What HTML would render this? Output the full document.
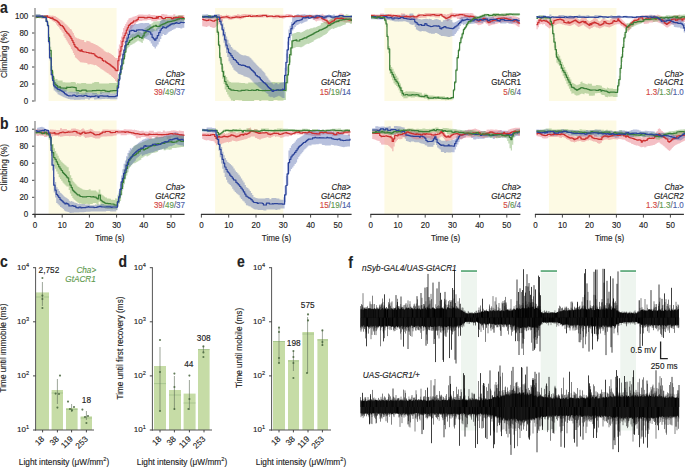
<!DOCTYPE html>
<html><head><meta charset="utf-8"><style>html,body{margin:0;padding:0;background:#fff;}svg{display:block;}text{font-family:"Liberation Sans",sans-serif;stroke-width:0.13px;}</style></head>
<body><svg width="685" height="467" viewBox="0 0 685 467">
<rect width="685" height="467" fill="#fff"/>
<rect x="48.6" y="8" width="68" height="93" fill="#fdfae4"/>
<rect x="48.6" y="120.5" width="68" height="94" fill="#fdfae4"/>
<rect x="215.1" y="8" width="68.2" height="93" fill="#fdfae4"/>
<rect x="215.1" y="120.5" width="68.2" height="94" fill="#fdfae4"/>
<rect x="384.4" y="8" width="68" height="93" fill="#fdfae4"/>
<rect x="384.4" y="120.5" width="68" height="94" fill="#fdfae4"/>
<rect x="548.9" y="8" width="67.5" height="93" fill="#fdfae4"/>
<rect x="548.9" y="120.5" width="67.5" height="94" fill="#fdfae4"/>
<path d="M35 15.9 L36 15.8 L37.1 15.8 L38.2 15.8 L39.2 15.8 L40.3 15.8 L41.3 15.8 L41.3 15.5 L42.4 15.5 L43.4 15.4 L44.5 15.4 L45.6 15.4 L46.6 15.4 L47.7 15.4 L48.7 15.3 L49.8 15.3 L49.8 15.6 L50.8 15.6 L50.8 15.8 L51.8 15.8 L51.8 15.5 L52.9 15.5 L52.9 15.8 L53.9 15.8 L53.9 16 L55 16 L55 16.3 L56 16.3 L56 17 L57.1 17 L57.1 17.7 L58.2 17.7 L58.2 18.5 L59.2 18.5 L59.2 19.2 L60.3 19.2 L60.3 19.9 L61.4 19.9 L61.4 20.6 L62.5 20.6 L62.5 21.6 L63.5 21.6 L63.5 22.6 L64.6 22.6 L64.6 23.7 L65.7 23.7 L65.7 24.6 L66.7 24.6 L66.7 25.6 L67.8 25.6 L67.8 26.7 L68.9 26.7 L68.9 27.8 L69.9 27.8 L69.9 29 L70.9 29 L70.9 29.6 L71.9 29.6 L71.9 31.4 L72.9 31.4 L72.9 33.1 L73.9 33.1 L73.9 35.6 L74.9 35.6 L74.9 37.3 L75.9 37.3 L75.9 37.8 L76.9 37.8 L76.9 38.3 L77.9 38.5 L78.9 38.5 L78.9 39 L79.9 39 L79.9 39.4 L81 39.4 L81 39.7 L82.1 39.7 L82.1 39.9 L83.1 39.9 L83.1 40.1 L84.2 40.1 L84.2 42 L85.3 42 L85.3 42.2 L86.3 42.2 L86.3 40.7 L87.4 40.7 L87.4 41 L88.5 41 L88.5 41.3 L89.6 41.3 L89.6 41.7 L90.6 41.7 L90.6 42.7 L91.7 42.7 L91.7 43.1 L92.8 43.1 L92.8 43.6 L93.8 43.6 L93.8 44 L94.9 44 L94.9 44.4 L96 44.4 L96 45.1 L97 45.1 L97 45.5 L98.1 45.5 L98.1 46.3 L99.2 46.3 L99.2 47 L100.3 47 L100.3 47.7 L101.3 47.7 L101.3 48.5 L102.4 48.5 L102.4 49.2 L103.5 49.2 L103.5 50.5 L104.5 50.5 L104.5 51.2 L105.6 51.2 L105.6 51.9 L106.7 51.9 L106.7 52.5 L107.7 52.5 L107.7 52.2 L108.8 52.2 L108.8 52.9 L109.9 52.9 L109.9 53.5 L110.9 53.5 L110.9 54.3 L112 54.3 L112 55 L113 55 L113 55.8 L114 55.8 L114 57.1 L115.1 57.1 L115.1 57.9 L116.1 57.9 L116.1 58.1 L117.9 58.1 L117.9 48.7 L118.9 48.7 L118.9 44.4 L120 44.4 L120 40.1 L121 40.1 L121 36.5 L122.1 36.5 L122.1 32.2 L123.1 32.2 L123.1 27.9 L124.2 27.9 L124.2 25.9 L125.2 25.9 L125.2 23.9 L126.3 23.9 L126.3 22.3 L127.3 22.3 L127.3 20.3 L128.4 20.3 L128.4 18.5 L129.4 18.5 L129.4 18.1 L130.4 18.1 L130.4 17.8 L131.5 17.8 L131.5 17.5 L132.5 17.5 L132.5 16.7 L133.6 16.7 L133.6 16.4 L134.8 16.4 L134.8 16.1 L136 16.1 L136 15.8 L137.2 15.8 L137.2 15.1 L138.3 15.1 L138.3 14.4 L139.3 14.4 L140.3 14.4 L141.3 14.4 L142.3 14.5 L143.3 14.5 L143.3 14.7 L144.3 14.7 L145.3 14.7 L146.3 14.8 L147.3 14.8 L148.3 14.8 L148.3 14.2 L149.3 14.2 L150.3 14.2 L150.3 15.1 L151.3 15.1 L152.3 15.1 L153.3 15.1 L154.3 15.1 L155.3 15.1 L155.3 15.4 L156.3 15.4 L157.3 15.4 L158.3 15.4 L159.3 15.4 L160.3 15.4 L161.3 15.4 L161.3 14 L162.3 14 L163.3 14 L164.3 14 L164.3 14.6 L165.3 14.6 L166.3 14.6 L167.3 14.6 L167.3 15.5 L168.3 15.5 L169.3 15.5 L170.3 15.5 L171.3 15.5 L172.3 15.5 L173.3 15.5 L173.3 14.3 L174.3 14.3 L175.3 14.3 L175.3 15.8 L176.3 15.8 L177.3 15.8 L178.3 15.8 L178.3 15.1 L179.3 15.1 L180.3 15.2 L181.3 15 L182.3 15.1 L183.3 15.1 L184.3 15.1 L184.3 20.1 L183.3 20.1 L182.3 20.1 L181.3 20.1 L180.3 20.1 L179.3 20.1 L179.3 20.6 L178.3 20.6 L177.3 20.6 L176.3 20.6 L175.3 20.7 L174.3 20.7 L173.3 20.7 L173.3 20.1 L172.3 20.1 L171.3 20.1 L170.3 20.1 L169.3 20.1 L168.3 20.1 L167.3 20.2 L167.3 20.4 L166.3 20.4 L165.3 20.4 L164.3 20.4 L163.3 20.4 L162.3 20.4 L162.3 20.2 L161.3 20.2 L160.3 20.2 L159.3 20.2 L158.3 20.2 L157.3 20.2 L157.3 21.2 L156.3 21.2 L155.3 21.3 L154.3 21.3 L153.3 21.3 L152.3 21.3 L151.3 21.3 L151.3 20 L150.3 20 L149.3 20 L148.3 20 L147.3 20 L147.3 20.5 L146.3 20.5 L145.3 20.6 L144.3 20.6 L143.3 20.6 L142.3 20.6 L142.3 20.9 L141.3 20.9 L140.3 20.9 L139.3 20.9 L138.3 21 L138.3 21.9 L137.2 21.9 L137.2 22.5 L136 22.5 L136 23.9 L134.8 23.9 L134.8 25.2 L133.6 25.2 L133.6 26.5 L132.5 26.5 L132.5 28.2 L131.5 28.2 L131.5 29.4 L130.4 29.4 L130.4 30.7 L129.4 30.7 L129.4 32 L128.4 32 L128.4 34.8 L127.3 34.8 L127.3 37.5 L126.3 37.5 L126.3 40.6 L125.2 40.6 L125.2 43.3 L124.2 43.3 L124.2 45.3 L123.1 45.3 L123.1 50.2 L122.1 50.2 L122.1 55.2 L121 55.2 L121 60.2 L120 60.2 L120 65.5 L118.9 65.5 L118.9 70.4 L117.9 70.4 L117.9 81.9 L116.1 81.9 L116.1 81 L115.1 81 L115.1 78.9 L114 78.9 L114 78 L113 78 L113 77.1 L112 77.1 L112 76.2 L110.9 76.2 L110.9 75.1 L109.9 75.1 L109.9 74.4 L108.8 74.4 L108.8 73.6 L107.7 73.6 L107.7 73 L106.7 73 L106.7 72.2 L105.6 72.2 L105.6 71.5 L104.5 71.5 L104.5 70.8 L103.5 70.8 L103.5 70 L102.4 70 L102.4 69.3 L101.3 69.3 L101.3 68.7 L100.3 68.7 L100.3 67.7 L99.2 67.7 L99.2 67 L98.1 67 L98.1 66.3 L97 66.3 L97 65.6 L96 65.6 L96 64.9 L94.9 64.9 L94.9 65.2 L93.8 65.2 L93.8 64.8 L92.8 64.8 L92.8 64.5 L91.7 64.5 L91.7 64.2 L90.6 64.2 L90.6 63.9 L89.6 63.9 L89.6 64.6 L88.5 64.6 L88.5 64.2 L87.4 64.2 L87.4 63 L86.3 63 L85.3 62.8 L84.2 62.7 L83.1 62.5 L82.1 62.4 L81 62.2 L79.9 62.2 L79.9 61.2 L78.9 61.2 L78.9 60.2 L77.9 60.2 L77.9 59.2 L76.9 59.2 L76.9 58.2 L75.9 58.2 L75.9 57.4 L74.9 57.4 L74.9 55.1 L73.9 55.1 L73.9 52.9 L72.9 52.9 L72.9 50.6 L71.9 50.6 L71.9 48.9 L70.9 48.9 L70.9 46.6 L69.9 46.6 L69.9 45.1 L68.9 45.1 L68.9 43.4 L67.8 43.4 L67.8 41.6 L66.7 41.6 L66.7 39.8 L65.7 39.8 L65.7 38 L64.6 38 L64.6 36.2 L63.5 36.2 L63.5 32.9 L62.5 32.9 L62.5 31.5 L61.4 31.5 L61.4 30 L60.3 30 L60.3 28.6 L59.2 28.6 L59.2 27.1 L58.2 27.1 L58.2 25.9 L57.1 25.9 L57.1 24.5 L56 24.5 L56 23 L55 23 L55 22.1 L53.9 22.1 L53.9 21.6 L52.9 21.6 L52.9 20.7 L51.8 20.7 L51.8 19.8 L50.8 19.8 L50.8 18.9 L49.8 18.9 L49.8 17.9 L48.7 17.9 L47.7 18 L47.7 18.6 L46.6 18.6 L45.6 18.6 L44.5 18.7 L43.4 18.7 L42.4 18.7 L41.3 18.7 L41.3 17.6 L40.3 17.6 L39.2 17.6 L38.2 17.6 L37.1 17.6 L36 17.7 L35 17.7Z" fill="rgba(228,95,110,0.4)"/>
<path d="M35 14.5 L36 14.5 L37 14.5 L38 14.5 L39 14.5 L40 14.5 L41 14.5 L41 16.2 L42 16.2 L43 16.2 L44 16.2 L44 15 L45 15 L46.2 15 L46.2 18.5 L47.5 18.5 L47.5 22 L48.5 22 L48.5 34.1 L49.5 34.1 L49.5 46.8 L51.2 46.8 L51.2 65.9 L52.5 65.9 L52.5 71.6 L53.7 71.6 L53.7 77.7 L55 77.7 L55 79.2 L56.2 79.2 L56.2 78.9 L57.5 78.9 L57.5 80.4 L58.5 80.5 L59.5 80.5 L60.5 80.6 L61.6 80.6 L62.6 80.6 L62.6 82.2 L63.6 82.3 L64.7 82.3 L65.7 82.4 L66.7 82.4 L67.7 82.4 L68.8 82.4 L69.8 82.5 L70.8 82.5 L70.8 81.9 L71.8 81.9 L72.9 81.9 L73.9 82 L74.9 82 L74.9 82.5 L76.2 82.5 L76.2 84.2 L77.2 84.2 L77.2 83.1 L78.2 83.1 L78.2 83.5 L79.2 83.5 L80.2 83.5 L81.2 83.5 L81.2 82.9 L82.2 82.9 L83.2 82.9 L84.2 82.9 L85.2 82.9 L86.2 82.9 L86.2 83.7 L87.2 83.7 L88.2 83.7 L89.2 83.7 L90.2 83.7 L91.2 83.7 L92.2 83.7 L92.2 82.7 L93.2 82.7 L94.2 82.7 L94.2 81.9 L95.2 81.9 L96.2 81.9 L97.1 81.9 L98.1 81.9 L99.1 81.9 L99.1 83.4 L100.1 83.4 L101.1 83.4 L102.1 83.4 L103.1 83.4 L104.1 83.4 L105.1 83.4 L106.1 83.4 L107.1 83.4 L108.1 83.4 L109.1 83.4 L109.1 82.9 L110.1 82.9 L111.1 83 L112.1 83 L113.1 83 L114.1 83 L115.1 83 L116.1 83 L116.1 82.8 L117.2 82.8 L117.2 78.3 L118.3 78.3 L118.3 74 L119.4 74 L119.4 69.5 L120.6 69.5 L120.6 65 L121.9 65 L121.9 59.7 L123.1 59.7 L123.1 54.5 L124.5 54.5 L124.5 46.9 L125.9 46.9 L125.9 39.7 L127.1 39.7 L127.1 38.3 L128.4 38.3 L128.4 37 L129.6 37 L129.6 35.7 L130.6 35.7 L130.6 34.7 L131.6 34.7 L131.6 34.1 L132.6 34.1 L132.6 33.5 L133.6 33.5 L133.6 34.2 L134.6 34.2 L134.6 33.5 L135.6 33.5 L135.6 32.8 L136.6 32.8 L136.6 32.2 L137.6 32.2 L137.6 30.6 L138.6 30.6 L138.6 31.4 L139.6 31.4 L139.6 32.1 L140.6 32.1 L140.6 32.8 L141.6 32.8 L141.6 33.2 L142.8 33.2 L142.8 30.9 L144.1 30.9 L144.1 28.6 L145.1 28.6 L145.1 27.7 L146.2 27.7 L146.2 26.9 L147.2 26.9 L147.2 26.1 L148.3 26.1 L148.3 25.7 L149.3 25.7 L149.3 24.8 L150.3 24.8 L150.3 24.2 L151.3 24.2 L151.3 23.5 L152.3 23.5 L152.3 22.8 L153.3 22.8 L153.3 21.6 L154.4 21.5 L155.4 21.4 L156.5 21.4 L157.5 21.3 L158.6 21.3 L159.6 21.3 L159.6 21 L160.6 21 L160.6 20.6 L161.6 20.6 L161.6 20.3 L162.6 20.3 L162.6 19.2 L163.9 19.2 L163.9 18.7 L165.3 18.9 L166.5 18.9 L166.5 18.3 L167.8 18.3 L167.8 17.8 L168.8 17.6 L169.8 17.5 L170.8 17.5 L170.8 18 L171.8 17.8 L172.8 17.8 L172.8 17.6 L173.8 17.6 L173.8 16.4 L174.8 16.4 L174.8 16.1 L175.8 16.1 L175.8 15.9 L177 15.7 L178.3 15.5 L179.5 15.5 L179.5 15 L180.7 15.2 L181.9 15.4 L183.1 15.4 L183.1 17.1 L184.3 17.3 L184.3 22.4 L184.3 21.7 L183.1 21.7 L181.9 21.7 L180.7 21.8 L179.5 21.8 L179.5 22.1 L178.3 22.1 L178.3 22.4 L177 22.4 L177 22.7 L175.8 22.7 L175.8 23.1 L174.8 23.1 L174.8 25.1 L173.8 25.1 L173.8 25.5 L172.8 25.5 L172.8 24.9 L171.8 24.9 L171.8 25.2 L170.8 25.2 L170.8 25.4 L169.8 25.4 L169.8 25.7 L168.8 25.7 L168.8 25.9 L167.8 25.9 L166.5 26 L166.5 26.7 L165.3 26.7 L165.3 27.4 L163.9 27.4 L163.9 28.1 L162.6 28.1 L162.6 27.8 L161.6 27.8 L161.6 28.2 L160.6 28.2 L160.6 28.6 L159.6 28.6 L159.6 29.1 L158.6 29.1 L157.5 29.2 L157.5 30.7 L156.5 30.7 L155.4 30.9 L154.4 31 L154.4 31.2 L153.3 31.2 L153.3 31.9 L152.3 31.9 L152.3 32.6 L151.3 32.6 L151.3 31.8 L150.3 31.8 L150.3 32.5 L149.3 32.5 L149.3 34.7 L148.3 34.7 L148.3 35.6 L147.2 35.6 L147.2 36.5 L146.2 36.5 L146.2 37.3 L145.1 37.3 L145.1 38.2 L144.1 38.2 L144.1 40.6 L142.8 40.6 L142.8 43 L141.6 43 L141.6 42.3 L140.6 42.3 L140.6 41.6 L139.6 41.6 L139.6 41.3 L138.6 41.3 L138.6 40.6 L137.6 40.6 L137.6 41.3 L136.6 41.3 L136.6 42 L135.6 42 L135.6 42.7 L134.6 42.7 L134.6 43.4 L133.6 43.4 L133.6 43.7 L132.6 43.7 L132.6 44.4 L131.6 44.4 L131.6 45 L130.6 45 L130.6 45.6 L129.6 45.6 L129.6 47 L128.4 47 L128.4 48.3 L127.1 48.3 L127.1 49.7 L125.9 49.7 L125.9 56.8 L124.5 56.8 L124.5 64 L123.1 64 L123.1 69.2 L121.9 69.2 L121.9 74.5 L120.6 74.5 L120.6 79.4 L119.4 79.4 L119.4 84.4 L118.3 84.4 L118.3 89 L117.2 89 L117.2 93.7 L116.1 93.7 L115.1 93.7 L114.1 93.7 L114.1 93.5 L113.1 93.5 L112.1 93.5 L111.1 93.3 L110.1 93.3 L109.1 93.3 L108.1 93.3 L107.1 93.3 L106.1 93.3 L105.1 93.1 L104.1 93.1 L103.1 93.1 L102.1 93.1 L102.1 94.1 L101.1 94.1 L100.1 94.1 L99.1 94.1 L98.1 94.1 L98.1 94.4 L97.1 94.4 L96.2 94.4 L95.2 94.4 L94.2 94.4 L93.2 94.4 L92.2 94.4 L92.2 92.9 L91.2 92.9 L90.2 92.9 L89.2 92.9 L89.2 93.3 L88.2 93.3 L87.2 93.3 L87.2 94.7 L86.2 94.7 L85.2 94.7 L84.2 94.7 L83.2 94.7 L82.2 94.7 L81.2 94.7 L81.2 93.9 L80.2 93.9 L79.2 93.9 L78.2 93.9 L78.2 94.6 L77.2 94.6 L77.2 95.1 L76.2 95.1 L76.2 92.7 L74.9 92.7 L73.9 92.7 L73.9 92.5 L72.9 92.5 L71.8 92.5 L70.8 92.5 L69.8 92.6 L68.8 92.6 L67.7 92.6 L67.7 91.3 L66.7 91.3 L65.7 91.3 L65.7 92 L64.7 92 L63.6 92 L63.6 91.3 L62.6 91.3 L61.6 91.3 L61.6 91.7 L60.5 91.7 L59.5 91.7 L58.5 91.7 L57.5 91.7 L57.5 90.2 L56.2 90.2 L56.2 88.6 L55 88.6 L55 88.4 L53.7 88.4 L53.7 82.2 L52.5 82.2 L52.5 75.4 L51.2 75.4 L51.2 54.6 L49.5 54.6 L49.5 40 L48.5 40 L48.5 27.1 L47.5 27.1 L47.5 22.4 L46.2 22.4 L46.2 17.7 L45 17.7 L45 18.2 L44 18.2 L43 18.2 L42 18.2 L41 18.2 L40 18.2 L39 18.2 L39 17.9 L38 17.9 L37 17.9 L37 18.6 L36 18.6 L35 18.6Z" fill="rgba(115,170,90,0.45)"/>
<path d="M35 14.2 L36 14.2 L37 14.2 L38 14.2 L39 14.2 L40 14.2 L40 15.3 L41 15.3 L42 15.3 L43 15.3 L44 15.3 L45 15.3 L46.2 15.3 L46.2 19.4 L47.5 19.4 L47.5 22.9 L48.5 22.9 L48.5 37.5 L49.5 37.5 L49.5 53.2 L51.2 53.2 L51.2 69.9 L52.5 69.9 L52.5 75.1 L53.7 75.1 L53.7 80.8 L55 80.8 L55 82 L56.2 82 L56.2 83.2 L57.5 83.2 L57.5 85 L58.5 85 L58.5 85.7 L59.5 85.7 L59.5 86.4 L60.5 86.4 L60.5 87 L61.5 87 L61.5 87.7 L62.5 87.8 L63.4 87.8 L63.4 88.5 L64.4 88.5 L64.4 89.2 L65.4 89.2 L65.4 90 L66.4 90 L66.4 90.7 L67.4 90.7 L67.4 92.2 L68.5 92.3 L69.6 92.3 L69.6 91.6 L70.7 91.7 L71.7 91.7 L72.8 91.8 L73.9 91.9 L74.9 91.8 L75.9 91.8 L76.9 91.8 L77.9 91.9 L79 91.9 L79 93.6 L80 93.6 L81 93.6 L82 93.6 L83 93.6 L84 93.6 L85 93.6 L85 92.5 L86 92.5 L87 92.5 L88 92.7 L89 92.7 L90 92.7 L91 92.8 L92 92.8 L93 92.8 L94 92.9 L95 92.9 L96 92.9 L97 92.9 L97 93.9 L98 93.9 L99 93.9 L100 93.9 L100 92.3 L101.1 92.3 L102.1 92.3 L103.1 92.3 L104.1 92.4 L105.1 92.4 L106.1 92.4 L107.1 92.4 L108.1 92.3 L109.1 92.3 L110.1 92.3 L110.1 93.5 L111.1 93.5 L112.1 93.5 L113.1 93.5 L114.1 93.5 L115.1 93.5 L116.1 93.5 L116.1 92.6 L117.4 92.6 L117.4 83.4 L118.6 83.4 L118.6 74.2 L119.7 74.2 L119.7 66.3 L120.8 66.3 L120.8 59.6 L121.9 59.6 L121.9 52.7 L122.9 52.7 L122.9 49.4 L123.9 49.4 L123.9 45.1 L124.9 45.1 L124.9 40.8 L125.9 40.8 L125.9 36.5 L127.1 36.5 L127.1 32.5 L128.4 32.5 L128.4 29 L129.6 29 L129.6 25.5 L131.1 25.5 L131.1 25 L132.1 25 L133.2 25 L134.2 25 L134.2 24.1 L135.3 24.1 L136.3 24.1 L137.4 24 L138.4 24 L138.4 23.6 L139.5 23.6 L139.5 23.2 L140.5 23.2 L140.5 22.9 L141.6 23 L142.6 23.1 L143.6 23.2 L144.6 23.2 L144.6 22.9 L145.6 23 L146.8 23 L148.1 23 L149.3 23 L149.3 24.3 L150.7 24.3 L150.7 26.5 L152.1 26.5 L152.1 27.7 L153.3 27.7 L153.3 29.1 L154.6 29.1 L154.6 30.5 L155.9 30.5 L155.9 28.5 L157.3 28.5 L157.3 26.2 L158.7 26.2 L158.7 23.6 L160.1 23.6 L160.1 21.1 L161.3 21.1 L161.3 19.9 L162.6 19.9 L162.6 18.9 L163.9 18.9 L163.9 19.7 L165.3 19.7 L165.3 20.5 L166.5 20.5 L166.5 20.2 L167.8 20.1 L168.8 19.9 L169.9 19.7 L170.9 19.7 L170.9 19.3 L172 19.3 L172 18.8 L173 18.8 L173 18.4 L174.4 18.4 L174.4 17.2 L175.8 17.2 L175.8 16.5 L177 16.5 L177 17 L178.3 17 L178.3 17.5 L179.3 17.6 L180.3 17.6 L180.3 18.4 L181.3 18.5 L182.3 18.5 L182.3 19.4 L183.3 19.5 L184.3 19.7 L184.3 28.2 L184.3 27.8 L183.3 27.8 L182.3 27.8 L182.3 28.4 L181.3 28.4 L180.3 28.4 L180.3 28 L179.3 28 L178.3 28 L178.3 27.7 L177 27.7 L175.8 27.8 L175.8 28.7 L174.4 28.7 L174.4 29.5 L173 29.5 L173 30.1 L172 30.1 L172 30.7 L170.9 30.7 L170.9 31.3 L169.9 31.3 L169.9 31.8 L168.8 31.8 L168.8 32.6 L167.8 32.6 L167.8 33.8 L166.5 33.8 L166.5 35 L165.3 35 L163.9 35 L163.9 34 L162.6 34 L162.6 36 L161.3 36 L161.3 39.1 L160.1 39.1 L160.1 41.8 L158.7 41.8 L158.7 44.4 L157.3 44.4 L157.3 46.4 L155.9 46.4 L155.9 48.4 L154.6 48.4 L154.6 47 L153.3 47 L153.3 45.8 L152.1 45.8 L152.1 43.5 L150.7 43.5 L150.7 41.2 L149.3 41.2 L149.3 40 L148.1 40 L148.1 39.5 L146.8 39.5 L146.8 39 L145.6 39 L145.6 38.5 L144.6 38.5 L144.6 38 L143.6 38 L143.6 37.4 L142.6 37.4 L141.6 37.5 L140.5 37.4 L139.5 37.4 L138.4 37.3 L137.4 37.2 L136.3 37.3 L135.3 37.3 L134.2 37.3 L133.2 37.3 L132.1 37.4 L131.1 37.4 L131.1 37.9 L129.6 37.9 L129.6 41.4 L128.4 41.4 L128.4 45 L127.1 45 L127.1 48.5 L125.9 48.5 L125.9 52.8 L124.9 52.8 L124.9 56.5 L123.9 56.5 L123.9 60.9 L122.9 60.9 L122.9 65.5 L121.9 65.5 L121.9 72.4 L120.8 72.4 L120.8 79.1 L119.7 79.1 L119.7 85.1 L118.6 85.1 L118.6 92.2 L117.4 92.2 L117.4 99.2 L116.1 99.2 L115.1 99.2 L114.1 99.3 L113.1 99.3 L112.1 99.3 L111.1 99.2 L110.1 99.2 L110.1 98.9 L109.1 98.9 L108.1 98.9 L107.1 98.9 L107.1 98.7 L106.1 98.7 L105.1 98.7 L105.1 99.1 L104.1 99.1 L103.1 99.1 L102.1 99.1 L101.1 99.2 L100 99.3 L99 99.3 L98 99.3 L97 99.3 L96 99.5 L95 99.5 L94 99.5 L94 98.3 L93 98.3 L92 98.3 L91 98.3 L90 98.4 L90 99.4 L89 99.4 L88 99.4 L88 98.8 L87 98.8 L86 98.8 L85 98.8 L85 99.6 L84 99.6 L83 99.6 L82 99.6 L81 99.6 L80 99.7 L79 99.7 L77.9 99.7 L76.9 99.8 L75.9 99.8 L74.9 99.9 L73.9 99.8 L73.9 99.5 L72.8 99.5 L71.7 99.4 L70.7 99.4 L69.6 99.3 L69.6 98.9 L68.5 98.9 L67.4 98.8 L67.4 98.3 L66.4 98.3 L65.4 98.1 L65.4 97.6 L64.4 97.6 L64.4 97.2 L63.4 97.2 L63.4 96.7 L62.5 96.7 L62.5 96.3 L61.5 96.3 L61.5 95.8 L60.5 95.8 L60.5 95.3 L59.5 95.3 L59.5 94.8 L58.5 94.8 L58.5 94.3 L57.5 94.3 L57.5 92.4 L56.2 92.4 L56.2 91.4 L55 91.4 L55 90.4 L53.7 90.4 L53.7 84.9 L52.5 84.9 L52.5 78.7 L51.2 78.7 L51.2 60.4 L49.5 60.4 L49.5 43.9 L48.5 43.9 L48.5 27.2 L47.5 27.2 L47.5 22.5 L46.2 22.5 L46.2 17.9 L45 17.9 L44 17.9 L43 17.9 L42 17.8 L41 17.8 L40 17.8 L39 17.8 L38 17.8 L37 17.8 L37 18.1 L36 18.1 L35 18.1Z" fill="rgba(65,90,165,0.38)"/>
<path d="M202.2 16.1 L203.5 16.1 L203.5 16.6 L204.7 16.6 L204.7 17.1 L206 17.1 L206 17.6 L207.2 17.6 L207.2 17.1 L208.5 17.1 L208.5 16.6 L209.7 16.5 L211 16.5 L211 17.1 L212.2 17.1 L212.2 17.6 L213.5 17.6 L213.5 18.2 L214.7 18.2 L214.7 16.4 L216 16.4 L216 15.8 L217.2 15.8 L217.2 15.3 L218.5 15.2 L219.7 15.1 L221 15 L222 15 L222 15.8 L223 15.7 L224 15.7 L225 15.6 L226 15.6 L226 14.6 L227 14.6 L227 14.9 L228 14.9 L228 15.1 L229 15.1 L229 15.4 L229.9 15.4 L229.9 15.7 L230.9 15.7 L230.9 16 L231.9 16 L231.9 15.7 L232.9 15.7 L232.9 15.5 L233.9 15.5 L233.9 15.2 L234.9 15.1 L235.9 15.1 L235.9 14.9 L237.2 14.9 L237.2 14.1 L238.4 14.1 L238.4 14.5 L239.7 14.5 L239.7 14.9 L240.9 14.9 L240.9 14.5 L242.2 14.5 L242.2 14.3 L243.4 14.3 L243.4 13.9 L244.4 13.9 L245.4 13.9 L246.4 13.9 L246.4 14.3 L247.5 14.3 L248.5 14.3 L249.5 14.3 L250.5 14.3 L251.5 14.3 L252.5 14.3 L252.5 14.7 L253.5 14.7 L254.5 14.7 L255.5 14.7 L255.5 15.1 L256.5 15.1 L257.5 15.1 L257.5 14.6 L258.5 14.6 L259.5 14.6 L259.5 14.3 L260.5 14.3 L261.5 14.3 L262.5 14.3 L262.5 14.6 L263.5 14.6 L264.6 14.6 L265.6 14.6 L266.6 14.6 L267.6 14.6 L268.6 14.6 L268.6 15.4 L269.6 15.4 L270.6 15.5 L271.6 15.5 L272.6 15.5 L273.6 15.5 L273.6 14.8 L274.6 14.8 L275.6 14.8 L276.6 14.7 L277.6 14.7 L278.6 14.7 L279.6 14.7 L280.6 14.7 L281.7 14.7 L282.7 14.8 L283.7 14.8 L284.7 14.8 L285.7 14.8 L285.7 14 L286.7 14 L287.7 14 L288.7 14 L289.7 14 L289.7 14.3 L290.7 14.3 L291.7 14.3 L291.7 16.3 L292.7 16.3 L293.7 16.3 L293.7 15.4 L294.7 15.4 L295.7 15.3 L296.7 15.3 L297.8 15.3 L298.8 15.3 L299.8 15.3 L299.8 16.1 L300.8 16.1 L301.8 16.1 L301.8 14.7 L302.8 14.7 L303.8 14.8 L304.8 14.8 L304.8 15.6 L305.8 15.6 L306.8 15.6 L307.8 15.6 L308.8 15.6 L308.8 15.3 L309.8 15.3 L310.8 15.3 L311.8 15.3 L312.8 15.3 L313.8 15.3 L313.8 14.7 L314.8 14.7 L315.8 14.7 L316.8 14.6 L317.8 14.6 L317.8 15.7 L318.8 15.6 L319.8 15.6 L319.8 14.8 L320.8 14.7 L321.8 14.7 L321.8 13.8 L322.8 13.8 L322.8 14.4 L323.8 14.4 L323.8 15 L324.8 15 L324.8 15.6 L325.8 15.6 L325.8 16.2 L327.1 16.2 L327.1 19.2 L328.3 19.2 L328.3 20.8 L329.5 20.8 L329.5 19.8 L330.8 19.8 L330.8 19 L332 19 L332 18.3 L333.3 18.3 L333.3 17.4 L334.5 17.4 L334.5 16.5 L335.8 16.5 L335.8 15.7 L336.8 15.5 L337.8 15.3 L338.8 15.3 L338.8 13.9 L339.8 13.7 L340.8 13.5 L341.8 13.5 L341.8 13.8 L342.8 13.8 L342.8 14.1 L343.8 14.1 L343.8 15.5 L344.8 15.5 L344.8 15.8 L345.8 15.7 L346.8 15.7 L347.9 15.8 L348.9 15.9 L349.9 15.9 L351 16 L352 15.9 L352 22.6 L351 22.5 L349.9 22.4 L348.9 22.3 L347.9 22.2 L346.8 22.1 L346.8 22.8 L345.8 22.8 L345.8 22.5 L344.8 22.5 L344.8 22.2 L343.8 22.2 L343.8 21.8 L342.8 21.8 L342.8 21.5 L341.8 21.5 L340.8 21.5 L339.8 21.7 L339.8 22.6 L338.8 22.6 L337.8 22.7 L336.8 22.9 L335.8 23 L334.5 23 L334.5 23.8 L333.3 23.8 L333.3 24.6 L332 24.6 L332 25.4 L330.8 25.4 L330.8 26.2 L329.5 26.2 L329.5 27 L328.3 27 L328.3 25.8 L327.1 25.8 L327.1 24.2 L325.8 24.2 L325.8 23.6 L324.8 23.6 L324.8 22.9 L323.8 22.9 L323.8 22.3 L322.8 22.3 L322.8 21.7 L321.8 21.7 L321.8 20.5 L320.8 20.5 L319.8 20.5 L318.8 20.6 L317.8 20.7 L316.8 20.8 L316.8 21.4 L315.8 21.4 L315.8 20.7 L314.8 20.7 L314.8 19.9 L313.8 19.9 L313.8 19.2 L312.8 19.2 L312.8 18.5 L311.8 18.5 L311.8 17.8 L310.8 17.8 L310.8 17.4 L309.8 17.4 L308.8 17.4 L307.8 17.4 L307.8 18.7 L306.8 18.7 L305.8 18.7 L304.8 18.7 L304.8 16.9 L303.8 16.9 L302.8 16.9 L301.8 16.9 L300.8 16.9 L300.8 17.5 L299.8 17.5 L298.8 17.5 L297.8 17.5 L296.7 17.5 L295.7 17.5 L294.7 17.5 L293.7 17.6 L292.7 17.6 L291.7 17.6 L291.7 17.4 L290.7 17.4 L289.7 17.4 L288.7 17.4 L287.7 17.4 L286.7 17.4 L285.7 17.5 L284.7 17.5 L284.7 18.4 L283.7 18.4 L282.7 18.4 L281.7 18.4 L281.7 18 L280.6 18 L279.6 18 L278.6 18 L278.6 18.3 L277.6 18.3 L276.6 18.3 L275.6 18.3 L275.6 18.6 L274.6 18.6 L273.6 18.6 L272.6 18.6 L272.6 17.6 L271.6 17.6 L270.6 17.6 L269.6 17.6 L268.6 17.6 L267.6 17.6 L266.6 17.6 L266.6 17.3 L265.6 17.3 L264.6 17.3 L263.5 17.4 L262.5 17.4 L261.5 17.4 L260.5 17.4 L259.5 17.5 L258.5 17.5 L257.5 17.5 L256.5 17.5 L255.5 17.5 L254.5 17.6 L253.5 17.6 L252.5 17.6 L251.5 17.6 L250.5 17.6 L250.5 16.9 L249.5 16.9 L248.5 16.9 L247.5 16.9 L246.4 16.9 L245.4 16.9 L244.4 16.9 L244.4 17.9 L243.4 17.9 L243.4 18.4 L242.2 18.4 L242.2 18.9 L240.9 18.9 L240.9 19.4 L239.7 19.4 L239.7 19 L238.4 19 L238.4 18.8 L237.2 18.8 L237.2 18.5 L235.9 18.5 L234.9 18.6 L234.9 18.9 L233.9 18.9 L233.9 19.3 L232.9 19.3 L231.9 19.4 L231.9 19.8 L230.9 19.8 L229.9 19.7 L229 19.5 L228 19.4 L228 18.8 L227 18.8 L226 18.6 L225 18.8 L224 19 L223 19.1 L223 21.4 L222 21.4 L221 21.6 L221 22.3 L219.7 22.3 L219.7 23.5 L218.5 23.5 L218.5 24.8 L217.2 24.8 L217.2 26.3 L216 26.3 L216 27.2 L214.7 27.2 L214.7 28.1 L213.5 28.1 L213.5 27.7 L212.2 27.7 L212.2 27.3 L211 27.3 L211 26.9 L209.7 26.9 L209.7 25.7 L208.5 25.7 L208.5 26.4 L207.2 26.4 L207.2 27.1 L206 27.1 L206 26.8 L204.7 26.8 L204.7 26.5 L203.5 26.5 L203.5 26.2 L202.2 26.2Z" fill="rgba(228,95,110,0.4)"/>
<path d="M202.2 15.6 L203.3 15.6 L204.3 15.6 L204.3 15.2 L205.3 15.2 L206.3 15.2 L207.3 15.2 L208.3 15.2 L209.4 15.2 L209.4 15.4 L210.4 15.4 L211.4 15.4 L212.4 15.4 L213.4 15.4 L214.5 15.4 L215.5 15.4 L215.5 15 L217.2 15 L217.2 29.4 L218.5 29.4 L218.5 41 L219.7 41 L219.7 52.6 L221 52.6 L221 59.1 L222.2 59.1 L222.2 66.4 L223.5 66.4 L223.5 70.4 L224.7 70.4 L224.7 75.2 L226 75.2 L226 77 L227.2 77 L227.2 79.8 L228.5 79.8 L228.5 81.6 L229.7 81.6 L229.7 82 L230.9 82 L230.9 82.4 L232 82.4 L233 82.4 L234 82.4 L235 82.4 L236 82.6 L237 82.6 L238 82.6 L239 82.6 L239 82.8 L240.1 82.8 L241.1 82.9 L242.1 82.9 L243.1 82.9 L244.1 82.9 L245.1 82.9 L245.1 83.5 L246.1 83.5 L247.1 83.5 L248.2 83.5 L248.2 82.5 L249.2 82.5 L250.2 82.5 L251.2 82.5 L252.2 82.5 L253.2 82.5 L254.2 82.5 L255.3 82.5 L256.3 82.5 L257.3 82.5 L258.3 82.5 L258.3 81.9 L259.3 81.9 L260.3 81.9 L261.3 81.9 L262.3 81.9 L263.4 81.9 L263.4 82.3 L264.4 82.3 L265.4 82.3 L266.4 82.3 L267.4 82.3 L268.4 82.3 L268.4 82.8 L269.4 82.8 L270.4 82.8 L271.5 82.8 L271.5 82.1 L272.5 82.1 L273.5 82.1 L274.5 82.1 L275.5 82.2 L276.5 82.2 L277.5 82.2 L278.5 82.2 L279.6 82.2 L280.6 82.2 L281.6 82.2 L281.6 82.4 L282.6 82.4 L283.6 82.4 L284.6 82.4 L285.9 82.4 L285.9 74.9 L287.1 74.9 L287.1 66.6 L288.4 66.6 L288.4 56.8 L289.6 56.8 L289.6 47.4 L290.9 47.4 L290.9 40.6 L292.1 40.6 L292.1 33.7 L293.4 33.7 L293.4 33.3 L294.6 33.3 L294.6 32.9 L295.9 32.9 L295.9 32.4 L296.8 32.4 L296.8 32 L297.8 32 L298.8 32 L299.8 32 L299.8 32.5 L300.8 32.5 L301.8 32.5 L301.8 32.1 L302.8 32.1 L302.8 31.6 L303.8 31.6 L303.8 31.1 L304.8 31.1 L304.8 30.2 L305.8 30.2 L305.8 29.8 L306.8 29.8 L306.8 29.3 L307.8 29.3 L307.8 29.5 L308.8 29.5 L308.8 29.1 L309.8 29.1 L309.8 28.6 L310.8 28.6 L310.8 28.2 L311.8 28.2 L312.8 28.2 L312.8 27.8 L313.8 27.8 L313.8 27.3 L314.8 27.5 L315.8 27.5 L315.8 27 L316.8 27 L316.8 26.6 L317.8 26.6 L317.8 26.1 L318.8 26.1 L318.8 25.7 L319.8 25.7 L319.8 25.2 L320.8 25.2 L320.8 23.3 L321.8 23.3 L321.8 22.9 L322.8 22.9 L322.8 22.5 L323.8 22.5 L323.8 22.1 L324.8 22.1 L324.8 21.7 L325.8 21.7 L325.8 21.2 L326.8 21.1 L327.8 21.1 L327.8 20.4 L328.8 20.4 L328.8 19.8 L329.8 19.8 L329.8 19.1 L330.8 19.1 L330.8 18.4 L331.8 18.4 L331.8 18.2 L332.8 18.2 L332.8 17.5 L333.8 17.5 L333.8 17.3 L334.8 17.3 L334.8 17 L335.8 17 L335.8 17.5 L336.8 17.5 L336.8 17.2 L337.8 17.2 L337.8 16.9 L338.8 16.9 L338.8 16.6 L339.8 16.6 L339.8 16 L340.8 16 L340.8 15.7 L341.8 15.5 L342.8 15.3 L343.8 15.1 L344.8 15 L345.8 15 L345.8 14.2 L346.8 14.2 L346.8 14.4 L347.9 14.4 L347.9 14.7 L348.9 14.7 L348.9 15 L349.9 15 L349.9 15.2 L351 15.2 L351 15.4 L352 15.4 L352 15.6 L352 23.8 L351 23.8 L349.9 23.7 L349.9 22.8 L348.9 22.8 L347.9 22.8 L346.8 22.7 L345.8 22.7 L345.8 24.5 L344.8 24.5 L344.8 24.8 L343.8 24.8 L343.8 25.1 L342.8 25.1 L342.8 25.6 L341.8 25.6 L341.8 25.9 L340.8 25.9 L340.8 26.4 L339.8 26.4 L339.8 26.8 L338.8 26.8 L337.8 26.7 L337.8 27.2 L336.8 27.2 L336.8 27.7 L335.8 27.7 L335.8 28.1 L334.8 28.1 L334.8 28.6 L333.8 28.6 L333.8 29 L332.8 29 L332.8 28.5 L331.8 28.5 L331.8 29 L330.8 29 L330.8 29.8 L329.8 29.8 L329.8 30.6 L328.8 30.6 L328.8 31.4 L327.8 31.4 L327.8 33 L326.8 33 L326.8 33.9 L325.8 33.9 L325.8 34.5 L324.8 34.5 L324.8 35 L323.8 35 L323.8 35.6 L322.8 35.6 L322.8 36.2 L321.8 36.2 L321.8 37.1 L320.8 37.1 L320.8 37.6 L319.8 37.6 L319.8 38.2 L318.8 38.2 L317.8 38.2 L317.8 38.7 L316.8 38.7 L316.8 39.3 L315.8 39.3 L315.8 39.8 L314.8 39.8 L314.8 40.3 L313.8 40.3 L313.8 41.4 L312.8 41.4 L312.8 41.9 L311.8 41.9 L311.8 42.4 L310.8 42.4 L310.8 43 L309.8 43 L309.8 43.5 L308.8 43.5 L308.8 44.1 L307.8 44.1 L307.8 43.7 L306.8 43.7 L306.8 44.2 L305.8 44.2 L305.8 44.8 L304.8 44.8 L304.8 45.6 L303.8 45.6 L303.8 46.2 L302.8 46.2 L302.8 46.7 L301.8 46.7 L301.8 47.2 L300.8 47.2 L299.8 47.3 L299.8 47 L298.8 47 L297.8 47.1 L296.8 47.1 L295.9 47.1 L295.9 47.6 L294.6 47.6 L294.6 48 L293.4 48 L293.4 48.4 L292.1 48.4 L292.1 55.7 L290.9 55.7 L290.9 62.6 L289.6 62.6 L289.6 72.6 L288.4 72.6 L288.4 83.4 L287.1 83.4 L287.1 91.4 L285.9 91.4 L285.9 100 L284.6 100 L283.6 100 L283.6 100.6 L282.6 100.6 L281.6 100.6 L280.6 100.6 L279.6 100.6 L278.5 100.6 L277.5 100.6 L277.5 100.1 L276.5 100.1 L275.5 100.1 L274.5 100.1 L273.5 100.1 L273.5 100.9 L272.5 100.9 L271.5 100.9 L270.4 100.9 L269.4 100.9 L268.4 100.9 L268.4 100.2 L267.4 100.2 L266.4 100.2 L265.4 100.2 L264.4 100.2 L263.4 100.3 L262.3 100.3 L261.3 100.3 L261.3 101 L260.3 101 L259.3 101 L259.3 100 L258.3 100 L257.3 100 L256.3 100 L255.3 100 L254.2 100 L254.2 101 L253.2 101 L252.2 101 L251.2 101 L250.2 101 L249.2 101 L248.2 101 L247.1 101 L246.1 101 L245.1 101 L244.1 101 L243.1 101 L242.1 101 L242.1 100.2 L241.1 100.2 L240.1 100.2 L239 100.2 L238 100.1 L237 100.1 L236 100.1 L235 100.1 L235 100.9 L234 100.9 L233 100.9 L233 100.4 L232 100.4 L230.9 100.4 L230.9 98.6 L229.7 98.6 L229.7 96.7 L228.5 96.7 L228.5 94.5 L227.2 94.5 L227.2 92 L226 92 L226 89.5 L224.7 89.5 L224.7 84.1 L223.5 84.1 L223.5 78.7 L222.2 78.7 L222.2 69.2 L221 69.2 L221 60.8 L219.7 60.8 L219.7 48.3 L218.5 48.3 L218.5 34.9 L217.2 34.9 L217.2 18.2 L215.5 18.2 L214.5 18.2 L213.4 18.2 L213.4 18.6 L212.4 18.6 L211.4 18.6 L210.4 18.6 L209.4 18.6 L208.3 18.6 L208.3 17.9 L207.3 17.9 L206.3 17.9 L205.3 17.9 L204.3 17.9 L203.3 17.9 L202.2 17.9Z" fill="rgba(115,170,90,0.45)"/>
<path d="M202.2 14.5 L203.3 14.4 L204.3 14.4 L205.3 14.4 L206.3 14.3 L207.3 14.3 L208.3 14.3 L208.3 15.1 L209.3 15.1 L210.4 15 L211.4 15 L212.4 15 L213.4 15 L213.4 15.5 L214.4 15.5 L215.4 15.5 L216.4 15.5 L216.4 14.2 L217.5 14.2 L218.5 14.1 L219.7 14.1 L219.7 16.9 L221 16.9 L221 19.6 L222.2 19.6 L222.2 23.2 L223.5 23.2 L223.5 27.2 L224.7 27.2 L224.7 31.9 L226 31.9 L226 36.5 L227.2 36.5 L227.2 39.8 L228.5 39.8 L228.5 43.2 L229.7 43.2 L229.7 44.7 L230.9 44.7 L230.9 47 L232.2 47 L232.2 48.5 L233.4 48.5 L233.4 50 L234.4 49.8 L235.4 49.8 L235.4 50.6 L236.4 50.6 L236.4 51.4 L237.4 51.4 L237.4 52.1 L238.4 52.1 L238.4 52.9 L239.4 52.9 L239.4 54.1 L240.4 54.1 L240.4 54.5 L241.4 54.5 L241.4 54.9 L242.4 54.9 L242.4 55.2 L243.4 55.2 L243.4 55.6 L244.4 55.6 L244.4 55.2 L245.4 55.2 L245.4 55.6 L246.4 55.6 L246.4 55.9 L247.4 55.9 L247.4 56.2 L248.4 56.2 L248.4 56.5 L249.4 56.5 L249.4 57.6 L250.4 57.6 L250.4 58.3 L251.4 58.3 L251.4 59.5 L252.4 59.5 L252.4 60.6 L253.4 60.6 L253.4 61.7 L254.4 61.7 L254.4 62.7 L255.4 62.7 L255.4 63.7 L256.4 63.7 L256.4 65 L257.4 65 L257.4 66 L258.4 66 L258.4 67 L259.4 67 L259.4 68.2 L260.4 68.2 L260.4 68.5 L261.4 68.5 L261.4 69.7 L262.4 69.7 L262.4 70.9 L263.4 70.9 L263.4 72.1 L264.4 72.1 L264.4 73.3 L265.4 73.3 L265.4 75.4 L266.4 75.4 L266.4 76.5 L267.4 76.5 L267.4 77.7 L268.4 77.7 L268.4 79.5 L269.4 79.5 L269.4 80.5 L270.4 80.5 L270.4 81.8 L271.4 81.8 L271.4 82.7 L272.4 82.7 L272.4 83.6 L273.4 83.6 L273.4 84.6 L274.4 84.6 L274.4 83.2 L275.4 83.2 L276.4 83.1 L277.4 83.1 L277.4 84.3 L278.4 84.3 L279.4 84.3 L279.4 83 L280.4 83 L280.4 82.7 L281.4 82.7 L281.4 82.5 L282.4 82.5 L282.4 82.3 L283.4 82.3 L283.4 82 L284.6 82 L284.6 67.7 L285.9 67.7 L285.9 53.6 L287.1 53.6 L287.1 41.5 L288.4 41.5 L288.4 29.5 L289.6 29.5 L289.6 25.7 L290.9 25.7 L290.9 21.9 L292.1 21.9 L292.1 17.4 L293.4 17.4 L293.4 16.5 L294.6 16.5 L294.6 15.7 L295.9 15.7 L295.9 14.8 L296.9 14.8 L296.9 14.3 L298 14.2 L299.1 14.2 L299.1 14.8 L300.1 14.7 L301.2 14.6 L302.3 14.5 L303.3 14.4 L304.4 14.3 L305.5 14.3 L305.5 14.8 L306.5 14.7 L307.6 14.7 L308.7 14.7 L309.8 14.6 L310.8 14.8 L311.8 14.8 L312.8 14.8 L313.8 14.9 L314.8 14.9 L315.9 14.7 L316.9 14.7 L317.9 14.7 L318.9 14.7 L319.9 14.7 L320.9 14.7 L321.9 14.7 L321.9 15.5 L322.9 15.5 L323.9 15.5 L324.9 15.5 L324.9 14.9 L325.9 14.9 L326.9 14.9 L327.9 14.9 L327.9 14.5 L328.9 14.6 L329.9 14.6 L329.9 15.1 L330.9 15.1 L331.9 15.1 L332.9 15.1 L332.9 14.5 L333.9 14.5 L334.9 14.5 L334.9 15.5 L335.9 15.5 L336.9 15.5 L338 15.5 L339 15.5 L340 15.5 L340 15.3 L341 15.3 L342 15.3 L343 15.3 L344 15.3 L344 16.3 L345 16.3 L346 16.3 L347 16.3 L348 16.4 L349 16.5 L350 16.5 L350 15.4 L351 15.4 L352 15.4 L352 16.6 L352 19.5 L352 18.3 L351 18.3 L350 18.3 L350 17.7 L349 17.7 L348 17.8 L347 17.8 L346 17.8 L345 17.8 L344 17.8 L344 18.4 L343 18.4 L342 18.4 L341 18.4 L340 18.4 L340 18 L339 18 L338 18.1 L338 18.7 L336.9 18.7 L335.9 18.8 L334.9 18.8 L333.9 18.8 L332.9 18.8 L331.9 18.8 L331.9 18.6 L330.9 18.6 L329.9 18.6 L328.9 18.6 L327.9 18.6 L326.9 18.6 L325.9 18.6 L325.9 19.3 L324.9 19.3 L323.9 19.3 L322.9 19.3 L321.9 19.2 L320.9 19.2 L320.9 18.3 L319.9 18.3 L318.9 18.3 L318.9 18.8 L317.9 18.8 L316.9 18.8 L315.9 18.8 L314.8 18.8 L314.8 19.7 L313.8 19.7 L312.8 19.7 L312.8 18 L311.8 18 L310.8 18 L310.8 18.5 L309.8 18.5 L309.8 19.1 L308.7 19.1 L308.7 19.6 L307.6 19.6 L307.6 21.2 L306.5 21.2 L306.5 21.8 L305.5 21.8 L304.4 21.9 L304.4 22.4 L303.3 22.4 L303.3 23.1 L302.3 23.1 L302.3 23.7 L301.2 23.7 L301.2 23.2 L300.1 23.2 L300.1 23.8 L299.1 23.8 L299.1 24.4 L298 24.4 L298 25 L296.9 25 L296.9 25.5 L295.9 25.5 L295.9 27.1 L294.6 27.1 L294.6 28.8 L293.4 28.8 L293.4 30.4 L292.1 30.4 L292.1 35.8 L290.9 35.8 L290.9 40.4 L289.6 40.4 L289.6 44.9 L288.4 44.9 L288.4 57.9 L287.1 57.9 L287.1 70.7 L285.9 70.7 L285.9 84.3 L284.6 84.3 L284.6 97.9 L283.4 97.9 L282.4 97.9 L282.4 97.5 L281.4 97.5 L281.4 96.7 L280.4 96.7 L280.4 96.3 L279.4 96.3 L279.4 95.8 L278.4 95.8 L278.4 96.3 L277.4 96.3 L277.4 96.7 L276.4 96.7 L276.4 97.1 L275.4 97.1 L275.4 97.4 L274.4 97.4 L274.4 97.9 L273.4 97.9 L273.4 97.3 L272.4 97.3 L272.4 96.8 L271.4 96.8 L271.4 97.3 L270.4 97.3 L270.4 96.8 L269.4 96.8 L269.4 96.2 L268.4 96.2 L268.4 94.1 L267.4 94.1 L267.4 93.3 L266.4 93.3 L266.4 92.5 L265.4 92.5 L265.4 91.6 L264.4 91.6 L264.4 90.8 L263.4 90.8 L263.4 90.4 L262.4 90.4 L262.4 89.6 L261.4 89.6 L261.4 88.8 L260.4 88.8 L260.4 88 L259.4 88 L259.4 87.3 L258.4 87.3 L258.4 86.3 L257.4 86.3 L257.4 85.3 L256.4 85.3 L256.4 84.6 L255.4 84.6 L255.4 83.7 L254.4 83.7 L254.4 82.7 L253.4 82.7 L253.4 81.7 L252.4 81.7 L252.4 80.6 L251.4 80.6 L251.4 79.5 L250.4 79.5 L250.4 78.4 L249.4 78.4 L249.4 77.7 L248.4 77.7 L248.4 77.4 L247.4 77.4 L247.4 77.1 L246.4 77.1 L246.4 76.8 L245.4 76.8 L245.4 76.5 L244.4 76.5 L244.4 76.3 L243.4 76.3 L243.4 75.3 L242.4 75.3 L242.4 74.9 L241.4 74.9 L241.4 74.6 L240.4 74.6 L240.4 74.3 L239.4 74.3 L239.4 74 L238.4 74 L238.4 73.3 L237.4 73.3 L237.4 71.9 L236.4 71.9 L236.4 71.2 L235.4 71.2 L235.4 70.5 L234.4 70.5 L234.4 69.7 L233.4 69.7 L233.4 67.5 L232.2 67.5 L232.2 65.2 L230.9 65.2 L230.9 63.4 L229.7 63.4 L229.7 61.2 L228.5 61.2 L228.5 57.1 L227.2 57.1 L227.2 53 L226 53 L226 47.6 L224.7 47.6 L224.7 42.8 L223.5 42.8 L223.5 36.5 L222.2 36.5 L222.2 29.6 L221 29.6 L221 24.1 L219.7 24.1 L219.7 18.6 L218.5 18.6 L217.5 18.6 L216.4 18.5 L216.4 18.3 L215.4 18.3 L214.4 18.3 L213.4 18.3 L212.4 18.2 L211.4 18.2 L211.4 18.6 L210.4 18.6 L209.3 18.6 L208.3 18.5 L207.3 18.5 L206.3 18.5 L205.3 18.4 L205.3 17.6 L204.3 17.6 L203.3 17.6 L202.2 17.6Z" fill="rgba(65,90,165,0.38)"/>
<path d="M371 14 L372 14 L373 14 L374 13.9 L375 13.9 L375 14.6 L376 14.6 L377 14.6 L378 14.6 L379 14.5 L380 14.5 L380 13.5 L381 13.5 L382 13.4 L383 13.4 L384 13.4 L384 14.7 L385 14.7 L386 14.6 L387 14.6 L388 14.6 L388 13.9 L389 13.9 L390 13.9 L391 13.8 L392 13.8 L392 14.3 L393 14.4 L394 14.5 L395 14.6 L396 14.7 L397 14.7 L397 14.4 L398 14.5 L399 14.6 L399.9 14.7 L400.9 14.7 L400.9 13.3 L401.9 13.3 L402.9 13.4 L403.9 13.5 L404.9 13.5 L404.9 14.7 L405.9 14.8 L406.9 14.8 L406.9 14.6 L407.9 14.7 L408.9 14.8 L409.9 14.8 L410.9 14.8 L410.9 16.1 L411.9 16 L412.9 15.9 L413.9 15.8 L414.9 15.7 L415.9 15.6 L417.2 15.6 L417.2 14 L418.4 14 L418.4 13.2 L419.4 13.2 L419.4 14.6 L420.5 14.5 L421.5 14.5 L422.5 14.5 L423.5 14.5 L424.5 14.5 L424.5 13.1 L425.6 13.1 L426.6 13.1 L427.6 13 L428.6 13 L429.7 13 L430.7 13 L430.7 13.3 L431.7 13.3 L432.7 13.3 L433.7 13.3 L434.8 13.2 L435.8 13.2 L436.8 13.3 L437.8 13.3 L438.8 13.3 L439.9 13.2 L440.9 13.2 L441.9 13.2 L441.9 13.8 L442.9 13.8 L442.9 14.2 L443.9 14.2 L443.9 13.9 L444.9 13.9 L444.9 14.3 L445.9 14.3 L445.9 14.7 L446.9 14.7 L446.9 14.2 L447.9 14.1 L448.9 14.1 L448.9 13.7 L449.9 13.7 L449.9 13.2 L450.9 13.2 L450.9 12.7 L451.9 12.7 L452.9 12.7 L452.9 13.1 L453.9 13.1 L454.9 13.1 L455.9 13.2 L456.9 13.2 L457.9 13.2 L458.9 13.2 L458.9 13 L459.9 13 L460.9 13 L461.9 13.1 L462.9 13.1 L463.9 13.1 L464.9 13.1 L464.9 12.9 L465.9 12.9 L466.9 13 L468 13.1 L469.1 13.3 L470.1 13.3 L470.1 13 L471.2 13.1 L472.3 13.2 L473.3 13.2 L473.3 14.5 L474.3 14.5 L474.3 15.2 L475.3 15.2 L475.3 16 L476.3 16 L476.3 16.7 L477.3 16.7 L477.3 17.5 L478.3 17.5 L478.3 18.2 L479.3 18.2 L479.3 16.9 L480.3 16.9 L480.3 16.4 L481.3 16.4 L481.3 15.9 L482.3 15.8 L483.3 15.8 L483.3 15.3 L484.3 15.3 L484.3 15.9 L485.3 15.9 L485.3 16.8 L486.3 16.8 L486.3 17.5 L487.3 17.5 L487.3 18.1 L488.3 18.1 L488.3 18.7 L489.3 18.7 L489.3 17.8 L490.3 17.8 L490.3 17.4 L491.3 17.4 L491.3 17 L492.3 17 L492.3 16.1 L493.3 16.1 L493.3 15.7 L494.3 15.7 L494.3 16 L495.3 16 L495.3 15.7 L496.3 15.7 L496.3 15.4 L497.3 15.4 L497.3 15.2 L498.3 15.2 L498.3 14.9 L499.4 14.8 L500.4 14.8 L500.4 15.1 L501.5 15 L502.6 15 L502.6 14.3 L503.7 14.2 L504.7 14.1 L505.8 14 L506.8 14 L506.8 14.2 L507.8 14.2 L507.8 15.1 L508.8 15.1 L508.8 15.4 L509.8 15.4 L509.8 15.7 L510.8 15.7 L510.8 16 L511.8 16 L511.8 16.3 L512.8 16.3 L512.8 15.9 L513.8 15.9 L513.8 16.2 L514.8 16.2 L514.8 16.6 L515.8 16.6 L515.8 16.9 L517 17 L518.3 17 L518.3 17.8 L519.5 17.8 L519.5 18.6 L519.5 27.9 L519.5 27.1 L518.3 27.1 L518.3 26.2 L517 26.2 L517 25.4 L515.8 25.4 L515.8 24.6 L514.8 24.6 L514.8 24.2 L513.8 24.2 L512.8 24.2 L512.8 23.8 L511.8 23.8 L511.8 23.4 L510.8 23.4 L510.8 23.1 L509.8 23.1 L509.8 22.8 L508.8 22.8 L507.8 22.9 L507.8 22.6 L506.8 22.6 L506.8 22.3 L505.8 22.3 L505.8 21.9 L504.7 21.9 L503.7 22 L502.6 22.1 L501.5 22.1 L501.5 22.9 L500.4 22.9 L499.4 23 L498.3 23 L498.3 23.5 L497.3 23.5 L497.3 23.8 L496.3 23.8 L496.3 24 L495.3 24 L495.3 24.2 L494.3 24.2 L494.3 24.5 L493.3 24.5 L492.3 24.5 L492.3 24.9 L491.3 24.9 L491.3 25.3 L490.3 25.3 L490.3 25.7 L489.3 25.7 L489.3 26 L488.3 26 L488.3 24.5 L487.3 24.5 L487.3 23.9 L486.3 23.9 L486.3 23.2 L485.3 23.2 L485.3 22.5 L484.3 22.5 L484.3 21.9 L483.3 21.9 L483.3 23.8 L482.3 23.8 L482.3 24.3 L481.3 24.3 L481.3 24.7 L480.3 24.7 L479.3 24.8 L479.3 25.3 L478.3 25.3 L478.3 24.7 L477.3 24.7 L477.3 23.8 L476.3 23.8 L475.3 23.6 L475.3 22.7 L474.3 22.7 L474.3 20.7 L473.3 20.7 L473.3 20.4 L472.3 20.4 L472.3 20.1 L471.2 20.1 L471.2 19.1 L470.1 19.1 L470.1 18.8 L469.1 18.8 L469.1 18.5 L468 18.5 L468 18.2 L466.9 18.2 L466.9 17.9 L465.9 17.9 L464.9 18 L463.9 18 L462.9 18.1 L462.9 18.9 L461.9 18.9 L460.9 18.9 L459.9 18.9 L458.9 18.9 L457.9 19 L456.9 19 L456.9 17.4 L455.9 17.4 L454.9 17.5 L453.9 17.5 L452.9 17.5 L451.9 17.5 L451.9 18.5 L450.9 18.5 L450.9 19 L449.9 19 L449.9 19.6 L448.9 19.6 L448.9 20.8 L447.9 20.8 L447.9 21.3 L446.9 21.3 L446.9 20.6 L445.9 20.6 L445.9 19.8 L444.9 19.8 L444.9 18 L443.9 18 L443.9 17.2 L442.9 17.2 L442.9 16.4 L441.9 16.4 L441.9 15.6 L440.9 15.6 L439.9 15.6 L439.9 17.4 L438.8 17.4 L437.8 17.4 L436.8 17.4 L435.8 17.4 L434.8 17.5 L434.8 16.8 L433.7 16.8 L432.7 16.8 L431.7 16.8 L430.7 16.9 L429.7 16.9 L429.7 16.4 L428.6 16.4 L427.6 16.4 L426.6 16.4 L426.6 17.7 L425.6 17.7 L424.5 17.8 L423.5 17.8 L422.5 17.8 L421.5 17.8 L420.5 17.9 L419.4 17.9 L418.4 17.9 L418.4 18.7 L417.2 18.7 L417.2 19.4 L415.9 19.4 L414.9 19.5 L414.9 19.3 L413.9 19.3 L412.9 19.4 L411.9 19.5 L410.9 19.6 L409.9 19.5 L408.9 19.4 L407.9 19.4 L406.9 19.3 L406.9 18.1 L405.9 18.1 L404.9 18 L403.9 17.9 L403.9 18.8 L402.9 18.8 L401.9 18.7 L400.9 18.6 L400.9 18.2 L399.9 18.2 L399 18.1 L398 18 L398 18.3 L397 18.3 L396 18.2 L395 18.1 L394 18 L393 17.9 L392 17.9 L392 17.6 L391 17.6 L390 17.6 L389 17.7 L388 17.7 L387 17.7 L387 18.4 L386 18.4 L385 18.4 L384 18.4 L383 18.5 L383 18.9 L382 18.9 L381 18.9 L381 18.7 L380 18.7 L379 18.7 L378 18.7 L377 18.7 L376 18.8 L376 17.7 L375 17.7 L374 17.7 L374 17.4 L373 17.4 L372 17.4 L371 17.4Z" fill="rgba(228,95,110,0.4)"/>
<path d="M371 15 L372 14.9 L373 14.9 L374 14.9 L375 14.9 L375 15.7 L376 15.6 L377 15.6 L378 15.6 L379 15.6 L380 15.6 L380 14.6 L381 14.5 L382 14.4 L383 14.6 L384 14.5 L385 14.3 L386 14.2 L387 14.4 L388 14.5 L389 14.5 L389 15.6 L390 15.8 L391 16 L392 16.1 L393 16.1 L393 16.3 L394 16.5 L395 16.5 L395 16 L396 16.1 L397 16 L398.1 15.9 L399.2 15.8 L400.2 15.7 L401.3 15.7 L401.3 14.9 L402.4 14.8 L403.4 14.6 L404.4 14.6 L405.4 14.6 L405.4 16.2 L406.4 16.2 L407.4 16.1 L408.4 16.1 L409.4 16.1 L409.4 13.7 L410.4 13.6 L411.4 13.6 L412.4 13.5 L413.4 13.5 L413.4 16.4 L414.7 16.4 L414.7 18.3 L415.9 18.2 L417.2 18.2 L417.2 18.7 L418.4 18.7 L418.4 19.2 L419.5 19.1 L420.6 19.1 L420.6 19.6 L421.6 19.4 L422.7 19.3 L423.8 19.1 L424.8 18.9 L425.9 18.8 L426.9 18.8 L426.9 19 L427.9 19 L427.9 19.3 L428.9 19.3 L428.9 18.7 L429.9 18.7 L429.9 19 L430.9 19 L430.9 19.3 L431.9 19.3 L431.9 20.1 L432.9 20.1 L432.9 19.9 L433.9 19.9 L433.9 19.5 L434.9 19.5 L434.9 19.3 L435.9 19.3 L435.9 19.1 L436.9 19.1 L436.9 19.3 L437.9 19.3 L437.9 19.6 L438.9 19.6 L438.9 19.9 L439.9 19.9 L439.9 20.3 L440.9 20.3 L440.9 21.8 L441.9 21.7 L442.9 21.7 L442.9 20.3 L443.9 20.2 L444.9 20 L445.9 19.8 L447 19.8 L447 18.7 L448 18.7 L449.1 18.7 L449.1 19.1 L450.2 19.1 L450.2 19.5 L451.2 19.5 L451.2 20 L452.3 20 L452.3 22.2 L453.4 22.2 L453.4 22.7 L454.6 22.7 L454.6 22.1 L455.9 22.1 L455.9 21.4 L457.1 21.4 L457.1 20.8 L458.4 20.8 L458.4 20 L459.6 20 L459.6 17.8 L460.9 17.8 L460.9 17 L461.9 17.1 L462.9 17.1 L462.9 16.8 L463.9 16.8 L463.9 16.5 L464.9 16.5 L464.9 16.1 L465.9 16.1 L465.9 15.8 L466.8 15.8 L466.8 15.4 L467.8 15.5 L468.8 15.6 L469.8 15.6 L469.8 16 L470.8 16.2 L471.9 16.1 L473 16.1 L474.1 16 L475.1 16 L476.2 15.9 L477.3 15.9 L477.3 16.5 L478.3 16.5 L479.4 16.5 L480.4 16.5 L480.4 15.9 L481.5 16 L482.5 16 L483.5 16.1 L484.6 16.2 L485.6 16.2 L486.7 16.2 L486.7 16.8 L487.7 16.8 L488.7 16.9 L489.8 17 L490.8 16.8 L491.9 16.8 L492.9 16.9 L493.9 16.9 L493.9 18.4 L495 18.4 L496 18.4 L497.1 18.4 L497.1 17.5 L498.1 17.5 L499.1 17.5 L500.2 17.5 L501.2 17.5 L502.3 17.6 L503.3 17.6 L503.3 17 L504.3 17.1 L505.4 17.2 L506.4 17.2 L507.5 17.3 L508.5 17.4 L509.5 17.4 L509.5 17 L510.6 17.1 L511.6 17.1 L511.6 18.5 L512.7 18.5 L513.7 18.6 L514.7 18.7 L515.8 18.7 L517 18.7 L517 19 L518.3 19 L518.3 17.9 L519.5 17.9 L519.5 18.2 L519.5 24.5 L519.5 24.3 L518.3 24.3 L518.3 24.1 L517 24.1 L517 23.1 L515.8 23.1 L514.7 23.1 L513.7 23.1 L512.7 23.1 L512.7 23.7 L511.6 23.7 L510.6 23.7 L509.5 23.7 L508.5 23.7 L508.5 22.8 L507.5 22.8 L506.4 22.8 L506.4 23.4 L505.4 23.4 L504.3 23.4 L503.3 23.4 L502.3 23.4 L501.2 23.4 L500.2 23.4 L500.2 21.9 L499.1 21.9 L498.1 21.9 L497.1 21.9 L496 21.9 L495 21.9 L495 23.4 L493.9 23.4 L492.9 23.4 L491.9 23.5 L490.8 23.5 L489.8 23.5 L489.8 22.1 L488.7 22.1 L487.7 22.1 L486.7 22.1 L485.6 22 L484.6 22 L483.5 22 L483.5 23.2 L482.5 23.2 L481.5 23.2 L481.5 22.8 L480.4 22.8 L479.4 22.8 L478.3 22.8 L477.3 22.9 L476.2 23 L475.1 23.1 L475.1 23.6 L474.1 23.6 L473 23.7 L471.9 23.8 L470.8 23.9 L469.8 23.8 L468.8 23.8 L467.8 23.9 L466.8 23.8 L465.9 23.8 L465.9 24.1 L464.9 24.1 L464.9 24.5 L463.9 24.5 L463.9 24.9 L462.9 24.9 L462.9 23.8 L461.9 23.8 L461.9 24.2 L460.9 24.2 L460.9 26 L459.6 26 L459.6 29 L458.4 29 L458.4 30.8 L457.1 30.8 L457.1 32.5 L455.9 32.5 L455.9 34.1 L454.6 34.1 L454.6 35.7 L453.4 35.7 L453.4 36.1 L452.3 36.1 L451.2 36.2 L451.2 36.5 L450.2 36.5 L450.2 36.9 L449.1 36.9 L448 37.1 L448 36.8 L447 36.8 L447 36.5 L445.9 36.5 L445.9 36.2 L444.9 36.2 L443.9 36.1 L442.9 36.1 L441.9 36 L440.9 35.9 L440.9 35.3 L439.9 35.3 L439.9 34.7 L438.9 34.7 L438.9 34.1 L437.9 34.1 L437.9 33.6 L436.9 33.6 L436.9 33 L435.9 33 L434.9 33 L434.9 33.7 L433.9 33.7 L432.9 33.7 L431.9 33.7 L430.9 33.7 L430.9 33.2 L429.9 33.2 L428.9 33.2 L428.9 32.7 L427.9 32.7 L427.9 32.2 L426.9 32.2 L426.9 31.7 L425.9 31.7 L425.9 31.3 L424.8 31.3 L423.8 31.2 L422.7 31.1 L421.6 31 L421.6 31.5 L420.6 31.5 L419.5 31.4 L419.5 31 L418.4 31 L418.4 30.2 L417.2 30.2 L417.2 29.4 L415.9 29.4 L415.9 27 L414.7 27 L414.7 24.6 L413.4 24.6 L413.4 25.1 L412.4 25.1 L412.4 24.8 L411.4 24.8 L411.4 24.4 L410.4 24.4 L410.4 24.1 L409.4 24.1 L409.4 22.6 L408.4 22.6 L408.4 22.3 L407.4 22.3 L407.4 21.9 L406.4 21.9 L406.4 21.6 L405.4 21.6 L405.4 21.2 L404.4 21.2 L403.4 21.3 L402.4 21.4 L401.3 21.5 L400.2 21.6 L399.2 21.6 L398.1 21.7 L398.1 21.5 L397 21.5 L396 21.5 L395 21.4 L394 21.2 L393 21 L392 20.8 L392 20.4 L391 20.4 L390 20.2 L389 20.1 L388 19.9 L387 19.7 L387 20.1 L386 20.1 L385 20.2 L384 20.3 L384 19.3 L383 19.3 L382 19.4 L381 19.4 L380 19.4 L379 19.4 L378 19.4 L377 19.3 L376 19.3 L375 19.3 L374 19.3 L373 19.3 L372 19.3 L371 19.3Z" fill="rgba(65,90,165,0.38)"/>
<path d="M371 15.1 L372 15.1 L373.1 15.1 L374.1 15.1 L374.1 15.7 L375.2 15.7 L376.2 15.8 L377.2 15.8 L378.3 15.9 L379.3 16 L380.4 16 L381.4 16.1 L382.4 16.1 L382.4 15.6 L383.5 15.6 L384.7 15.6 L384.7 18.8 L386 18.8 L386 21.8 L387 21.8 L387 33.9 L388 33.9 L388 45.9 L389.7 45.9 L389.7 65 L391 65 L391 66.9 L392.2 66.9 L392.2 68.8 L393.5 68.8 L393.5 71.6 L394.7 71.6 L394.7 73.7 L396 73.7 L396 75.8 L397.2 75.8 L397.2 77.8 L398.5 77.8 L398.5 81.2 L399.7 81.2 L399.7 83.5 L400.9 83.5 L400.9 86.8 L402.2 86.8 L402.2 90 L403.4 90 L403.4 92 L404.5 92.1 L405.5 92.1 L405.5 91.3 L406.6 91.3 L407.6 91.4 L408.6 91.5 L409.7 91.5 L409.7 91.3 L410.7 91.4 L411.8 91.5 L412.8 91.5 L413.8 91.6 L414.9 91.7 L415.9 91.9 L416.9 92.1 L417.9 92.2 L418.9 92.4 L419.9 92.6 L420.9 92.7 L421.9 92.7 L421.9 94.5 L422.9 94.7 L423.9 94.7 L423.9 93.5 L424.9 93.6 L425.9 93.8 L427.2 93.8 L427.2 94.7 L428.4 94.7 L428.4 95.5 L429.4 95.6 L430.5 95.6 L431.5 95.6 L432.5 95.6 L433.6 95.7 L434.6 95.7 L434.6 95.9 L435.6 95.9 L436.7 95.9 L437.7 96 L438.7 96 L439.7 96 L439.7 96.2 L440.8 96.2 L441.8 96.2 L442.8 96.3 L443.9 96.3 L444.9 96.3 L444.9 97.3 L445.9 97.4 L447 97.4 L448 97.4 L449 97.4 L450.1 97.4 L450.1 97.1 L451.1 97.1 L452.1 97.1 L452.1 96.5 L453.4 96.5 L453.4 88.8 L454.6 88.8 L454.6 81 L455.9 81 L455.9 68.6 L457.1 68.6 L457.1 55.1 L458.4 55.1 L458.4 47.7 L459.6 47.7 L459.6 40.2 L460.9 40.2 L460.9 36 L462.1 36 L462.1 31.9 L463.4 31.9 L463.4 28.4 L464.4 28.4 L464.4 26.9 L465.4 26.9 L465.4 25.4 L466.3 25.4 L466.3 23.9 L467.3 23.9 L467.3 22.4 L468.3 22.4 L468.3 20.9 L469.3 20.9 L469.3 20.2 L470.3 20.2 L470.3 19.4 L471.3 19.4 L471.3 18.7 L472.3 18.7 L472.3 17.9 L473.3 17.9 L473.3 16.1 L474.3 16.1 L474.3 15.9 L475.3 15.9 L475.3 15.6 L476.3 15.6 L476.3 16.4 L477.3 16.4 L477.3 16.1 L478.3 16.1 L478.3 15.9 L479.3 15.9 L479.3 15.5 L480.3 15.5 L480.3 15.1 L481.3 15.1 L481.3 14.7 L482.3 14.7 L482.3 14.2 L483.3 14.2 L483.3 13.9 L484.4 13.8 L485.5 13.8 L486.5 13.8 L487.6 13.8 L487.6 14 L488.7 14 L489.7 13.9 L490.8 13.8 L491.8 13.8 L492.9 13.8 L492.9 13.1 L493.9 13.1 L494.9 13.1 L495.9 13 L497 13 L498 13 L499 13 L499 13.7 L500 13.7 L501.1 13.7 L501.1 13.3 L502.1 13.3 L503.1 13.2 L504.1 13.2 L505.2 13.1 L506.2 13.1 L507.2 13.1 L508.2 13.1 L509.3 13.1 L510.3 13 L511.3 13 L511.3 13.3 L512.3 13.3 L513.4 13.3 L513.4 14 L514.4 13.9 L515.4 13.9 L516.4 13.9 L517.5 13.9 L518.5 13.9 L519.5 14.1 L519.5 16.1 L518.5 16.1 L517.5 16.1 L516.4 16.2 L515.4 16.2 L515.4 15.9 L514.4 15.9 L513.4 15.9 L512.3 15.9 L512.3 15.5 L511.3 15.5 L510.3 15.5 L509.3 15.5 L509.3 15.9 L508.2 15.9 L507.2 15.9 L507.2 14.8 L506.2 14.8 L505.2 14.8 L504.1 14.8 L504.1 16.3 L503.1 16.3 L502.1 16.3 L501.1 16.3 L500 16.5 L499 16.5 L498 16.5 L497 16.6 L495.9 16.6 L494.9 16.6 L493.9 16.7 L492.9 16.7 L491.8 16.7 L490.8 16.8 L489.7 16.8 L488.7 16.9 L488.7 16.4 L487.6 16.4 L486.5 16.5 L485.5 16.5 L484.4 16.6 L484.4 16.9 L483.3 16.9 L483.3 17.3 L482.3 17.3 L482.3 17.8 L481.3 17.8 L481.3 18.2 L480.3 18.2 L480.3 18.6 L479.3 18.6 L479.3 19 L478.3 19 L478.3 19.2 L477.3 19.2 L476.3 19.3 L476.3 19.6 L475.3 19.6 L475.3 19.8 L474.3 19.8 L474.3 20.1 L473.3 20.1 L473.3 21.6 L472.3 21.6 L472.3 22.3 L471.3 22.3 L471.3 23.1 L470.3 23.1 L470.3 23.8 L469.3 23.8 L469.3 24.6 L468.3 24.6 L468.3 26.1 L467.3 26.1 L467.3 27 L466.3 27 L466.3 28.5 L465.4 28.5 L465.4 30 L464.4 30 L464.4 32 L463.4 32 L463.4 36.2 L462.1 36.2 L462.1 40.3 L460.9 40.3 L460.9 44.5 L459.6 44.5 L459.6 52 L458.4 52 L458.4 59.1 L457.1 59.1 L457.1 71.6 L455.9 71.6 L455.9 84.1 L454.6 84.1 L454.6 91.8 L453.4 91.8 L453.4 99.5 L452.1 99.5 L452.1 99.1 L451.1 99.1 L450.1 99.1 L449 99.1 L449 100.1 L448 100.1 L447 100.1 L445.9 100.2 L444.9 100.2 L444.9 99.8 L443.9 99.8 L442.8 99.8 L441.8 99.8 L440.8 99.8 L440.8 99.1 L439.7 99.1 L438.7 99.1 L437.7 99.1 L436.7 99.2 L435.6 99.2 L434.6 99.2 L433.6 99.2 L432.5 99.2 L431.5 99.2 L430.5 99.3 L429.4 99.3 L429.4 100.2 L428.4 100.2 L428.4 99.4 L427.2 99.4 L427.2 98.6 L425.9 98.6 L424.9 98.5 L423.9 98.5 L423.9 98.1 L422.9 98.1 L421.9 98.1 L420.9 98 L420.9 97.4 L419.9 97.4 L418.9 97.3 L417.9 97.3 L416.9 97.1 L415.9 97.1 L414.9 97.1 L414.9 97.6 L413.8 97.6 L412.8 97.6 L411.8 97.6 L410.7 97.7 L410.7 97.1 L409.7 97.1 L408.6 97.2 L407.6 97.2 L407.6 98.3 L406.6 98.3 L405.5 98.3 L404.5 98.3 L403.4 98.4 L403.4 97.1 L402.2 97.1 L402.2 95.8 L400.9 95.8 L400.9 92.9 L399.7 92.9 L399.7 90.3 L398.5 90.3 L398.5 87.4 L397.2 87.4 L397.2 86 L396 86 L396 84.7 L394.7 84.7 L394.7 83.3 L393.5 83.3 L393.5 80.2 L392.2 80.2 L392.2 77.2 L391 77.2 L391 74 L389.7 74 L389.7 53.2 L388 53.2 L388 40.3 L387 40.3 L387 26.9 L386 26.9 L386 22.6 L384.7 22.6 L384.7 18.3 L383.5 18.3 L382.4 18.1 L381.4 18.1 L380.4 18 L379.3 18 L378.3 18 L378.3 19.2 L377.2 19.2 L376.2 19.1 L375.2 19.1 L374.1 19.1 L373.1 19 L372 19 L371 18.9Z" fill="rgba(115,170,90,0.45)"/>
<path d="M536.5 20.6 L537.7 20.6 L537.7 18.7 L539 18.7 L539 16.8 L540 16.8 L540 16.6 L541 16.6 L541 16.3 L542 16.3 L542 17.4 L543 17.4 L543 17.1 L544 17.1 L544 16.9 L545 16.9 L545 17.6 L546 17.6 L546 17.4 L547 17.4 L547 18.2 L547.9 18.2 L547.9 18.9 L548.9 18.9 L548.9 19.7 L549.9 19.7 L549.9 19.2 L550.9 19.2 L550.9 18.7 L551.9 18.6 L552.9 18.6 L552.9 18.1 L553.9 18.1 L553.9 17.6 L554.9 17.6 L554.9 17.1 L555.9 17.1 L555.9 16.8 L556.9 16.8 L556.9 16.4 L557.9 16.4 L557.9 16.1 L558.9 16.1 L558.9 15.7 L559.9 15.7 L559.9 16.1 L560.9 16.1 L560.9 16.7 L561.9 16.7 L561.9 17.1 L562.9 17.1 L562.9 17.4 L563.9 17.4 L563.9 17.8 L564.9 17.8 L564.9 18 L565.9 18 L565.9 18.3 L566.9 18.3 L566.9 17.1 L567.9 17.1 L567.9 17.4 L568.9 17.4 L568.9 17.6 L569.9 17.6 L569.9 17.1 L570.9 17.1 L570.9 16.6 L571.9 16.6 L571.9 16.1 L572.9 16.1 L572.9 16.5 L573.9 16.5 L573.9 16 L574.9 16 L574.9 16.8 L575.9 16.8 L575.9 17.6 L576.9 17.6 L576.9 18.3 L577.9 18.3 L577.9 19.1 L578.9 19.1 L578.9 19.8 L579.9 19.8 L579.9 19.3 L580.9 19.3 L580.9 18.3 L581.9 18.3 L581.9 17.8 L582.9 17.8 L582.9 17.3 L583.9 17.3 L583.9 16.8 L584.9 16.8 L584.9 17.5 L585.9 17.5 L585.9 18.3 L586.9 18.3 L586.9 20 L587.9 20 L587.9 20.8 L588.9 20.8 L588.9 21.5 L589.9 21.5 L589.9 20.9 L590.9 20.9 L590.9 20.3 L591.9 20.3 L591.9 19.7 L592.9 19.7 L592.9 18.5 L593.9 18.5 L593.9 17.9 L594.9 17.9 L594.9 18.1 L595.9 18.1 L595.9 18.7 L596.9 18.7 L596.9 19.3 L597.9 19.3 L597.9 20.8 L598.9 20.8 L598.9 21.4 L599.9 21.4 L599.9 20.9 L600.9 20.9 L600.9 19.7 L601.9 19.7 L601.9 19.2 L602.9 19.2 L602.9 18.7 L603.9 18.7 L603.9 19.3 L604.9 19.3 L604.9 19.6 L605.9 19.6 L605.9 19.8 L606.9 19.8 L606.9 20.1 L607.9 20.1 L607.9 20.3 L608.9 20.3 L608.9 20.5 L609.9 20.5 L609.9 19.3 L610.9 19.3 L610.9 18.8 L611.9 18.8 L611.9 18.3 L612.9 18.3 L612.9 17.4 L613.9 17.4 L613.9 16.9 L614.8 16.9 L614.8 17.4 L615.8 17.4 L615.8 17.1 L616.8 17.1 L616.8 16.9 L617.8 16.9 L617.8 16.6 L618.8 16.6 L618.8 16.4 L619.8 16.4 L619.8 17.4 L620.8 17.4 L620.8 18.8 L621.8 18.8 L621.8 19.8 L622.8 19.8 L622.8 20.8 L623.8 20.8 L623.8 21.8 L625.1 21.8 L625.1 22.9 L626.3 22.9 L626.3 23.9 L627.6 23.9 L627.6 24.7 L628.8 24.7 L628.8 23.2 L630.1 23.2 L630.1 21.7 L631.3 21.7 L631.3 20.4 L632.6 20.4 L632.6 19.2 L633.8 19.2 L633.8 17.8 L634.8 17.8 L634.8 17.4 L635.8 17.4 L635.8 17.1 L636.8 17.1 L636.8 16.7 L637.8 16.7 L637.8 16.4 L638.8 16.4 L638.8 15.9 L639.8 15.9 L640.8 15.8 L641.8 15.7 L642.8 15.6 L643.8 15.5 L644.8 15.4 L645.8 15.3 L646.8 15.3 L647.8 15.2 L648.8 15.2 L648.8 15.5 L649.9 15.4 L650.9 15.3 L652 15.3 L652 15.6 L653.1 15.5 L654.1 15.4 L655.2 15.3 L656.3 15.2 L657.3 15.2 L657.3 14.6 L658.3 14.6 L658.3 15 L659.3 15 L659.3 15.4 L660.3 15.4 L660.3 15.8 L661.3 15.8 L661.3 16.2 L662.3 16.2 L662.3 16.9 L663.3 16.9 L663.3 17.6 L664.3 17.6 L664.3 18.3 L665.3 18.3 L665.3 19.1 L666.3 19.1 L666.3 19.8 L667.3 19.8 L667.3 19.1 L668.3 19.1 L668.3 18.3 L669.3 18.3 L669.3 17.6 L670.3 17.6 L670.3 16.8 L671.3 16.8 L671.3 16.1 L672.3 15.9 L673.4 15.9 L673.4 15.2 L674.5 15 L675.5 15 L675.5 15.3 L676.6 15.2 L677.7 15 L678.8 14.8 L679.8 14.8 L679.8 16.2 L680.8 16.2 L681.9 16.2 L682.9 16.2 L684 16.2 L685 16.2 L685 21.9 L684 21.9 L682.9 21.9 L681.9 22 L680.8 22 L679.8 22 L678.8 22 L678.8 23.8 L677.7 23.8 L676.6 24 L675.5 24.2 L674.5 24.3 L673.4 24.5 L673.4 24.3 L672.3 24.3 L671.3 24.5 L671.3 25.2 L670.3 25.2 L670.3 26 L669.3 26 L669.3 26.7 L668.3 26.7 L668.3 27.5 L667.3 27.5 L666.3 27.6 L666.3 26.9 L665.3 26.9 L665.3 25.9 L664.3 25.9 L664.3 25.2 L663.3 25.2 L663.3 24.4 L662.3 24.4 L662.3 23.7 L661.3 23.7 L661.3 23.3 L660.3 23.3 L659.3 23.1 L659.3 22.7 L658.3 22.7 L658.3 22.3 L657.3 22.3 L657.3 21.7 L656.3 21.7 L655.2 21.8 L654.1 21.9 L653.1 22 L653.1 22.4 L652 22.4 L650.9 22.5 L649.9 22.6 L648.8 22.7 L648.8 23.6 L647.8 23.6 L646.8 23.7 L645.8 23.8 L644.8 23.9 L643.8 23.9 L643.8 22.6 L642.8 22.6 L641.8 22.7 L640.8 22.7 L639.8 22.8 L638.8 22.9 L638.8 23.2 L637.8 23.2 L637.8 23.6 L636.8 23.6 L636.8 24 L635.8 24 L635.8 24.3 L634.8 24.3 L634.8 24.7 L633.8 24.7 L633.8 25.9 L632.6 25.9 L632.6 27.1 L631.3 27.1 L631.3 28.7 L630.1 28.7 L630.1 30.2 L628.8 30.2 L628.8 31.7 L627.6 31.7 L627.6 30.2 L626.3 30.2 L626.3 29.2 L625.1 29.2 L625.1 28.2 L623.8 28.2 L623.8 27.2 L622.8 27.2 L622.8 26.2 L621.8 26.2 L621.8 25.9 L620.8 25.9 L620.8 24.9 L619.8 24.9 L619.8 23.9 L618.8 23.9 L618.8 24.2 L617.8 24.2 L616.8 24.1 L616.8 24.4 L615.8 24.4 L615.8 24.6 L614.8 24.6 L614.8 24.9 L613.9 24.9 L613.9 25.4 L612.9 25.4 L612.9 26 L611.9 26 L611.9 26.5 L610.9 26.5 L610.9 27 L609.9 27 L609.9 27.5 L608.9 27.5 L608.9 27.2 L607.9 27.2 L607.9 27 L606.9 27 L606.9 26.7 L605.9 26.7 L605.9 26.5 L604.9 26.5 L604.9 26.2 L603.9 26.2 L603.9 26.7 L602.9 26.7 L602.9 27.2 L601.9 27.2 L601.9 27.7 L600.9 27.7 L600.9 28.2 L599.9 28.2 L599.9 28.6 L598.9 28.6 L598.9 28 L597.9 28 L597.9 27.4 L596.9 27.4 L595.9 27.4 L595.9 26.8 L594.9 26.8 L594.9 26.5 L593.9 26.5 L593.9 27.1 L592.9 27.1 L592.9 27.7 L591.9 27.7 L591.9 28.1 L590.9 28.1 L590.9 28.7 L589.9 28.7 L589.9 29.3 L588.9 29.3 L588.9 28.5 L587.9 28.5 L587.9 27.8 L586.9 27.8 L586.9 27.3 L585.9 27.3 L585.9 26.5 L584.9 26.5 L584.9 25.8 L583.9 25.8 L583.9 24.7 L582.9 24.7 L582.9 25.2 L581.9 25.2 L581.9 25.7 L580.9 25.7 L580.9 26.2 L579.9 26.2 L579.9 26.7 L578.9 26.7 L578.9 27 L577.9 27 L577.9 26.3 L576.9 26.3 L576.9 25.5 L575.9 25.5 L575.9 24.8 L574.9 24.8 L574.9 24 L573.9 24 L573.9 24.5 L572.9 24.5 L572.9 25 L571.9 25 L571.9 25.5 L570.9 25.5 L570.9 26 L569.9 26 L568.9 26.1 L568.9 25.8 L567.9 25.8 L567.9 25.6 L566.9 25.6 L566.9 25.3 L565.9 25.3 L564.9 25.2 L564.9 25 L563.9 25 L563.9 24.6 L562.9 24.6 L561.9 24.4 L561.9 24.1 L560.9 24.1 L560.9 23.7 L559.9 23.7 L559.9 23.4 L558.9 23.4 L558.9 23.7 L557.9 23.7 L557.9 24.1 L556.9 24.1 L556.9 24.6 L555.9 24.6 L555.9 24.9 L554.9 24.9 L554.9 25.3 L553.9 25.3 L553.9 25.8 L552.9 25.8 L552.9 26.3 L551.9 26.3 L551.9 26.8 L550.9 26.8 L550.9 27.9 L549.9 27.9 L549.9 28.4 L548.9 28.4 L548.9 27.7 L547.9 27.7 L547.9 27 L547 27 L547 26.2 L546 26.2 L546 25.5 L545 25.5 L545 24.1 L544 24.1 L544 24.3 L543 24.3 L543 24.6 L542 24.6 L542 23.9 L541 23.9 L541 24.2 L540 24.2 L540 24.4 L539 24.4 L539 27.3 L537.7 27.3 L537.7 29.2 L536.5 29.2Z" fill="rgba(228,95,110,0.4)"/>
<path d="M536.5 16.1 L537.5 16.1 L538.5 16.1 L538.5 15.1 L539.6 15.1 L540.6 15.2 L541.7 15.2 L542.7 15.3 L543.7 15.3 L543.7 16.8 L544.8 16.8 L545.8 16.9 L546.9 16.9 L546.9 17.3 L547.9 17.4 L548.9 17.4 L550.2 17.4 L550.2 19.8 L551.4 19.8 L551.4 22.4 L552.7 22.4 L552.7 30.3 L553.9 30.3 L553.9 38.1 L555.2 38.1 L555.2 45.6 L556.4 45.6 L556.4 52 L557.7 52 L557.7 53.9 L558.9 53.9 L558.9 55.7 L560.2 55.7 L560.2 58.8 L561.4 58.8 L561.4 61.9 L562.7 61.9 L562.7 64.7 L563.9 64.7 L563.9 67.1 L565.2 67.1 L565.2 69.8 L566.4 69.8 L566.4 72.3 L567.7 72.3 L567.7 74.7 L568.9 74.7 L568.9 77.2 L570.2 77.2 L570.2 79.6 L571.4 79.6 L571.4 82.4 L572.4 82.4 L572.4 82.9 L573.4 82.9 L573.4 83.5 L574.4 83.5 L574.4 84 L575.4 84 L575.4 84.8 L576.4 84.8 L576.4 85.3 L577.4 85.3 L577.4 84.8 L578.4 84.8 L578.4 84.4 L579.4 84.4 L579.4 83.9 L580.4 83.9 L580.4 82 L581.4 82 L581.4 81.5 L582.5 81.5 L582.5 82.9 L583.5 82.9 L583.5 83.3 L584.6 83.3 L584.6 83.7 L585.7 83.7 L585.7 84.1 L586.7 84.1 L586.7 84.4 L587.8 84.4 L587.8 83.4 L588.9 83.4 L588.9 83.8 L589.9 83.8 L590.9 83.8 L591.9 83.8 L591.9 85.6 L592.9 85.7 L593.9 85.7 L594.9 85.7 L595.9 85.7 L595.9 85.1 L596.9 85.1 L597.9 85.1 L598.9 85.2 L599.9 85.2 L599.9 85.5 L600.9 85.5 L600.9 85.8 L601.9 85.8 L601.9 87.5 L602.9 87.5 L602.9 87.8 L603.9 87.8 L603.9 88 L604.9 88 L604.9 88.4 L605.9 88.4 L605.9 88.8 L606.9 88.8 L606.9 87.6 L607.9 87.6 L607.9 88 L608.9 88 L608.9 88.4 L609.9 88.5 L611 88.5 L612.1 88.5 L613.1 88.5 L613.1 89 L614.2 89.1 L615.3 89.1 L616.3 89.1 L616.3 88.7 L617.6 88.7 L617.6 82.2 L618.8 82.2 L618.8 75.7 L620.1 75.7 L620.1 65.1 L621.3 65.1 L621.3 53.9 L622.6 53.9 L622.6 43.9 L623.8 43.9 L623.8 33.9 L625.1 33.9 L625.1 28.5 L626.3 28.5 L626.3 23.6 L627.3 23.6 L627.3 22.9 L628.3 22.9 L628.3 23.4 L629.3 23.4 L629.3 22.7 L630.3 22.7 L630.3 22 L631.3 22 L631.3 21.4 L632.3 21.4 L632.3 21.1 L633.3 21.1 L633.3 20.8 L634.3 20.8 L634.3 20 L635.3 20 L635.3 19.7 L636.3 19.7 L636.3 19.3 L637.4 19.3 L637.4 19.1 L638.5 19.1 L638.5 18.9 L639.5 18.9 L639.5 18.6 L640.6 18.6 L640.6 18.4 L641.7 18.4 L641.7 18.7 L642.7 18.7 L642.7 18.5 L643.8 18.5 L643.8 18.3 L644.8 18.2 L645.8 18.2 L645.8 17.2 L646.8 17.1 L647.8 17 L648.8 17 L648.8 16.4 L649.8 16.3 L650.8 16.2 L651.8 16 L652.8 15.9 L653.8 15.8 L654.8 15.8 L654.8 16.1 L655.8 16.1 L656.8 16 L657.8 15.9 L658.8 15.8 L659.8 15.8 L659.8 16.3 L660.8 16.2 L661.8 16.1 L662.8 16.1 L663.8 16 L664.8 16 L665.8 16 L665.8 15.3 L666.8 15.2 L667.8 15.2 L668.8 15.2 L669.8 15.2 L669.8 15.5 L670.8 15.5 L671.8 15.4 L672.8 15.4 L673.8 15.3 L674.8 15.3 L674.8 14.9 L675.8 15 L676.8 15 L677.8 15 L678.9 15 L678.9 14.7 L679.9 14.8 L680.9 14.8 L681.9 14.8 L683 14.8 L683 14.5 L684 14.5 L685 14.5 L685 15.5 L685 19.2 L684 19.2 L683 19.2 L683 20.1 L681.9 20.1 L680.9 20.1 L679.9 20.1 L678.9 20.1 L677.8 20.1 L676.8 20 L675.8 20 L674.8 20 L673.8 20 L672.8 20.1 L671.8 20.1 L670.8 20.1 L669.8 20.1 L668.8 20.2 L667.8 20.2 L666.8 20.3 L665.8 20.4 L665.8 19.7 L664.8 19.7 L663.8 19.8 L662.8 19.9 L661.8 20 L660.8 20.1 L659.8 20.2 L659.8 20.6 L658.8 20.6 L657.8 20.7 L657.8 21.5 L656.8 21.5 L655.8 21.6 L654.8 21.7 L653.8 21.7 L652.8 21.9 L652.8 20.6 L651.8 20.6 L650.8 20.7 L649.8 20.9 L649.8 21.3 L648.8 21.3 L647.8 21.4 L646.8 21.6 L645.8 21.6 L644.8 21.8 L643.8 21.9 L643.8 22.2 L642.7 22.2 L642.7 22.6 L641.7 22.6 L641.7 23.5 L640.6 23.5 L640.6 23.9 L639.5 23.9 L639.5 24.2 L638.5 24.2 L638.5 24.6 L637.4 24.6 L637.4 25 L636.3 25 L636.3 25.4 L635.3 25.4 L635.3 25.8 L634.3 25.8 L634.3 26.5 L633.3 26.5 L633.3 26.9 L632.3 26.9 L632.3 27.3 L631.3 27.3 L631.3 28.4 L630.3 28.4 L630.3 29.2 L629.3 29.2 L629.3 30 L628.3 30 L628.3 30.8 L627.3 30.8 L627.3 31.6 L626.3 31.6 L626.3 36.7 L625.1 36.7 L625.1 42.1 L623.8 42.1 L623.8 52 L622.6 52 L622.6 62 L621.3 62 L621.3 73.3 L620.1 73.3 L620.1 84.5 L618.8 84.5 L618.8 90.4 L617.6 90.4 L617.6 96.9 L616.3 96.9 L615.3 97 L614.2 97 L613.1 97.1 L613.1 96.6 L612.1 96.6 L611 96.6 L609.9 96.7 L608.9 96.7 L608.9 96.4 L607.9 96.4 L607.9 97.3 L606.9 97.3 L606.9 97 L605.9 97 L605.9 96.7 L604.9 96.7 L604.9 95.3 L603.9 95.3 L603.9 95.1 L602.9 95.1 L602.9 94.9 L601.9 94.9 L601.9 94.6 L600.9 94.6 L600.9 93.3 L599.9 93.3 L599.9 93.1 L598.9 93.1 L597.9 93.1 L596.9 93.2 L595.9 93.2 L594.9 93.2 L594.9 95.6 L593.9 95.6 L592.9 95.7 L591.9 95.7 L590.9 95.8 L589.9 95.8 L588.9 95.8 L588.9 93.7 L587.8 93.7 L587.8 93.4 L586.7 93.4 L585.7 93.4 L585.7 93.1 L584.6 93.1 L584.6 94.2 L583.5 94.2 L583.5 93.9 L582.5 93.9 L582.5 93.6 L581.4 93.6 L581.4 94.1 L580.4 94.1 L580.4 94.6 L579.4 94.6 L579.4 95.2 L578.4 95.2 L577.4 95.2 L577.4 95.7 L576.4 95.7 L576.4 95.3 L575.4 95.3 L575.4 94.8 L574.4 94.8 L574.4 93.6 L573.4 93.6 L573.4 93.2 L572.4 93.2 L572.4 93.8 L571.4 93.8 L571.4 91.3 L570.2 91.3 L570.2 88.7 L568.9 88.7 L568.9 86.2 L567.7 86.2 L567.7 83.7 L566.4 83.7 L566.4 80.8 L565.2 80.8 L565.2 78.2 L563.9 78.2 L563.9 75.7 L562.7 75.7 L562.7 72.4 L561.4 72.4 L561.4 69.2 L560.2 69.2 L560.2 66.1 L558.9 66.1 L558.9 64.2 L557.7 64.2 L557.7 62.8 L556.4 62.8 L556.4 55.3 L555.2 55.3 L555.2 47.8 L553.9 47.8 L553.9 37.1 L552.7 37.1 L552.7 27.5 L551.4 27.5 L551.4 23.1 L550.2 23.1 L550.2 18.7 L548.9 18.7 L547.9 18.7 L546.9 18.7 L546.9 20.4 L545.8 20.4 L544.8 20.3 L543.7 20.3 L542.7 20.2 L542.7 18.6 L541.7 18.6 L540.6 18.6 L539.6 18.5 L538.5 18.5 L537.5 18.7 L536.5 18.6Z" fill="rgba(115,170,90,0.45)"/>
<path d="M536.5 16.2 L537.5 16.2 L538.5 16.2 L539.5 16.2 L539.5 15.8 L540.5 15.8 L541.5 15.8 L542.5 15.8 L543.5 15.8 L544.5 15.8 L544.5 16.1 L545.5 16.1 L546.5 16.1 L547.4 16.1 L548.4 16.1 L549.4 16.1 L549.4 14.6 L550.4 14.6 L551.4 14.6 L551.4 17 L552.4 17 L553.4 17 L554.4 17 L555.4 17 L555.4 16.3 L556.4 16.3 L557.4 16.3 L558.4 16.3 L558.4 15 L559.4 15 L560.4 15 L561.4 15 L562.4 15 L563.4 15 L564.4 15 L564.4 15.7 L565.4 15.7 L566.4 15.7 L567.4 15.7 L568.4 15.7 L569.4 15.7 L569.4 15.4 L570.4 15.4 L571.4 15.4 L571.4 16.3 L572.4 16.3 L573.4 16.3 L574.4 16.3 L575.4 16.3 L576.4 16.3 L576.4 15.7 L577.4 15.7 L578.4 15.7 L578.4 14.7 L579.4 14.7 L580.4 14.7 L580.4 15.8 L581.4 15.8 L582.4 15.8 L583.4 15.8 L584.4 15.8 L585.4 15.8 L586.4 15.8 L586.4 15.3 L587.4 15.3 L588.4 15.3 L589.4 15.3 L589.4 16.8 L590.4 16.8 L591.4 16.8 L592.4 16.8 L593.4 16.8 L594.4 16.8 L594.4 15.1 L595.4 15.1 L596.4 15.1 L596.4 15.3 L597.4 15.3 L598.4 15.3 L599.4 15.3 L600.4 15.3 L601.4 15.3 L601.4 16.4 L602.4 16.4 L603.4 16.4 L604.4 16.4 L605.4 16.4 L606.4 16.4 L607.4 16.4 L607.4 15.9 L608.4 15.9 L609.4 15.9 L610.4 15.9 L610.4 15.3 L611.4 15.3 L612.4 15.3 L612.4 16.3 L613.4 16.3 L614.3 16.3 L615.3 16.3 L616.3 16.3 L617.3 16.3 L617.3 15.2 L618.3 15.2 L619.3 15.2 L620.3 15.2 L620.3 16.5 L621.3 16.5 L622.3 16.5 L623.3 16.5 L624.3 16.5 L624.3 15.8 L625.3 15.8 L626.3 15.8 L627.3 15.8 L627.3 16.1 L628.3 16.1 L629.3 16.1 L630.3 16.1 L631.3 16.1 L632.3 16.1 L633.3 16.1 L633.3 16.6 L634.3 16.6 L635.3 16.6 L636.3 16.6 L637.3 16.6 L638.3 16.6 L639.3 16.6 L639.3 16.4 L640.3 16.4 L641.3 16.4 L641.3 15.5 L642.3 15.5 L643.3 15.5 L643.3 15.8 L644.3 15.8 L645.3 15.6 L646.3 15.6 L647.3 15.6 L648.3 15.6 L649.3 15.6 L649.3 14.8 L650.3 14.8 L651.3 14.8 L652.3 14.8 L652.3 15.2 L653.3 15.2 L654.3 15.1 L655.3 15.1 L655.3 16.5 L656.3 16.4 L657.3 16.4 L657.3 17 L658.3 17 L658.3 17.7 L659.3 17.7 L660.3 17.7 L660.3 18.3 L661.3 18.3 L661.3 19 L662.3 19 L662.3 18 L663.4 18 L663.4 17.6 L664.5 17.6 L664.5 17.4 L665.6 17.4 L665.6 17.1 L666.6 17.1 L666.6 16.8 L667.7 16.8 L668.8 16.8 L668.8 16.6 L669.8 16.6 L669.8 17 L670.8 16.9 L671.8 16.9 L671.8 17.3 L672.8 17.3 L672.8 17.7 L673.8 17.7 L673.8 18.2 L674.8 18.3 L675.8 18.3 L676.8 18.3 L677.8 18.3 L678.8 18.4 L680 18.4 L680 19.3 L681.2 19.3 L681.2 19.9 L682.5 20.1 L683.7 20.1 L683.7 23.1 L685 23.1 L685 26.1 L685 35.6 L685 32.4 L683.7 32.4 L683.7 29.1 L682.5 29.1 L682.5 28.4 L681.2 28.4 L680 28.3 L680 27.5 L678.8 27.5 L677.8 27.5 L676.8 27.3 L675.8 27.2 L674.8 27 L673.8 26.8 L673.8 25.1 L672.8 25.1 L672.8 24.5 L671.8 24.5 L671.8 24 L670.8 24 L670.8 23.4 L669.8 23.4 L669.8 23 L668.8 23 L667.7 23.1 L667.7 23.5 L666.6 23.5 L665.6 23.6 L664.5 23.7 L663.4 23.7 L662.3 23.6 L661.3 23.6 L661.3 22.5 L660.3 22.5 L660.3 21.5 L659.3 21.5 L659.3 20.5 L658.3 20.5 L658.3 19.5 L657.3 19.5 L657.3 18.8 L656.3 18.8 L655.3 18.6 L654.3 18.5 L653.3 18.4 L652.3 18.4 L651.3 18.4 L650.3 18.4 L649.3 18.4 L648.3 18.4 L647.3 18.4 L647.3 17.2 L646.3 17.2 L645.3 17.2 L644.3 17.2 L643.3 17.2 L642.3 17.2 L641.3 17.2 L641.3 16.2 L640.3 16.2 L639.3 16.2 L638.3 16.2 L638.3 17.9 L637.3 17.9 L636.3 17.9 L635.3 17.9 L634.3 17.9 L633.3 17.9 L633.3 18.3 L632.3 18.3 L631.3 18.3 L630.3 18.3 L629.3 18.3 L628.3 18.3 L627.3 18.3 L627.3 18 L626.3 18 L625.3 18 L624.3 18 L623.3 18 L622.3 18 L622.3 17.8 L621.3 17.8 L620.3 17.8 L619.3 17.8 L618.3 17.8 L617.3 17.8 L617.3 18.8 L616.3 18.8 L615.3 18.8 L614.3 18.8 L613.4 18.8 L612.4 18.8 L611.4 18.8 L611.4 17.8 L610.4 17.8 L609.4 17.8 L608.4 17.8 L607.4 17.9 L606.4 17.9 L605.4 17.9 L605.4 18.8 L604.4 18.8 L603.4 18.8 L602.4 18.8 L602.4 17.6 L601.4 17.6 L600.4 17.6 L600.4 18.3 L599.4 18.3 L598.4 18.3 L597.4 18.3 L596.4 18.3 L595.4 18.3 L595.4 17.9 L594.4 17.9 L593.4 17.9 L592.4 17.9 L591.4 17.9 L590.4 17.9 L589.4 18 L588.4 18 L587.4 18 L586.4 18 L585.4 18 L584.4 18 L583.4 18 L582.4 18 L581.4 18 L580.4 18 L579.4 18 L578.4 18 L577.4 18 L576.4 18 L575.4 18 L574.4 18 L574.4 18.9 L573.4 18.9 L572.4 18.9 L571.4 18.9 L570.4 18.9 L569.4 18.9 L568.4 18.9 L568.4 18.6 L567.4 18.6 L566.4 18.6 L565.4 18.6 L564.4 18.6 L564.4 18 L563.4 18 L562.4 18 L561.4 18 L560.4 18 L559.4 18 L558.4 17.9 L557.4 17.9 L556.4 17.9 L555.4 17.9 L554.4 17.9 L554.4 18.3 L553.4 18.3 L552.4 18.3 L551.4 18.3 L550.4 18.3 L549.4 18.3 L549.4 18.1 L548.4 18.1 L547.4 18.1 L546.5 18.1 L545.5 18.1 L544.5 18.1 L543.5 18.1 L543.5 18.8 L542.5 18.8 L541.5 18.8 L541.5 18.1 L540.5 18.1 L539.5 18.1 L538.5 18.1 L537.5 18.1 L536.5 18.1Z" fill="rgba(65,90,165,0.38)"/>
<path d="M35 128.8 L36 129 L37 129.2 L38 129.2 L38 129.4 L39 129.3 L40 129.5 L41 129.5 L42 129.5 L43 129.5 L44 129.5 L45 129.5 L45 131.3 L46 131.2 L47 131.1 L48 131 L49 130.9 L50 130.9 L50 129.3 L51 129.4 L52 129.5 L53 129.6 L54 129.7 L55 129.8 L56 129.8 L56 130.1 L57 130.1 L58 130 L59 130 L60 130 L60 128.3 L61 128.3 L62 128.3 L62 129.2 L63 129.2 L63.9 129.1 L64.9 129.1 L65.9 129 L66.9 129 L66.9 130.1 L67.9 130.1 L68.9 130 L69.9 130 L70.9 130 L70.9 128.7 L71.9 128.7 L72.9 128.6 L73.9 128.6 L74.9 128.5 L75.9 128.5 L75.9 129.1 L76.9 129.3 L77.9 129.3 L77.9 129.5 L78.9 129.5 L78.9 129.8 L79.9 130 L81.2 130 L81.2 129.1 L82.4 129.1 L82.4 128.2 L83.7 128.2 L83.7 129.5 L84.9 129.5 L84.9 130.4 L85.9 130.4 L85.9 130.2 L86.9 130.2 L86.9 129.9 L87.9 129.9 L87.9 129.7 L88.9 129.7 L88.9 129.4 L89.9 129.4 L89.9 128.7 L90.9 128.7 L90.9 129.1 L91.9 129.1 L91.9 129.5 L92.9 129.5 L92.9 130.5 L93.9 130.5 L93.9 130.9 L94.9 130.9 L94.9 131.3 L96.2 131.3 L97.4 131.3 L98.6 131.3 L99.9 131.3 L99.9 131.7 L101.1 131.7 L101.1 130.9 L102.4 130.9 L102.4 129.4 L103.4 129.4 L104.4 129.4 L105.4 129.4 L106.5 129.4 L107.5 129.4 L108.5 129.4 L108.5 129.7 L109.5 129.7 L110.5 129.7 L111.5 129.8 L112.6 129.8 L113.6 129.8 L114.6 129.7 L115.6 129.7 L116.6 129.8 L117.6 129.8 L118.7 129.8 L119.7 129.9 L120.7 129.9 L121.7 129.9 L122.7 129.9 L123.7 129.9 L123.7 129.3 L124.8 129.3 L125.8 129.3 L126.8 129.5 L127.8 129.5 L128.8 129.6 L129.9 129.6 L130.8 129.6 L130.8 129.4 L131.8 129.4 L131.8 129.7 L132.8 129.7 L132.8 130 L133.8 130 L133.8 129.6 L134.8 129.6 L134.8 129.9 L135.8 129.9 L135.8 130.1 L136.8 130.1 L136.8 130.4 L137.8 130.4 L137.8 130.6 L138.8 130.6 L138.8 130.9 L139.8 130.9 L139.8 131.1 L140.8 131 L141.8 130.8 L142.8 130.7 L143.8 130.7 L143.8 131.7 L144.8 131.6 L145.8 131.6 L146.8 131.6 L147.8 131.7 L148.8 131.7 L148.8 130.7 L149.8 130.7 L150.8 130.8 L151.8 130.8 L152.8 130.8 L153.8 130.8 L153.8 132.1 L154.8 132.2 L155.8 132.1 L156.8 132.1 L156.8 131.7 L157.8 131.6 L158.8 131.5 L159.8 131.4 L160.8 131.4 L160.8 132.2 L161.8 132.1 L162.8 132.1 L162.8 130.5 L163.8 130.4 L164.8 130.4 L164.8 131.6 L165.8 131.5 L166.8 131.4 L167.8 131.3 L168.8 131.2 L169.8 131.1 L170.8 131.1 L170.8 130.6 L171.8 130.5 L172.8 130.4 L173.8 130.3 L174.8 130.5 L175.8 130.5 L175.8 130.7 L176.8 130.7 L176.8 130.9 L177.8 130.9 L177.8 131.2 L178.8 131.2 L178.8 130.5 L179.8 130.5 L179.8 130.8 L180.8 130.8 L181.9 130.9 L183 131.1 L184 131.3 L184 139.6 L184 139.4 L183 139.4 L183 140.6 L181.9 140.6 L181.9 140.4 L180.8 140.4 L180.8 140.2 L179.8 140.2 L179.8 139.9 L178.8 139.9 L178.8 138 L177.8 138 L177.8 137.8 L176.8 137.8 L176.8 137.5 L175.8 137.5 L175.8 136.5 L174.8 136.5 L173.8 136.5 L172.8 136.6 L171.8 136.7 L170.8 136.7 L170.8 138.7 L169.8 138.7 L168.8 138.8 L167.8 138.9 L166.8 138.9 L166.8 136.9 L165.8 136.9 L164.8 136.9 L163.8 137 L163.8 137.9 L162.8 137.9 L161.8 138 L160.8 138 L160.8 138.3 L159.8 138.3 L158.8 138.3 L157.8 138.4 L156.8 138.4 L155.8 138.4 L154.8 138.5 L154.8 137.1 L153.8 137.1 L152.8 137 L151.8 137 L151.8 139.2 L150.8 139.2 L149.8 139.1 L148.8 139.1 L148.8 137.7 L147.8 137.7 L146.8 137.7 L145.8 137.6 L145.8 136.9 L144.8 136.9 L143.8 137 L142.8 137 L141.8 137.1 L140.8 137.2 L140.8 138.2 L139.8 138.2 L139.8 138 L138.8 138 L138.8 137.7 L137.8 137.7 L137.8 138.5 L136.8 138.5 L136.8 138.2 L135.8 138.2 L135.8 136.3 L134.8 136.3 L134.8 135.9 L133.8 135.9 L133.8 135.6 L132.8 135.6 L132.8 135.1 L131.8 135.1 L131.8 134.7 L130.8 134.7 L130.8 134.3 L129.9 134.3 L128.8 134.4 L127.8 134.4 L126.8 134.4 L126.8 135.2 L125.8 135.2 L124.8 135.2 L123.7 135.3 L122.7 135.3 L121.7 135.3 L120.7 135.4 L120.7 134.2 L119.7 134.2 L118.7 134.3 L117.6 134.3 L116.6 134.4 L116.6 135.5 L115.6 135.5 L114.6 135.6 L113.6 135.7 L112.6 135.7 L112.6 136.2 L111.5 136.2 L110.5 136.2 L109.5 136.3 L108.5 136.3 L107.5 136.3 L106.5 136.4 L105.4 136.5 L104.4 136.5 L103.4 136.5 L102.4 136.5 L102.4 136.8 L101.1 136.8 L101.1 137.6 L99.9 137.6 L99.9 138.5 L98.6 138.5 L97.4 138.5 L96.2 138.5 L94.9 138.5 L94.9 138.1 L93.9 138.1 L93.9 137.7 L92.9 137.7 L92.9 137.3 L91.9 137.3 L91.9 136.9 L90.9 136.9 L89.9 137.1 L89.9 137.3 L88.9 137.3 L88.9 137.6 L87.9 137.6 L86.9 137.5 L86.9 137.7 L85.9 137.7 L85.9 138 L84.9 138 L84.9 136.7 L83.7 136.7 L83.7 135.5 L82.4 135.5 L82.4 135.8 L81.2 135.8 L81.2 136.7 L79.9 136.7 L78.9 136.5 L77.9 136.3 L77.9 136.1 L76.9 136.1 L76.9 136.5 L75.9 136.5 L74.9 136.3 L74.9 136 L73.9 136 L72.9 136.1 L71.9 136.1 L70.9 136.1 L69.9 136.2 L68.9 136.2 L68.9 136 L67.9 136 L66.9 136 L65.9 136.1 L64.9 136.1 L63.9 136.2 L63 136.2 L63 136.6 L62 136.6 L61 136.7 L60 136.7 L60 136.3 L59 136.3 L58 136.4 L58 135.8 L57 135.8 L56 135.9 L55 135.9 L54 135.8 L53 135.7 L53 136.5 L52 136.5 L51 136.4 L50 136.3 L49 136.4 L48 136.4 L47 136.5 L47 137 L46 137 L45 137 L44 137 L44 135.9 L43 135.9 L42 135.8 L41 135.8 L40 135.8 L40 135.6 L39 135.6 L39 136.1 L38 136.1 L38 135.9 L37 135.9 L37 135.6 L36 135.6 L36 135.4 L35 135.4Z" fill="rgba(228,95,110,0.4)"/>
<path d="M35 130.9 L36.1 131.1 L37.1 131.1 L37.1 130.1 L38.2 130.3 L39.3 130.4 L40.3 130.5 L41.4 130.7 L42.5 130.8 L43.5 130.8 L43.5 132 L44.5 132 L45.5 132 L45.5 131.7 L46.5 131.7 L47.5 131.7 L48.7 131.7 L48.7 132.1 L50 132 L51 132 L51 138 L52 138 L52 144.1 L53.7 144.1 L53.7 148.3 L55 148.3 L55 151 L56.2 151 L56.2 153.4 L57.5 153.4 L57.5 155.8 L58.7 155.8 L58.7 158.6 L60 158.6 L60 160.2 L61.2 160.2 L61.2 161.7 L62.5 161.7 L62.5 162.9 L63.4 162.9 L63.4 163.8 L64.4 163.8 L64.4 164.7 L65.4 164.7 L65.4 165.6 L66.4 165.6 L66.4 166.4 L67.4 166.4 L67.4 167.3 L68.7 167.3 L68.7 171.3 L69.9 171.3 L69.9 175.2 L71.2 175.2 L71.2 178.1 L72.4 178.1 L72.4 180.8 L73.4 180.8 L73.4 182 L74.4 182 L74.4 183.2 L75.4 183.2 L75.4 184.3 L76.4 184.3 L76.4 185.5 L77.4 185.5 L77.4 186.6 L78.4 186.6 L78.4 187.1 L79.4 187.1 L79.4 187.7 L80.4 187.7 L80.4 188.3 L81.4 188.3 L81.4 188.8 L82.4 188.8 L82.4 189.4 L83.5 189.4 L83.5 189.7 L84.5 189.8 L85.5 189.9 L86.6 190 L87.6 190.1 L88.7 190.1 L88.7 189.2 L89.7 189.2 L90.7 189.2 L90.7 190.4 L91.8 190.4 L92.8 190.5 L93.9 190.6 L94.9 190.6 L96.2 190.6 L96.2 191.6 L97.4 191.6 L97.4 192.6 L98.6 192.6 L98.6 189.5 L100.4 189.5 L100.4 193.8 L101.5 193.8 L101.5 194.7 L102.6 194.7 L102.6 195.6 L103.8 195.6 L103.8 196.4 L104.9 196.4 L104.9 197.3 L105.9 197.4 L106.9 197.4 L106.9 198.5 L108 198.6 L109 198.6 L110 198.7 L111 198.7 L111 199.7 L112 199.8 L113.1 199.8 L114.1 199.9 L115.1 199.9 L115.1 198.3 L116.1 198.4 L117.4 198.4 L117.4 194.8 L118.6 194.8 L118.6 191.3 L119.9 191.3 L119.9 187.7 L121.1 187.7 L121.1 182 L122.4 182 L122.4 175.3 L123.6 175.3 L123.6 169 L124.9 169 L124.9 163.9 L126.1 163.9 L126.1 159.6 L127.4 159.6 L127.4 157.5 L128.6 157.5 L128.6 153.2 L129.9 153.2 L129.9 151.5 L131.1 151.5 L131.1 149.7 L132.3 149.7 L132.3 147.9 L133.3 147.9 L133.3 146.2 L134.3 146.2 L134.3 145.6 L135.3 145.6 L135.3 145.1 L136.3 145.1 L136.3 144.7 L137.3 144.7 L137.3 144.3 L138.3 144.3 L138.3 143.8 L139.3 143.8 L139.3 143.3 L140.3 143.3 L140.3 142.9 L141.3 142.9 L141.3 142.5 L142.3 142.5 L142.3 142 L143.4 142 L143.4 141.6 L144.5 141.6 L144.5 141 L145.5 141 L145.5 140.5 L146.6 140.5 L146.6 140 L147.7 140 L147.7 139.6 L148.8 139.6 L148.8 139.1 L149.8 139.1 L149.8 138.7 L150.8 138.7 L150.8 139 L151.8 138.8 L152.8 138.6 L153.8 138.5 L154.8 138.3 L155.8 138.3 L155.8 136.7 L156.8 136.5 L157.8 136.5 L157.8 137.9 L158.8 137.7 L159.8 137.5 L160.8 137.4 L161.8 137.3 L162.8 137.3 L162.8 136.7 L163.8 136.6 L164.8 136.5 L165.8 136.4 L166.8 136.3 L167.8 136.3 L167.8 136.1 L168.8 136 L169.8 135.9 L170.8 135.8 L171.8 135.7 L172.8 135.7 L172.8 135.1 L173.8 135 L174.8 134.9 L175.8 134.8 L176.8 134.7 L177.8 134.7 L177.8 135.9 L178.8 135.8 L179.8 135.7 L180.8 135.7 L180.8 135.1 L181.9 135.2 L183 135.2 L184 135.2 L184 147 L183 147 L181.9 147 L180.8 147.1 L180.8 147.3 L179.8 147.3 L178.8 147.5 L177.8 147.6 L176.8 147.8 L175.8 147.9 L174.8 148.1 L173.8 147.9 L172.8 148.1 L171.8 148.3 L171.8 149.5 L170.8 149.5 L169.8 149.7 L168.8 149.8 L168.8 149.5 L167.8 149.5 L166.8 149.6 L165.8 149.8 L165.8 150.3 L164.8 150.3 L163.8 150.5 L163.8 149.2 L162.8 149.2 L161.8 149.4 L160.8 149.5 L159.8 149.7 L159.8 150 L158.8 150 L158.8 150.3 L157.8 150.3 L157.8 151.9 L156.8 151.9 L156.8 152.2 L155.8 152.2 L155.8 152.5 L154.8 152.5 L154.8 152.8 L153.8 152.8 L152.8 152.8 L152.8 153.1 L151.8 153.1 L151.8 153.4 L150.8 153.4 L150.8 154.5 L149.8 154.5 L149.8 155.2 L148.8 155.2 L148.8 155.8 L147.7 155.8 L147.7 156.4 L146.6 156.4 L146.6 155.5 L145.5 155.5 L145.5 156.1 L144.5 156.1 L144.5 156.8 L143.4 156.8 L143.4 157.4 L142.3 157.4 L142.3 157.9 L141.3 157.9 L141.3 159.7 L140.3 159.7 L140.3 160.2 L139.3 160.2 L139.3 160.8 L138.3 160.8 L138.3 161.6 L137.3 161.6 L137.3 162.1 L136.3 162.1 L136.3 162.7 L135.3 162.7 L135.3 163.2 L134.3 163.2 L133.3 163.3 L133.3 163.7 L132.3 163.7 L132.3 165.2 L131.1 165.2 L131.1 166.7 L129.9 166.7 L129.9 168.3 L128.6 168.3 L128.6 172.3 L127.4 172.3 L127.4 175.4 L126.1 175.4 L126.1 179.4 L124.9 179.4 L124.9 184.3 L123.6 184.3 L123.6 189.3 L122.4 189.3 L122.4 195.2 L121.1 195.2 L121.1 201 L119.9 201 L119.9 203.8 L118.6 203.8 L118.6 207 L117.4 207 L117.4 209.7 L116.1 209.7 L116.1 209.2 L115.1 209.2 L114.1 209.1 L113.1 209 L113.1 209.3 L112 209.3 L111 209.2 L110 209.1 L109 209 L108 209 L106.9 208.9 L106.9 208.7 L105.9 208.7 L104.9 208.6 L104.9 207.9 L103.8 207.9 L103.8 207.2 L102.6 207.2 L102.6 206.5 L101.5 206.5 L101.5 206.7 L100.4 206.7 L100.4 201.8 L98.6 201.8 L98.6 205.2 L97.4 205.2 L97.4 203.7 L96.2 203.7 L96.2 202.9 L94.9 202.9 L93.9 203 L92.8 203.1 L92.8 204 L91.8 204 L90.7 204.1 L89.7 204.2 L88.7 204.2 L87.6 204.3 L87.6 203.8 L86.6 203.8 L85.5 203.9 L84.5 204 L83.5 204.1 L82.4 204.2 L82.4 203.7 L81.4 203.7 L81.4 203.4 L80.4 203.4 L80.4 203.2 L79.4 203.2 L79.4 203 L78.4 203 L78.4 202.5 L77.4 202.5 L77.4 201.7 L76.4 201.7 L76.4 200.9 L75.4 200.9 L75.4 200 L74.4 200 L74.4 199.2 L73.4 199.2 L73.4 198.1 L72.4 198.1 L72.4 195.9 L71.2 195.9 L71.2 193.6 L69.9 193.6 L69.9 190 L68.7 190 L68.7 186.5 L67.4 186.5 L66.4 186.6 L66.4 185.6 L65.4 185.6 L65.4 184.5 L64.4 184.5 L64.4 183.5 L63.4 183.5 L63.4 182.5 L62.5 182.5 L62.5 180.7 L61.2 180.7 L61.2 178.9 L60 178.9 L60 177.2 L58.7 177.2 L58.7 174 L57.5 174 L57.5 171.4 L56.2 171.4 L56.2 168.8 L55 168.8 L55 166.2 L53.7 166.2 L53.7 160.4 L52 160.4 L52 152.7 L51 152.7 L51 143.8 L50 143.8 L50 139.7 L48.7 139.7 L48.7 135.7 L47.5 135.7 L46.5 135.7 L45.5 135.7 L45.5 134.7 L44.5 134.7 L43.5 134.7 L42.5 134.9 L41.4 134.7 L40.3 134.6 L39.3 134.4 L38.2 134.3 L37.1 134.2 L37.1 133.9 L36.1 133.9 L35 133.7Z" fill="rgba(115,170,90,0.45)"/>
<path d="M35 130.6 L36.1 130.6 L36.1 130.3 L37.1 130.3 L37.1 127.8 L38.2 127.8 L38.2 127.5 L39.3 127.5 L39.3 127.3 L40.3 127.3 L40.3 127 L41.4 127 L41.4 126.8 L42.5 126.8 L42.5 127.2 L43.5 127.2 L43.5 127.5 L44.5 127.5 L44.5 128.6 L45.5 128.6 L45.5 128.9 L46.5 128.9 L46.5 129.3 L47.5 129.3 L47.5 129.6 L48.7 129.6 L48.7 132 L50 132 L50 133.9 L51 133.9 L51 146.7 L52 146.7 L52 159.4 L53.7 159.4 L53.7 177 L55 177 L55 182.1 L56.2 182.1 L56.2 187.3 L57.5 187.3 L57.5 188.9 L58.7 188.9 L58.7 191 L60 191 L60 192.7 L61 192.7 L61 193.6 L62 193.6 L62 194.6 L63 194.6 L63 195.5 L63.9 195.5 L63.9 196.4 L64.9 196.4 L64.9 197.3 L65.9 197.3 L65.9 197.8 L66.9 197.8 L66.9 198.5 L67.9 198.5 L67.9 199.3 L68.9 199.3 L68.9 200.8 L69.9 200.8 L69.9 201.6 L70.9 201.6 L70.9 201 L71.9 201 L71.9 201.4 L72.9 201.4 L72.9 201.8 L73.9 201.8 L73.9 202.4 L74.9 202.4 L74.9 202.7 L75.9 202.7 L75.9 203.1 L76.9 203.1 L76.9 203.5 L77.9 203.5 L77.9 203.9 L78.9 203.9 L78.9 203.6 L79.9 203.6 L79.9 204 L80.9 204 L81.9 204 L82.9 204 L83.9 204 L85 204 L85 204.5 L86 204.5 L87 204.5 L88 204.5 L89 204.5 L90 204.5 L90 205.3 L91 205.3 L92 205.3 L93 205.3 L94 205.3 L95 205.3 L95 204.4 L96 204.4 L97 204.4 L98 204.4 L99 204.4 L100 204.4 L101 204.4 L101 204.1 L102 204.1 L103.1 204.1 L104.1 204.1 L104.1 204.8 L105.1 204.8 L106.1 204.8 L107.1 204.8 L108.1 204.7 L109.1 204.7 L110.1 204.7 L111.1 204.7 L112.1 204.7 L112.1 204.5 L113.1 204.5 L114.1 204.5 L115.1 204.5 L116.1 204.5 L116.1 205.4 L117.4 205.4 L117.4 199.2 L118.6 199.2 L118.6 193 L119.9 193 L119.9 184.2 L121.1 184.2 L121.1 175.5 L122.4 175.5 L122.4 169.2 L123.6 169.2 L123.6 163.8 L124.9 163.8 L124.9 160.5 L126.1 160.5 L126.1 156.2 L127.4 156.2 L127.4 152.9 L128.6 152.9 L128.6 150.5 L129.9 150.5 L129.9 148.1 L130.8 148.1 L130.8 148.7 L131.8 148.7 L131.8 147.8 L132.8 147.8 L132.8 147.2 L133.8 147.2 L133.8 146.3 L134.8 146.3 L134.8 145.4 L135.8 145.4 L135.8 144.7 L136.8 144.7 L136.8 144 L137.8 144 L137.8 143 L138.8 143 L138.8 142.3 L139.8 142.3 L139.8 141.6 L140.8 141.6 L140.8 141.2 L141.8 141.2 L141.8 140.1 L142.8 140.1 L142.8 139.6 L143.8 139.6 L143.8 139.2 L144.8 139.2 L144.8 138.7 L145.9 138.6 L147 138.6 L147 138.3 L148 138.2 L149.1 138.2 L149.1 138.9 L150.2 138.8 L151.2 138.7 L152.3 138.6 L153.4 138.4 L154.5 138.4 L154.5 137.6 L155.5 137.5 L156.6 137.4 L157.7 137.2 L158.7 137.1 L159.8 136.9 L160.8 136.9 L160.8 136.6 L161.8 136.7 L162.8 136.7 L162.8 136.4 L163.8 136.4 L163.8 136.1 L164.8 136.1 L164.8 135.8 L165.8 135.8 L165.8 134.8 L166.8 134.8 L166.8 134.4 L167.8 134.4 L167.8 134.7 L168.8 134.7 L168.8 134.3 L169.8 134.3 L169.8 134 L170.8 134 L170.8 133.6 L171.8 133.6 L171.8 133.3 L172.8 133.3 L172.8 132.8 L173.8 132.8 L173.8 132.4 L174.8 132.4 L174.8 132.1 L175.8 132.1 L175.8 132.4 L176.8 132.4 L176.8 132.7 L177.8 132.7 L177.8 133.1 L178.8 133.1 L178.8 134 L179.8 134 L179.8 134.3 L180.8 134.3 L180.8 133.9 L181.9 134.1 L183 134.2 L184 134.4 L184 146.1 L183 146 L183 145.4 L181.9 145.4 L180.8 145.3 L179.8 145.2 L179.8 145 L178.8 145 L178.8 144.7 L177.8 144.7 L177.8 144.5 L176.8 144.5 L176.8 143.9 L175.8 143.9 L175.8 143.7 L174.8 143.7 L174.8 144.9 L173.8 144.9 L173.8 145.3 L172.8 145.3 L172.8 145.7 L171.8 145.7 L171.8 146.2 L170.8 146.2 L170.8 145.9 L169.8 145.9 L169.8 146.4 L168.8 146.4 L168.8 146.8 L167.8 146.8 L167.8 147.9 L166.8 147.9 L166.8 148.3 L165.8 148.3 L165.8 148.8 L164.8 148.8 L164.8 149.2 L163.8 149.2 L163.8 148.6 L162.8 148.6 L162.8 149 L161.8 149 L161.8 149.4 L160.8 149.4 L160.8 149.8 L159.8 149.8 L159.8 150 L158.7 150 L158.7 150.6 L157.7 150.6 L157.7 150.8 L156.6 150.8 L156.6 151.1 L155.5 151.1 L155.5 151.3 L154.5 151.3 L154.5 152.1 L153.4 152.1 L153.4 152.4 L152.3 152.4 L152.3 152.6 L151.2 152.6 L151.2 152.8 L150.2 152.8 L150.2 153.1 L149.1 153.1 L149.1 153.3 L148 153.3 L148 153.8 L147 153.8 L147 154 L145.9 154 L145.9 154.2 L144.8 154.2 L144.8 154.8 L143.8 154.8 L143.8 155.3 L142.8 155.3 L142.8 155.9 L141.8 155.9 L141.8 154.2 L140.8 154.2 L140.8 154.8 L139.8 154.8 L139.8 156.1 L138.8 156.1 L138.8 156.9 L137.8 156.9 L137.8 157.7 L136.8 157.7 L136.8 158.6 L135.8 158.6 L135.8 160.7 L134.8 160.7 L134.8 161.7 L133.8 161.7 L133.8 162.8 L132.8 162.8 L132.8 163.9 L131.8 163.9 L131.8 164.9 L130.8 164.9 L130.8 166 L129.9 166 L129.9 166.7 L128.6 166.7 L128.6 169.3 L127.4 169.3 L127.4 172.7 L126.1 172.7 L126.1 176.1 L124.9 176.1 L124.9 179.6 L123.6 179.6 L123.6 187 L122.4 187 L122.4 191 L121.1 191 L121.1 195.7 L119.9 195.7 L119.9 202.2 L118.6 202.2 L118.6 206.2 L117.4 206.2 L117.4 210.2 L116.1 210.2 L116.1 211.5 L115.1 211.5 L114.1 211.6 L113.1 211.6 L112.1 211.6 L111.1 211.6 L110.1 211.6 L110.1 211 L109.1 211 L108.1 211 L107.1 211 L106.1 211 L106.1 211.5 L105.1 211.5 L104.1 211.6 L103.1 211.6 L102 211.6 L102 211.4 L101 211.4 L100 211.4 L99 211.4 L98 211.4 L97 211.5 L96 211.5 L95 211.5 L94 211.5 L93 211.5 L92 211.5 L91 211.6 L90 211.7 L89 211.7 L88 211.8 L87 211.8 L86 211.8 L86 212.1 L85 212.1 L83.9 212.2 L82.9 212.2 L81.9 212.2 L80.9 212.3 L79.9 212.3 L78.9 212.4 L77.9 212.5 L76.9 212.6 L75.9 212.6 L75.9 212.4 L74.9 212.4 L73.9 212.5 L73.9 212.7 L72.9 212.7 L71.9 212.8 L70.9 212.9 L69.9 212.9 L69.9 212.6 L68.9 212.6 L68.9 212.1 L67.9 212.1 L67.9 211.8 L66.9 211.8 L66.9 211.5 L65.9 211.5 L65.9 211.2 L64.9 211.2 L64.9 210.5 L63.9 210.5 L63.9 209.1 L63 209.1 L63 208.3 L62 208.3 L62 207.6 L61 207.6 L61 207 L60 207 L60 205.6 L58.7 205.6 L58.7 204.2 L57.5 204.2 L57.5 202.9 L56.2 202.9 L56.2 197.4 L55 197.4 L55 192.6 L53.7 192.6 L53.7 170.6 L52 170.6 L52 155.7 L51 155.7 L51 140.8 L50 140.8 L50 138 L48.7 138 L48.7 133.4 L47.5 133.4 L47.5 133 L46.5 133 L46.5 131.7 L45.5 131.7 L45.5 131.3 L44.5 131.3 L44.5 131 L43.5 131 L43.5 130.6 L42.5 130.6 L42.5 130.9 L41.4 130.9 L40.3 130.9 L40.3 131.1 L39.3 131.1 L39.3 131.4 L38.2 131.4 L38.2 131.6 L37.1 131.6 L37.1 131.9 L36.1 131.9 L36.1 132.1 L35 132.1Z" fill="rgba(65,90,165,0.38)"/>
<path d="M202.2 132.4 L203.3 132.4 L204.3 132.5 L205.4 132.6 L206.4 132.7 L207.4 132.8 L208.5 132.8 L208.5 132.5 L209.5 132.4 L210.5 132.4 L210.5 132.8 L211.5 132.7 L212.5 132.6 L213.5 132.5 L214.7 132.5 L214.7 134.4 L216 134.4 L216 136.2 L217.2 136.2 L217.2 135 L218.5 135 L218.5 133.7 L219.7 133.7 L219.7 133.1 L221 133.1 L221 133.7 L222 133.7 L222 133.4 L223 133.4 L223 133.2 L224 133.2 L224 132.9 L225 132.9 L225 133.9 L226 133.9 L226 133.6 L227 133.6 L227 133.4 L228 133.4 L228 133.1 L229 133.1 L229 132.9 L229.9 132.9 L229.9 131.5 L230.9 131.5 L230.9 131.2 L231.9 131.2 L231.9 131.5 L232.9 131.5 L232.9 131.7 L233.9 131.7 L233.9 132 L234.9 132 L234.9 132.2 L235.9 132.2 L235.9 133.2 L236.9 133.2 L236.9 132.9 L237.9 132.9 L237.9 132.4 L238.9 132.4 L238.9 132.2 L239.9 132.2 L239.9 131.9 L240.9 131.9 L240.9 131.7 L241.9 131.7 L241.9 132.5 L242.9 132.5 L242.9 132.2 L243.9 132.2 L243.9 132 L244.9 132 L244.9 131.7 L245.9 131.7 L245.9 131.5 L246.9 131.5 L246.9 128.9 L247.9 128.9 L247.9 128.4 L248.9 128.4 L248.9 127.9 L249.9 127.9 L249.9 127.4 L250.9 127.4 L250.9 129.6 L251.9 129.8 L252.9 129.9 L253.9 129.9 L253.9 128.8 L254.9 129 L255.9 129.2 L256.9 129.2 L256.9 129.6 L257.9 129.6 L257.9 129.9 L258.9 129.9 L258.9 130.7 L259.9 130.7 L259.9 131 L260.9 131 L260.9 131.4 L261.9 131.3 L262.9 131.3 L262.9 131.8 L263.9 131.6 L264.9 131.5 L265.9 131.4 L266.9 131.4 L266.9 131.8 L267.9 131.8 L267.9 131.3 L268.9 131.3 L268.9 131.7 L269.9 131.7 L269.9 132.1 L270.9 132.1 L270.9 132.5 L271.9 132.5 L271.9 132.1 L272.9 132.1 L272.9 131.6 L273.9 131.6 L273.9 131.2 L274.9 131.2 L274.9 130.8 L275.9 130.7 L276.9 130.8 L277.9 131 L278.9 131.2 L279.9 131.3 L280.9 131.3 L280.9 131.8 L281.9 131.8 L281.9 131.6 L282.9 131.6 L282.9 131.3 L283.9 131.3 L283.9 130.8 L284.9 130.8 L284.9 130.5 L285.9 130.5 L285.9 130.3 L286.9 130.3 L286.9 130.6 L287.9 130.6 L287.9 130.8 L288.9 130.8 L288.9 131.1 L289.9 131 L290.9 131 L290.9 131.2 L291.9 131.2 L291.9 130.9 L292.9 130.9 L292.9 130.6 L293.9 130.6 L293.9 130.3 L294.9 130.3 L294.9 129.9 L295.9 129.9 L296.8 129.9 L297.8 130 L298.8 130 L299.8 130.1 L300.8 130.1 L301.8 130.2 L302.8 130.2 L302.8 131.2 L303.8 131.2 L304.8 131.2 L304.8 130.3 L305.8 130.4 L306.8 130.5 L307.8 130.6 L308.8 130.8 L309.8 130.8 L309.8 131.6 L310.8 131.7 L311.8 131.7 L311.8 130.8 L312.8 130.9 L313.8 131.1 L314.8 131.2 L315.8 131.3 L316.8 131.3 L316.8 131.6 L317.8 131.6 L318.8 131.5 L319.8 131.4 L320.8 131.3 L321.8 131.3 L322.8 131.3 L323.8 131.3 L324.8 131.2 L325.8 131.2 L325.8 130.7 L326.8 130.7 L327.8 130.8 L328.8 130.9 L329.8 131 L330.8 131 L331.8 131 L331.8 131.4 L332.8 131.5 L333.8 131.6 L334.8 131.6 L334.8 130.4 L335.8 130.5 L336.8 130.4 L337.8 130.2 L338.8 130.1 L339.8 130 L340.8 130 L340.8 131.1 L341.8 131 L342.8 130.9 L343.8 130.9 L343.8 130.1 L344.8 130 L345.8 130 L345.8 129.7 L346.8 129.7 L347.9 129.7 L349 129.7 L350 129.7 L350 130.3 L350 134.1 L350 135.7 L349 135.7 L347.9 135.7 L347.9 134.1 L346.8 134.1 L345.8 134.1 L345.8 134.6 L344.8 134.6 L343.8 134.7 L342.8 134.9 L341.8 135 L340.8 135.1 L339.8 135.2 L338.8 135.4 L337.8 135.5 L336.8 135.6 L335.8 135.8 L335.8 136 L334.8 136 L333.8 136 L332.8 135.9 L331.8 135.8 L331.8 134.6 L330.8 134.6 L329.8 134.5 L328.8 134.4 L327.8 134.4 L326.8 134.3 L325.8 134.2 L324.8 134.3 L323.8 134.4 L322.8 134.4 L321.8 134.5 L320.8 134.6 L320.8 136 L319.8 136 L318.8 136.1 L317.8 136.2 L316.8 136.2 L315.8 136.3 L314.8 136.2 L313.8 136 L312.8 135.9 L311.8 135.8 L310.8 135.6 L310.8 135.3 L309.8 135.3 L308.8 135.2 L307.8 135.1 L306.8 135.1 L305.8 135 L305.8 134.5 L304.8 134.5 L303.8 134.4 L302.8 134.4 L302.8 134.6 L301.8 134.6 L300.8 134.6 L299.8 134.5 L298.8 134.5 L297.8 134.4 L296.8 134.4 L296.8 134 L295.9 134 L295.9 134.5 L294.9 134.5 L294.9 134.9 L293.9 134.9 L293.9 133.8 L292.9 133.8 L292.9 134.2 L291.9 134.2 L291.9 135.9 L290.9 135.9 L289.9 135.7 L288.9 135.6 L288.9 136.6 L287.9 136.6 L286.9 136.4 L285.9 136.2 L285.9 136.5 L284.9 136.5 L284.9 136.8 L283.9 136.8 L283.9 137.2 L282.9 137.2 L282.9 137.5 L281.9 137.5 L281.9 137.8 L280.9 137.8 L279.9 137.7 L279.9 136.7 L278.9 136.7 L277.9 136.6 L276.9 136.5 L275.9 136.5 L275.9 136.9 L274.9 136.9 L274.9 135.7 L273.9 135.7 L273.9 136.2 L272.9 136.2 L272.9 136.7 L271.9 136.7 L271.9 137.2 L270.9 137.2 L270.9 138.1 L269.9 138.1 L269.9 137.8 L268.9 137.8 L268.9 137.4 L267.9 137.4 L267.9 137.1 L266.9 137.1 L266.9 137.6 L265.9 137.6 L265.9 137.8 L264.9 137.8 L264.9 138 L263.9 138 L263.9 138.3 L262.9 138.3 L262.9 138.5 L261.9 138.5 L261.9 138.7 L260.9 138.7 L260.9 139.6 L259.9 139.6 L259.9 139.4 L258.9 139.4 L258.9 139.1 L257.9 139.1 L257.9 138.8 L256.9 138.8 L256.9 137.9 L255.9 137.9 L254.9 137.8 L254.9 136.6 L253.9 136.6 L252.9 136.5 L251.9 136.4 L250.9 136.4 L250.9 137.2 L249.9 137.2 L249.9 137.7 L248.9 137.7 L247.9 137.9 L247.9 138.5 L246.9 138.5 L246.9 139 L245.9 139 L245.9 139.3 L244.9 139.3 L243.9 139.4 L243.9 139.7 L242.9 139.7 L242.9 140 L241.9 140 L241.9 140.2 L240.9 140.2 L240.9 140.5 L239.9 140.5 L239.9 140.8 L238.9 140.8 L238.9 141 L237.9 141 L237.9 141.3 L236.9 141.3 L236.9 141.6 L235.9 141.6 L235.9 141.2 L234.9 141.2 L234.9 140.9 L233.9 140.9 L233.9 140.7 L232.9 140.7 L232.9 140.5 L231.9 140.5 L231.9 141.5 L230.9 141.5 L230.9 141.8 L229.9 141.8 L229.9 142.1 L229 142.1 L229 142.4 L228 142.4 L228 142 L227 142 L227 142.3 L226 142.3 L226 142.5 L225 142.5 L225 142.8 L224 142.8 L224 143.2 L223 143.2 L223 143.5 L222 143.5 L222 144.2 L221 144.2 L221 143.6 L219.7 143.6 L219.7 142.6 L218.5 142.6 L218.5 143.9 L217.2 143.9 L217.2 145.2 L216 145.2 L216 143.3 L214.7 143.3 L214.7 141.5 L213.5 141.5 L213.5 141.1 L212.5 141.1 L211.5 140.9 L210.5 140.7 L209.5 140.5 L208.5 140.3 L208.5 139.9 L207.4 139.9 L207.4 140.6 L206.4 140.6 L206.4 140.3 L205.4 140.3 L205.4 139.9 L204.3 139.9 L204.3 139.5 L203.3 139.5 L203.3 139.1 L202.2 139.1Z" fill="rgba(228,95,110,0.4)"/>
<path d="M202.2 129.4 L203.3 129.4 L204.4 129.4 L205.4 129.4 L206.5 129.4 L207.5 129.4 L208.6 129.4 L208.6 129.2 L209.6 129.2 L210.7 129.2 L211.7 129.2 L212.8 129.2 L212.8 130.1 L213.9 130.1 L214.9 130.1 L214.9 129.4 L216 129.4 L217.2 129.4 L217.2 131.7 L218.5 131.7 L218.5 134.4 L219.7 134.4 L219.7 133.2 L221 133.2 L221 131.9 L222.2 131.9 L222.2 130.5 L223.5 130.5 L223.5 129.5 L224.5 129.5 L225.5 129.4 L226.5 129.4 L227.6 129.4 L228.6 129.4 L229.6 129.5 L230.7 129.5 L231.7 129.5 L232.7 129.5 L232.7 129.2 L233.7 129.2 L234.8 129.2 L235.8 129 L236.8 129 L237.8 129 L238.9 129 L238.9 128.6 L239.9 128.6 L240.9 128.6 L240.9 129.4 L242.2 129.4 L242.2 130.9 L243.4 130.9 L243.4 129.4 L244.4 129.4 L245.4 129.5 L246.4 129.5 L246.4 128.2 L247.4 128.3 L248.4 128.3 L248.4 128.6 L249.4 128.7 L250.4 128.7 L251.4 128.7 L251.4 130 L252.4 130 L253.4 130.1 L254.4 130.1 L254.4 129.2 L255.4 129.3 L256.4 129.3 L257.4 129.3 L257.4 130.6 L258.4 130.7 L259.7 130.7 L259.7 130.3 L260.9 130.3 L260.9 128.5 L261.9 128.5 L262.9 128.5 L263.9 128.5 L264.9 128.5 L265.9 128.6 L266.9 128.6 L267.9 128.6 L268.9 128.6 L268.9 129.4 L269.9 129.4 L270.9 129.4 L271.9 129.4 L271.9 129.8 L272.9 129.8 L273.9 129.8 L273.9 129.3 L274.9 129.3 L275.9 129.3 L276.9 129.3 L276.9 128.6 L277.9 128.6 L278.9 128.6 L279.9 128.6 L280.9 128.6 L281.9 128.6 L282.9 128.7 L283.9 128.7 L284.9 128.7 L285.9 128.7 L286.9 128.7 L287.9 128.7 L287.9 129.1 L288.9 129.1 L289.9 129.1 L290.9 129.1 L291.9 129.1 L292.9 129.1 L293.9 129.3 L294.9 129.3 L295.9 129.3 L296.9 129.3 L296.9 129.6 L298 129.6 L299 129.5 L300 129.5 L301 129.5 L302 129.5 L302 128.7 L303 128.7 L304 128.7 L305 128.7 L306 128.7 L307 128.7 L308 128.9 L309 128.9 L310 128.9 L310 129.9 L311 129.9 L312 129.9 L312 129 L313 129 L314 129 L315 129 L316 129 L317 129 L318 129 L318 129.9 L319 129.9 L320 129.9 L321 129.9 L322 130.1 L323 130.1 L324 130.1 L325 130.1 L325 129.5 L326 129.5 L327 129.7 L328 129.7 L329 129.7 L330 129.7 L331 129.7 L332 129.7 L332 128.8 L333 128.8 L334 128.8 L335 128.8 L336 128.8 L337 128.8 L338 128.8 L338 128.4 L339 128.4 L340 128.4 L341 128.4 L341 129.4 L342 129.4 L343 129.4 L344 129.2 L345 129.2 L346 129.2 L347 129 L348 129 L349 129 L350 129 L350 131.6 L350 132.3 L349 132.3 L348 132.3 L348 131.5 L347 131.5 L346 131.5 L345 131.5 L344 131.5 L343 131.5 L342 131.5 L341 131.7 L340 131.7 L339 131.7 L338 131.7 L337 131.7 L336 131.7 L335 131.7 L334 131.7 L333 131.7 L333 130.7 L332 130.7 L331 130.7 L330 130.7 L329 130.7 L328 130.7 L327 130.7 L327 132.7 L326 132.7 L325 132.7 L325 131.5 L324 131.5 L323 131.5 L322 131.5 L321 131.5 L320 131.5 L319 131.5 L318 131.3 L317 131.3 L316 131.3 L315 131.3 L314 131.2 L313 131.2 L312 131.2 L311 131.2 L310 131.2 L309 131.2 L308 131.2 L307 131.2 L306 131.2 L306 131.5 L305 131.5 L304 131.5 L303 131.5 L302 131.5 L301 131.5 L301 131.3 L300 131.3 L299 131.3 L298 131.3 L298 131.9 L296.9 131.9 L295.9 131.9 L294.9 131.9 L293.9 131.9 L292.9 131.9 L291.9 131.9 L291.9 131.1 L290.9 131.1 L289.9 131.1 L288.9 131.1 L288.9 130.6 L287.9 130.6 L286.9 130.6 L286.9 131.5 L285.9 131.5 L284.9 131.5 L283.9 131.5 L282.9 131.5 L281.9 131.5 L280.9 131.5 L280.9 131.9 L279.9 131.9 L278.9 131.9 L277.9 131.9 L276.9 131.9 L275.9 131.9 L274.9 131.9 L274.9 132.5 L273.9 132.5 L272.9 132.5 L272.9 131.7 L271.9 131.7 L270.9 131.7 L269.9 131.7 L268.9 131.7 L267.9 131.7 L267.9 131.1 L266.9 131.1 L265.9 131.1 L264.9 131.1 L263.9 131.1 L262.9 131.1 L262.9 132.5 L261.9 132.5 L260.9 132.5 L260.9 132.8 L259.7 132.8 L259.7 133.1 L258.4 133.1 L257.4 133.1 L256.4 133 L255.4 133 L254.4 132.9 L253.4 132.9 L253.4 131.8 L252.4 131.8 L251.4 131.8 L250.4 131.7 L249.4 131.7 L249.4 131.4 L248.4 131.4 L247.4 131.3 L246.4 131.3 L245.4 131.2 L245.4 131.4 L244.4 131.4 L243.4 131.4 L243.4 132.9 L242.2 132.9 L242.2 131.4 L240.9 131.4 L239.9 131.4 L239.9 132.3 L238.9 132.3 L237.8 132.3 L236.8 132.3 L235.8 132.3 L234.8 132.3 L233.7 132.3 L232.7 132.4 L231.7 132.4 L230.7 132.4 L229.6 132.4 L228.6 132.4 L228.6 131.4 L227.6 131.4 L226.5 131.4 L225.5 131.4 L225.5 131 L224.5 131 L223.5 131 L223.5 132 L222.2 132 L222.2 133 L221 133 L221 134.2 L219.7 134.2 L219.7 137.1 L218.5 137.1 L218.5 134.8 L217.2 134.8 L217.2 132.1 L216 132.1 L214.9 132.1 L213.9 132.1 L213.9 131.4 L212.8 131.4 L211.7 131.4 L210.7 131.4 L210.7 131.9 L209.6 131.9 L208.6 131.9 L208.6 132.5 L207.5 132.5 L206.5 132.5 L206.5 131.3 L205.4 131.3 L204.4 131.3 L203.3 131.3 L202.2 131.3Z" fill="rgba(115,170,90,0.45)"/>
<path d="M202.2 128.6 L203.3 128.7 L204.4 128.7 L204.4 129.2 L205.5 129.2 L206.6 129.2 L206.6 127.5 L207.7 127.5 L208.8 127.5 L209.9 127.5 L211 127.5 L212.2 127.5 L212.2 127.9 L213.5 128.1 L214.7 128.3 L216 128.3 L216 131.3 L217.2 131.3 L217.2 134.3 L218.5 134.3 L218.5 138 L219.7 138 L219.7 143.5 L221 143.5 L221 147.1 L222.2 147.1 L222.2 151.8 L223.5 151.8 L223.5 155.3 L224.7 155.3 L224.7 158 L226 158 L226 160.2 L227.2 160.2 L227.2 162.1 L228.5 162.1 L228.5 163.1 L229.7 163.1 L229.7 164.1 L230.9 164.1 L230.9 165.2 L232.2 165.2 L232.2 166.6 L233.4 166.6 L233.4 168.6 L234.7 168.6 L234.7 170.4 L235.9 170.4 L235.9 171.9 L237.2 171.9 L237.2 173.3 L238.4 173.3 L238.4 174.7 L239.7 174.7 L239.7 176.6 L240.9 176.6 L240.9 178.5 L242.2 178.5 L242.2 180.4 L243.4 180.4 L243.4 182.6 L244.7 182.6 L244.7 184.9 L245.9 184.9 L245.9 187.2 L247.2 187.2 L247.2 187.9 L248.4 187.9 L248.4 189.4 L249.7 189.4 L249.7 190.9 L250.9 190.9 L250.9 193 L252.2 193 L252.2 195.1 L253.4 195.1 L253.4 197.2 L254.4 197.3 L255.4 197.3 L255.4 197.9 L256.4 198.1 L257.4 198.2 L258.4 198.4 L259.4 198.4 L260.4 198.4 L261.4 198.4 L262.4 198.5 L263.4 198.4 L264.4 198.4 L265.4 198.4 L265.4 197.9 L266.4 197.9 L267.4 197.9 L268.4 198 L269.4 198 L269.4 199.2 L270.4 199.2 L271.4 199.2 L271.4 197.9 L272.4 197.9 L273.4 197.9 L274.4 198 L275.4 198 L276.4 198 L276.4 198.4 L277.4 198.5 L278.4 198.5 L279.4 198.5 L279.4 199.6 L280.4 199.6 L281.4 199.7 L282.4 199.7 L283.4 199.7 L283.4 197.3 L284.6 197.3 L284.6 185.9 L285.9 185.9 L285.9 176.1 L287.1 176.1 L287.1 162.8 L288.4 162.8 L288.4 150.6 L289.6 150.6 L289.6 148.1 L290.9 148.1 L290.9 145.6 L292.1 145.6 L292.1 143.9 L293.4 143.9 L293.4 143.1 L294.6 143.1 L294.6 141.4 L295.9 141.4 L295.9 139.8 L297.1 139.8 L297.1 138.6 L298.3 138.6 L298.3 138 L299.3 138 L299.3 137.4 L300.3 137.4 L300.3 136.8 L301.3 136.8 L301.3 136.2 L302.3 136.2 L302.3 135.5 L303.3 135.5 L303.3 134.9 L304.3 134.9 L304.3 132.6 L305.3 132.6 L305.3 132.1 L306.3 132.1 L306.3 132.8 L307.3 132.8 L307.3 131.9 L308.3 131.9 L308.3 131.1 L309.4 131 L310.5 131 L311.5 131 L312.6 131 L312.6 130.2 L313.7 130.2 L314.8 130.1 L315.8 130.1 L316.8 130.1 L317.8 130.1 L317.8 129.2 L318.8 129.3 L319.8 129.3 L319.8 130.5 L320.8 130.5 L321.8 130.6 L322.8 130.7 L323.8 130.7 L323.8 131.5 L324.8 131.6 L325.8 131.7 L326.8 131.7 L326.8 130.9 L327.8 131 L328.8 131.1 L329.8 131.2 L330.8 131.3 L331.8 131.4 L332.8 131.5 L333.8 131.5 L333.8 132.6 L334.8 132.7 L335.8 132.9 L336.9 132.9 L336.9 133.1 L337.9 133.1 L337.9 133.4 L339 133.4 L339 133.7 L340.1 133.7 L340.1 132 L341.1 132 L341.1 132.3 L342.2 132.3 L342.2 132.6 L343.3 132.6 L343.3 135 L344.4 134.9 L345.5 134.9 L346.6 134.8 L347.8 134.8 L348.9 134.7 L350 134.7 L350 133.5 L350 146.4 L348.9 146.5 L347.8 146.6 L346.6 146.7 L345.5 146.8 L344.4 146.9 L344.4 147.2 L343.3 147.2 L343.3 147 L342.2 147 L342.2 146.8 L341.1 146.8 L341.1 146.6 L340.1 146.6 L340.1 146.3 L339 146.3 L339 146.1 L337.9 146.1 L337.9 145.8 L336.9 145.8 L336.9 145.5 L335.8 145.5 L334.8 145.5 L333.8 145.4 L333.8 144.9 L332.8 144.9 L331.8 144.8 L330.8 144.8 L330.8 145.6 L329.8 145.6 L328.8 145.5 L327.8 145.5 L326.8 145.4 L325.8 145.4 L324.8 145.4 L324.8 144.9 L323.8 144.9 L322.8 144.9 L321.8 144.8 L321.8 143.8 L320.8 143.8 L319.8 143.8 L318.8 143.7 L318.8 144.2 L317.8 144.2 L316.8 144.2 L315.8 144.2 L315.8 144.4 L314.8 144.4 L313.7 144.5 L312.6 144.5 L311.5 144.6 L311.5 145.4 L310.5 145.4 L309.4 145.5 L308.3 145.6 L308.3 146.5 L307.3 146.5 L307.3 147.4 L306.3 147.4 L306.3 148.5 L305.3 148.5 L305.3 149.3 L304.3 149.3 L304.3 150.6 L303.3 150.6 L303.3 152 L302.3 152 L302.3 153.3 L301.3 153.3 L301.3 154.3 L300.3 154.3 L300.3 155.7 L299.3 155.7 L299.3 157 L298.3 157 L298.3 159.2 L297.1 159.2 L297.1 162.4 L295.9 162.4 L295.9 164.1 L294.6 164.1 L294.6 165.8 L293.4 165.8 L293.4 167.4 L292.1 167.4 L292.1 168.9 L290.9 168.9 L290.9 171.3 L289.6 171.3 L289.6 173.8 L288.4 173.8 L288.4 185.1 L287.1 185.1 L287.1 194.6 L285.9 194.6 L285.9 202.2 L284.6 202.2 L284.6 208.6 L283.4 208.6 L282.4 208.6 L281.4 208.6 L280.4 208.6 L280.4 209.5 L279.4 209.5 L278.4 209.5 L277.4 209.5 L277.4 209.9 L276.4 209.9 L275.4 209.9 L275.4 209.4 L274.4 209.4 L273.4 209.4 L272.4 209.4 L271.4 209.4 L271.4 209.6 L270.4 209.6 L269.4 209.6 L268.4 209.6 L267.4 209.6 L266.4 209.6 L266.4 210.6 L265.4 210.6 L264.4 210.6 L263.4 210.6 L263.4 209.9 L262.4 209.9 L261.4 209.9 L260.4 209.9 L259.4 209.9 L258.4 209.9 L257.4 209.7 L257.4 209.5 L256.4 209.5 L255.4 209.4 L254.4 209.2 L253.4 209.1 L253.4 208.3 L252.2 208.3 L252.2 207.5 L250.9 207.5 L250.9 206.6 L249.7 206.6 L249.7 206.3 L248.4 206.3 L248.4 205.4 L247.2 205.4 L247.2 205.2 L245.9 205.2 L245.9 203.3 L244.7 203.3 L244.7 201.4 L243.4 201.4 L243.4 200.6 L242.2 200.6 L242.2 199.1 L240.9 199.1 L240.9 197.6 L239.7 197.6 L239.7 195.3 L238.4 195.3 L238.4 194.3 L237.2 194.3 L237.2 193.2 L235.9 193.2 L235.9 192.1 L234.7 192.1 L234.7 190.6 L233.4 190.6 L233.4 188.7 L232.2 188.7 L232.2 186.4 L230.9 186.4 L230.9 184.9 L229.7 184.9 L229.7 184.1 L228.5 184.1 L228.5 182.6 L227.2 182.6 L227.2 179.8 L226 179.8 L226 177.1 L224.7 177.1 L224.7 172.7 L223.5 172.7 L223.5 168.7 L222.2 168.7 L222.2 163.5 L221 163.5 L221 157.2 L219.7 157.2 L219.7 150.7 L218.5 150.7 L218.5 144.4 L217.2 144.4 L217.2 138.7 L216 138.7 L216 133 L214.7 133 L214.7 132.7 L213.5 132.7 L213.5 132.4 L212.2 132.4 L211 132.3 L209.9 132.2 L208.8 132 L207.7 131.9 L206.6 131.8 L205.5 131.7 L204.4 131.7 L203.3 131.6 L202.2 131.5Z" fill="rgba(65,90,165,0.38)"/>
<path d="M372.2 128.3 L373.3 128.3 L374.3 128.2 L375.3 128.2 L375.3 126.2 L376.4 126.2 L377.4 126.2 L378.4 126.2 L378.4 126.8 L379.5 126.7 L380.5 126.7 L381.5 126.6 L382.6 126.5 L383.6 126.5 L384.6 126.5 L384.6 126.9 L385.6 126.9 L386.7 126.8 L387.7 126.8 L388.7 126.8 L388.7 126.2 L389.8 126.2 L390.8 126.2 L390.8 128.1 L391.8 128 L392.9 128 L393.9 128 L393.9 125.9 L394.9 125.9 L396 125.9 L397 126 L398.1 126.2 L399.2 126.3 L400.2 126.5 L401.3 126.5 L401.3 127.1 L402.4 127.2 L403.4 127.2 L403.4 127.6 L404.7 127.6 L404.7 129.4 L405.9 129.4 L405.9 131.2 L406.9 131.2 L406.9 131.5 L407.9 131.5 L407.9 131.7 L408.9 131.7 L408.9 131.9 L409.9 131.9 L409.9 130.9 L410.9 130.9 L410.9 131.1 L412 131.1 L413.1 131 L414.1 131 L415.2 131 L415.2 132 L416.3 132 L417.4 132 L418.4 132 L419.4 132 L419.4 132.2 L420.4 132.2 L420.4 132.4 L421.4 132.4 L421.4 132.2 L422.4 132.2 L422.4 132.5 L423.4 132.5 L423.4 132.7 L424.7 132.7 L424.7 133.9 L425.9 133.9 L425.9 135.2 L427.2 135.2 L427.2 135.7 L428.2 135.7 L429.2 135.7 L430.2 135.7 L431.2 135.7 L431.2 136.1 L432.2 136.1 L433.4 136.1 L433.4 134.6 L434.6 134.6 L434.6 132.7 L435.9 132.7 L435.9 135.2 L437.1 135.2 L437.1 137.7 L438.4 137.7 L438.4 138.6 L439.6 138.6 L439.6 139.7 L440.9 139.7 L440.9 140.6 L441.9 140.7 L443 140.8 L444 140.8 L445 140.8 L445 140.5 L446.1 140.5 L447.1 140.6 L448.2 140.6 L449.2 140.5 L450.2 140.6 L451.3 140.6 L451.3 139.7 L452.3 139.8 L453.4 139.8 L454.6 139.8 L454.6 138.7 L455.9 138.7 L455.9 136.3 L457.1 136.3 L457.1 134.4 L458.4 134.4 L458.4 132.4 L459.6 132.4 L459.6 130.5 L460.6 130.4 L461.7 130.4 L461.7 131 L462.7 130.9 L463.8 130.9 L464.8 130.9 L464.8 130.4 L465.9 130.3 L466.9 130.3 L466.9 129.9 L467.9 130 L469 130.1 L470 130.2 L471.1 130.3 L472.1 130.4 L473.1 130.4 L473.1 131.4 L474.2 131.6 L475.2 131.7 L476.3 131.8 L477.3 131.9 L478.3 131.9 L478.3 132.1 L479.4 132.1 L480.4 132.1 L480.4 130.9 L481.5 130.9 L482.5 130.9 L483.5 130.9 L484.6 130.9 L485.6 130.9 L485.6 132.1 L486.7 132.1 L487.7 132.1 L488.7 132.1 L488.7 131.3 L489.8 131.3 L490.8 131.3 L490.8 131.7 L491.8 131.6 L492.8 131.5 L493.8 131.4 L494.8 131.3 L495.8 131.5 L496.8 131.4 L497.8 131.4 L497.8 130.9 L498.8 130.8 L499.8 130.8 L499.8 130.4 L500.8 130.3 L501.8 130.3 L501.8 130.8 L502.8 130.8 L503.8 130.7 L504.8 130.8 L505.8 130.7 L506.8 130.7 L506.8 131 L507.8 131 L507.8 131.2 L508.8 131.2 L508.8 131.5 L509.8 131.5 L509.8 131.8 L510.8 131.8 L510.8 132.1 L511.8 132.1 L511.8 131.6 L512.8 131.6 L512.8 131.1 L513.8 131.1 L513.8 130.3 L514.8 130.3 L514.8 129.8 L515.8 129.8 L515.8 129.3 L516.8 129.1 L517.9 129.1 L519 128.9 L520 128.8 L520 135 L520 135.6 L519 135.6 L517.9 135.8 L516.8 135.9 L515.8 136 L515.8 136.5 L514.8 136.5 L514.8 137 L513.8 137 L512.8 137.1 L512.8 137.6 L511.8 137.6 L511.8 138.1 L510.8 138.1 L510.8 138.4 L509.8 138.4 L509.8 138.2 L508.8 138.2 L508.8 137.9 L507.8 137.9 L507.8 137.7 L506.8 137.7 L506.8 137.4 L505.8 137.4 L504.8 137.6 L503.8 137.6 L502.8 137.7 L501.8 137.8 L501.8 137.6 L500.8 137.6 L499.8 137.7 L498.8 137.8 L497.8 137.8 L497.8 137.3 L496.8 137.3 L495.8 137.4 L494.8 137.5 L494.8 139 L493.8 139 L492.8 139.1 L492.8 137.3 L491.8 137.3 L490.8 137.4 L489.8 137.4 L488.7 137.4 L488.7 137.8 L487.7 137.8 L486.7 137.8 L485.6 137.8 L484.6 137.8 L484.6 138.8 L483.5 138.8 L482.5 138.8 L481.5 138.8 L480.4 138.8 L479.4 138.8 L478.3 138.9 L477.3 138.8 L476.3 138.7 L476.3 139.6 L475.2 139.6 L474.2 139.5 L473.1 139.3 L473.1 137.9 L472.1 137.9 L471.1 137.8 L471.1 136.2 L470 136.2 L469 136.1 L467.9 136 L466.9 135.9 L465.9 135.8 L465.9 137.2 L464.8 137.2 L464.8 137.6 L463.8 137.6 L463.8 138.1 L462.7 138.1 L462.7 138.5 L461.7 138.5 L461.7 138.9 L460.6 138.9 L460.6 139.4 L459.6 139.4 L459.6 142 L458.4 142 L458.4 144.4 L457.1 144.4 L457.1 146.7 L455.9 146.7 L455.9 149.5 L454.6 149.5 L454.6 152.3 L453.4 152.3 L452.3 152.2 L451.3 152.1 L451.3 152.6 L450.2 152.6 L449.2 152.5 L448.2 152.4 L447.1 152.3 L446.1 152.2 L446.1 152.9 L445 152.9 L444 152.8 L444 152.1 L443 152.1 L441.9 152 L440.9 151.9 L440.9 149.5 L439.6 149.5 L439.6 148.5 L438.4 148.5 L438.4 147.5 L437.1 147.5 L437.1 145 L435.9 145 L435.9 142.5 L434.6 142.5 L434.6 145 L433.4 145 L433.4 146.8 L432.2 146.8 L431.2 146.8 L430.2 146.8 L429.2 146.8 L428.2 146.8 L427.2 146.8 L427.2 145.5 L425.9 145.5 L425.9 145.2 L424.7 145.2 L424.7 144 L423.4 144 L423.4 143.7 L422.4 143.7 L422.4 143.4 L421.4 143.4 L420.4 143.2 L420.4 143 L419.4 143 L419.4 142.3 L418.4 142.3 L417.4 142.3 L416.3 142.3 L415.2 142.2 L414.1 142.1 L414.1 141.6 L413.1 141.6 L412 141.5 L410.9 141.4 L410.9 142.2 L409.9 142.2 L409.9 141.9 L408.9 141.9 L408.9 141.6 L407.9 141.6 L407.9 141.3 L406.9 141.3 L406.9 141 L405.9 141 L405.9 138.7 L404.7 138.7 L404.7 136.8 L403.4 136.8 L403.4 136.6 L402.4 136.6 L402.4 136.3 L401.3 136.3 L401.3 136.1 L400.2 136.1 L400.2 134.5 L399.2 134.5 L399.2 134.3 L398.1 134.3 L398.1 134.1 L397 134.1 L397 133.8 L396 133.8 L396 135 L394.9 135 L393.9 135 L392.9 134.9 L391.8 134.9 L390.8 134.8 L389.8 134.7 L389.8 134.3 L388.7 134.3 L387.7 134.2 L387.7 133 L386.7 133 L385.6 133 L385.6 133.5 L384.6 133.5 L383.6 133.5 L382.6 133.4 L381.5 133.3 L380.5 133.3 L379.5 133.2 L378.4 133.2 L377.4 133.1 L376.4 133.1 L376.4 133.6 L375.3 133.6 L374.3 133.5 L373.3 133.5 L372.2 133.4Z" fill="rgba(65,90,165,0.38)"/>
<path d="M372.2 130.6 L373.3 130.5 L374.3 130.5 L375.4 130.5 L375.4 129.7 L376.4 129.6 L377.4 129.6 L378.5 129.5 L379.7 129.5 L379.7 130.7 L381 130.7 L381 131.9 L382 131.9 L382 132.2 L383 132.2 L383 131.8 L384 131.8 L384 131.5 L385 131.5 L385 131.2 L386 131.2 L386 130.9 L387 130.9 L387 131.4 L388 131.4 L388 132.3 L389 132.3 L389 132.7 L390 132.7 L390 133.2 L391 133.2 L391 133.6 L392.2 133.6 L392.2 136.6 L393.5 136.6 L393.5 133.6 L394.7 133.6 L394.7 130.7 L395.8 130.6 L396.9 130.6 L398 130.6 L398 130.8 L399.1 130.8 L400.2 130.8 L400.2 131.6 L401.3 131.5 L402.4 131.3 L403.4 131.1 L404.4 131.1 L404.4 130.8 L405.4 130.8 L405.4 129.8 L406.4 129.8 L406.4 129.4 L407.4 129.4 L407.4 129.1 L408.4 129.1 L408.4 128.7 L409.4 128.7 L409.4 129.1 L410.4 129.1 L410.4 129.4 L411.4 129.3 L412.4 129.3 L412.4 129.7 L413.4 129.7 L413.4 130 L414.4 130 L414.4 130.3 L415.4 130.3 L415.4 129.6 L416.4 129.6 L416.4 129.8 L417.4 129.8 L417.4 130.1 L418.4 130.1 L418.4 130.3 L419.5 130.2 L420.6 130.2 L420.6 131.2 L421.6 131 L422.7 130.8 L423.8 130.6 L424.8 130.4 L425.9 130.3 L427 130.3 L427 130.5 L428 130.6 L429.1 130.8 L430.2 130.8 L430.2 131.3 L431.3 131.5 L432.3 131.6 L433.4 131.8 L434.4 131.8 L434.4 131.6 L435.4 131.6 L435.4 131.3 L436.4 131.3 L436.4 131 L437.4 131 L437.4 130.8 L438.4 130.8 L439.6 130.8 L439.6 129.9 L440.9 129.9 L440.9 129.1 L441.9 129.1 L441.9 130.2 L442.9 130.2 L442.9 130.4 L443.9 130.4 L443.9 131.5 L444.9 131.5 L444.9 133.8 L445.9 133.8 L445.9 134.9 L446.9 134.9 L446.9 134.7 L447.9 134.7 L447.9 134.4 L448.9 134.4 L448.9 134.2 L449.9 134.2 L449.9 133.5 L450.9 133.5 L450.9 133.2 L451.9 133.2 L451.9 132.7 L452.9 132.7 L452.9 132.2 L453.9 132.2 L453.9 130.2 L454.9 130.2 L454.9 129.7 L455.9 129.7 L455.9 130.3 L456.9 130.3 L456.9 130.6 L457.9 130.6 L457.9 130.8 L458.9 130.8 L458.9 131.1 L459.9 131.1 L459.9 131.3 L460.9 131.3 L460.9 131.6 L461.9 131.6 L461.9 131.2 L462.9 131.2 L462.9 130.9 L463.9 130.9 L463.9 130.7 L464.9 130.7 L464.9 130.4 L465.9 130.4 L465.9 130.2 L466.8 130.2 L467.8 130.2 L467.8 129.5 L468.8 129.5 L469.8 129.5 L470.8 129.5 L471.8 129.5 L471.8 129.3 L472.8 129.3 L472.8 129 L473.8 129 L473.8 128.8 L474.8 128.8 L474.8 128.5 L475.8 128.5 L475.8 129.1 L476.9 129.1 L476.9 129.4 L478 129.4 L478 129.7 L479 129.7 L479 129.9 L480.1 129.9 L480.1 130.7 L481.2 130.7 L481.2 131 L482.3 131 L482.3 131.2 L483.3 131.2 L483.3 131.5 L484.4 131.5 L484.4 131.2 L485.5 131.2 L485.5 131 L486.5 131 L486.5 129.7 L487.6 129.7 L487.6 129.4 L488.7 129.4 L488.7 129.8 L489.7 129.8 L489.7 129.6 L490.8 129.6 L490.8 129.3 L491.9 129.5 L493 129.6 L494 129.8 L495.1 129.8 L495.1 129.4 L496.2 129.6 L497.2 129.8 L498.3 129.9 L499.4 129.9 L500.4 129.9 L501.5 129.9 L501.5 131.4 L502.6 131.4 L503.7 131.4 L504.7 131.4 L505.8 131.4 L506.8 131.4 L506.8 131.1 L507.8 131.1 L507.8 129.8 L508.8 129.8 L508.8 129.6 L509.8 129.6 L509.8 129 L510.8 129 L510.8 128.7 L511.8 128.7 L511.8 128.5 L512.8 128.5 L512.8 128.2 L513.8 128.2 L513.8 128 L514.8 128 L514.8 127.7 L515.8 127.7 L516.8 127.7 L517.9 127.7 L519 127.7 L520 127.7 L520 135.7 L519 135.7 L517.9 135.7 L517.9 134.7 L516.8 134.7 L515.8 134.7 L515.8 134.9 L514.8 134.9 L514.8 135.2 L513.8 135.2 L513.8 135.4 L512.8 135.4 L512.8 135.7 L511.8 135.7 L510.8 135.8 L510.8 136 L509.8 136 L509.8 136.3 L508.8 136.3 L508.8 136.5 L507.8 136.5 L507.8 136.8 L506.8 136.8 L506.8 137.1 L505.8 137.1 L504.7 137.1 L503.7 137.1 L502.6 137.1 L501.5 137.1 L500.4 137.1 L500.4 137.4 L499.4 137.4 L498.3 137.4 L497.2 137.3 L497.2 138.1 L496.2 138.1 L495.1 137.9 L494 137.7 L493 137.5 L493 135.8 L491.9 135.8 L490.8 135.7 L490.8 136 L489.7 136 L489.7 136.3 L488.7 136.3 L488.7 136.6 L487.6 136.6 L487.6 137.3 L486.5 137.3 L486.5 137.6 L485.5 137.6 L484.4 137.7 L484.4 138 L483.3 138 L483.3 137.7 L482.3 137.7 L482.3 137.4 L481.2 137.4 L481.2 137.2 L480.1 137.2 L480.1 136.9 L479 136.9 L478 136.7 L478 136.4 L476.9 136.4 L476.9 136.2 L475.8 136.2 L475.8 136.4 L474.8 136.4 L474.8 136.7 L473.8 136.7 L473.8 136.9 L472.8 136.9 L472.8 137.2 L471.8 137.2 L471.8 137.4 L470.8 137.4 L469.8 137.5 L468.8 137.5 L467.8 137.4 L466.8 137.4 L465.9 137.4 L465.9 137.7 L464.9 137.7 L464.9 137.9 L463.9 137.9 L463.9 138.2 L462.9 138.2 L462.9 139.1 L461.9 139.1 L461.9 139.4 L460.9 139.4 L460.9 139.1 L459.9 139.1 L458.9 139.2 L458.9 139 L457.9 139 L457.9 137.9 L456.9 137.9 L456.9 137.7 L455.9 137.7 L455.9 138.2 L454.9 138.2 L454.9 138.7 L453.9 138.7 L453.9 139.2 L452.9 139.2 L452.9 139.7 L451.9 139.7 L451.9 140.1 L450.9 140.1 L450.9 140.3 L449.9 140.3 L449.9 140.6 L448.9 140.6 L448.9 140.8 L447.9 140.8 L447.9 141.1 L446.9 141.1 L446.9 141.5 L445.9 141.5 L445.9 140.4 L444.9 140.4 L444.9 139.3 L443.9 139.3 L443.9 137.9 L442.9 137.9 L442.9 136.8 L441.9 136.8 L441.9 136.4 L440.9 136.4 L440.9 137.2 L439.6 137.2 L439.6 138.1 L438.4 138.1 L438.4 138.4 L437.4 138.4 L437.4 138.6 L436.4 138.6 L436.4 138.9 L435.4 138.9 L434.4 138.9 L434.4 139.2 L433.4 139.2 L432.3 139 L432.3 139.6 L431.3 139.6 L430.2 139.4 L430.2 138.2 L429.1 138.2 L428 138 L427 137.9 L425.9 137.7 L424.8 137.9 L423.8 138.1 L423.8 139.2 L422.7 139.2 L421.6 139.4 L421.6 139 L420.6 139 L419.5 139.2 L418.4 139.4 L418.4 139.2 L417.4 139.2 L417.4 139.4 L416.4 139.4 L416.4 139.2 L415.4 139.2 L415.4 138.9 L414.4 138.9 L414.4 138.7 L413.4 138.7 L413.4 138.4 L412.4 138.4 L412.4 138 L411.4 138 L411.4 136.3 L410.4 136.3 L410.4 136 L409.4 136 L408.4 135.8 L408.4 136.2 L407.4 136.2 L407.4 136.5 L406.4 136.5 L406.4 136.9 L405.4 136.9 L405.4 137.3 L404.4 137.3 L403.4 137.2 L402.4 137.4 L402.4 139 L401.3 139 L400.2 139.2 L399.1 139.3 L399.1 139 L398 139 L398 140.1 L396.9 140.1 L396.9 141.3 L395.8 141.3 L395.8 142.4 L394.7 142.4 L394.7 146.6 L393.5 146.6 L393.5 151.2 L392.2 151.2 L392.2 148.6 L391 148.6 L391 147.5 L390 147.5 L390 146.6 L389 146.6 L389 145.8 L388 145.8 L388 144.9 L387 144.9 L386 144.8 L385 144.7 L384 144.6 L383 144.7 L382 144.6 L381 144.5 L381 142.8 L379.7 142.8 L379.7 141.1 L378.5 141.1 L378.5 140.7 L377.4 140.7 L377.4 140.4 L376.4 140.4 L376.4 140 L375.4 140 L375.4 139.6 L374.3 139.6 L374.3 139.2 L373.3 139.2 L373.3 138.9 L372.2 138.9Z" fill="rgba(228,95,110,0.4)"/>
<path d="M372.2 129.5 L373.3 129.5 L374.4 129.5 L374.4 129.8 L375.4 129.8 L376.5 129.8 L377.5 129.8 L378.6 129.8 L379.6 129.8 L380.7 129.8 L380.7 129.3 L381.7 129.3 L382.8 129.3 L383.9 129.3 L384.9 129.3 L386 129.3 L387 129.3 L387 130 L388 130 L388 130.3 L389 130.3 L389 130.7 L390 130.7 L390 131 L391 131 L391 131.4 L392.2 131.4 L392.2 130.5 L393.5 130.5 L393.5 129.8 L394.5 129.6 L395.5 129.5 L396.5 129.5 L396.5 129 L397.5 128.8 L398.5 128.7 L399.4 128.5 L400.4 128.5 L400.4 129.1 L401.4 129 L402.4 128.8 L403.4 128.9 L404.4 128.9 L405.4 129 L406.4 129 L407.4 129 L407.4 128.5 L408.4 128.5 L409.4 128.5 L410.4 128.6 L411.4 128.6 L412.4 128.6 L413.4 128.6 L413.4 129.2 L414.4 129.2 L415.4 129.2 L416.4 129.2 L416.4 128.8 L417.4 128.8 L418.4 128.8 L419.4 128.9 L420.4 128.9 L421.4 128.9 L422.4 128.9 L422.4 128.5 L423.4 128.5 L424.4 128.5 L425.4 128.5 L425.4 128.9 L426.4 128.9 L427.4 128.9 L428.4 128.9 L429.4 128.9 L429.4 128.7 L430.4 128.7 L430.4 128.9 L431.4 128.9 L431.4 128.7 L432.4 128.7 L432.4 128.4 L433.4 128.4 L433.4 128.2 L434.4 128.2 L435.5 128.2 L435.5 127.3 L436.5 127.4 L437.5 127.5 L438.5 127.5 L438.5 128.8 L439.6 128.9 L440.6 128.9 L441.6 129 L442.6 129 L442.6 127.8 L443.7 127.9 L444.7 127.9 L445.7 128 L446.8 128.1 L447.8 128.2 L448.8 128.2 L448.8 128.7 L449.8 128.8 L450.9 128.8 L451.9 128.9 L452.9 128.8 L453.9 128.9 L454.9 129.1 L455.9 129.2 L456.9 129.2 L456.9 129.6 L457.9 129.7 L458.9 129.8 L459.9 129.8 L460.9 129.9 L461.9 130.1 L462.9 130.2 L463.9 130.3 L464.9 130.4 L465.9 130.4 L465.9 130.9 L466.9 131 L467.9 131 L467.9 130.7 L469 130.8 L470 130.8 L470 130.1 L471.1 130.1 L472.1 130.2 L473.1 130.2 L474.2 130.2 L474.2 130.6 L475.2 130.7 L476.3 130.7 L476.3 131 L477.3 131 L478.3 131.1 L479.4 131.1 L479.4 131.5 L480.4 131.6 L481.5 131.7 L482.5 131.8 L483.5 131.8 L483.5 130.9 L484.6 131 L485.6 131 L485.6 131.9 L486.7 132 L487.7 132.1 L488.7 132.2 L489.8 132.3 L490.8 132.4 L491.8 132.4 L491.8 132.7 L492.8 132.7 L493.8 132.6 L494.8 132.6 L495.8 132.7 L496.8 132.7 L497.8 132.6 L498.8 132.8 L499.8 132.8 L500.8 132.8 L500.8 132 L501.9 132 L501.9 132.2 L502.9 132.2 L502.9 132.5 L504 132.5 L504 132.7 L505.1 132.7 L505.1 133 L506.1 133 L506.1 133.2 L507.2 133.2 L507.2 132.9 L508.3 132.9 L508.3 133.1 L509.5 133.1 L509.5 135 L510.8 135 L510.8 137.2 L512 137.2 L512 133.5 L513.3 133.5 L513.3 129.7 L514.4 129.9 L515.5 129.8 L516.6 129.7 L517.8 129.6 L518.9 129.5 L520 129.4 L520 133.6 L520 133.9 L518.9 133.9 L518.9 134.2 L517.8 134.2 L517.8 134.5 L516.6 134.5 L516.6 134.9 L515.5 134.9 L515.5 135.3 L514.4 135.3 L514.4 138.1 L513.3 138.1 L513.3 144.8 L512 144.8 L512 150.6 L510.8 150.6 L510.8 148.3 L509.5 148.3 L509.5 143.6 L508.3 143.6 L508.3 141 L507.2 141 L507.2 138.4 L506.1 138.4 L506.1 137.9 L505.1 137.9 L505.1 137.7 L504 137.7 L504 137.4 L502.9 137.4 L501.9 137.5 L501.9 137.3 L500.8 137.3 L500.8 138.1 L499.8 138.1 L498.8 138.1 L497.8 138.2 L496.8 138.2 L495.8 138.3 L495.8 136.4 L494.8 136.4 L493.8 136.4 L492.8 136.5 L492.8 137.9 L491.8 137.9 L490.8 138 L489.8 137.9 L489.8 136.8 L488.7 136.8 L487.7 136.7 L486.7 136.6 L485.6 136.5 L484.6 136.4 L483.5 136.3 L483.5 135.8 L482.5 135.8 L481.5 135.7 L480.4 135.5 L479.4 135.4 L479.4 136.3 L478.3 136.3 L477.3 136.2 L476.3 136.1 L475.2 136.1 L474.2 136 L474.2 134.7 L473.1 134.7 L472.1 134.6 L472.1 136.2 L471.1 136.2 L470 136.1 L469 136 L467.9 136 L467.9 135.1 L466.9 135.1 L465.9 135 L464.9 134.9 L464.9 134.5 L463.9 134.5 L462.9 134.4 L461.9 134.3 L460.9 134.2 L460.9 134.7 L459.9 134.7 L458.9 134.6 L457.9 134.5 L456.9 134.4 L456.9 133.9 L455.9 133.9 L454.9 133.8 L453.9 133.7 L453.9 134.5 L452.9 134.5 L451.9 134.4 L450.9 134.2 L449.8 134.2 L448.8 134.1 L447.8 133.9 L446.8 133.9 L446.8 132 L445.7 132 L444.7 131.9 L443.7 131.9 L442.6 131.8 L442.6 133 L441.6 133 L440.6 132.9 L440.6 133.2 L439.6 133.2 L438.5 133.1 L437.5 133 L436.5 132.9 L436.5 132.1 L435.5 132.1 L434.4 132 L433.4 132 L433.4 132.2 L432.4 132.2 L432.4 132.6 L431.4 132.6 L431.4 132.8 L430.4 132.8 L430.4 133.1 L429.4 133.1 L429.4 133.5 L428.4 133.5 L427.4 133.5 L426.4 133.4 L425.4 133.4 L424.4 133.4 L424.4 133.6 L423.4 133.6 L422.4 133.5 L421.4 133.5 L420.4 133.7 L419.4 133.6 L418.4 133.6 L418.4 134 L417.4 134 L416.4 134 L415.4 134 L415.4 132.3 L414.4 132.3 L413.4 132.3 L412.4 132.3 L412.4 133 L411.4 133 L410.4 133 L409.4 132.9 L408.4 132.9 L407.4 132.9 L407.4 132.3 L406.4 132.3 L405.4 132.2 L404.4 132.2 L403.4 132.2 L402.4 132.3 L402.4 134.1 L401.4 134.1 L400.4 134.3 L399.4 134.4 L399.4 133.2 L398.5 133.2 L397.5 133.3 L396.5 133.5 L395.5 133.6 L395.5 134.1 L394.5 134.1 L393.5 134.3 L393.5 135.1 L392.2 135.1 L391 135.2 L391 134.9 L390 134.9 L389 134.8 L389 134.4 L388 134.4 L388 134.1 L387 134.1 L387 133.7 L386 133.7 L384.9 133.7 L384.9 134.2 L383.9 134.2 L382.8 134.2 L381.7 134.1 L380.7 134.1 L379.6 134.1 L378.6 134.1 L378.6 133.9 L377.5 133.9 L376.5 133.9 L375.4 133.9 L374.4 133.9 L373.3 134 L372.2 134Z" fill="rgba(115,170,90,0.45)"/>
<path d="M536.5 130.2 L537.5 130.4 L538.6 130.6 L539.7 130.7 L540.7 130.9 L541.8 131.1 L542.9 130.9 L544 131.1 L545 131 L546.1 130.9 L547.2 130.9 L547.2 132 L548.2 131.9 L549.3 131.8 L550.4 131.8 L551.4 131.7 L552.5 131.6 L553.6 131.5 L554.7 131.4 L555.7 131.4 L555.7 130.5 L556.8 130.3 L557.9 130.2 L558.9 130.1 L559.9 130.1 L559.9 131.5 L560.9 131.5 L560.9 131.8 L561.9 131.8 L561.9 131.4 L562.9 131.4 L562.9 131.6 L563.9 131.6 L563.9 131.9 L564.9 131.9 L564.9 132.4 L565.9 132.4 L565.9 133.3 L566.9 133.3 L566.9 133.8 L567.9 133.8 L567.9 134.3 L568.9 134.3 L568.9 134.8 L569.9 134.8 L569.9 135.2 L570.9 135.1 L571.9 135.1 L571.9 135.5 L572.9 135.5 L572.9 135.9 L573.9 135.9 L573.9 136.3 L574.9 136.3 L574.9 136.6 L575.9 136.6 L575.9 136.2 L576.9 136.2 L576.9 135.8 L577.9 135.8 L577.9 135.4 L578.9 135.4 L578.9 134.6 L579.9 134.6 L579.9 134.8 L580.9 134.8 L580.9 135.1 L581.9 135.1 L581.9 135.3 L582.9 135.3 L582.9 134.4 L583.9 134.4 L583.9 134.6 L584.9 134.6 L584.9 134.1 L585.9 134.1 L585.9 133.8 L586.9 133.8 L586.9 133.3 L587.9 133.3 L587.9 132.8 L588.9 132.8 L588.9 132.3 L589.9 132.3 L589.9 132.7 L590.9 132.7 L590.9 133 L591.9 133 L591.9 133.8 L592.9 133.8 L592.9 134.1 L593.9 134.1 L593.9 134.5 L594.9 134.5 L594.9 134.8 L595.9 134.8 L595.9 135.1 L596.9 135.1 L596.9 136.4 L597.9 136.4 L597.9 136.7 L598.9 136.7 L598.9 137 L599.9 137 L599.9 136.5 L600.9 136.5 L600.9 135.4 L601.9 135.4 L601.9 134.9 L602.9 134.9 L602.9 134.4 L603.9 134.4 L603.9 133.9 L604.9 133.8 L605.9 133.6 L606.9 133.6 L607.9 133.4 L608.9 133.3 L609.9 133.3 L609.9 133 L610.9 133 L610.9 132.8 L611.9 132.8 L611.9 132.3 L612.9 132.3 L612.9 132.1 L613.9 132.1 L613.9 131.8 L614.9 131.8 L616 131.7 L617.1 131.7 L618.1 131.7 L618.1 132.1 L619.2 132 L620.3 132 L621.3 132 L622.4 132 L622.4 132.3 L623.5 132.3 L623.5 132.6 L624.5 132.6 L624.5 131.5 L625.6 131.5 L625.6 131.8 L626.7 131.8 L626.7 132.2 L627.8 132.2 L627.8 132.5 L628.8 132.5 L628.8 133.8 L629.9 133.8 L629.9 134.1 L631 134.1 L631 134.3 L632 134.3 L632 134.6 L633.1 134.6 L633.1 134.8 L634.2 134.8 L634.2 135.1 L635.2 135.1 L635.2 135.3 L636.3 135.3 L636.3 135.6 L637.3 135.6 L637.3 135.9 L638.3 135.9 L638.3 136.2 L639.3 136.2 L639.3 136.5 L640.3 136.5 L640.3 136.9 L641.3 136.9 L641.3 137.4 L642.3 137.4 L642.3 137 L643.3 137 L643.3 136.7 L644.3 136.7 L644.3 136.1 L645.3 136.1 L645.3 135.8 L646.3 135.8 L646.3 135.4 L647.4 135.4 L647.4 135.2 L648.4 135.2 L648.4 134.9 L649.5 134.9 L649.5 134.6 L650.6 134.6 L650.6 135.2 L651.7 135.2 L651.7 134.9 L652.7 134.9 L652.7 134.6 L653.8 134.6 L653.8 134.3 L654.8 134.3 L654.8 133.6 L655.8 133.6 L655.8 131.7 L656.8 131.7 L656.8 130.9 L657.8 130.9 L657.8 129 L658.8 129 L658.8 128.3 L659.8 128.3 L659.8 129 L660.8 129 L660.8 130.4 L661.8 130.4 L661.8 131.1 L662.8 131.1 L662.8 131.9 L663.8 131.9 L663.8 132.7 L664.8 132.7 L664.8 133.5 L665.8 133.5 L665.8 134.2 L666.8 134.2 L666.8 136.4 L667.8 136.4 L667.8 137.1 L668.8 137.1 L668.8 137.8 L669.8 137.8 L669.8 137.1 L670.8 137.1 L670.8 134.9 L671.8 134.9 L671.8 134.2 L672.8 134.2 L672.8 133.4 L673.8 133.4 L673.8 132.7 L674.8 132.7 L674.8 133.7 L675.8 133.7 L675.8 133.5 L676.8 133.5 L676.8 133.2 L677.8 133.2 L677.8 133 L678.8 133 L678.8 132 L679.8 132 L679.8 131.8 L680.8 131.8 L680.8 131.6 L681.9 131.6 L681.9 131.4 L682.9 131.4 L682.9 131.2 L684 131.2 L684 130.5 L685 130.5 L685 130.3 L685 139.9 L685 140.8 L684 140.8 L684 141.3 L682.9 141.3 L682.9 141.8 L681.9 141.8 L681.9 142.3 L680.8 142.3 L680.8 142.9 L679.8 142.9 L679.8 143.4 L678.8 143.4 L678.8 143.8 L677.8 143.8 L677.8 144.3 L676.8 144.3 L676.8 144.7 L675.8 144.7 L675.8 145.2 L674.8 145.2 L674.8 146 L673.8 146 L673.8 147 L672.8 147 L672.8 148.1 L671.8 148.1 L671.8 149.2 L670.8 149.2 L670.8 150.2 L669.8 150.2 L669.8 150.9 L668.8 150.9 L668.8 150 L667.8 150 L667.8 149.2 L666.8 149.2 L666.8 148.3 L665.8 148.3 L665.8 147.4 L664.8 147.4 L664.8 146.5 L663.8 146.5 L663.8 145.7 L662.8 145.7 L662.8 144.8 L661.8 144.8 L661.8 144.2 L660.8 144.2 L660.8 143.4 L659.8 143.4 L659.8 142.5 L658.8 142.5 L657.8 142.4 L657.8 143.1 L656.8 143.1 L656.8 143.7 L655.8 143.7 L655.8 144.3 L654.8 144.3 L654.8 144.9 L653.8 144.9 L652.7 145.1 L652.7 145.6 L651.7 145.6 L650.6 145.8 L649.5 145.9 L648.4 146.1 L647.4 146.2 L646.3 146.4 L646.3 147.2 L645.3 147.2 L645.3 147.4 L644.3 147.4 L644.3 146.8 L643.3 146.8 L643.3 147 L642.3 147 L642.3 147.2 L641.3 147.2 L640.3 147 L640.3 146.6 L639.3 146.6 L639.3 146.1 L638.3 146.1 L638.3 145.6 L637.3 145.6 L636.3 145.7 L636.3 145.3 L635.2 145.3 L635.2 144.9 L634.2 144.9 L634.2 144.5 L633.1 144.5 L633.1 144.1 L632 144.1 L632 143.7 L631 143.7 L631 142.8 L629.9 142.8 L629.9 142.4 L628.8 142.4 L628.8 141.9 L627.8 141.9 L627.8 141.4 L626.7 141.4 L626.7 141 L625.6 141 L625.6 139.9 L624.5 139.9 L624.5 139.4 L623.5 139.4 L623.5 139.7 L622.4 139.7 L622.4 139.2 L621.3 139.2 L620.3 139.1 L619.2 139.1 L618.1 139 L618.1 139.4 L617.1 139.4 L616 139.3 L614.9 139.2 L613.9 139.1 L612.9 138.9 L612.9 139.2 L611.9 139.2 L611.9 139.4 L610.9 139.4 L610.9 139.7 L609.9 139.7 L609.9 139.9 L608.9 139.9 L607.9 140 L607.9 139.4 L606.9 139.4 L605.9 139.5 L604.9 139.7 L603.9 139.8 L603.9 140.3 L602.9 140.3 L602.9 140.8 L601.9 140.8 L601.9 142.8 L600.9 142.8 L600.9 143.3 L599.9 143.3 L599.9 143.7 L598.9 143.7 L598.9 143.4 L597.9 143.4 L597.9 143.1 L596.9 143.1 L596.9 142.1 L595.9 142.1 L595.9 141.8 L594.9 141.8 L594.9 141.5 L593.9 141.5 L592.9 141.4 L592.9 141.1 L591.9 141.1 L591.9 140.6 L590.9 140.6 L590.9 140.3 L589.9 140.3 L589.9 139.9 L588.9 139.9 L588.9 140.4 L587.9 140.4 L586.9 140.2 L586.9 140.7 L585.9 140.7 L585.9 141.3 L584.9 141.3 L584.9 141.8 L583.9 141.8 L582.9 141.9 L582.9 141.7 L581.9 141.7 L581.9 141.4 L580.9 141.4 L580.9 141.1 L579.9 141.1 L579.9 140.9 L578.9 140.9 L578.9 141.3 L577.9 141.3 L576.9 141.3 L576.9 141.7 L575.9 141.7 L575.9 142.1 L574.9 142.1 L574.9 142.5 L573.9 142.5 L573.9 142.1 L572.9 142.1 L572.9 141.7 L571.9 141.7 L570.9 141.7 L570.9 141.3 L569.9 141.3 L569.9 140.3 L568.9 140.3 L568.9 139.7 L567.9 139.7 L567.9 139.5 L566.9 139.5 L566.9 139 L565.9 139 L565.9 138 L564.9 138 L564.9 137.5 L563.9 137.5 L563.9 137.3 L562.9 137.3 L562.9 137 L561.9 137 L561.9 137.9 L560.9 137.9 L560.9 137.7 L559.9 137.7 L559.9 137.4 L558.9 137.4 L558.9 136.8 L557.9 136.8 L556.8 136.9 L555.7 137 L554.7 137.1 L554.7 136.9 L553.6 136.9 L552.5 137 L551.4 137 L550.4 137 L549.3 137.1 L548.2 137.2 L548.2 138.3 L547.2 138.3 L546.1 138.4 L545 138.5 L544 138.5 L542.9 138.3 L541.8 138.1 L541.8 136.9 L540.7 136.9 L539.7 136.7 L539.7 136.4 L538.6 136.4 L537.5 136.2 L536.5 136Z" fill="rgba(228,95,110,0.4)"/>
<path d="M536.5 129.9 L537.5 129.9 L538.5 129.9 L539.5 129.9 L540.5 129.9 L541.6 129.9 L541.6 129.5 L542.6 129.5 L543.6 129.5 L543.6 129.2 L544.6 129.2 L545.6 129.2 L545.6 128.5 L546.6 128.5 L547.7 128.5 L548.7 128.5 L549.7 128.5 L550.7 128.5 L551.7 128.5 L551.7 129.4 L552.7 129.4 L553.8 129.4 L554.8 129.4 L555.8 129.4 L556.8 129.4 L557.8 129.3 L558.8 129.3 L559.9 129.3 L560.9 129.3 L561.9 129.2 L562.9 129.2 L562.9 128.9 L563.9 128.9 L565 129 L566 129 L567 129.1 L568.1 129.1 L568.1 129.6 L569.1 129.7 L570.2 129.7 L571.2 129.8 L572.2 129.8 L573.3 129.8 L573.3 130.3 L574.3 130.3 L575.4 130.4 L576.4 130.4 L577.4 130.5 L578.5 130.5 L579.5 130.5 L579.5 129.2 L580.6 129.3 L581.6 129.3 L581.6 129.6 L582.6 129.7 L583.7 129.7 L584.7 129.8 L585.8 129.8 L585.8 130.3 L586.8 130.3 L587.8 130.3 L587.8 130.6 L588.9 130.6 L589.9 130.6 L589.9 130 L590.9 130 L591.9 130 L592.9 130 L593.9 130 L593.9 129.7 L594.9 129.7 L595.9 129.7 L596.9 129.8 L597.9 129.8 L598.9 129.7 L599.9 129.7 L600.9 129.7 L601.9 129.7 L602.9 129.7 L603.9 129.7 L603.9 130.5 L604.9 130.5 L605.9 130.5 L605.9 129.7 L606.9 129.7 L607.9 129.7 L607.9 130.6 L608.9 130.6 L609.9 130.6 L610.9 130.6 L611.9 130.6 L611.9 131.5 L612.9 131.5 L613.9 131.5 L614.9 131.5 L614.9 131.2 L615.9 131.2 L617 131.3 L618 131.4 L619.1 131.4 L619.1 130 L620.1 130.1 L621.1 130.1 L622.2 130.1 L622.2 131.4 L623.2 131.5 L624.3 131.5 L625.3 131.5 L626.3 131.6 L627.4 131.7 L628.4 131.8 L629.5 131.9 L630.5 131.9 L630.5 131.7 L631.5 131.8 L632.6 131.9 L633.6 131.9 L633.6 133.1 L634.7 133.2 L635.7 133.3 L636.7 133.4 L637.8 133.4 L637.8 132.4 L638.8 132.5 L639.8 132.5 L639.8 132 L640.8 132 L641.8 132 L642.8 132 L643.8 132 L644.8 132 L645.8 132 L645.8 132.3 L646.8 132.3 L647.8 132.3 L647.8 133.2 L648.8 133.2 L649.8 133.3 L650.8 133.3 L650.8 132.3 L651.8 132.4 L652.8 132.5 L653.8 132.6 L654.8 132.8 L655.8 132.9 L656.8 132.9 L656.8 133.7 L657.8 133.8 L658.8 133.9 L659.8 133.9 L659.8 133.7 L660.8 133.7 L660.8 133.4 L661.8 133.3 L662.8 133.3 L662.8 133 L663.8 133 L663.8 132.8 L664.8 132.8 L664.8 132.4 L665.8 132.4 L665.8 132.2 L666.8 132.2 L666.8 131.9 L667.8 131.9 L667.8 131.7 L668.8 131.7 L668.8 131.4 L669.8 131.3 L670.8 131.3 L671.8 131.2 L672.8 131.1 L673.8 130.9 L674.8 130.8 L675.8 130.8 L675.8 130.3 L676.8 130.2 L677.8 130.2 L677.8 129.9 L678.8 129.8 L679.8 129.7 L680.8 129.6 L681.9 129.5 L682.9 129.5 L684 129.3 L685 129.2 L685 134.3 L684 134.4 L684 135.1 L682.9 135.1 L681.9 135.2 L680.8 135.3 L679.8 135.4 L678.8 135.4 L677.8 135.4 L676.8 135.5 L675.8 135.7 L674.8 135.8 L673.8 135.9 L672.8 136 L672.8 135 L671.8 135 L670.8 135.1 L669.8 135.2 L668.8 135.3 L668.8 135.6 L667.8 135.6 L667.8 135.8 L666.8 135.8 L666.8 136.9 L665.8 136.9 L665.8 137.2 L664.8 137.2 L664.8 137.4 L663.8 137.4 L663.8 138.1 L662.8 138.1 L662.8 138.3 L661.8 138.3 L661.8 138.6 L660.8 138.6 L660.8 138.8 L659.8 138.8 L659.8 139.7 L658.8 139.7 L657.8 139.5 L656.8 139.4 L655.8 139.3 L655.8 136.8 L654.8 136.8 L653.8 136.7 L652.8 136.5 L651.8 136.4 L650.8 136.3 L649.8 136.2 L649.8 137.9 L648.8 137.9 L647.8 137.9 L647.8 137.1 L646.8 137.1 L645.8 137.1 L644.8 137.1 L644.8 137.3 L643.8 137.3 L642.8 137.3 L642.8 136.8 L641.8 136.8 L640.8 136.8 L639.8 136.8 L638.8 136.8 L637.8 136.7 L636.7 136.5 L636.7 137.2 L635.7 137.2 L634.7 137 L633.6 137.2 L632.6 137.1 L632.6 136.5 L631.5 136.5 L630.5 136.4 L629.5 136.3 L628.4 136.2 L627.4 136.1 L626.3 136.1 L625.3 136.1 L624.3 136 L623.2 135.9 L622.2 135.9 L622.2 136.2 L621.1 136.2 L620.1 136.1 L619.1 136.1 L619.1 135.1 L618 135.1 L617 135 L615.9 134.9 L614.9 134.9 L613.9 134.8 L612.9 134.8 L612.9 135 L611.9 135 L610.9 135 L609.9 134.9 L608.9 134.9 L608.9 134.3 L607.9 134.3 L606.9 134.3 L605.9 134.2 L604.9 134.2 L603.9 134.2 L603.9 135.3 L602.9 135.3 L601.9 135.2 L601.9 134.6 L600.9 134.6 L599.9 134.5 L598.9 134.5 L598.9 134.8 L597.9 134.8 L596.9 134.7 L595.9 134.7 L594.9 134.6 L593.9 134.6 L592.9 134.6 L591.9 134.6 L591.9 135.1 L590.9 135.1 L589.9 135.1 L589.9 134.6 L588.9 134.6 L587.8 134.5 L586.8 134.5 L585.8 134.5 L585.8 133.6 L584.7 133.6 L583.7 133.6 L582.6 133.5 L582.6 134.7 L581.6 134.7 L580.6 134.7 L579.5 134.6 L578.5 134.6 L577.4 134.5 L577.4 135.4 L576.4 135.4 L575.4 135.3 L574.3 135.3 L573.3 135.2 L572.2 135.1 L571.2 135.1 L571.2 133.1 L570.2 133.1 L569.1 133 L568.1 132.9 L567 132.9 L566 132.8 L565 132.8 L563.9 132.7 L562.9 132.7 L561.9 132.7 L560.9 132.7 L559.9 132.7 L558.8 132.7 L558.8 133 L557.8 133 L556.8 133 L555.8 133 L554.8 132.9 L553.8 132.9 L552.7 132.9 L551.7 132.8 L550.7 132.8 L550.7 132.1 L549.7 132.1 L548.7 132.1 L547.7 132.1 L547.7 132.6 L546.6 132.6 L545.6 132.6 L545.6 132.9 L544.6 132.9 L543.6 132.9 L542.6 132.9 L541.6 132.7 L540.5 132.7 L539.5 132.7 L538.5 132.7 L537.5 132.7 L536.5 132.7Z" fill="rgba(115,170,90,0.45)"/>
<path d="M536.5 129.2 L537.5 129.4 L538.5 129.6 L539.5 129.7 L540.5 129.6 L541.5 129.8 L542.5 130 L543.5 130 L543.5 129.8 L544.5 129.8 L544.5 129.6 L545.5 129.6 L545.5 129.4 L546.5 129.4 L546.5 129.2 L547.4 129.3 L548.4 129.3 L548.4 129.7 L549.4 129.8 L550.4 129.8 L550.4 130.4 L551.4 130.5 L552.5 130.5 L552.5 130.1 L553.5 130 L554.6 130 L555.6 129.9 L556.6 129.9 L557.7 129.9 L557.7 130.3 L558.7 130.3 L559.8 130.2 L560.8 130.2 L560.8 129.4 L561.8 129.3 L562.9 129.3 L563.9 129.3 L563.9 129.7 L564.9 129.8 L565.9 129.8 L566.9 129.9 L567.9 130 L568.9 130.1 L569.9 130.2 L570.9 130.1 L571.9 130.1 L572.9 130.2 L573.9 130.3 L574.9 130.3 L574.9 130.1 L575.9 130.2 L576.9 130.3 L577.9 130.3 L578.9 130.3 L578.9 131.2 L579.9 131.3 L580.9 131.3 L581.9 131.4 L582.9 131.5 L583.9 131.5 L583.9 131 L584.9 131 L585.9 131 L585.9 130 L586.9 130 L587.9 130 L587.9 130.6 L588.9 130.5 L589.9 130.4 L590.9 130.3 L591.9 130.2 L592.9 130.1 L593.9 130 L594.9 130 L594.9 129.4 L595.9 129.5 L596.9 129.6 L597.9 129.7 L598.9 129.7 L599.9 129.8 L600.9 129.8 L600.9 131.1 L601.9 131.1 L602.9 131.2 L603.9 131.3 L604.9 131.3 L604.9 130.4 L605.9 130.5 L606.9 130.5 L607.9 130.7 L608.9 130.8 L609.9 130.8 L610.9 130.7 L611.9 130.8 L612.9 130.8 L612.9 131.3 L613.9 131.4 L614.8 131.3 L615.8 131.3 L616.8 131.2 L617.8 131.2 L617.8 130.8 L618.8 130.7 L619.8 130.7 L620.8 130.6 L621.8 130.5 L622.8 130.4 L623.8 130.3 L624.8 130.3 L624.8 130.9 L625.8 130.8 L626.8 130.8 L626.8 131.1 L627.8 131 L628.8 130.9 L629.8 130.8 L630.8 130.8 L630.8 130.1 L631.8 130 L632.8 130 L632.8 129.5 L633.8 129.4 L634.8 129.5 L635.8 129.5 L636.8 129.6 L637.8 129.7 L638.8 129.7 L638.8 130.3 L639.8 130.4 L640.8 130.4 L640.8 131.1 L641.8 131.2 L642.8 131.2 L643.8 131.3 L644.8 131.3 L644.8 130.6 L645.8 130.7 L646.8 130.8 L647.8 131 L648.8 131.1 L649.8 131.2 L650.8 131 L651.8 131.2 L652.8 131.3 L653.8 131.4 L654.8 131.4 L654.8 132.7 L655.8 132.7 L656.8 132.7 L657.8 132.7 L658.8 132.7 L659.8 132.7 L660.8 132.8 L661.8 132.8 L662.8 132.8 L663.8 132.9 L664.8 133.1 L665.8 133.2 L666.8 133.4 L667.8 133.5 L668.8 133.7 L669.8 133.9 L670.8 133.9 L670.8 133.3 L671.8 133.5 L672.8 133.5 L672.8 134.9 L673.8 135.1 L674.8 135.2 L675.8 135.3 L676.8 135.3 L676.8 137 L677.8 137.1 L678.8 137.2 L679.8 137.2 L679.8 136.5 L680.8 136.5 L680.8 135.8 L681.9 135.8 L681.9 132.9 L682.9 132.9 L682.9 132.2 L684 132.2 L684 131.5 L685 131.5 L685 130.7 L685 137.1 L685 137.8 L684 137.8 L684 138.5 L682.9 138.5 L682.9 139.2 L681.9 139.2 L681.9 139.9 L680.8 139.9 L680.8 140.6 L679.8 140.6 L679.8 140.3 L678.8 140.3 L677.8 140.2 L676.8 140.1 L675.8 140 L674.8 139.9 L673.8 139.8 L673.8 140.6 L672.8 140.6 L672.8 140.4 L671.8 140.4 L671.8 140.2 L670.8 140.2 L670.8 139.9 L669.8 139.9 L669.8 139.7 L668.8 139.7 L668.8 139.5 L667.8 139.5 L667.8 139.3 L666.8 139.3 L666.8 139.1 L665.8 139.1 L665.8 138.9 L664.8 138.9 L664.8 138 L663.8 138 L662.8 137.9 L661.8 137.9 L660.8 137.8 L660.8 137.4 L659.8 137.4 L658.8 137.4 L657.8 137.3 L656.8 137.3 L656.8 137.5 L655.8 137.5 L654.8 137.5 L653.8 137.4 L652.8 137.3 L651.8 137.2 L651.8 136.7 L650.8 136.7 L649.8 136.6 L648.8 136.4 L647.8 136.5 L646.8 136.3 L645.8 136.2 L645.8 137 L644.8 137 L643.8 136.9 L642.8 136.8 L641.8 136.8 L641.8 136.1 L640.8 136.1 L639.8 136 L638.8 136.1 L637.8 136 L636.8 135.9 L635.8 135.8 L634.8 135.8 L633.8 135.7 L633.8 137.1 L632.8 137.1 L631.8 137.2 L630.8 137.3 L629.8 137.4 L629.8 136 L628.8 136 L627.8 136 L626.8 136.1 L625.8 136.2 L624.8 136.2 L623.8 136.3 L623.8 136.1 L622.8 136.1 L621.8 136.2 L620.8 136.2 L619.8 136.3 L618.8 136.4 L618.8 137.6 L617.8 137.6 L616.8 137.7 L615.8 137.7 L614.8 137.8 L614.8 137 L613.9 137 L612.9 136.9 L611.9 136.8 L610.9 136.7 L609.9 136.6 L609.9 136 L608.9 136 L607.9 135.9 L607.9 137.4 L606.9 137.4 L605.9 137.3 L604.9 137.2 L603.9 137.2 L603.9 136.1 L602.9 136.1 L601.9 136.1 L601.9 136.9 L600.9 136.9 L599.9 136.8 L598.9 136.7 L597.9 136.8 L596.9 136.7 L595.9 136.6 L594.9 136.5 L593.9 136.4 L593.9 134.9 L592.9 134.9 L591.9 135 L590.9 135 L589.9 135.1 L588.9 135.2 L587.9 135.2 L587.9 136.3 L586.9 136.3 L585.9 136.4 L584.9 136.5 L583.9 136.5 L582.9 136.5 L581.9 136.4 L580.9 136.3 L579.9 136.2 L578.9 136.1 L577.9 136 L576.9 135.9 L575.9 135.9 L574.9 135.8 L573.9 135.8 L572.9 135.7 L571.9 135.5 L570.9 135.4 L569.9 135.4 L568.9 135.3 L567.9 135.2 L567.9 134.1 L566.9 134.1 L565.9 134 L564.9 133.9 L563.9 133.8 L563.9 134.3 L562.9 134.3 L561.8 134.3 L560.8 134.3 L559.8 134.4 L558.7 134.4 L557.7 134.4 L556.6 134.5 L556.6 135.7 L555.6 135.7 L554.6 135.7 L553.5 135.8 L552.5 135.8 L551.4 135.8 L550.4 135.7 L550.4 134.1 L549.4 134.1 L548.4 134 L547.4 133.9 L546.5 133.8 L546.5 134.2 L545.5 134.2 L544.5 134.4 L543.5 134.6 L542.5 134.8 L541.5 135 L541.5 134.8 L540.5 134.8 L540.5 134.1 L539.5 134.1 L539.5 133.9 L538.5 133.9 L537.5 134.1 L537.5 133.9 L536.5 133.9Z" fill="rgba(65,90,165,0.38)"/>
<path d="M35 16.9 L36 16.9 L37.1 16.9 L38.2 16.8 L39.2 16.8 L39.2 16.5 L40.3 16.5 L41.3 16.4 L42.4 16.3 L43.4 16.3 L44.5 16.3 L45.6 16.3 L46.6 16.3 L46.6 15.9 L47.7 15.9 L47.7 17.3 L48.7 17.3 L49.8 17.3 L49.8 17.9 L50.8 17.9 L50.8 18.4 L51.8 18.4 L51.8 17.9 L52.9 17.9 L52.9 19.1 L53.9 19.1 L53.9 19.6 L55 19.6 L55 20.2 L56 20.2 L56 20.5 L57.1 20.5 L57.1 21.6 L58.2 21.6 L58.2 22.6 L59.2 22.6 L59.2 24.2 L60.3 24.2 L60.3 25.3 L61.4 25.3 L61.4 25.6 L62.5 25.6 L62.5 26.7 L63.5 26.7 L63.5 28.1 L64.6 28.1 L64.6 30 L65.7 30 L65.7 31.5 L66.7 31.5 L66.7 32.9 L67.8 32.9 L67.8 33.8 L68.9 33.8 L68.9 35.2 L69.9 35.2 L69.9 36.7 L70.9 36.7 L70.9 38.3 L71.9 38.3 L71.9 40.3 L72.9 40.3 L72.9 42.3 L73.9 42.3 L73.9 44.7 L74.9 44.7 L74.9 46.7 L75.9 46.7 L75.9 47.4 L76.9 47.4 L76.9 48.2 L77.9 48.2 L77.9 49.8 L78.9 49.8 L78.9 50.3 L79.9 50.3 L79.9 51.1 L81 51.1 L81 49.8 L82.1 49.8 L82.1 51.5 L83.1 51.7 L84.2 51.9 L85.3 52 L86.3 52 L86.3 52.3 L87.4 52.5 L88.5 52.5 L88.5 52.8 L89.6 52.8 L89.6 53.2 L90.6 53.2 L91.7 53.2 L91.7 53.6 L92.8 53.6 L93.8 53.6 L93.8 54 L94.9 54 L94.9 55.6 L96 55.6 L96 56.3 L97 56.3 L97 57 L98.1 57 L98.1 57.7 L99.2 57.7 L99.2 57.3 L100.3 57.3 L100.3 58 L101.3 58 L101.3 58.7 L102.4 58.7 L102.4 60.4 L103.5 60.4 L103.5 61.2 L104.5 61 L105.6 61 L105.6 62.1 L106.7 62.1 L106.7 62.8 L107.7 62.8 L107.7 63.5 L108.8 63.5 L108.8 64.2 L109.9 64.2 L109.9 64.9 L110.9 64.9 L110.9 65.8 L112 65.8 L112 66.6 L113 66.6 L113 67.4 L114 67.4 L114 68.3 L115.1 68.3 L115.1 69.9 L116.1 69.9 L116.1 70.7 L117.9 70.7 L117.9 60.7 L118.9 60.7 L118.9 56.1 L120 56.1 L120 51.1 L121 51.1 L121 46.5 L122.1 46.5 L122.1 41.4 L123.1 41.4 L123.1 37.9 L124.2 37.9 L124.2 35.5 L125.2 35.5 L125.2 33.2 L126.3 33.2 L126.3 30.1 L127.3 30.1 L127.3 27.8 L128.4 27.8 L128.4 25.4 L129.4 25.4 L129.4 24.6 L130.4 24.6 L130.4 23.4 L131.5 23.4 L131.5 22.9 L132.5 22.9 L132.5 22.2 L133.6 22.2 L133.6 20.9 L134.8 21 L136 21 L136 20.2 L137.2 20.2 L137.2 19.4 L138.3 19.4 L138.3 17.3 L139.3 17.3 L140.3 17.3 L141.3 17.3 L142.3 17.4 L143.3 17.4 L144.3 17.4 L144.3 17.8 L145.3 17.8 L146.3 17.8 L147.3 17.8 L147.3 17.4 L148.3 17.4 L149.3 17.4 L150.3 17.4 L150.3 17.6 L151.3 17.6 L152.3 17.6 L152.3 18.4 L153.3 18.4 L154.3 18.4 L155.3 18.4 L156.3 18.4 L156.3 16.9 L157.3 16.9 L157.3 18.1 L158.3 18.1 L158.3 16.5 L159.3 16.5 L160.3 16.5 L161.3 16.5 L161.3 17.7 L162.3 17.7 L162.3 18.5 L163.3 18.5 L164.3 18.5 L165.3 18.5 L165.3 17.5 L166.3 17.5 L167.3 17.5 L168.3 17.5 L169.3 17.5 L170.3 17.5 L171.3 17.5 L171.3 18.6 L172.3 18.6 L173.3 18.6 L173.3 17.5 L174.3 17.5 L174.3 17.9 L175.3 17.9 L175.3 17.7 L176.3 17.7 L177.3 17.7 L178.3 17.7 L178.3 17.1 L179.3 17.1 L180.3 17.1 L181.3 17.1 L182.3 17.1 L182.3 17.7 L183.3 17.7 L184.3 17.7" fill="none" stroke="#cc2f2f" stroke-width="1.2" stroke-linejoin="round"/>
<path d="M35 16.7 L36 16.7 L37 16.7 L37 17.3 L38 17.3 L38 16.9 L39 16.9 L40 16.9 L41 16.9 L42 16.9 L42 16.5 L43 16.5 L43 17.2 L44 17.2 L45 17.2 L46.2 17.2 L46.2 21.3 L47.5 21.3 L47.5 25.4 L48.5 25.4 L48.5 37.7 L49.5 37.7 L49.5 50.3 L51.2 50.3 L51.2 70.3 L52.5 70.3 L52.5 76.6 L53.7 76.6 L53.7 82.8 L55 82.8 L55 84.5 L56.2 84.5 L56.2 85.5 L57.5 85.5 L57.5 87.2 L58.5 87.2 L59.5 87.2 L59.5 86.9 L60.5 86.9 L60.5 87.9 L61.6 88 L62.6 88 L63.6 88.1 L64.7 88.1 L65.7 88.1 L65.7 88.6 L66.7 88.6 L66.7 87.2 L67.7 87.3 L68.8 87.3 L69.8 87.3 L70.8 87.3 L70.8 87.1 L71.8 87.2 L72.9 87.2 L73.9 87.3 L74.9 87.3 L74.9 87.6 L76.2 87.6 L76.2 90.6 L77.2 90.6 L78.2 90.6 L79.2 90.6 L79.2 91.1 L80.2 91.1 L81.2 91.1 L81.2 90.3 L82.2 90.3 L82.2 90.1 L83.2 90.1 L84.2 90.1 L85.2 90.1 L86.2 90.1 L86.2 91.1 L87.2 91.1 L88.2 91 L89.2 91 L90.2 91 L91.2 91 L92.2 91 L92.2 90.7 L93.2 90.7 L94.2 90.7 L95.2 90.7 L96.2 90.7 L96.2 90.4 L97.1 90.4 L98.1 90.4 L99.1 90.4 L100.1 90.4 L100.1 90.6 L101.1 90.6 L102.1 90.6 L102.1 90.3 L103.1 90.3 L104.1 90.3 L105.1 90.3 L105.1 91.1 L106.1 91.1 L107.1 91.1 L107.1 91.3 L108.1 91.3 L109.1 91.3 L110.1 91.3 L110.1 90.8 L111.1 90.8 L112.1 90.8 L113.1 90.6 L114.1 90.6 L115.1 90.6 L116.1 90.6 L117.2 90.6 L117.2 85.8 L118.3 85.8 L118.3 80.4 L119.4 80.4 L119.4 74.5 L120.6 74.5 L120.6 69.3 L121.9 69.3 L121.9 64 L123.1 64 L123.1 58.8 L124.5 58.8 L124.5 52.1 L125.9 52.1 L125.9 44.8 L127.1 44.8 L127.1 44.3 L128.4 44.3 L128.4 42.4 L129.6 42.4 L129.6 40.6 L130.6 40.6 L130.6 40 L131.6 40 L131.6 39.4 L132.6 39.4 L132.6 38.1 L133.6 38 L134.6 38 L134.6 37.3 L135.6 37.3 L135.6 36.8 L136.6 36.8 L136.6 36.1 L137.6 36.1 L137.6 35.4 L138.6 35.4 L138.6 36.2 L139.6 36.2 L139.6 37.4 L140.6 37.5 L141.6 37.5 L141.6 38.2 L142.8 38.2 L142.8 35.8 L144.1 35.8 L144.1 33.1 L145.1 33.1 L145.1 32.2 L146.2 32.2 L146.2 30.7 L147.2 30.7 L147.2 29.8 L148.3 29.8 L148.3 29.5 L149.3 29.5 L149.3 28.6 L150.3 28.6 L150.3 27.9 L151.3 27.9 L151.3 27.3 L152.3 27.3 L152.3 26.9 L153.3 26.9 L153.3 26.2 L154.4 26.1 L155.4 26.1 L155.4 25.4 L156.5 25.4 L156.5 26.5 L157.5 26.4 L158.6 26.3 L159.6 26.3 L159.6 25.9 L160.6 25.9 L160.6 25 L161.6 25 L161.6 24.7 L162.6 24.7 L162.6 24.2 L163.9 24.2 L163.9 23.6 L165.3 23.6 L165.3 22.9 L166.5 22.9 L166.5 22.3 L167.8 22.3 L167.8 21.7 L168.8 21.8 L169.8 21.6 L170.8 21.4 L171.8 21.4 L171.8 21.1 L172.8 20.9 L173.8 20.9 L173.8 20.6 L174.8 20.6 L174.8 20.3 L175.8 20.3 L175.8 20 L177 20 L177 19.1 L178.3 19.1 L178.3 18.9 L179.5 18.9 L179.5 18.4 L180.7 18.5 L181.9 18.6 L183.1 18.7 L184.3 18.7 L184.3 19.4" fill="none" stroke="#3b7f38" stroke-width="1.2" stroke-linejoin="round"/>
<path d="M35 16.2 L36 16.2 L37 16.2 L38 16.2 L39 16.2 L40 16.2 L41 16.2 L42 16.2 L43 16.2 L43 17.3 L44 17.3 L45 17.3 L46.2 17.3 L46.2 21.4 L47.5 21.4 L47.5 25.5 L48.5 25.5 L48.5 41.7 L49.5 41.7 L49.5 57.9 L51.2 57.9 L51.2 74.7 L52.5 74.7 L52.5 80.3 L53.7 80.3 L53.7 85.9 L55 85.9 L55 87.1 L56.2 87.1 L56.2 88.2 L57.5 88.2 L57.5 89.2 L58.5 89.3 L59.5 89.3 L59.5 89.9 L60.5 89.9 L60.5 90.5 L61.5 90.5 L61.5 91.1 L62.5 91.1 L62.5 91.7 L63.4 91.7 L63.4 92.3 L64.4 92.3 L64.4 93.6 L65.4 93.6 L65.4 94.2 L66.4 94.2 L66.4 94.9 L67.4 94.9 L67.4 95.5 L68.5 95.5 L68.5 95.8 L69.6 95.9 L70.7 95.9 L71.7 96 L72.8 96 L72.8 95.1 L73.9 95.2 L74.9 95.2 L74.9 95.7 L75.9 95.7 L75.9 96.3 L76.9 96.3 L77.9 96.3 L77.9 95.9 L79 95.9 L80 95.9 L81 95.9 L82 95.9 L82 96.2 L83 96.2 L84 96.2 L84 95.5 L85 95.5 L86 95.5 L87 95.5 L87 96.5 L88 96.3 L89 96.3 L90 96.3 L90 96.8 L91 96.8 L91 96.4 L92 96.4 L93 96.4 L94 96.4 L95 96.4 L95 95.9 L96 95.9 L97 96 L98 96 L98 97.3 L99 97.3 L99 96 L100 96 L100 95.8 L101.1 95.8 L102.1 95.8 L103.1 95.8 L103.1 96.2 L104.1 96.2 L105.1 96.2 L106.1 96.2 L107.1 96.2 L107.1 95.9 L108.1 95.9 L108.1 96.6 L109.1 96.6 L110.1 96.6 L111.1 96.6 L112.1 96.6 L113.1 96.6 L114.1 96.6 L115.1 96.6 L115.1 96.3 L116.1 96.3 L116.1 95.9 L117.4 95.9 L117.4 87.8 L118.6 87.8 L118.6 79.7 L119.7 79.7 L119.7 72.8 L120.8 72.8 L120.8 65.8 L121.9 65.8 L121.9 58.9 L122.9 58.9 L122.9 54.5 L123.9 54.5 L123.9 50.2 L124.9 50.2 L124.9 45.8 L125.9 45.8 L125.9 41.4 L127.1 41.4 L127.1 38 L128.4 38 L128.4 34.5 L129.6 34.5 L129.6 31 L131.1 31 L131.1 30.3 L132.1 30.3 L133.2 30.3 L134.2 30.3 L134.2 31.4 L135.3 31.4 L136.3 31.4 L136.3 30.2 L137.4 30.1 L138.4 29.9 L139.5 29.8 L140.5 29.8 L140.5 30 L141.6 29.9 L142.6 29.9 L142.6 30.2 L143.6 30.2 L143.6 30.5 L144.6 30.7 L145.6 30.7 L145.6 31 L146.8 31 L146.8 31.2 L148.1 31.2 L148.1 31.5 L149.3 31.5 L149.3 32 L150.7 32 L150.7 34.2 L152.1 34.2 L152.1 37.4 L153.3 37.4 L153.3 38.8 L154.6 38.8 L154.6 40.2 L155.9 40.2 L155.9 38.2 L157.3 38.2 L157.3 35.6 L158.7 35.6 L158.7 32.7 L160.1 32.7 L160.1 30.1 L161.3 30.1 L161.3 28.5 L162.6 28.5 L162.6 26.9 L163.9 26.9 L163.9 27.6 L165.3 27.6 L165.3 28 L166.5 28 L166.5 26.9 L167.8 26.9 L167.8 26.1 L168.8 26.1 L168.8 25.7 L169.9 25.7 L169.9 24.7 L170.9 24.7 L170.9 24.2 L172 24.2 L172 23.7 L173 23.7 L174.4 23.7 L174.4 23.4 L175.8 23.4 L175.8 22.7 L177 22.7 L177 23.1 L178.3 23.1 L178.3 23.4 L179.3 23.4 L179.3 23 L180.3 23 L180.3 22.3 L181.3 22.4 L182.3 22.5 L183.3 22.6 L184.3 22.6 L184.3 22.9" fill="none" stroke="#2b4399" stroke-width="1.2" stroke-linejoin="round"/>
<path d="M202.2 19.4 L203.5 19.4 L203.5 19.8 L204.7 19.8 L204.7 20.2 L206 20.2 L206 20.6 L207.2 20.6 L207.2 20.4 L208.5 20.4 L208.5 19.8 L209.7 20 L211 20 L211 20.5 L212.2 20.5 L212.2 21 L213.5 21.1 L214.7 21.1 L214.7 20.3 L216 20.2 L217.2 20.2 L217.2 19.4 L218.5 19.4 L218.5 19 L219.7 19 L219.7 17.8 L221 17.8 L221 17.4 L222 17.3 L223 17.2 L224 17.1 L225 17 L226 17 L226 16.7 L227 16.9 L228 16.9 L228 17.5 L229 17.5 L229 17.7 L229.9 17.9 L230.9 18 L231.9 18 L231.9 17.7 L232.9 17.7 L232.9 17.4 L233.9 17.5 L234.9 17.5 L234.9 17.2 L235.9 17.2 L235.9 16.9 L237.2 16.9 L237.2 17.2 L238.4 17.1 L239.7 17.1 L239.7 17.5 L240.9 17.5 L240.9 17 L242.2 16.9 L243.4 16.9 L243.4 16.7 L244.4 16.7 L245.4 16.7 L245.4 16.4 L246.4 16.4 L247.5 16.4 L248.5 16.4 L248.5 15.8 L249.5 15.8 L250.5 15.8 L250.5 16.5 L251.5 16.5 L252.5 16.5 L252.5 16.2 L253.5 16.2 L254.5 16.2 L255.5 16.2 L256.5 16.2 L256.5 15.5 L257.5 15.5 L257.5 16.1 L258.5 16.1 L259.5 16.1 L260.5 16.1 L261.5 15.9 L262.5 15.9 L262.5 15.3 L263.5 15.3 L264.6 15.3 L265.6 15.3 L266.6 15.3 L266.6 16.6 L267.6 16.6 L267.6 16.4 L268.6 16.4 L269.6 16.2 L270.6 16.2 L271.6 16.2 L272.6 16.2 L272.6 16.5 L273.6 16.5 L274.6 16.5 L275.6 16.5 L275.6 16.2 L276.6 16.2 L277.6 16.2 L278.6 16.2 L278.6 16.4 L279.6 16.4 L279.6 16.9 L280.6 16.9 L281.7 16.9 L282.7 16.9 L282.7 16.7 L283.7 16.7 L284.7 16.7 L285.7 16.7 L285.7 16.3 L286.7 16.5 L287.7 16.5 L288.7 16.5 L288.7 16.2 L289.7 16.2 L290.7 16.2 L291.7 16.2 L292.7 16.2 L292.7 16.6 L293.7 16.6 L294.7 16.6 L294.7 16.2 L295.7 16.2 L296.7 16.2 L297.8 16.2 L298.8 16.2 L299.8 16.2 L300.8 16.2 L301.8 16.2 L301.8 16.8 L302.8 16.8 L303.8 16.8 L304.8 16.8 L305.8 16.8 L305.8 16.2 L306.8 16.2 L307.8 16.2 L308.8 16.2 L308.8 15.8 L309.8 15.8 L310.8 15.8 L310.8 16.2 L311.8 16.2 L311.8 16.5 L312.8 16.5 L312.8 16.9 L313.8 16.9 L313.8 17.6 L314.8 17.6 L314.8 18 L315.8 18 L315.8 17.6 L316.8 17.6 L316.8 18 L317.8 18 L317.8 17.2 L318.8 17.1 L319.8 17 L320.8 16.9 L321.8 16.9 L321.8 18.5 L322.8 18.5 L322.8 19.1 L323.8 19.1 L323.8 19.5 L324.8 19.5 L324.8 20.1 L325.8 20.1 L325.8 20.3 L327.1 20.3 L327.1 21.9 L328.3 21.9 L328.3 23.6 L329.5 23.6 L329.5 22.8 L330.8 22.8 L330.8 22 L332 22 L332 21.1 L333.3 21.1 L333.3 20.8 L334.5 20.8 L334.5 19.2 L335.8 19.2 L335.8 18.4 L336.8 18.2 L337.8 18.2 L337.8 18.5 L338.8 18.5 L339.8 18.4 L340.8 18.4 L340.8 18.1 L341.8 18.1 L341.8 18.4 L342.8 18.4 L342.8 18.7 L343.8 18.7 L343.8 18.9 L344.8 19 L345.8 19 L345.8 19.3 L346.8 19.4 L347.9 19.4 L347.9 19.7 L348.9 19.8 L349.9 19.8 L349.9 20.2 L351 20.2 L351 19.7 L352 19.8" fill="none" stroke="#cc2f2f" stroke-width="1.2" stroke-linejoin="round"/>
<path d="M202.2 16.5 L203.3 16.5 L203.3 17 L204.3 17 L205.3 17 L206.3 17 L207.3 17 L208.3 17 L208.3 16.1 L209.4 16.1 L210.4 16.1 L210.4 17 L211.4 17 L212.4 17 L213.4 17 L213.4 16.5 L214.5 16.5 L215.5 16.5 L217.2 16.5 L217.2 32.2 L218.5 32.2 L218.5 45.1 L219.7 45.1 L219.7 57.6 L221 57.6 L221 64.1 L222.2 64.1 L222.2 71.6 L223.5 71.6 L223.5 76.6 L224.7 76.6 L224.7 81.5 L226 81.5 L226 84.3 L227.2 84.3 L227.2 86.4 L228.5 86.4 L228.5 88.5 L229.7 88.5 L229.7 89.2 L230.9 89.2 L230.9 90.1 L232 90.1 L233 90.1 L234 90.1 L234 90.5 L235 90.5 L236 90.5 L237 90.5 L238 90.5 L238 91 L239 91 L240.1 91 L241.1 91 L241.1 90.3 L242.1 90.3 L243.1 90.3 L244.1 90.3 L245.1 90.3 L245.1 90.1 L246.1 90 L247.1 90 L248.2 90 L248.2 90.5 L249.2 90.5 L250.2 90.5 L251.2 90.5 L251.2 90.1 L252.2 90.1 L253.2 90.1 L253.2 90.3 L254.2 90.3 L255.3 90.3 L256.3 90.3 L256.3 89.6 L257.3 89.6 L258.3 89.6 L258.3 90.3 L259.3 90.3 L260.3 90.5 L261.3 90.5 L262.3 90.6 L263.4 90.6 L264.4 90.6 L265.4 90.6 L265.4 90.4 L266.4 90.5 L267.4 90.5 L268.4 90.5 L269.4 90.5 L270.4 90.5 L270.4 89.8 L271.5 89.8 L272.5 89.8 L273.5 89.8 L273.5 90.3 L274.5 90.4 L275.5 90.4 L276.5 90.4 L276.5 89.8 L277.5 89.8 L278.5 89.8 L278.5 90.4 L279.6 90.4 L280.6 90.4 L280.6 89.9 L281.6 89.9 L282.6 89.9 L282.6 90.3 L283.6 90.3 L284.6 90.3 L285.9 90.3 L285.9 82.7 L287.1 82.7 L287.1 74.9 L288.4 74.9 L288.4 64.6 L289.6 64.6 L289.6 54.7 L290.9 54.7 L290.9 47.8 L292.1 47.8 L292.1 40.9 L293.4 40.9 L293.4 40.5 L294.6 40.3 L295.9 40.3 L295.9 39.9 L296.8 39.9 L296.8 41 L297.8 41 L298.8 41 L299.8 41 L299.8 39.5 L300.8 39.5 L301.8 39.5 L301.8 39.1 L302.8 39.1 L302.8 38.6 L303.8 38.6 L303.8 38.1 L304.8 38.1 L304.8 37.6 L305.8 37.8 L306.8 37.8 L306.8 36.8 L307.8 36.8 L307.8 36.3 L308.8 36.3 L308.8 35.8 L309.8 35.8 L309.8 35.4 L310.8 35.4 L310.8 34.9 L311.8 34.9 L311.8 34.4 L312.8 34.4 L312.8 33.9 L313.8 33.9 L313.8 33.1 L314.8 33.1 L314.8 32.6 L315.8 32.6 L315.8 32.1 L316.8 32.1 L316.8 31.6 L317.8 31.6 L317.8 31.3 L318.8 31.3 L318.8 30.4 L319.8 30.4 L319.8 29.9 L320.8 29.8 L321.8 29.8 L321.8 29.3 L322.8 29.3 L322.8 28.8 L323.8 28.8 L323.8 28.4 L324.8 28.4 L324.8 27.9 L325.8 27.9 L325.8 27.4 L326.8 27.4 L326.8 26.6 L327.8 26.6 L327.8 25.3 L328.8 25.3 L328.8 25.5 L329.8 25.5 L329.8 24.8 L330.8 24.8 L330.8 23.9 L331.8 23.9 L331.8 23.6 L332.8 23.6 L332.8 23.2 L333.8 23.2 L333.8 22.3 L334.8 22.3 L334.8 22 L335.8 22 L335.8 21.6 L336.8 21.6 L336.8 21.2 L337.8 21.2 L337.8 21.4 L338.8 21.4 L338.8 20.3 L339.8 20.3 L339.8 20 L340.8 20.1 L341.8 20.1 L341.8 19.8 L342.8 19.8 L342.8 19.6 L343.8 19.7 L344.8 19.7 L344.8 19.3 L345.8 19.3 L345.8 19.1 L346.8 19.2 L347.9 19.3 L348.9 19.3 L348.9 18.9 L349.9 19 L351 19 L351 20.3 L352 20.5" fill="none" stroke="#3b7f38" stroke-width="1.2" stroke-linejoin="round"/>
<path d="M202.2 17.2 L203.3 17.2 L204.3 17.2 L204.3 16.7 L205.3 16.7 L206.3 16.7 L207.3 16.7 L208.3 16.7 L208.3 17.1 L209.3 17.1 L210.4 17.1 L211.4 17.1 L212.4 17.1 L212.4 16.7 L213.4 16.7 L214.4 16.7 L214.4 15.4 L215.4 15.4 L216.4 15.4 L216.4 17.1 L217.5 17.1 L218.5 17.1 L219.7 17.1 L219.7 21.4 L221 21.4 L221 24.8 L222.2 24.8 L222.2 29.8 L223.5 29.8 L223.5 34.8 L224.7 34.8 L224.7 39.8 L226 39.8 L226 45.2 L227.2 45.2 L227.2 48.9 L228.5 48.9 L228.5 52.6 L229.7 52.6 L229.7 53.7 L230.9 53.7 L230.9 55.6 L232.2 55.6 L232.2 57.5 L233.4 57.5 L233.4 59.4 L234.4 59.4 L234.4 59.7 L235.4 59.7 L235.4 60.5 L236.4 60.5 L236.4 62.1 L237.4 62.1 L237.4 62.8 L238.4 62.8 L238.4 64.3 L239.4 64.3 L239.4 64.6 L240.4 64.6 L240.4 65 L241.4 65 L241.4 65.3 L242.4 65.3 L242.4 65.1 L243.4 65.1 L243.4 65.4 L244.4 65.4 L244.4 65.7 L245.4 65.7 L245.4 66.3 L246.4 66.3 L246.4 66.6 L247.4 66.6 L247.4 67.2 L248.4 67.2 L248.4 66.8 L249.4 66.8 L249.4 67.9 L250.4 67.9 L250.4 69 L251.4 69 L251.4 70.1 L252.4 70.1 L252.4 70.8 L253.4 70.8 L253.4 71.9 L254.4 71.9 L254.4 72.9 L255.4 72.9 L255.4 75 L256.4 75 L256.4 75.7 L257.4 75.7 L257.4 76.7 L258.4 76.7 L258.4 76.9 L259.4 76.9 L259.4 77.9 L260.4 77.9 L260.4 79.6 L261.4 79.6 L261.4 80.6 L262.4 80.6 L262.4 81.6 L263.4 81.6 L263.4 82.6 L264.4 82.6 L264.4 83.1 L265.4 83.1 L265.4 84.1 L266.4 84.1 L266.4 85.1 L267.4 85.1 L267.4 86.6 L268.4 86.6 L268.4 87.6 L269.4 87.6 L269.4 88.3 L270.4 88.3 L270.4 89.1 L271.4 89.1 L271.4 90.7 L272.4 90.7 L272.4 91.4 L273.4 91.4 L273.4 90.7 L274.4 90.7 L274.4 90.5 L275.4 90.4 L276.4 90.4 L276.4 90.1 L277.4 90.1 L277.4 89.9 L278.4 89.9 L279.4 90 L280.4 90.1 L281.4 90.2 L282.4 90.2 L282.4 89.2 L283.4 89.3 L284.6 89.3 L284.6 75.3 L285.9 75.3 L285.9 62.3 L287.1 62.3 L287.1 49.8 L288.4 49.8 L288.4 37.3 L289.6 37.3 L289.6 33.5 L290.9 33.5 L290.9 28.7 L292.1 28.7 L292.1 24.5 L293.4 24.5 L293.4 23.3 L294.6 23.3 L294.6 22 L295.9 22 L295.9 21.1 L296.9 21.1 L296.9 20.7 L298 20.7 L299.1 20.7 L299.1 20.3 L300.1 20.3 L300.1 20 L301.2 20 L301.2 19.6 L302.3 19.6 L302.3 18 L303.3 18 L303.3 17.7 L304.4 17.8 L305.5 17.8 L305.5 17.6 L306.5 17.6 L306.5 17.3 L307.6 17.3 L307.6 17 L308.7 17 L308.7 18.2 L309.8 18.2 L309.8 18 L310.8 18 L310.8 17.7 L311.8 17.7 L311.8 17.1 L312.8 17.1 L313.8 17.1 L314.8 17.1 L315.9 17.1 L315.9 15.9 L316.9 15.9 L317.9 15.9 L318.9 15.9 L319.9 15.9 L319.9 16.5 L320.9 16.5 L321.9 16.7 L322.9 16.7 L322.9 17.8 L323.9 17.8 L324.9 17.8 L324.9 16.8 L325.9 16.8 L326.9 16.8 L326.9 16.1 L327.9 16.1 L328.9 16.1 L329.9 16.1 L330.9 16.1 L330.9 17.1 L331.9 17.1 L332.9 17.1 L333.9 17.2 L334.9 17.2 L334.9 16.7 L335.9 16.7 L336.9 16.7 L338 16.7 L339 16.7 L339 15.5 L340 15.5 L341 15.5 L342 15.5 L343 15.5 L343 16.5 L344 16.5 L345 16.5 L346 16.5 L347 16.5 L348 16.5 L349 16.5 L350 16.5 L351 16.5 L351 16.3 L352 16.3" fill="none" stroke="#2b4399" stroke-width="1.2" stroke-linejoin="round"/>
<path d="M371 15.5 L372 15.5 L373 15.5 L373 15.8 L374 15.8 L374 16.1 L375 16 L376 16 L377 16 L378 16 L378 16.3 L379 16.2 L380 16.2 L380 15.8 L381 15.7 L382 15.7 L383 15.5 L384 15.5 L385 15.5 L386 15.5 L387 15.4 L388 15.4 L389 15.3 L390 15.3 L391 15.3 L391 16 L392 16.1 L393 16.1 L393 15.4 L394 15.5 L395 15.6 L396 15.7 L397 15.7 L397 16.1 L398 16.2 L399 16.2 L399.9 16.2 L399.9 16.8 L400.9 16.8 L401.9 16.9 L402.9 17 L403.9 17 L403.9 16.6 L404.9 16.7 L405.9 16.7 L405.9 16.2 L406.9 16.2 L406.9 16.6 L407.9 16.7 L408.9 16.7 L409.9 16.8 L410.9 16.8 L410.9 16.4 L411.9 16.3 L412.9 16.2 L413.9 16.2 L413.9 17 L414.9 16.9 L415.9 16.8 L417.2 16.8 L417.2 16 L418.4 16 L418.4 15.3 L419.4 15.3 L419.4 15.1 L420.5 15 L421.5 15 L422.5 15 L423.5 15 L423.5 15.4 L424.5 15.3 L425.6 15.3 L426.6 15.2 L427.6 15.2 L428.6 15.2 L429.7 15.2 L430.7 15.2 L430.7 14.8 L431.7 14.8 L432.7 14.7 L433.7 14.7 L434.8 14.7 L434.8 15.2 L435.8 15.2 L436.8 15.4 L437.8 15.4 L438.8 15.3 L439.9 15.3 L439.9 14.8 L440.9 14.7 L441.9 14.7 L441.9 16 L442.9 16 L442.9 16.6 L443.9 16.6 L443.9 17.2 L444.9 17.2 L444.9 17.9 L445.9 17.9 L445.9 18.5 L446.9 18.5 L446.9 18 L447.9 18 L447.9 17.5 L448.9 17.5 L448.9 17.1 L449.9 17.1 L449.9 16.6 L450.9 16.6 L450.9 15.4 L451.9 15.4 L452.9 15.4 L453.9 15.4 L453.9 15.9 L454.9 15.9 L454.9 15.6 L455.9 15.6 L455.9 15.2 L456.9 15.2 L457.9 15.2 L458.9 15.2 L458.9 14.6 L459.9 14.6 L460.9 14.6 L461.9 14.6 L462.9 14.6 L462.9 15 L463.9 15 L464.9 15 L464.9 15.9 L465.9 15.9 L466.9 15.9 L466.9 16.1 L468 16.1 L468 16.3 L469.1 16.3 L469.1 16.6 L470.1 16.6 L470.1 16.2 L471.2 16.2 L471.2 16.5 L472.3 16.4 L473.3 16.4 L473.3 16.9 L474.3 16.9 L474.3 17.7 L475.3 17.7 L475.3 19 L476.3 19 L476.3 19.8 L477.3 19.8 L477.3 20.7 L478.3 20.7 L478.3 21.1 L479.3 21.1 L479.3 20.6 L480.3 20.6 L480.3 20.1 L481.3 20.1 L481.3 19.7 L482.3 19.7 L482.3 19.2 L483.3 19.2 L483.3 18.3 L484.3 18.3 L484.3 18.7 L485.3 18.7 L485.3 19.3 L486.3 19.3 L486.3 20 L487.3 20 L487.3 21.9 L488.3 21.9 L488.3 22.6 L489.3 22.6 L489.3 22.2 L490.3 22.2 L490.3 21.3 L491.3 21.1 L492.3 21.1 L492.3 20.7 L493.3 20.7 L493.3 20.3 L494.3 20.3 L494.3 20 L495.3 20.1 L496.3 20.1 L496.3 18.9 L497.3 18.9 L497.3 18.6 L498.3 18.6 L498.3 18.4 L499.4 18.3 L500.4 18.3 L501.5 18.2 L502.6 18.1 L503.7 18 L504.7 18 L504.7 18.4 L505.8 18.3 L506.8 18.3 L506.8 18.8 L507.8 18.8 L507.8 19.1 L508.8 19.1 L508.8 19.4 L509.8 19.4 L509.8 19.7 L510.8 19.7 L510.8 20 L511.8 20 L511.8 20.5 L512.8 20.5 L512.8 20.8 L513.8 20.8 L513.8 21.2 L514.8 21.2 L514.8 20.1 L515.8 20.1 L515.8 20.5 L517 20.5 L517 22 L518.3 22 L518.3 22.8 L519.5 22.8 L519.5 23.7" fill="none" stroke="#cc2f2f" stroke-width="1.2" stroke-linejoin="round"/>
<path d="M371 16.8 L372 16.7 L373 16.7 L374 16.7 L375 16.7 L376 16.7 L376 17.7 L377 17.7 L378 17.7 L379 17.7 L380 17.7 L380 18.4 L381 18.4 L382 18.3 L383 18.3 L383 16.9 L384 16.8 L385 16.7 L386 16.6 L387 16.6 L387 17.6 L388 17.8 L389 17.9 L390 17.9 L390 17.5 L391 17.7 L392 17.7 L392 18.8 L393 19 L394 19 L394 17.8 L395 18 L396 18.1 L397 18 L398.1 18 L398.1 18.7 L399.2 18.5 L400.2 18.5 L400.2 17.6 L401.3 17.5 L402.4 17.4 L403.4 17.4 L403.4 18.2 L404.4 18.4 L405.4 18.5 L406.4 18.7 L407.4 18.9 L408.4 19 L409.4 19.2 L410.4 19.3 L411.4 19.3 L411.4 19 L412.4 19.2 L413.4 19.3 L414.7 19.3 L414.7 21.8 L415.9 21.8 L415.9 22.7 L417.2 22.7 L417.2 24.2 L418.4 24.2 L418.4 24.8 L419.5 24.8 L420.6 24.7 L421.6 24.7 L421.6 25.5 L422.7 25.4 L423.8 25.4 L424.8 25.4 L424.8 23.5 L425.9 23.5 L425.9 23.9 L426.9 23.9 L426.9 25.3 L427.9 25.3 L427.9 25.6 L428.9 25.6 L428.9 26 L429.9 26 L429.9 26.3 L430.9 26.3 L430.9 26.7 L431.9 26.5 L432.9 26.5 L432.9 26 L433.9 25.8 L434.9 25.9 L435.9 25.8 L436.9 25.8 L436.9 26.2 L437.9 26.2 L437.9 25.9 L438.9 25.9 L438.9 26.3 L439.9 26.3 L439.9 28.4 L440.9 28.4 L440.9 28.8 L441.9 28.8 L441.9 27.7 L442.9 27.6 L443.9 27.6 L443.9 26.7 L444.9 26.6 L445.9 26.6 L445.9 27.7 L447 27.8 L448 27.9 L449.1 28.1 L450.2 28.3 L451.2 28.4 L452.3 28.6 L453.4 28.6 L453.4 27.9 L454.6 27.9 L454.6 26.9 L455.9 26.9 L455.9 26 L457.1 26 L457.1 25 L458.4 25 L458.4 23.6 L459.6 23.6 L459.6 22.4 L460.9 22.4 L460.9 21.1 L461.9 21.1 L461.9 19.8 L462.9 19.8 L462.9 20.6 L463.9 20.6 L463.9 20.2 L464.9 20.2 L464.9 19.9 L465.9 19.9 L465.9 19.5 L466.8 19.5 L466.8 19.1 L467.8 19.1 L467.8 19.6 L468.8 19.7 L469.8 19.8 L470.8 19.8 L470.8 20.9 L471.9 20.8 L473 20.8 L474.1 20.8 L474.1 19.7 L475.1 19.7 L476.2 19.6 L477.3 19.6 L477.3 20.1 L478.3 20.1 L479.4 20.1 L479.4 19.4 L480.4 19.4 L481.5 19.4 L481.5 20 L482.5 20.1 L483.5 20.1 L483.5 19.5 L484.6 19.6 L485.6 19.6 L485.6 19.1 L486.7 19.2 L487.7 19.2 L487.7 20.6 L488.7 20.7 L489.8 20.7 L489.8 19.6 L490.8 19.5 L491.9 19.5 L492.9 19.5 L493.9 19.4 L495 19.4 L496 19.4 L497.1 19.4 L497.1 20.7 L498.1 20.7 L499.1 20.7 L499.1 21.1 L500.2 21.1 L500.2 19.6 L501.2 19.6 L502.3 19.6 L503.3 19.6 L504.3 19.6 L504.3 20.3 L505.4 20.4 L506.4 20.5 L507.5 20.5 L508.5 20.5 L508.5 20.3 L509.5 20.5 L510.6 20.6 L511.6 20.6 L512.7 20.6 L512.7 20.1 L513.7 20.1 L513.7 19.6 L514.7 19.6 L515.8 19.6 L517 19.6 L517 20.5 L518.3 20.5 L518.3 20.9 L519.5 20.9 L519.5 21.1" fill="none" stroke="#2b4399" stroke-width="1.2" stroke-linejoin="round"/>
<path d="M371 16.8 L372 16.8 L373.1 16.8 L373.1 17.1 L374.1 17.1 L374.1 17.7 L375.2 17.8 L376.2 17.8 L377.2 17.8 L377.2 16.9 L378.3 16.9 L379.3 16.8 L380.4 16.8 L380.4 17.6 L381.4 17.7 L382.4 17.7 L383.5 17.7 L384.7 17.7 L384.7 20.2 L386 20.2 L386 23.9 L387 23.9 L387 36.4 L388 36.4 L388 48.9 L389.7 48.9 L389.7 69.9 L391 69.9 L391 72.4 L392.2 72.4 L392.2 74.7 L393.5 74.7 L393.5 77.2 L394.7 77.2 L394.7 79.7 L396 79.7 L396 81.3 L397.2 81.3 L397.2 83 L398.5 83 L398.5 85.9 L399.7 85.9 L399.7 87.8 L400.9 87.8 L400.9 90.7 L402.2 90.7 L402.2 93.3 L403.4 93.3 L403.4 94.9 L404.5 95 L405.5 95 L405.5 94.6 L406.6 94.5 L407.6 94.5 L407.6 95 L408.6 95.1 L409.7 95.1 L410.7 95.2 L411.8 95.2 L411.8 94.7 L412.8 94.7 L413.8 94.8 L414.9 94.8 L415.9 94.8 L415.9 94.6 L416.9 94.7 L417.9 94.9 L418.9 94.9 L418.9 96 L419.9 96.2 L420.9 96.3 L421.9 96.4 L422.9 96.5 L423.9 96.6 L424.9 96.6 L424.9 95.5 L425.9 95.6 L427.2 95.6 L427.2 97.3 L428.4 97.3 L428.4 98.2 L429.4 98.2 L430.5 98.2 L431.5 98.1 L432.5 98.1 L433.6 98.1 L433.6 97.6 L434.6 97.6 L435.6 97.6 L435.6 97.9 L436.7 97.9 L437.7 97.9 L437.7 97.3 L438.7 97.3 L438.7 98.2 L439.7 98.2 L440.8 98.2 L441.8 98 L442.8 98 L442.8 98.4 L443.9 98.4 L444.9 98.4 L445.9 98.4 L447 98.4 L447 97.9 L448 97.9 L448 98.7 L449 98.7 L450.1 98.7 L451.1 98.7 L451.1 97.7 L452.1 97.7 L453.4 97.7 L453.4 90 L454.6 90 L454.6 82.2 L455.9 82.2 L455.9 70.2 L457.1 70.2 L457.1 57.7 L458.4 57.7 L458.4 50.2 L459.6 50.2 L459.6 42.7 L460.9 42.7 L460.9 37.9 L462.1 37.9 L462.1 33.8 L463.4 33.8 L463.4 29.6 L464.4 29.6 L464.4 28.1 L465.4 28.1 L465.4 27 L466.3 27 L466.3 24.7 L467.3 24.7 L467.3 23.2 L468.3 23.2 L468.3 21.7 L469.3 21.6 L470.3 21.6 L470.3 20.9 L471.3 20.9 L471.3 20 L472.3 20 L472.3 19.3 L473.3 19.3 L473.3 18.5 L474.3 18.5 L474.3 17.8 L475.3 17.8 L475.3 18.2 L476.3 18.2 L476.3 18 L477.3 18 L477.3 17.7 L478.3 17.7 L478.3 17.5 L479.3 17.5 L479.3 17.1 L480.3 17.1 L480.3 16.7 L481.3 16.7 L481.3 16.3 L482.3 16.3 L482.3 15.9 L483.3 15.7 L484.4 15.7 L484.4 14.9 L485.5 14.8 L486.5 14.8 L487.6 14.7 L488.7 14.7 L488.7 15.7 L489.7 15.6 L490.8 15.5 L491.8 15.5 L492.9 15.5 L492.9 14.7 L493.9 14.6 L494.9 14.6 L494.9 15.3 L495.9 15.3 L495.9 14.7 L497 14.7 L498 14.7 L499 14.7 L499 14.9 L500 14.9 L501.1 14.9 L502.1 14.9 L503.1 14.9 L503.1 15.2 L504.1 15.2 L505.2 15.2 L506.2 15.2 L506.2 14.4 L507.2 14.4 L508.2 14.3 L509.3 14.2 L510.3 14.2 L511.3 14.2 L512.3 14.3 L513.4 14.2 L514.4 14.2 L515.4 14.2 L516.4 14.2 L517.5 14.1 L518.5 14.1 L519.5 14.1 L519.5 14.5" fill="none" stroke="#3b7f38" stroke-width="1.2" stroke-linejoin="round"/>
<path d="M536.5 24.6 L537.7 24.6 L537.7 22.7 L539 22.7 L539 20.1 L540 20.1 L540 19.9 L541 19.9 L541 21.1 L542 21.1 L542 20.9 L543 20.9 L543 20.6 L544 20.5 L545 20.5 L545 21.2 L546 21.2 L546 20.9 L547 20.9 L547 21.7 L547.9 21.7 L547.9 22.4 L548.9 22.4 L548.9 23.2 L549.9 23.2 L549.9 24.6 L550.9 24.6 L550.9 24.1 L551.9 24.1 L551.9 23.6 L552.9 23.6 L552.9 23.1 L553.9 23.1 L553.9 20.7 L554.9 20.7 L554.9 20.4 L555.9 20.4 L555.9 20 L556.9 20 L556.9 19.7 L557.9 19.7 L558.9 19.7 L558.9 19.3 L559.9 19.2 L560.9 19.2 L560.9 19.6 L561.9 19.6 L561.9 19.9 L562.9 19.9 L562.9 20.3 L563.9 20.3 L563.9 22.3 L564.9 22.3 L564.9 22.5 L565.9 22.5 L565.9 22.8 L566.9 22.8 L566.9 23 L567.9 23 L567.9 21.8 L568.9 21.8 L568.9 23.2 L569.9 23.2 L569.9 22.7 L570.9 22.7 L570.9 22.2 L571.9 22.2 L571.9 21.7 L572.9 21.7 L572.9 21.1 L573.9 21.1 L573.9 20.7 L574.9 20.7 L574.9 20.2 L575.9 20.2 L575.9 20.9 L576.9 20.9 L576.9 21.7 L577.9 21.7 L577.9 22.4 L578.9 22.4 L578.9 22.9 L579.9 22.9 L579.9 22.4 L580.9 22.4 L580.9 21.9 L581.9 21.9 L581.9 21.4 L582.9 21.3 L583.9 21.3 L583.9 22.6 L584.9 22.6 L584.9 21.6 L585.9 21.6 L585.9 23.2 L586.9 23.2 L586.9 23.8 L587.9 23.8 L587.9 24.5 L588.9 24.5 L588.9 25.3 L589.9 25.3 L589.9 23.6 L590.9 23.6 L590.9 24.6 L591.9 24.6 L591.9 22.9 L592.9 22.9 L592.9 23.2 L593.9 23.2 L593.9 22.1 L594.9 22.1 L594.9 22.7 L595.9 22.7 L595.9 23.2 L596.9 23.2 L596.9 23.5 L597.9 23.5 L597.9 23.9 L598.9 23.9 L598.9 25 L599.9 25.2 L600.9 25.2 L600.9 24.7 L601.9 24.7 L601.9 24.2 L602.9 24.2 L602.9 23.7 L603.9 23.7 L603.9 21.5 L604.9 21.5 L604.9 21.8 L605.9 21.8 L605.9 23.2 L606.9 23.2 L606.9 23.5 L607.9 23.5 L607.9 23.7 L608.9 23.7 L608.9 24 L609.9 24 L609.9 23.5 L610.9 23.3 L611.9 23.3 L611.9 22.8 L612.9 22.8 L612.9 21.1 L613.9 21.1 L613.9 20.6 L614.8 20.6 L614.8 21.5 L615.8 21.5 L615.8 21.3 L616.8 21.3 L616.8 21 L617.8 21 L617.8 18.9 L618.8 18.9 L618.8 20.6 L619.8 20.6 L619.8 21.6 L620.8 21.6 L620.8 22.6 L621.8 22.6 L621.8 23.6 L622.8 23.6 L622.8 23.8 L623.8 23.8 L623.8 24.8 L625.1 24.8 L625.1 25.8 L626.3 25.8 L626.3 26.8 L627.6 26.8 L627.6 27.1 L628.8 27.1 L628.8 25.6 L630.1 25.6 L630.1 24.1 L631.3 24.1 L631.3 22.9 L632.6 22.9 L632.6 21.8 L633.8 21.8 L633.8 20.5 L634.8 20.5 L634.8 20.2 L635.8 20.3 L636.8 20.3 L636.8 20 L637.8 20 L637.8 19.6 L638.8 19.6 L638.8 18.1 L639.8 18 L640.8 17.9 L641.8 17.9 L642.8 17.9 L642.8 19.6 L643.8 19.5 L644.8 19.5 L645.8 19.5 L645.8 18.3 L646.8 18.2 L647.8 18.2 L648.8 18.2 L648.8 19.1 L649.9 19 L650.9 19 L650.9 17.6 L652 17.5 L653.1 17.4 L654.1 17.3 L655.2 17.3 L655.2 19.2 L656.3 19.2 L656.3 18.1 L657.3 18.1 L657.3 18.5 L658.3 18.5 L658.3 18.9 L659.3 18.9 L659.3 19.3 L660.3 19.3 L660.3 19.7 L661.3 19.7 L662.3 19.7 L662.3 20.4 L663.3 20.4 L663.3 21.2 L664.3 21.2 L664.3 22.8 L665.3 22.8 L665.3 23.6 L666.3 23.6 L666.3 24.3 L667.3 24.3 L667.3 23.6 L668.3 23.6 L668.3 22.9 L669.3 22.9 L669.3 22.1 L670.3 22.1 L670.3 21.4 L671.3 21.4 L671.3 19.5 L672.3 19.3 L673.4 19.2 L674.5 19 L675.5 19 L675.5 20.4 L676.6 20.2 L677.7 20.2 L677.7 19.1 L678.8 18.9 L679.8 18.9 L680.8 18.9 L681.9 18.9 L681.9 20.1 L682.9 20.1 L682.9 18.9 L684 18.9 L685 18.9 L685 19.2" fill="none" stroke="#cc2f2f" stroke-width="1.2" stroke-linejoin="round"/>
<path d="M536.5 18.3 L537.5 18.3 L537.5 17.5 L538.5 17.5 L539.6 17.6 L540.6 17.6 L540.6 18.1 L541.7 18.1 L541.7 17.1 L542.7 17.2 L543.7 17.2 L544.8 17.3 L545.8 17.3 L545.8 17.7 L546.9 17.7 L547.9 17.7 L547.9 18 L548.9 17.9 L550.2 17.9 L550.2 21.4 L551.4 21.4 L551.4 24.9 L552.7 24.9 L552.7 33.7 L553.9 33.7 L553.9 42.1 L555.2 42.1 L555.2 49.7 L556.4 49.7 L556.4 57.2 L557.7 57.2 L557.7 59.1 L558.9 59.1 L558.9 61 L560.2 61 L560.2 64.5 L561.4 64.5 L561.4 68.1 L562.7 68.1 L562.7 70.6 L563.9 70.6 L563.9 72.3 L565.2 72.3 L565.2 74.8 L566.4 74.8 L566.4 77.3 L567.7 77.3 L567.7 79.8 L568.9 79.8 L568.9 82.2 L570.2 82.2 L570.2 84.7 L571.4 84.7 L571.4 87.2 L572.4 87.2 L572.4 87.4 L573.4 87.4 L573.4 87.9 L574.4 87.9 L574.4 88.8 L575.4 88.8 L575.4 89.3 L576.4 89.3 L576.4 90.2 L577.4 90.2 L577.4 89.7 L578.4 89.7 L578.4 89.2 L579.4 89.2 L579.4 88.7 L580.4 88.7 L580.4 87.9 L581.4 87.9 L581.4 87.5 L582.5 87.5 L582.5 87.9 L583.5 87.9 L583.5 88.3 L584.6 88.3 L584.6 88.6 L585.7 88.7 L586.7 88.7 L586.7 89 L587.8 89 L587.8 89.4 L588.9 89.4 L588.9 89.7 L589.9 89.7 L589.9 90.2 L590.9 90.2 L591.9 90.2 L592.9 90 L593.9 90 L594.9 90 L595.9 90 L595.9 90.3 L596.9 90.4 L597.9 90.4 L598.9 90.4 L598.9 89.5 L599.9 89.5 L599.9 89.7 L600.9 89.7 L600.9 91.1 L601.9 91.1 L601.9 90.3 L602.9 90.3 L602.9 90.5 L603.9 90.5 L603.9 90.8 L604.9 90.8 L604.9 91.1 L605.9 91.2 L606.9 91.2 L606.9 91.6 L607.9 91.6 L607.9 92.3 L608.9 92.3 L608.9 92.6 L609.9 92.6 L609.9 92.1 L611 92.1 L612.1 92.1 L613.1 92.2 L614.2 92.2 L615.3 92.3 L616.3 92.3 L617.6 92.3 L617.6 85.8 L618.8 85.8 L618.8 79.6 L620.1 79.6 L620.1 68.3 L621.3 68.3 L621.3 57.1 L622.6 57.1 L622.6 47.4 L623.8 47.4 L623.8 37.8 L625.1 37.8 L625.1 32.3 L626.3 32.3 L626.3 27.3 L627.3 27.3 L627.3 26.5 L628.3 26.5 L628.3 25.8 L629.3 25.8 L629.3 24.8 L630.3 24.8 L630.3 24.1 L631.3 24.1 L631.3 24.6 L632.3 24.6 L632.3 24.2 L633.3 24.2 L633.3 22.5 L634.3 22.5 L634.3 22.1 L635.3 22.3 L636.3 22.3 L636.3 22 L637.4 22 L637.4 21.7 L638.5 21.6 L639.5 21.6 L639.5 21.3 L640.6 21.3 L640.6 21.7 L641.7 21.7 L641.7 21.4 L642.7 21.4 L642.7 21.1 L643.8 21.1 L643.8 19.7 L644.8 19.6 L645.8 19.5 L646.8 19.3 L647.8 19.4 L648.8 19.3 L649.8 19.3 L650.8 19.2 L651.8 19.1 L652.8 18.9 L653.8 18.8 L654.8 18.7 L655.8 18.6 L656.8 18.6 L656.8 17.5 L657.8 17.5 L657.8 18.5 L658.8 18.4 L659.8 18.4 L659.8 17.7 L660.8 17.6 L661.8 17.6 L661.8 17.9 L662.8 17.9 L663.8 17.9 L663.8 18.1 L664.8 18.1 L664.8 17.5 L665.8 17.4 L666.8 17.4 L667.8 17.4 L667.8 18.2 L668.8 18.2 L668.8 17.5 L669.8 17.4 L670.8 17.4 L671.8 17.3 L672.8 17.3 L672.8 16.9 L673.8 16.8 L674.8 16.8 L675.8 16.8 L675.8 17.8 L676.8 17.8 L676.8 16.7 L677.8 16.7 L677.8 17.8 L678.9 17.8 L679.9 17.8 L680.9 17.8 L680.9 17.3 L681.9 17.3 L681.9 16.9 L683 16.9 L684 16.9 L685 16.9 L685 18.1" fill="none" stroke="#3b7f38" stroke-width="1.2" stroke-linejoin="round"/>
<path d="M536.5 16.6 L537.5 16.6 L537.5 17.2 L538.5 17.2 L538.5 16.9 L539.5 16.9 L539.5 17.3 L540.5 17.3 L541.5 17.3 L542.5 17.3 L543.5 17.3 L543.5 16.3 L544.5 16.3 L545.5 16.3 L545.5 17 L546.5 17 L547.4 17 L547.4 17.2 L548.4 17.2 L549.4 17.2 L549.4 17.6 L550.4 17.6 L551.4 17.6 L551.4 17 L552.4 16.9 L553.4 16.9 L553.4 17.1 L554.4 17.1 L555.4 17.1 L556.4 17.3 L557.4 17.3 L558.4 17.3 L559.4 17.3 L560.4 17.4 L561.4 17.4 L562.4 17.4 L563.4 17.4 L564.4 17.4 L564.4 16.8 L565.4 16.8 L566.4 16.8 L566.4 17.3 L567.4 17.3 L568.4 17.1 L569.4 17.1 L569.4 16.8 L570.4 16.9 L571.4 16.9 L572.4 16.9 L573.4 16.9 L573.4 17.2 L574.4 17.2 L574.4 16.7 L575.4 16.7 L576.4 16.7 L577.4 16.7 L577.4 17.1 L578.4 17.1 L579.4 17.1 L580.4 17.1 L581.4 17.1 L582.4 17.1 L583.4 17.1 L584.4 17.1 L584.4 17.3 L585.4 17.3 L586.4 17.3 L587.4 17.3 L588.4 17.3 L588.4 17.1 L589.4 17.1 L590.4 17.1 L591.4 17.1 L592.4 17.1 L593.4 17.1 L594.4 17.1 L594.4 17.4 L595.4 17.4 L596.4 17.4 L597.4 17.3 L598.4 17.3 L598.4 16.9 L599.4 16.7 L600.4 16.7 L601.4 16.7 L601.4 16.5 L602.4 16.5 L602.4 16.8 L603.4 16.8 L604.4 16.8 L605.4 16.8 L606.4 16.8 L606.4 17.1 L607.4 17.1 L607.4 17.3 L608.4 17.3 L608.4 17 L609.4 17 L610.4 17 L611.4 17 L612.4 17 L612.4 16.8 L613.4 16.8 L614.3 16.8 L615.3 16.8 L616.3 16.8 L617.3 16.8 L618.3 16.8 L619.3 16.8 L620.3 16.8 L621.3 17 L622.3 17 L623.3 17 L623.3 16.6 L624.3 16.6 L625.3 16.6 L626.3 16.6 L626.3 16.9 L627.3 16.9 L628.3 17 L629.3 17 L630.3 17 L631.3 17 L632.3 17 L632.3 17.4 L633.3 17.4 L634.3 17.4 L635.3 17.4 L636.3 17.4 L636.3 16.9 L637.3 16.9 L638.3 16.9 L639.3 16.9 L640.3 16.9 L640.3 16.6 L641.3 16.6 L642.3 16.6 L643.3 16.6 L644.3 16.6 L645.3 16.6 L646.3 16.6 L647.3 16.6 L647.3 17.1 L648.3 17.1 L649.3 17 L650.3 16.8 L651.3 16.8 L651.3 17.3 L652.3 17.3 L653.3 17.3 L653.3 16.8 L654.3 16.8 L655.3 16.8 L655.3 17.2 L656.3 17.2 L657.3 17.2 L657.3 17.6 L658.3 17.6 L658.3 18.3 L659.3 18.3 L659.3 19.2 L660.3 19.2 L660.3 20 L661.3 20 L661.3 21.3 L662.3 21.2 L663.4 21 L664.5 21 L664.5 21.3 L665.6 21.1 L666.6 21.1 L666.6 20.6 L667.7 20.4 L668.8 20.4 L668.8 20 L669.8 20 L669.8 20.5 L670.8 20.5 L670.8 21 L671.8 21 L671.8 21.4 L672.8 21.4 L672.8 21.9 L673.8 21.9 L673.8 22.4 L674.8 22.5 L675.8 22.6 L676.8 22.7 L677.8 22.7 L677.8 23.3 L678.8 23.4 L680 23.4 L680 23.2 L681.2 23.2 L681.2 23.8 L682.5 23.8 L682.5 25 L683.7 25 L683.7 27.9 L685 27.9 L685 31.1" fill="none" stroke="#2b4399" stroke-width="1.2" stroke-linejoin="round"/>
<path d="M35 132.2 L36 132.3 L37 132.5 L38 132.3 L39 132.5 L40 132.7 L41 132.7 L42 132.7 L42 133.6 L43 133.6 L43 132.9 L44 132.9 L45 132.9 L46 132.9 L46 133.5 L47 133.4 L48 133.3 L49 133.2 L50 133.2 L50 132.9 L51 133 L52 133.1 L53 133.2 L54 133.2 L54 132.7 L55 132.7 L55 133.9 L56 133.9 L57 133.8 L58 133.8 L59 133.8 L59 133 L60 133 L60 132.6 L61 132.6 L62 132.6 L62 132.1 L63 132 L63.9 132 L63.9 132.7 L64.9 132.6 L65.9 132.6 L65.9 132.3 L66.9 132.3 L67.9 132.3 L67.9 131.8 L68.9 131.8 L68.9 132.1 L69.9 132.1 L70.9 132 L71.9 132 L72.9 132 L72.9 131.5 L73.9 131.4 L74.9 131.4 L75.9 131.6 L76.9 131.6 L76.9 132.8 L77.9 132.8 L77.9 133 L78.9 133.2 L79.9 133.2 L79.9 134.1 L81.2 134.1 L81.2 133.2 L82.4 133.2 L82.4 132.3 L83.7 132.2 L84.9 132.2 L84.9 133.5 L85.9 133.5 L85.9 133.2 L86.9 133.2 L86.9 132.9 L87.9 132.8 L88.9 132.8 L88.9 132.6 L89.9 132.6 L89.9 132.2 L90.9 132.2 L90.9 132.6 L91.9 132.6 L91.9 133 L92.9 133 L92.9 133.4 L93.9 133.4 L93.9 134.5 L94.9 134.5 L94.9 134.8 L96.2 134.8 L97.4 134.7 L98.6 134.7 L99.9 134.7 L99.9 133.7 L101.1 133.7 L101.1 133.1 L102.4 133.1 L102.4 132.2 L103.4 132.2 L104.4 132.2 L105.4 132.2 L105.4 131.5 L106.5 131.5 L107.5 131.5 L108.5 131.5 L109.5 131.5 L109.5 131.8 L110.5 131.8 L110.5 132.6 L111.5 132.6 L112.6 132.6 L113.6 132.5 L114.6 132.5 L115.6 132.5 L115.6 131.5 L116.6 131.5 L117.6 131.5 L117.6 132 L118.7 132 L119.7 132 L120.7 132 L121.7 131.9 L122.7 131.9 L123.7 131.8 L124.8 131.8 L124.8 132.3 L125.8 132.3 L125.8 131.8 L126.8 131.9 L127.8 131.9 L128.8 131.9 L128.8 132.3 L129.9 132.3 L130.8 132.3 L130.8 132.6 L131.8 132.6 L131.8 133 L132.8 132.9 L133.8 132.9 L133.8 133.3 L134.8 133.3 L134.8 133.6 L135.8 133.6 L135.8 133.8 L136.8 133.6 L137.8 133.6 L137.8 133.9 L138.8 133.9 L138.8 134.1 L139.8 134.1 L139.8 134.4 L140.8 134.4 L141.8 134.3 L142.8 134.2 L143.8 134.1 L144.8 134.1 L144.8 134.7 L145.8 134.8 L146.8 134.8 L147.8 134.9 L148.8 134.9 L148.8 134 L149.8 134 L149.8 134.3 L150.8 134.4 L151.8 134.5 L152.8 134.5 L153.8 134.4 L154.8 134.5 L155.8 134.4 L156.8 134.4 L157.8 134.4 L157.8 134.7 L158.8 134.7 L159.8 134.6 L160.8 134.6 L161.8 134.6 L161.8 134.8 L162.8 134.7 L163.8 134.7 L164.8 134.6 L165.8 134.5 L166.8 134.4 L167.8 134.4 L168.8 134.4 L168.8 133.9 L169.8 133.8 L170.8 133.7 L171.8 133.6 L172.8 133.6 L172.8 134.1 L173.8 134 L174.8 133.9 L175.8 133.9 L175.8 134.2 L176.8 134.2 L177.8 134.2 L177.8 134.5 L178.8 134.5 L178.8 134.7 L179.8 134.7 L179.8 135 L180.8 135 L180.8 134.7 L181.9 134.9 L183 135.1 L184 135.1 L184 135.8" fill="none" stroke="#cc2f2f" stroke-width="1.2" stroke-linejoin="round"/>
<path d="M35 132.5 L36.1 132.6 L37.1 132.6 L37.1 132 L38.2 132.1 L39.3 132.3 L40.3 132.4 L41.4 132.4 L41.4 133.2 L42.5 133.3 L43.5 133.3 L44.5 133.3 L44.5 132.1 L45.5 132.1 L46.5 132.1 L46.5 133.9 L47.5 133.9 L48.7 133.9 L48.7 134.9 L50 134.9 L50 137.6 L51 137.6 L51 145.1 L52 145.1 L52 152.6 L53.7 152.6 L53.7 157.6 L55 157.6 L55 159.3 L56.2 159.3 L56.2 161.8 L57.5 161.8 L57.5 164.3 L58.7 164.3 L58.7 166.8 L60 166.8 L60 168.8 L61.2 168.8 L61.2 170.5 L62.5 170.5 L62.5 172.4 L63.4 172.4 L63.4 173.4 L64.4 173.4 L64.4 174.4 L65.4 174.4 L65.4 175.4 L66.4 175.4 L66.4 176.9 L67.4 176.9 L67.4 177.9 L68.7 177.9 L68.7 181.7 L69.9 181.7 L69.9 185.1 L71.2 185.1 L71.2 187.6 L72.4 187.6 L72.4 190.1 L73.4 190.1 L73.4 191.2 L74.4 191.2 L74.4 192.2 L75.4 192.2 L75.4 193 L76.4 193 L76.4 194 L77.4 194 L77.4 195 L78.4 194.8 L79.4 194.8 L79.4 195.9 L80.4 195.9 L80.4 196.3 L81.4 196.5 L82.4 196.5 L82.4 196.9 L83.5 196.9 L84.5 196.9 L85.5 196.9 L86.6 196.9 L86.6 196.5 L87.6 196.5 L88.7 196.5 L89.7 196.5 L90.7 196.5 L90.7 196.8 L91.8 196.8 L92.8 196.8 L92.8 196.5 L93.9 196.5 L93.9 197.2 L94.9 197.2 L96.2 197.2 L96.2 198.1 L97.4 198.1 L97.4 199 L98.6 199 L98.6 195.1 L100.4 195.1 L100.4 200.1 L101.5 200.1 L101.5 201 L102.6 201 L102.6 201.8 L103.8 201.8 L103.8 202.4 L104.9 202.4 L104.9 203.2 L105.9 203.3 L106.9 203.4 L108 203.4 L108 203.6 L109 203.7 L110 203.7 L111 203.9 L112 204 L113.1 204 L114.1 204 L114.1 205 L115.1 205 L116.1 205.1 L117.4 205.1 L117.4 201.9 L118.6 201.9 L118.6 197.9 L119.9 197.9 L119.9 194.7 L121.1 194.7 L121.1 188.5 L122.4 188.5 L122.4 182.3 L123.6 182.3 L123.6 178.2 L124.9 178.2 L124.9 172.6 L126.1 172.6 L126.1 168.4 L127.4 168.4 L127.4 164.3 L128.6 164.3 L128.6 160.3 L129.9 160.3 L129.9 158.7 L131.1 158.7 L131.1 157 L132.3 157 L132.3 155.4 L133.3 155.4 L133.3 155.6 L134.3 155.6 L134.3 155.1 L135.3 155.1 L135.3 154.6 L136.3 154.6 L136.3 153.1 L137.3 153.1 L138.3 153.1 L138.3 151.7 L139.3 151.7 L139.3 151.2 L140.3 151.2 L140.3 149.5 L141.3 149.5 L141.3 149 L142.3 149 L142.3 148.5 L143.4 148.5 L143.4 149.9 L144.5 149.9 L144.5 149.3 L145.5 149.3 L145.5 148.7 L146.6 148.7 L146.6 148.3 L147.7 148.3 L147.7 147.7 L148.8 147.7 L148.8 146.7 L149.8 146.6 L150.8 146.6 L150.8 145.8 L151.8 145.8 L151.8 145.5 L152.8 145.5 L152.8 145.3 L153.8 145.3 L153.8 145.7 L154.8 145.7 L154.8 145.5 L155.8 145.5 L155.8 144.1 L156.8 144.1 L156.8 143.8 L157.8 143.8 L157.8 143.6 L158.8 143.6 L158.8 144.1 L159.8 144.1 L159.8 143.9 L160.8 143.7 L161.8 143.7 L161.8 143.1 L162.8 143.1 L162.8 143.5 L163.8 143.4 L164.8 143.4 L164.8 142.3 L165.8 142.2 L166.8 142.1 L167.8 142.2 L168.8 142 L169.8 141.9 L170.8 141.9 L170.8 141.6 L171.8 141.6 L171.8 142.3 L172.8 142.2 L173.8 142.3 L174.8 142.1 L175.8 142 L176.8 142 L176.8 141 L177.8 140.9 L178.8 140.7 L179.8 140.6 L180.8 140.6 L180.8 141.3 L181.9 141.3 L183 141.3 L184 141.3" fill="none" stroke="#3b7f38" stroke-width="1.2" stroke-linejoin="round"/>
<path d="M35 130.7 L36.1 130.7 L36.1 130.5 L37.1 130.5 L37.1 131.6 L38.2 131.6 L38.2 131.4 L39.3 131.4 L39.3 131.1 L40.3 131.1 L40.3 130.9 L41.4 130.9 L41.4 130.7 L42.5 130.7 L42.5 130.4 L43.5 130.4 L43.5 130.8 L44.5 130.8 L44.5 129.6 L45.5 129.6 L45.5 130 L46.5 130 L46.5 130.3 L47.5 130.3 L47.5 130.6 L48.7 130.6 L48.7 133.8 L50 133.8 L50 136.9 L51 136.9 L51 150.5 L52 150.5 L52 165.2 L53.7 165.2 L53.7 185.2 L55 185.2 L55 190.2 L56.2 190.2 L56.2 194.3 L57.5 194.3 L57.5 195.8 L58.7 195.8 L58.7 197.5 L60 197.5 L60 199.4 L61 199.4 L61 200.3 L62 200.3 L62 201.1 L63 201.1 L63 202.2 L63.9 202.2 L63.9 203 L64.9 203 L64.9 203.9 L65.9 203.9 L65.9 203.2 L66.9 203.2 L66.9 203.7 L67.9 203.7 L67.9 204.2 L68.9 204.2 L68.9 205.9 L69.9 205.9 L70.9 206 L71.9 206 L71.9 205.5 L72.9 205.5 L72.9 205.8 L73.9 205.8 L73.9 206.4 L74.9 206.4 L74.9 206.2 L75.9 206.2 L75.9 207.6 L76.9 207.7 L77.9 207.9 L78.9 207.9 L78.9 207.1 L79.9 207.2 L80.9 207.2 L80.9 208 L81.9 208 L81.9 207.6 L82.9 207.6 L83.9 207.6 L85 207.6 L86 207.6 L86 207.1 L87 207.1 L88 207.1 L88 206.6 L89 206.6 L89 207.1 L90 207.2 L91 207.2 L92 207.2 L93 207.2 L94 207.2 L94 207.6 L95 207.5 L96 207.5 L97 207.5 L97 206.9 L98 206.9 L99 206.9 L99 206.3 L100 206.3 L101 206.3 L101 206.9 L102 206.9 L103.1 207 L104.1 207 L105.1 207 L106.1 207 L106.1 206.8 L107.1 206.8 L108.1 206.8 L109.1 206.8 L110.1 206.8 L111.1 206.8 L111.1 207.4 L112.1 207.4 L112.1 207 L113.1 207 L114.1 207 L115.1 207 L116.1 207 L116.1 207.2 L117.4 207.2 L117.4 201.9 L118.6 201.9 L118.6 196.9 L119.9 196.9 L119.9 189.4 L121.1 189.4 L121.1 181.9 L122.4 181.9 L122.4 178.3 L123.6 178.3 L123.6 173.3 L124.9 173.3 L124.9 170 L126.1 170 L126.1 165.4 L127.4 165.4 L127.4 162.1 L128.6 162.1 L128.6 159.6 L129.9 159.6 L129.9 158.1 L130.8 158.1 L130.8 157.1 L131.8 157.1 L131.8 156.4 L132.8 156.4 L132.8 154.5 L133.8 154.5 L133.8 153.5 L134.8 153.5 L134.8 152.5 L135.8 152.5 L135.8 151.7 L136.8 151.7 L136.8 150.8 L137.8 150.8 L137.8 150.1 L138.8 150.1 L138.8 149.3 L139.8 149.3 L139.8 149 L140.8 149 L140.8 148.1 L141.8 148.1 L141.8 148.3 L142.8 148.3 L142.8 147.8 L143.8 147.8 L143.8 146.2 L144.8 146.2 L144.8 145.7 L145.9 145.7 L145.9 146.4 L147 146.2 L148 146 L149.1 146 L150.2 145.8 L151.2 145.7 L152.3 145.7 L152.3 144.4 L153.4 144.3 L154.5 144.1 L155.5 144.1 L155.5 144.6 L156.6 144.6 L156.6 145.1 L157.7 144.9 L158.7 144.7 L159.8 144.5 L160.8 144.5 L160.8 143.5 L161.8 143.5 L161.8 142.9 L162.8 142.9 L162.8 142.5 L163.8 142.5 L163.8 142 L164.8 142 L164.8 141.6 L165.8 141.6 L165.8 142.1 L166.8 142.1 L166.8 141.7 L167.8 141.7 L167.8 141.3 L168.8 141.3 L168.8 140 L169.8 140 L169.8 139.6 L170.8 139.6 L170.8 140 L171.8 140 L171.8 139.6 L172.8 139.6 L172.8 139.2 L173.8 139.2 L173.8 138.8 L174.8 138.8 L174.8 138.4 L175.8 138.4 L175.8 138.7 L176.8 138.7 L176.8 138.2 L177.8 138.2 L177.8 139.4 L178.8 139.4 L178.8 139.7 L179.8 139.7 L179.8 139.9 L180.8 139.9 L180.8 139.3 L181.9 139.4 L183 139.4 L183 140.2 L184 140.4" fill="none" stroke="#2b4399" stroke-width="1.2" stroke-linejoin="round"/>
<path d="M202.2 135.1 L203.3 135.2 L204.3 135.1 L205.4 135.2 L206.4 135.3 L207.4 135.3 L207.4 135 L208.5 135 L208.5 135.5 L209.5 135.4 L210.5 135.4 L210.5 134.9 L211.5 134.8 L212.5 134.7 L213.5 134.6 L214.7 134.6 L214.7 136.5 L216 136.5 L216 138.4 L217.2 138.4 L217.2 137.1 L218.5 137.1 L218.5 136.7 L219.7 136.7 L219.7 137.2 L221 137.2 L222 137.2 L222 136.9 L223 136.9 L223 136.4 L224 136.4 L224 136.2 L225 136.2 L225 136.7 L226 136.7 L226 136.5 L227 136.5 L227 137 L228 137 L228 136.3 L229 136.3 L229 136.1 L229.9 136.1 L229.9 135.8 L230.9 135.8 L230.9 134.9 L231.9 134.9 L231.9 135.1 L232.9 135.1 L232.9 135.4 L233.9 135.4 L233.9 135.9 L234.9 135.9 L234.9 136.1 L235.9 136.1 L235.9 136.9 L236.9 136.9 L236.9 136.4 L237.9 136.4 L237.9 136.2 L238.9 136.2 L238.9 135.9 L239.9 135.9 L239.9 134.9 L240.9 134.9 L240.9 134.6 L241.9 134.6 L241.9 134.4 L242.9 134.4 L242.9 135.1 L243.9 135.1 L243.9 134.1 L244.9 134.1 L244.9 133.9 L245.9 133.9 L245.9 134.3 L246.9 134.3 L246.9 133.8 L247.9 133.8 L247.9 133.3 L248.9 133.3 L248.9 132.8 L249.9 132.8 L249.9 131.6 L250.9 131.6 L250.9 131.1 L251.9 131.1 L252.9 131.3 L253.9 131.4 L254.9 131.6 L255.9 131.6 L255.9 132.4 L256.9 132.4 L256.9 132.7 L257.9 132.7 L257.9 133.1 L258.9 133.1 L258.9 133.4 L259.9 133.4 L259.9 132.8 L260.9 132.8 L260.9 133.1 L261.9 133 L262.9 132.8 L263.9 132.9 L264.9 132.8 L265.9 132.6 L266.9 132.6 L266.9 133 L267.9 133 L267.9 134.1 L268.9 134.2 L269.9 134.2 L269.9 134.6 L270.9 134.6 L270.9 134.2 L271.9 134.2 L271.9 133.8 L272.9 133.8 L272.9 133.5 L273.9 133.5 L273.9 133.1 L274.9 133.1 L274.9 133.5 L275.9 133.5 L275.9 133.1 L276.9 133.3 L277.9 133.3 L278.9 133.3 L278.9 134.4 L279.9 134.5 L280.9 134.5 L280.9 134 L281.9 134 L281.9 133.8 L282.9 133.8 L282.9 133.3 L283.9 133.3 L283.9 133 L284.9 133 L284.9 132.8 L285.9 132.8 L285.9 132.5 L286.9 132.5 L286.9 133.2 L287.9 133.2 L287.9 133.4 L288.9 133.4 L288.9 133.7 L289.9 133.7 L289.9 134 L290.9 134 L290.9 134.2 L291.9 134.2 L291.9 133.9 L292.9 133.9 L292.9 133.5 L293.9 133.5 L293.9 133.2 L294.9 133.2 L294.9 132.6 L295.9 132.6 L295.9 132.2 L296.8 132.2 L297.8 132.3 L298.8 132.3 L298.8 131.5 L299.8 131.5 L299.8 133 L300.8 133.1 L301.8 133.1 L302.8 133.1 L302.8 132.4 L303.8 132.5 L304.8 132.6 L305.8 132.6 L306.8 132.8 L307.8 132.8 L307.8 132.5 L308.8 132.5 L308.8 131.7 L309.8 131.7 L309.8 132.2 L310.8 132.3 L311.8 132.3 L311.8 133.2 L312.8 133.3 L313.8 133.4 L314.8 133.6 L315.8 133.6 L316.8 133.6 L316.8 133.9 L317.8 133.9 L318.8 133.8 L319.8 133.8 L319.8 132.4 L320.8 132.3 L321.8 132.3 L322.8 132.3 L322.8 132.8 L323.8 132.8 L323.8 132.5 L324.8 132.4 L325.8 132.4 L326.8 132.4 L326.8 133 L327.8 133.1 L328.8 133.1 L329.8 133.1 L330.8 133.1 L331.8 133.2 L332.8 133.3 L333.8 133.3 L333.8 134.5 L334.8 134.6 L335.8 134.7 L336.8 134.7 L336.8 132.8 L337.8 132.7 L338.8 132.7 L338.8 133.5 L339.8 133.3 L340.8 133.3 L341.8 133.2 L342.8 133.1 L343.8 133.1 L343.8 132.2 L344.8 132.2 L345.8 132.1 L346.8 132.1 L347.9 132.1 L349 131.9 L350 131.9 L350 132.4" fill="none" stroke="#cc2f2f" stroke-width="1.2" stroke-linejoin="round"/>
<path d="M202.2 130.2 L203.3 130.2 L204.4 130.2 L204.4 130.4 L205.4 130.4 L206.5 130.3 L207.5 130.3 L208.6 130.3 L208.6 130.6 L209.6 130.4 L210.7 130.4 L211.7 130.4 L212.8 130.4 L213.9 130.4 L214.9 130.4 L216 130.4 L217.2 130.4 L217.2 132.5 L218.5 132.5 L218.5 134.7 L219.7 134.7 L219.7 133.8 L221 133.8 L221 133 L222.2 133 L222.2 132 L223.5 132 L223.5 131 L224.5 131 L225.5 131 L225.5 130.4 L226.5 130.4 L227.6 130.4 L228.6 130.4 L228.6 130.6 L229.6 130.6 L230.7 130.6 L231.7 130.6 L232.7 130.6 L232.7 130.2 L233.7 130.2 L234.8 130.3 L235.8 130.3 L236.8 130.3 L236.8 130.5 L237.8 130.5 L238.9 130.5 L239.9 130.5 L240.9 130.5 L242.2 130.5 L242.2 131.9 L243.4 131.9 L243.4 130.5 L244.4 130.5 L245.4 130.5 L245.4 130.8 L246.4 130.8 L247.4 130.9 L248.4 130.8 L249.4 130.8 L250.4 130.9 L251.4 130.9 L252.4 130.8 L253.4 130.9 L254.4 131 L255.4 131 L256.4 131.1 L257.4 131.1 L258.4 131.1 L258.4 131.4 L259.7 131.4 L259.7 131 L260.9 131 L260.9 130.5 L261.9 130.4 L262.9 130.4 L263.9 130.4 L263.9 130.2 L264.9 130.2 L264.9 130.6 L265.9 130.6 L266.9 130.6 L267.9 130.6 L268.9 130.5 L269.9 130.5 L270.9 130.6 L271.9 130.6 L272.9 130.6 L273.9 130.7 L274.9 130.7 L274.9 130.3 L275.9 130.5 L276.9 130.5 L277.9 130.5 L278.9 130.5 L279.9 130.5 L279.9 130.3 L280.9 130.3 L280.9 130.7 L281.9 130.7 L282.9 130.7 L282.9 130.4 L283.9 130.4 L284.9 130.4 L285.9 130.4 L286.9 130.4 L287.9 130.4 L288.9 130.4 L289.9 130.4 L290.9 130.3 L291.9 130.3 L292.9 130.3 L293.9 130.3 L294.9 130.3 L294.9 130.6 L295.9 130.6 L296.9 130.6 L298 130.6 L299 130.6 L299 130.8 L300 130.8 L301 130.8 L302 130.8 L302 130.6 L303 130.4 L304 130.4 L304 130.2 L305 130.3 L306 130.3 L307 130.3 L308 130.3 L308 130.7 L309 130.7 L310 130.7 L311 130.7 L312 130.8 L313 130.6 L314 130.6 L315 130.6 L316 130.5 L317 130.5 L318 130.5 L319 130.7 L320 130.7 L321 130.7 L322 130.7 L322 130.3 L323 130.3 L324 130.3 L324 131 L325 131 L326 131 L326 130.5 L327 130.3 L328 130.3 L329 130.3 L330 130.3 L331 130.2 L332 130.2 L333 130.2 L334 130.2 L335 130.2 L335 130.5 L336 130.5 L337 130.5 L338 130.5 L339 130.5 L340 130.5 L341 130.5 L342 130.5 L342 131 L343 131 L344 131 L345 131 L345 130.3 L346 130.3 L347 130.3 L348 130.3 L348 130.6 L349 130.6 L350 130.6" fill="none" stroke="#3b7f38" stroke-width="1.2" stroke-linejoin="round"/>
<path d="M202.2 130 L203.3 130 L204.4 130.1 L205.5 130.2 L206.6 130.1 L207.7 130.1 L207.7 130.9 L208.8 130.9 L209.9 131 L211 131 L211 130.6 L212.2 130.6 L212.2 130.8 L213.5 130.9 L214.7 130.9 L214.7 130.7 L216 130.7 L216 135.1 L217.2 135.1 L217.2 139.5 L218.5 139.5 L218.5 144.3 L219.7 144.3 L219.7 149.3 L221 149.3 L221 154.3 L222.2 154.3 L222.2 159.3 L223.5 159.3 L223.5 163.2 L224.7 163.2 L224.7 167 L226 167 L226 169.5 L227.2 169.5 L227.2 171.8 L228.5 171.8 L228.5 173 L229.7 173 L229.7 175.2 L230.9 175.2 L230.9 176.5 L232.2 176.5 L232.2 178.1 L233.4 178.1 L233.4 179.8 L234.7 179.8 L234.7 180.1 L235.9 180.1 L235.9 182.4 L237.2 182.4 L237.2 183.7 L238.4 183.7 L238.4 184.9 L239.7 184.9 L239.7 186.5 L240.9 186.5 L240.9 188.2 L242.2 188.2 L242.2 189.8 L243.4 189.8 L243.4 191.9 L244.7 191.9 L244.7 194.1 L245.9 194.1 L245.9 196.2 L247.2 196.2 L247.2 197 L248.4 197 L248.4 197.8 L249.7 197.8 L249.7 198.3 L250.9 198.3 L250.9 199.7 L252.2 199.7 L252.2 201.1 L253.4 201.1 L253.4 202.2 L254.4 202.4 L255.4 202.5 L256.4 202.7 L257.4 202.7 L257.4 203.4 L258.4 203.4 L258.4 203 L259.4 203 L260.4 203 L261.4 203 L262.4 203 L262.4 203.5 L263.4 203.5 L263.4 205 L264.4 205 L265.4 205 L266.4 205 L266.4 203.1 L267.4 203.1 L268.4 203.1 L269.4 203.1 L269.4 204 L270.4 204 L271.4 204 L272.4 204 L272.4 203.7 L273.4 203.9 L274.4 203.7 L275.4 203.7 L276.4 203.7 L277.4 203.7 L278.4 203.8 L279.4 203.8 L280.4 203.8 L281.4 203.9 L282.4 203.9 L282.4 204.2 L283.4 204.2 L284.6 204.2 L284.6 194.9 L285.9 194.9 L285.9 185.5 L287.1 185.5 L287.1 173.9 L288.4 173.9 L288.4 162.7 L289.6 162.7 L289.6 159.3 L290.9 159.3 L290.9 156.8 L292.1 156.8 L292.1 155.1 L293.4 155.1 L293.4 154 L294.6 154 L294.6 152.4 L295.9 152.4 L295.9 150.7 L297.1 150.7 L297.1 148.9 L298.3 148.9 L298.3 147.2 L299.3 147.2 L299.3 146.2 L300.3 146.2 L300.3 145.5 L301.3 145.5 L301.3 144.5 L302.3 144.5 L302.3 143.5 L303.3 143.5 L303.3 142.5 L304.3 142.5 L305.3 142.5 L305.3 141.6 L306.3 141.6 L306.3 140.7 L307.3 140.7 L307.3 139.8 L308.3 139.8 L308.3 139.2 L309.4 139.2 L310.5 139.1 L311.5 139 L312.6 139 L312.6 137.9 L313.7 137.8 L314.8 137.8 L314.8 137.4 L315.8 137.4 L315.8 137.7 L316.8 137.8 L317.8 137.8 L318.8 137.9 L319.8 137.7 L320.8 137.8 L321.8 137.8 L322.8 137.9 L323.8 137.9 L324.8 138 L325.8 138 L326.8 138 L326.8 137.4 L327.8 137.4 L327.8 137.7 L328.8 137.8 L329.8 137.8 L330.8 137.9 L331.8 137.9 L331.8 138.7 L332.8 138.8 L333.8 138.8 L333.8 139.2 L334.8 139.3 L335.8 139.4 L336.9 139.4 L336.9 139.6 L337.9 139.6 L337.9 139.2 L339 139.2 L339 138.9 L340.1 138.9 L340.1 140.1 L341.1 140.1 L342.2 140.1 L342.2 140.3 L343.3 140.3 L343.3 140.6 L344.4 140.5 L345.5 140.3 L346.6 140.2 L347.8 140.2 L348.9 140.1 L350 140.1 L350 138.7" fill="none" stroke="#2b4399" stroke-width="1.2" stroke-linejoin="round"/>
<path d="M372.2 130 L373.3 130 L374.3 130 L375.3 130 L376.4 130 L377.4 130 L377.4 130.4 L378.4 130.4 L378.4 130.8 L379.5 130.8 L379.5 129.8 L380.5 129.8 L380.5 128.9 L381.5 128.9 L382.6 128.9 L383.6 128.9 L383.6 129.8 L384.6 129.8 L385.6 129.8 L385.6 128.9 L386.7 128.9 L387.7 128.9 L387.7 130.3 L388.7 130.3 L389.8 130.3 L390.8 130.3 L390.8 129.6 L391.8 129.6 L392.9 129.6 L393.9 129.5 L394.9 129.5 L396 129.5 L396 130.3 L397 130.5 L398.1 130.5 L398.1 130.2 L399.2 130.2 L399.2 131.4 L400.2 131.6 L401.3 131.8 L402.4 131.8 L402.4 131.3 L403.4 131.4 L404.7 131.4 L404.7 133.3 L405.9 133.3 L405.9 135.2 L406.9 135.1 L407.9 135.1 L407.9 135.4 L408.9 135.4 L408.9 135.7 L409.9 135.7 L409.9 135.9 L410.9 135.9 L410.9 136.2 L412 136.2 L413.1 136.2 L413.1 136.4 L414.1 136.4 L415.2 136.4 L416.3 136.4 L417.4 136.4 L418.4 136.4 L419.4 136.4 L419.4 137.1 L420.4 137.1 L420.4 136 L421.4 136 L421.4 136.2 L422.4 136.2 L422.4 136.7 L423.4 136.7 L423.4 137 L424.7 137 L424.7 138.2 L425.9 138.2 L425.9 140.5 L427.2 140.5 L427.2 141.7 L428.2 141.7 L428.2 141.5 L429.2 141.5 L430.2 141.5 L431.2 141.5 L432.2 141.5 L432.2 140.8 L433.4 140.8 L433.4 138.8 L434.6 138.8 L434.6 136.9 L435.9 136.9 L435.9 139.4 L437.1 139.4 L437.1 142.5 L438.4 142.5 L438.4 143.5 L439.6 143.5 L439.6 144.5 L440.9 144.5 L440.9 145.5 L441.9 145.5 L441.9 145.1 L443 145.2 L444 145.2 L444 145.9 L445 145.8 L446.1 145.9 L447.1 145.9 L448.2 145.9 L448.2 144.9 L449.2 144.9 L449.2 145.8 L450.2 145.9 L451.3 145.9 L452.3 146 L453.4 146.1 L454.6 146.1 L454.6 143.6 L455.9 143.6 L455.9 141.1 L457.1 141.1 L457.1 139 L458.4 139 L458.4 136.8 L459.6 136.8 L459.6 134.8 L460.6 134.8 L460.6 135.1 L461.7 135.1 L461.7 134.9 L462.7 134.9 L462.7 134.7 L463.8 134.7 L463.8 134.5 L464.8 134.5 L464.8 133.9 L465.9 133.9 L465.9 133.7 L466.9 133.8 L467.9 133.8 L467.9 133.5 L469 133.6 L470 133.7 L471.1 133.8 L472.1 133.8 L472.1 134 L473.1 134.1 L474.2 134.2 L475.2 134.4 L476.3 134.3 L477.3 134.3 L478.3 134.4 L479.4 134.4 L480.4 134.4 L480.4 135.5 L481.5 135.5 L481.5 135.1 L482.5 134.9 L483.5 134.9 L484.6 134.8 L485.6 134.8 L486.7 134.8 L487.7 134.8 L488.7 134.7 L489.8 134.7 L489.8 135.7 L490.8 135.7 L491.8 135.6 L492.8 135.5 L493.8 135.5 L493.8 135.1 L494.8 135 L495.8 134.9 L496.8 134.8 L497.8 134.7 L498.8 134.6 L499.8 134.6 L500.8 134.5 L501.8 134.5 L501.8 133.5 L502.8 133.4 L503.8 133.3 L504.8 133.3 L504.8 133.7 L505.8 133.7 L505.8 134 L506.8 134 L506.8 134.3 L507.8 134.3 L507.8 134.5 L508.8 134.5 L508.8 134.8 L509.8 134.9 L510.8 134.9 L510.8 135.2 L511.8 135.2 L511.8 134.5 L512.8 134.5 L512.8 133.6 L513.8 133.6 L513.8 133.1 L514.8 133.1 L514.8 132.6 L515.8 132.6 L515.8 132 L516.8 132 L516.8 132.8 L517.9 132.8 L517.9 132.1 L519 132 L520 131.9" fill="none" stroke="#2b4399" stroke-width="1.2" stroke-linejoin="round"/>
<path d="M372.2 133.2 L373.3 133.2 L374.3 133.2 L375.4 133.3 L376.4 133.3 L377.4 133.3 L378.5 133.3 L379.7 133.3 L379.7 135.5 L381 135.5 L381 136.6 L382 136.6 L382 136.4 L383 136.4 L383 136.1 L384 136.3 L385 136.3 L385 136 L386 136 L386 135.8 L387 135.8 L387 136.3 L388 136.3 L389 136.3 L389 136.8 L390 136.8 L390 136.5 L391 136.5 L391 137.8 L392.2 137.8 L392.2 141.5 L393.5 141.5 L393.5 138.8 L394.7 138.8 L394.7 135.7 L395.8 135.5 L396.9 135.5 L396.9 135.8 L398 135.8 L398 134.6 L399.1 134.8 L400.2 134.7 L401.3 134.5 L402.4 134.5 L402.4 133.9 L403.4 133.7 L404.4 133.7 L404.4 133.4 L405.4 133.4 L405.4 133 L406.4 133 L406.4 132.2 L407.4 132.2 L407.4 131.8 L408.4 131.8 L408.4 132.4 L409.4 132.4 L409.4 132.8 L410.4 132.8 L410.4 133.1 L411.4 133.1 L411.4 133.5 L412.4 133.6 L413.4 133.6 L413.4 134 L414.4 134 L414.4 134.2 L415.4 134.2 L415.4 134.5 L416.4 134.5 L416.4 133.8 L417.4 133.8 L417.4 134.2 L418.4 134.2 L418.4 134.5 L419.5 134.3 L420.6 134.3 L420.6 135 L421.6 134.8 L422.7 134.8 L422.7 134 L423.8 133.9 L424.8 133.9 L424.8 134.5 L425.9 134.5 L425.9 133.7 L427 133.9 L428 134.1 L429.1 134 L430.2 134.2 L431.3 134.2 L431.3 134.8 L432.3 134.9 L433.4 135.1 L434.4 134.9 L435.4 134.9 L435.4 134.7 L436.4 134.5 L437.4 134.5 L437.4 134.2 L438.4 134.2 L438.4 134 L439.6 134 L439.6 133.1 L440.9 133.1 L440.9 131.6 L441.9 131.6 L441.9 132.7 L442.9 132.7 L442.9 133.8 L443.9 133.8 L443.9 135.3 L444.9 135.3 L444.9 136.4 L445.9 136.4 L445.9 137.1 L446.9 137.1 L446.9 136.9 L447.9 136.9 L447.9 136.2 L448.9 136.2 L448.9 137.1 L449.9 137.1 L449.9 136.8 L450.9 136.8 L450.9 135.3 L451.9 135.3 L451.9 134.8 L452.9 134.8 L452.9 134.3 L453.9 134.3 L453.9 133.9 L454.9 134 L455.9 134 L455.9 133.5 L456.9 133.5 L456.9 133.7 L457.9 133.7 L457.9 134 L458.9 134 L458.9 134.6 L459.9 134.6 L459.9 134.9 L460.9 134.9 L460.9 135.1 L461.9 135.1 L461.9 134.9 L462.9 134.9 L462.9 134.3 L463.9 134.3 L463.9 134 L464.9 134 L464.9 133.8 L465.9 133.8 L465.9 133.5 L466.8 133.5 L466.8 133.2 L467.8 133.2 L468.8 133.2 L468.8 133.8 L469.8 133.8 L470.8 133.8 L471.8 133.8 L471.8 133.6 L472.8 133.6 L472.8 132.8 L473.8 132.8 L473.8 133.1 L474.8 133.1 L474.8 132.8 L475.8 132.8 L475.8 132.6 L476.9 132.6 L476.9 132.9 L478 132.9 L478 132.4 L479 132.4 L479 132.7 L480.1 132.7 L480.1 134.1 L481.2 134.3 L482.3 134.3 L482.3 134 L483.3 134 L483.3 134.3 L484.4 134.3 L484.4 134 L485.5 134 L485.5 133.6 L486.5 133.6 L486.5 133.3 L487.6 133.3 L487.6 133.1 L488.7 133.1 L488.7 132.8 L489.7 132.8 L489.7 132.2 L490.8 132.2 L490.8 131.9 L491.9 132.1 L493 132.1 L493 133 L494 133.2 L495.1 133.4 L496.2 133.5 L497.2 133.5 L497.2 133.3 L498.3 133.5 L499.4 133.5 L500.4 133.5 L500.4 133.8 L501.5 133.8 L502.6 133.8 L503.7 133.8 L503.7 132.4 L504.7 132.4 L504.7 133.7 L505.8 133.7 L506.8 133.7 L506.8 133.4 L507.8 133.4 L507.8 133.7 L508.8 133.7 L508.8 133.4 L509.8 133.4 L509.8 133.2 L510.8 133.2 L510.8 132.3 L511.8 132.3 L511.8 131.9 L512.8 131.8 L513.8 131.8 L513.8 131.5 L514.8 131.5 L514.8 131.2 L515.8 131.2 L515.8 131.5 L516.8 131.5 L517.9 131.5 L519 131.5 L519 131 L520 131" fill="none" stroke="#cc2f2f" stroke-width="1.2" stroke-linejoin="round"/>
<path d="M372.2 132.6 L373.3 132.6 L374.4 132.6 L375.4 132.6 L375.4 131.6 L376.5 131.6 L376.5 132.3 L377.5 132.2 L378.6 132.2 L379.6 132.2 L380.7 132.2 L381.7 132.2 L381.7 131.3 L382.8 131.3 L382.8 132.1 L383.9 132.1 L384.9 132.1 L384.9 133 L386 133 L387 133 L387 132.2 L388 132.2 L388 132.6 L389 132.6 L390 132.6 L390 132.9 L391 132.9 L391 133.3 L392.2 133.3 L392.2 132.6 L393.5 132.6 L393.5 131.8 L394.5 131.6 L395.5 131.5 L396.5 131.5 L396.5 131.9 L397.5 131.8 L398.5 131.6 L399.4 131.5 L400.4 131.5 L400.4 130.8 L401.4 130.7 L402.4 130.5 L403.4 130.5 L403.4 130.2 L404.4 130.3 L405.4 130.3 L406.4 130.4 L407.4 130.2 L408.4 130.2 L409.4 130.2 L409.4 129.9 L410.4 130 L411.4 130 L411.4 130.3 L412.4 130.3 L413.4 130.3 L414.4 130.3 L414.4 130.6 L415.4 130.7 L416.4 130.7 L417.4 130.6 L418.4 130.6 L418.4 131.3 L419.4 131.3 L420.4 131.3 L421.4 131.4 L422.4 131.4 L422.4 131.6 L423.4 131.7 L424.4 131.7 L425.4 131.7 L426.4 131.7 L427.4 131.7 L428.4 131.7 L429.4 131.7 L429.4 130.9 L430.4 130.9 L430.4 130.6 L431.4 130.6 L431.4 130.4 L432.4 130.4 L432.4 130.1 L433.4 130.1 L433.4 129.6 L434.4 129.6 L434.4 130.5 L435.5 130.6 L436.5 130.6 L436.5 129.6 L437.5 129.7 L438.5 129.8 L439.6 129.9 L440.6 130 L441.6 130 L441.6 130.2 L442.6 130.2 L442.6 131.5 L443.7 131.5 L443.7 130.7 L444.7 130.7 L444.7 130.5 L445.7 130.5 L445.7 131.3 L446.8 131.4 L447.8 131.4 L447.8 131 L448.8 131.1 L449.8 131.2 L450.9 131.2 L451.9 131.2 L451.9 132.2 L452.9 132.3 L453.9 132.4 L454.9 132.4 L454.9 131.7 L455.9 131.8 L456.9 131.9 L457.9 132 L458.9 132 L458.9 132.4 L459.9 132.5 L460.9 132.4 L461.9 132.5 L462.9 132.6 L463.9 132.6 L463.9 133.1 L464.9 133 L465.9 133.1 L466.9 133.2 L467.9 133.2 L469 133.2 L469 133 L470 133 L470 133.2 L471.1 133.3 L472.1 133.3 L472.1 133.9 L473.1 133.9 L473.1 133.3 L474.2 133.4 L475.2 133.4 L476.3 133.4 L476.3 132.6 L477.3 132.7 L478.3 132.7 L478.3 134 L479.4 134.1 L480.4 134.2 L481.5 134.3 L482.5 134.3 L482.5 133.8 L483.5 133.9 L484.6 134 L485.6 134.1 L486.7 134.1 L487.7 134.2 L488.7 134.2 L488.7 135.1 L489.8 135.2 L490.8 135.3 L491.8 135.3 L491.8 134.7 L492.8 134.7 L493.8 134.7 L493.8 134.9 L494.8 134.8 L495.8 134.7 L496.8 134.7 L497.8 134.6 L498.8 134.5 L499.8 134.5 L500.8 134.4 L501.9 134.4 L501.9 135.4 L502.9 135.4 L504 135.4 L504 135.6 L505.1 135.6 L505.1 135.9 L506.1 135.9 L506.1 135.2 L507.2 135.2 L507.2 135.4 L508.3 135.4 L508.3 135.7 L509.5 135.7 L509.5 137.5 L510.8 137.5 L510.8 139.6 L512 139.6 L512 135.9 L513.3 135.9 L513.3 132.8 L514.4 132.8 L514.4 132.6 L515.5 132.6 L515.5 132.2 L516.6 132.2 L516.6 132 L517.8 132 L517.8 131.8 L518.9 131.8 L518.9 131.5 L520 131.5" fill="none" stroke="#3b7f38" stroke-width="1.2" stroke-linejoin="round"/>
<path d="M536.5 133.9 L537.5 133.9 L537.5 133.2 L538.6 133.2 L538.6 133.5 L539.7 133.7 L540.7 133.7 L540.7 134.1 L541.8 134.1 L541.8 134.9 L542.9 135.1 L544 135.3 L545 135.3 L545 135.7 L546.1 135.5 L547.2 135.5 L547.2 134.6 L548.2 134.5 L549.3 134.4 L550.4 134.4 L550.4 134.8 L551.4 134.8 L552.5 134.7 L553.6 134.7 L553.6 133.7 L554.7 133.7 L554.7 134.3 L555.7 134.1 L556.8 134.1 L556.8 134.7 L557.9 134.6 L558.9 134.5 L559.9 134.5 L559.9 134.7 L560.9 134.7 L560.9 133.8 L561.9 133.8 L561.9 134.1 L562.9 134.1 L562.9 134.3 L563.9 134.3 L563.9 134.6 L564.9 134.6 L564.9 135.5 L565.9 135.5 L565.9 136 L566.9 136 L566.9 136.7 L567.9 136.7 L567.9 137.2 L568.9 137.2 L568.9 137.7 L569.9 137.7 L569.9 138.1 L570.9 138.1 L570.9 137.8 L571.9 137.8 L571.9 138.2 L572.9 138.2 L572.9 138.6 L573.9 138.6 L573.9 139.6 L574.9 139.6 L574.9 139.2 L575.9 139.2 L575.9 138.8 L576.9 138.7 L577.9 138.7 L577.9 137.2 L578.9 137.2 L578.9 136.8 L579.9 136.8 L579.9 137 L580.9 137 L580.9 138.8 L581.9 138.8 L581.9 139.1 L582.9 139.1 L583.9 139.1 L583.9 139.4 L584.9 139.4 L584.9 138.9 L585.9 138.9 L585.9 137.9 L586.9 138.1 L587.9 138.1 L587.9 136.9 L588.9 136.9 L588.9 135.5 L589.9 135.5 L589.9 135.8 L590.9 135.8 L590.9 136.2 L591.9 136.2 L591.9 137.7 L592.9 137.7 L592.9 138 L593.9 138 L593.9 138.4 L594.9 138.4 L594.9 138.7 L595.9 138.5 L596.9 138.5 L596.9 138.8 L597.9 138.8 L597.9 139.1 L598.9 139.1 L598.9 139.5 L599.9 139.5 L599.9 139 L600.9 139 L600.9 139.3 L601.9 139.3 L601.9 137.1 L602.9 137.1 L602.9 136.6 L603.9 136.6 L603.9 136.1 L604.9 135.9 L605.9 135.9 L605.9 136.3 L606.9 136.2 L607.9 136.2 L607.9 136.9 L608.9 136.9 L608.9 136.4 L609.9 136.4 L609.9 136.2 L610.9 136.2 L610.9 135.9 L611.9 135.9 L611.9 135.7 L612.9 135.7 L612.9 135 L613.9 135 L613.9 134.8 L614.9 134.8 L616 134.8 L617.1 134.8 L617.1 135.4 L618.1 135.4 L619.2 135.4 L620.3 135.4 L620.3 134.8 L621.3 134.8 L621.3 134.3 L622.4 134.3 L622.4 134.6 L623.5 134.6 L623.5 135.8 L624.5 135.8 L625.6 135.8 L625.6 136.9 L626.7 136.9 L626.7 135.9 L627.8 135.9 L627.8 136.4 L628.8 136.4 L628.8 137.5 L629.9 137.5 L629.9 137.8 L631 137.8 L631 138 L632 138 L632 138.3 L633.1 138.3 L633.1 138.6 L634.2 138.6 L634.2 139.2 L635.2 139.2 L635.2 139.5 L636.3 139.5 L636.3 139.8 L637.3 139.8 L637.3 140.2 L638.3 140.2 L638.3 139.9 L639.3 139.9 L640.3 139.9 L640.3 140.3 L641.3 140.3 L641.3 142.2 L642.3 142.2 L642.3 140.8 L643.3 140.8 L643.3 140.4 L644.3 140.4 L644.3 140.9 L645.3 140.9 L645.3 140.5 L646.3 140.5 L646.3 140.2 L647.4 140.2 L647.4 138.8 L648.4 138.8 L648.4 138.5 L649.5 138.5 L649.5 138.2 L650.6 138.3 L651.7 138.3 L651.7 138 L652.7 138 L652.7 138.3 L653.8 138.3 L653.8 138 L654.8 138 L654.8 136.3 L655.8 136.3 L655.8 135.5 L656.8 135.3 L657.8 135.3 L657.8 134.6 L658.8 134.6 L658.8 133.8 L659.8 133.8 L659.8 135 L660.8 135 L660.8 135.7 L661.8 135.7 L661.8 136.5 L662.8 136.5 L663.8 136.5 L663.8 137.3 L664.8 137.3 L664.8 138 L665.8 138 L665.8 138.8 L666.8 138.8 L666.8 139 L667.8 139 L667.8 141.3 L668.8 141.3 L668.8 142.1 L669.8 142.1 L669.8 141.3 L670.8 141.3 L670.8 140.6 L671.8 140.6 L671.8 139.3 L672.8 139.3 L672.8 138.5 L673.8 138.6 L674.8 138.6 L674.8 138.4 L675.8 138.4 L675.8 138.1 L676.8 138.1 L676.8 136.2 L677.8 136.2 L677.8 136 L678.8 136 L678.8 135.7 L679.8 135.7 L679.8 135.5 L680.8 135.5 L681.9 135.5 L681.9 135.3 L682.9 135.4 L684 135.4 L684 135.2 L685 135.2 L685 135.7" fill="none" stroke="#cc2f2f" stroke-width="1.2" stroke-linejoin="round"/>
<path d="M536.5 131.1 L537.5 131.1 L538.5 131.1 L539.5 131.1 L540.5 131 L541.6 131 L542.6 131 L543.6 131 L544.6 131 L544.6 131.4 L545.6 131.4 L545.6 131.6 L546.6 131.6 L547.7 131.6 L547.7 131 L548.7 131 L549.7 131 L550.7 131.2 L551.7 131.1 L552.7 131.1 L553.8 131.1 L554.8 131 L555.8 131 L555.8 131.7 L556.8 131.7 L557.8 131.7 L557.8 131.1 L558.8 131.1 L559.9 131.1 L560.9 131.1 L561.9 131.1 L561.9 131.5 L562.9 131.5 L563.9 131.5 L563.9 131.1 L565 131.2 L566 131.2 L567 131.2 L567 132.2 L568.1 132.3 L569.1 132.3 L570.2 132.4 L571.2 132.4 L571.2 131.9 L572.2 132 L573.3 132.1 L574.3 131.9 L575.4 131.9 L575.4 132.1 L576.4 132.2 L577.4 132 L578.5 132 L578.5 131.8 L579.5 131.8 L579.5 132.1 L580.6 132.1 L581.6 132.1 L582.6 132.3 L583.7 132.4 L584.7 132.4 L585.8 132.5 L586.8 132.5 L586.8 133 L587.8 133.1 L588.9 133.1 L589.9 133.1 L590.9 133.1 L590.9 131.7 L591.9 131.7 L592.9 131.7 L592.9 132.1 L593.9 132.1 L594.9 132.1 L595.9 132.1 L596.9 132.2 L597.9 132.2 L598.9 132.2 L598.9 132.9 L599.9 132.9 L600.9 132.9 L600.9 132.4 L601.9 132.4 L602.9 132.4 L602.9 132.9 L603.9 132.9 L603.9 132.1 L604.9 132.1 L605.9 132.1 L606.9 132.1 L607.9 132.2 L608.9 132.2 L609.9 132.2 L609.9 133.5 L610.9 133.6 L611.9 133.6 L612.9 133.6 L613.9 133.6 L613.9 132.3 L614.9 132.4 L615.9 132.4 L615.9 133.7 L617 133.7 L617 133 L618 133.1 L619.1 133.2 L620.1 133 L621.1 133.1 L622.2 133.1 L622.2 133.4 L623.2 133.5 L624.3 133.6 L625.3 133.6 L626.3 133.7 L627.4 133.7 L627.4 134.3 L628.4 134.3 L628.4 134.1 L629.5 134.2 L630.5 134.3 L631.5 134.4 L632.6 134.5 L633.6 134.6 L634.7 134.7 L635.7 134.8 L636.7 134.9 L637.8 135 L638.8 135.1 L639.8 135.1 L640.8 135.1 L640.8 134.4 L641.8 134.4 L641.8 135 L642.8 135 L643.8 135 L644.8 135 L644.8 134.5 L645.8 134.5 L646.8 134.5 L647.8 134.5 L648.8 134.5 L649.8 134.6 L650.8 134.6 L650.8 134.3 L651.8 134.3 L651.8 134.9 L652.8 135 L653.8 135 L653.8 135.5 L654.8 135.5 L654.8 136.2 L655.8 136.3 L656.8 136.5 L657.8 136.4 L658.8 136.6 L659.8 136.6 L659.8 136.2 L660.8 136.2 L660.8 136 L661.8 136 L661.8 135.7 L662.8 135.7 L662.8 135.5 L663.8 135.5 L663.8 134.7 L664.8 134.7 L664.8 134.5 L665.8 134.5 L665.8 134.2 L666.8 134.2 L666.8 134 L667.8 134 L667.8 133.7 L668.8 133.7 L668.8 133.4 L669.8 133.3 L670.8 133.3 L670.8 133.8 L671.8 133.7 L672.8 133.6 L673.8 133.6 L673.8 133.2 L674.8 133.4 L675.8 133.2 L676.8 133.2 L676.8 132 L677.8 131.9 L678.8 131.8 L679.8 131.7 L680.8 131.7 L681.9 131.6 L682.9 131.5 L684 131.5 L684 132.1 L685 132" fill="none" stroke="#3b7f38" stroke-width="1.2" stroke-linejoin="round"/>
<path d="M536.5 132 L537.5 132.2 L538.5 132.4 L539.5 132.4 L539.5 132.6 L540.5 132.6 L541.5 132.8 L542.5 132.6 L543.5 132.4 L544.5 132.4 L544.5 133 L545.5 133 L545.5 132.1 L546.5 132.1 L546.5 132.7 L547.4 132.7 L547.4 131.7 L548.4 131.8 L549.4 131.9 L550.4 131.9 L550.4 131.4 L551.4 131.5 L552.5 131.5 L553.5 131.5 L553.5 132.2 L554.6 132.2 L554.6 133.3 L555.6 133.2 L556.6 133.2 L557.7 133.1 L558.7 133.1 L558.7 132.2 L559.8 132.2 L560.8 132.1 L561.8 132.1 L562.9 132.1 L562.9 131.3 L563.9 131.2 L564.9 131.3 L565.9 131.4 L566.9 131.4 L566.9 132.1 L567.9 132.2 L568.9 132.3 L569.9 132.4 L570.9 132.6 L571.9 132.6 L571.9 133.1 L572.9 133.2 L573.9 133.3 L574.9 133.4 L575.9 133.5 L576.9 133.5 L576.9 133.2 L577.9 133.4 L578.9 133.5 L579.9 133.5 L580.9 133.6 L581.9 133.6 L582.9 133.7 L583.9 133.7 L584.9 133.7 L584.9 134.3 L585.9 134.2 L586.9 134.2 L586.9 133.2 L587.9 133.2 L588.9 133.1 L589.9 133.1 L590.9 133 L591.9 132.9 L592.9 132.8 L593.9 132.8 L593.9 132.6 L594.9 132.7 L595.9 132.8 L596.9 132.8 L597.9 132.8 L597.9 133.6 L598.9 133.6 L598.9 133 L599.9 133.1 L600.9 133.1 L601.9 133.1 L601.9 133.7 L602.9 133.8 L603.9 133.6 L604.9 133.7 L605.9 133.7 L605.9 134.1 L606.9 134.1 L606.9 133.6 L607.9 133.7 L608.9 133.7 L608.9 134.4 L609.9 134.4 L609.9 134 L610.9 134 L610.9 134.5 L611.9 134.5 L611.9 133.5 L612.9 133.6 L613.9 133.6 L613.9 134.7 L614.8 134.6 L615.8 134.5 L616.8 134.5 L617.8 134.5 L617.8 134.2 L618.8 134.2 L618.8 133.8 L619.8 133.8 L619.8 134.3 L620.8 134.2 L621.8 134.2 L622.8 134.1 L623.8 134.1 L623.8 134.4 L624.8 134.3 L625.8 134.3 L625.8 132.9 L626.8 132.8 L627.8 132.7 L628.8 132.7 L628.8 133.8 L629.8 133.8 L630.8 133.7 L631.8 133.7 L631.8 133.4 L632.8 133.3 L633.8 133.3 L633.8 133 L634.8 133.1 L635.8 133.1 L636.8 133.1 L636.8 133.4 L637.8 133.5 L638.8 133.5 L639.8 133.5 L639.8 133.2 L640.8 133.2 L641.8 133.3 L642.8 133.4 L643.8 133.4 L644.8 133.5 L645.8 133.5 L645.8 134.1 L646.8 134.2 L647.8 134.3 L648.8 134.5 L649.8 134.5 L649.8 134.1 L650.8 134.3 L651.8 134.3 L652.8 134.3 L652.8 134.6 L653.8 134.8 L654.8 134.8 L655.8 134.8 L655.8 134.5 L656.8 134.6 L657.8 134.6 L658.8 134.6 L658.8 135.4 L659.8 135.4 L659.8 135.1 L660.8 135.1 L660.8 136.1 L661.8 136.1 L662.8 136.1 L662.8 135.5 L663.8 135.6 L664.8 135.6 L664.8 135.3 L665.8 135.5 L666.8 135.5 L666.8 135.7 L667.8 135.9 L668.8 135.9 L668.8 136.2 L669.8 136.4 L670.8 136.6 L671.8 136.6 L671.8 136.9 L672.8 137.1 L673.8 137.3 L674.8 137.3 L674.8 137.8 L675.8 137.9 L676.8 138 L677.8 138.1 L678.8 138.1 L678.8 137 L679.8 137 L679.8 136.3 L680.8 136.3 L680.8 135.8 L681.9 135.8 L681.9 135.1 L682.9 135.1 L682.9 134.4 L684 134.4 L684 133.7 L685 133.7 L685 134.2" fill="none" stroke="#2b4399" stroke-width="1.2" stroke-linejoin="round"/>
<text transform="translate(0 13.4) scale(1 1.12)" font-size="14" text-anchor="start" fill="#222" font-weight="bold" stroke="#222">a</text>
<text transform="translate(0 129) scale(1 1.12)" font-size="14" text-anchor="start" fill="#222" font-weight="bold" stroke="#222">b</text>
<path d="M35 8 V101.5" stroke="#9a9a9a" stroke-width="1.5" fill="none"/>
<path d="M32 101 H34.3" stroke="#333" stroke-width="0.9"/>
<text transform="translate(28.3 103.8) scale(1 1.12)" font-size="8" text-anchor="end" fill="#222" stroke="#222">0</text>
<path d="M32 84 H34.3" stroke="#333" stroke-width="0.9"/>
<text transform="translate(28.3 86.8) scale(1 1.12)" font-size="8" text-anchor="end" fill="#222" stroke="#222">20</text>
<path d="M32 67 H34.3" stroke="#333" stroke-width="0.9"/>
<text transform="translate(28.3 69.8) scale(1 1.12)" font-size="8" text-anchor="end" fill="#222" stroke="#222">40</text>
<path d="M32 50 H34.3" stroke="#333" stroke-width="0.9"/>
<text transform="translate(28.3 52.8) scale(1 1.12)" font-size="8" text-anchor="end" fill="#222" stroke="#222">60</text>
<path d="M32 33 H34.3" stroke="#333" stroke-width="0.9"/>
<text transform="translate(28.3 35.8) scale(1 1.12)" font-size="8" text-anchor="end" fill="#222" stroke="#222">80</text>
<path d="M32 16 H34.3" stroke="#333" stroke-width="0.9"/>
<text transform="translate(28.3 18.8) scale(1 1.12)" font-size="8" text-anchor="end" fill="#222" stroke="#222">100</text>
<text x="6.6" y="0" font-size="8.3" text-anchor="middle" fill="#222" transform="translate(6.6 54.2) rotate(-90) translate(-6.6 0)" stroke="#222">Climbing (%)</text>
<path d="M35 121 V217.5" stroke="#9a9a9a" stroke-width="1.5" fill="none"/>
<path d="M32 214.4 H34.3" stroke="#333" stroke-width="0.9"/>
<text transform="translate(28.3 217.2) scale(1 1.12)" font-size="8" text-anchor="end" fill="#222" stroke="#222">0</text>
<path d="M32 197.3 H34.3" stroke="#333" stroke-width="0.9"/>
<text transform="translate(28.3 200.2) scale(1 1.12)" font-size="8" text-anchor="end" fill="#222" stroke="#222">20</text>
<path d="M32 180.3 H34.3" stroke="#333" stroke-width="0.9"/>
<text transform="translate(28.3 183.1) scale(1 1.12)" font-size="8" text-anchor="end" fill="#222" stroke="#222">40</text>
<path d="M32 163.2 H34.3" stroke="#333" stroke-width="0.9"/>
<text transform="translate(28.3 166.1) scale(1 1.12)" font-size="8" text-anchor="end" fill="#222" stroke="#222">60</text>
<path d="M32 146.2 H34.3" stroke="#333" stroke-width="0.9"/>
<text transform="translate(28.3 149) scale(1 1.12)" font-size="8" text-anchor="end" fill="#222" stroke="#222">80</text>
<path d="M32 129.2 H34.3" stroke="#333" stroke-width="0.9"/>
<text transform="translate(28.3 132) scale(1 1.12)" font-size="8" text-anchor="end" fill="#222" stroke="#222">100</text>
<text x="6.6" y="0" font-size="8.3" text-anchor="middle" fill="#222" transform="translate(6.6 167.7) rotate(-90) translate(-6.6 0)" stroke="#222">Climbing (%)</text>
<path d="M33 214.4 H184.6" stroke="#333" stroke-width="1.1" fill="none"/>
<path d="M35 214.4 V217.6" stroke="#333" stroke-width="0.9"/>
<text transform="translate(35 228.2) scale(1 1.12)" font-size="8" text-anchor="middle" fill="#222" stroke="#222">0</text>
<path d="M62.2 214.4 V217.6" stroke="#333" stroke-width="0.9"/>
<text transform="translate(62.2 228.2) scale(1 1.12)" font-size="8" text-anchor="middle" fill="#222" stroke="#222">10</text>
<path d="M89.4 214.4 V217.6" stroke="#333" stroke-width="0.9"/>
<text transform="translate(89.4 228.2) scale(1 1.12)" font-size="8" text-anchor="middle" fill="#222" stroke="#222">20</text>
<path d="M116.6 214.4 V217.6" stroke="#333" stroke-width="0.9"/>
<text transform="translate(116.6 228.2) scale(1 1.12)" font-size="8" text-anchor="middle" fill="#222" stroke="#222">30</text>
<path d="M143.8 214.4 V217.6" stroke="#333" stroke-width="0.9"/>
<text transform="translate(143.8 228.2) scale(1 1.12)" font-size="8" text-anchor="middle" fill="#222" stroke="#222">40</text>
<path d="M171 214.4 V217.6" stroke="#333" stroke-width="0.9"/>
<text transform="translate(171 228.2) scale(1 1.12)" font-size="8" text-anchor="middle" fill="#222" stroke="#222">50</text>
<text transform="translate(109.8 240.5) scale(1 1.12)" font-size="8.1" text-anchor="middle" fill="#222" stroke="#222">Time (s)</text>
<path d="M200.9 214.4 H351.6" stroke="#333" stroke-width="1.1" fill="none"/>
<path d="M201.4 214.4 V217.6" stroke="#333" stroke-width="0.9"/>
<text transform="translate(201.4 228.2) scale(1 1.12)" font-size="8" text-anchor="middle" fill="#222" stroke="#222">0</text>
<path d="M228.7 214.4 V217.6" stroke="#333" stroke-width="0.9"/>
<text transform="translate(228.7 228.2) scale(1 1.12)" font-size="8" text-anchor="middle" fill="#222" stroke="#222">10</text>
<path d="M256 214.4 V217.6" stroke="#333" stroke-width="0.9"/>
<text transform="translate(256 228.2) scale(1 1.12)" font-size="8" text-anchor="middle" fill="#222" stroke="#222">20</text>
<path d="M283.3 214.4 V217.6" stroke="#333" stroke-width="0.9"/>
<text transform="translate(283.3 228.2) scale(1 1.12)" font-size="8" text-anchor="middle" fill="#222" stroke="#222">30</text>
<path d="M310.6 214.4 V217.6" stroke="#333" stroke-width="0.9"/>
<text transform="translate(310.6 228.2) scale(1 1.12)" font-size="8" text-anchor="middle" fill="#222" stroke="#222">40</text>
<path d="M337.9 214.4 V217.6" stroke="#333" stroke-width="0.9"/>
<text transform="translate(337.9 228.2) scale(1 1.12)" font-size="8" text-anchor="middle" fill="#222" stroke="#222">50</text>
<text transform="translate(276.5 240.5) scale(1 1.12)" font-size="8.1" text-anchor="middle" fill="#222" stroke="#222">Time (s)</text>
<path d="M370.3 214.4 H520.4" stroke="#333" stroke-width="1.1" fill="none"/>
<path d="M370.8 214.4 V217.6" stroke="#333" stroke-width="0.9"/>
<text transform="translate(370.8 228.2) scale(1 1.12)" font-size="8" text-anchor="middle" fill="#222" stroke="#222">0</text>
<path d="M398 214.4 V217.6" stroke="#333" stroke-width="0.9"/>
<text transform="translate(398 228.2) scale(1 1.12)" font-size="8" text-anchor="middle" fill="#222" stroke="#222">10</text>
<path d="M425.2 214.4 V217.6" stroke="#333" stroke-width="0.9"/>
<text transform="translate(425.2 228.2) scale(1 1.12)" font-size="8" text-anchor="middle" fill="#222" stroke="#222">20</text>
<path d="M452.4 214.4 V217.6" stroke="#333" stroke-width="0.9"/>
<text transform="translate(452.4 228.2) scale(1 1.12)" font-size="8" text-anchor="middle" fill="#222" stroke="#222">30</text>
<path d="M479.6 214.4 V217.6" stroke="#333" stroke-width="0.9"/>
<text transform="translate(479.6 228.2) scale(1 1.12)" font-size="8" text-anchor="middle" fill="#222" stroke="#222">40</text>
<path d="M506.8 214.4 V217.6" stroke="#333" stroke-width="0.9"/>
<text transform="translate(506.8 228.2) scale(1 1.12)" font-size="8" text-anchor="middle" fill="#222" stroke="#222">50</text>
<text transform="translate(445.6 240.5) scale(1 1.12)" font-size="8.1" text-anchor="middle" fill="#222" stroke="#222">Time (s)</text>
<path d="M534.9 214.4 H683.9" stroke="#333" stroke-width="1.1" fill="none"/>
<path d="M535.4 214.4 V217.6" stroke="#333" stroke-width="0.9"/>
<text transform="translate(535.4 228.2) scale(1 1.12)" font-size="8" text-anchor="middle" fill="#222" stroke="#222">0</text>
<path d="M562.4 214.4 V217.6" stroke="#333" stroke-width="0.9"/>
<text transform="translate(562.4 228.2) scale(1 1.12)" font-size="8" text-anchor="middle" fill="#222" stroke="#222">10</text>
<path d="M589.4 214.4 V217.6" stroke="#333" stroke-width="0.9"/>
<text transform="translate(589.4 228.2) scale(1 1.12)" font-size="8" text-anchor="middle" fill="#222" stroke="#222">20</text>
<path d="M616.4 214.4 V217.6" stroke="#333" stroke-width="0.9"/>
<text transform="translate(616.4 228.2) scale(1 1.12)" font-size="8" text-anchor="middle" fill="#222" stroke="#222">30</text>
<path d="M643.4 214.4 V217.6" stroke="#333" stroke-width="0.9"/>
<text transform="translate(643.4 228.2) scale(1 1.12)" font-size="8" text-anchor="middle" fill="#222" stroke="#222">40</text>
<path d="M670.4 214.4 V217.6" stroke="#333" stroke-width="0.9"/>
<text transform="translate(670.4 228.2) scale(1 1.12)" font-size="8" text-anchor="middle" fill="#222" stroke="#222">50</text>
<text transform="translate(609.6 240.5) scale(1 1.12)" font-size="8.1" text-anchor="middle" fill="#222" stroke="#222">Time (s)</text>
<text transform="translate(185 76.7) scale(1 1.12)" font-size="8" text-anchor="end" fill="#222" font-style="italic" stroke="#222">Cha&gt;</text>
<text transform="translate(185 85.4) scale(1 1.12)" font-size="8" text-anchor="end" fill="#222" font-style="italic" stroke="#222">GtACR1</text>
<text transform="translate(185 95) scale(1 1.12)" font-size="8" text-anchor="end" fill="#222" stroke="#222"><tspan fill="#d44a45" stroke="#d44a45">39</tspan><tspan fill="#666" stroke="#666">/</tspan><tspan fill="#5f9a4f" stroke="#5f9a4f">49</tspan><tspan fill="#666" stroke="#666">/</tspan><tspan fill="#4d5fa8" stroke="#4d5fa8">37</tspan></text>
<text transform="translate(350.8 76.7) scale(1 1.12)" font-size="8" text-anchor="end" fill="#222" font-style="italic" stroke="#222">Cha&gt;</text>
<text transform="translate(350.8 85.4) scale(1 1.12)" font-size="8" text-anchor="end" fill="#222" font-style="italic" stroke="#222">GtACR1</text>
<text transform="translate(350.8 95) scale(1 1.12)" font-size="8" text-anchor="end" fill="#222" stroke="#222"><tspan fill="#d44a45" stroke="#d44a45">15</tspan><tspan fill="#666" stroke="#666">/</tspan><tspan fill="#5f9a4f" stroke="#5f9a4f">19</tspan><tspan fill="#666" stroke="#666">/</tspan><tspan fill="#4d5fa8" stroke="#4d5fa8">14</tspan></text>
<text transform="translate(521 76.7) scale(1 1.12)" font-size="8" text-anchor="end" fill="#222" stroke="#222">Cha&gt;</text>
<text transform="translate(521 85.4) scale(1 1.12)" font-size="8" text-anchor="end" fill="#222" stroke="#222">GtACR1</text>
<text transform="translate(521 95) scale(1 1.12)" font-size="8" text-anchor="end" fill="#222" stroke="#222"><tspan fill="#d44a45" stroke="#d44a45">5</tspan><tspan fill="#666" stroke="#666">/</tspan><tspan fill="#5f9a4f" stroke="#5f9a4f">6</tspan><tspan fill="#666" stroke="#666">/</tspan><tspan fill="#4d5fa8" stroke="#4d5fa8">4</tspan></text>
<text transform="translate(683.8 76.7) scale(1 1.12)" font-size="8" text-anchor="end" fill="#222" font-style="italic" stroke="#222">Cha&gt;</text>
<text transform="translate(683.8 85.4) scale(1 1.12)" font-size="8" text-anchor="end" fill="#222" font-style="italic" stroke="#222">GtACR1</text>
<text transform="translate(683.8 95) scale(1 1.12)" font-size="8" text-anchor="end" fill="#222" stroke="#222"><tspan fill="#d44a45" stroke="#d44a45">1.3</tspan><tspan fill="#666" stroke="#666">/</tspan><tspan fill="#5f9a4f" stroke="#5f9a4f">1.3</tspan><tspan fill="#666" stroke="#666">/</tspan><tspan fill="#4d5fa8" stroke="#4d5fa8">1.0</tspan></text>
<text transform="translate(185 189.8) scale(1 1.12)" font-size="8" text-anchor="end" fill="#222" font-style="italic" stroke="#222">Cha&gt;</text>
<text transform="translate(185 198.5) scale(1 1.12)" font-size="8" text-anchor="end" fill="#222" font-style="italic" stroke="#222">GtACR2</text>
<text transform="translate(185 208.1) scale(1 1.12)" font-size="8" text-anchor="end" fill="#222" stroke="#222"><tspan fill="#d44a45" stroke="#d44a45">39</tspan><tspan fill="#666" stroke="#666">/</tspan><tspan fill="#5f9a4f" stroke="#5f9a4f">49</tspan><tspan fill="#666" stroke="#666">/</tspan><tspan fill="#4d5fa8" stroke="#4d5fa8">37</tspan></text>
<text transform="translate(350.8 189.8) scale(1 1.12)" font-size="8" text-anchor="end" fill="#222" font-style="italic" stroke="#222">Cha&gt;</text>
<text transform="translate(350.8 198.5) scale(1 1.12)" font-size="8" text-anchor="end" fill="#222" font-style="italic" stroke="#222">GtACR2</text>
<text transform="translate(350.8 208.1) scale(1 1.12)" font-size="8" text-anchor="end" fill="#222" stroke="#222"><tspan fill="#d44a45" stroke="#d44a45">15</tspan><tspan fill="#666" stroke="#666">/</tspan><tspan fill="#5f9a4f" stroke="#5f9a4f">19</tspan><tspan fill="#666" stroke="#666">/</tspan><tspan fill="#4d5fa8" stroke="#4d5fa8">14</tspan></text>
<text transform="translate(521 189.8) scale(1 1.12)" font-size="8" text-anchor="end" fill="#222" font-style="italic" stroke="#222">Cha&gt;</text>
<text transform="translate(521 198.5) scale(1 1.12)" font-size="8" text-anchor="end" fill="#222" font-style="italic" stroke="#222">GtACR2</text>
<text transform="translate(521 208.1) scale(1 1.12)" font-size="8" text-anchor="end" fill="#222" stroke="#222"><tspan fill="#d44a45" stroke="#d44a45">5</tspan><tspan fill="#666" stroke="#666">/</tspan><tspan fill="#5f9a4f" stroke="#5f9a4f">6</tspan><tspan fill="#666" stroke="#666">/</tspan><tspan fill="#4d5fa8" stroke="#4d5fa8">4</tspan></text>
<text transform="translate(683.8 189.8) scale(1 1.12)" font-size="8" text-anchor="end" fill="#222" font-style="italic" stroke="#222">Cha&gt;</text>
<text transform="translate(683.8 198.5) scale(1 1.12)" font-size="8" text-anchor="end" fill="#222" font-style="italic" stroke="#222">GtACR2</text>
<text transform="translate(683.8 208.1) scale(1 1.12)" font-size="8" text-anchor="end" fill="#222" stroke="#222"><tspan fill="#d44a45" stroke="#d44a45">1.3</tspan><tspan fill="#666" stroke="#666">/</tspan><tspan fill="#5f9a4f" stroke="#5f9a4f">1.3</tspan><tspan fill="#666" stroke="#666">/</tspan><tspan fill="#4d5fa8" stroke="#4d5fa8">1.0</tspan></text>
<rect x="36" y="292.4" width="13" height="137.6" fill="#c6dca6"/>
<path d="M36 297 H49" stroke="#93b981" stroke-width="0.6"/>
<path d="M42.4 282 V306" stroke="#5a6a55" stroke-width="0.6"/>
<circle cx="42.4" cy="278" r="1.05" fill="rgba(70,100,60,0.85)"/>
<circle cx="42.4" cy="295.6" r="1.05" fill="rgba(70,100,60,0.85)"/>
<circle cx="42.4" cy="299" r="1.05" fill="rgba(70,100,60,0.85)"/>
<circle cx="42.4" cy="308" r="1.05" fill="rgba(70,100,60,0.85)"/>
<rect x="51.6" y="390" width="11.4" height="40" fill="#c6dca6"/>
<path d="M51.6 393 H63" stroke="#93b981" stroke-width="0.6"/>
<path d="M57.4 379 V404" stroke="#5a6a55" stroke-width="0.6"/>
<circle cx="60" cy="375.6" r="1.05" fill="rgba(70,100,60,0.85)"/>
<circle cx="55.6" cy="393.6" r="1.05" fill="rgba(70,100,60,0.85)"/>
<circle cx="59" cy="394" r="1.05" fill="rgba(70,100,60,0.85)"/>
<circle cx="57.4" cy="407.6" r="1.05" fill="rgba(70,100,60,0.85)"/>
<rect x="66" y="408" width="11.6" height="22" fill="#c6dca6"/>
<path d="M66 409.5 H77.6" stroke="#93b981" stroke-width="0.6"/>
<path d="M71.6 404 V412" stroke="#5a6a55" stroke-width="0.6"/>
<circle cx="68" cy="401.6" r="1.05" fill="rgba(70,100,60,0.85)"/>
<circle cx="70" cy="409" r="1.05" fill="rgba(70,100,60,0.85)"/>
<circle cx="72" cy="410.4" r="1.05" fill="rgba(70,100,60,0.85)"/>
<circle cx="74" cy="407" r="1.05" fill="rgba(70,100,60,0.85)"/>
<rect x="80.6" y="416.4" width="11.4" height="13.6" fill="#c6dca6"/>
<path d="M80.6 418 H92" stroke="#93b981" stroke-width="0.6"/>
<path d="M86.4 411 V420" stroke="#5a6a55" stroke-width="0.6"/>
<circle cx="82.4" cy="409.6" r="1.05" fill="rgba(70,100,60,0.85)"/>
<circle cx="85" cy="417" r="1.05" fill="rgba(70,100,60,0.85)"/>
<circle cx="88" cy="416" r="1.05" fill="rgba(70,100,60,0.85)"/>
<circle cx="86.4" cy="423" r="1.05" fill="rgba(70,100,60,0.85)"/>
<path d="M35.6 267.3 V430.5 M35.1 430 H94" stroke="#555" stroke-width="1" fill="none"/>
<path d="M33 430 H35.6" stroke="#333" stroke-width="0.9"/>
<text x="29" y="432.2" font-size="8" text-anchor="end" fill="#222" stroke="#222">10<tspan font-size="5.6" dy="-3.2">1</tspan></text>
<path d="M33 375.9 H35.6" stroke="#333" stroke-width="0.9"/>
<text x="29" y="378.1" font-size="8" text-anchor="end" fill="#222" stroke="#222">10<tspan font-size="5.6" dy="-3.2">2</tspan></text>
<path d="M33 321.8 H35.6" stroke="#333" stroke-width="0.9"/>
<text x="29" y="324" font-size="8" text-anchor="end" fill="#222" stroke="#222">10<tspan font-size="5.6" dy="-3.2">3</tspan></text>
<path d="M33 267.7 H35.6" stroke="#333" stroke-width="0.9"/>
<text x="29" y="269.9" font-size="8" text-anchor="end" fill="#222" stroke="#222">10<tspan font-size="5.6" dy="-3.2">4</tspan></text>
<path d="M42.6 430 V432.4" stroke="#333" stroke-width="0.9"/>
<text font-size="8.2" text-anchor="end" fill="#222" transform="translate(44.6 439.5) rotate(-45)" stroke="#222">18</text>
<path d="M57.4 430 V432.4" stroke="#333" stroke-width="0.9"/>
<text font-size="8.2" text-anchor="end" fill="#222" transform="translate(59.4 439.5) rotate(-45)" stroke="#222">38</text>
<path d="M71.6 430 V432.4" stroke="#333" stroke-width="0.9"/>
<text font-size="8.2" text-anchor="end" fill="#222" transform="translate(73.6 439.5) rotate(-45)" stroke="#222">119</text>
<path d="M86.4 430 V432.4" stroke="#333" stroke-width="0.9"/>
<text font-size="8.2" text-anchor="end" fill="#222" transform="translate(88.4 439.5) rotate(-45)" stroke="#222">253</text>
<text font-size="8.2" text-anchor="middle" fill="#222" transform="translate(6.4 348) rotate(-90)" stroke="#222">Time until immobile (ms)</text>
<text transform="translate(0 267.2) scale(1 1.12)" font-size="14" text-anchor="start" fill="#222" font-weight="bold" stroke="#222">c</text>
<text transform="translate(38.6 272.8) scale(1 1.12)" font-size="8.3" text-anchor="start" fill="#222" stroke="#222">2,752</text>
<text transform="translate(81.8 402.6) scale(1 1.12)" font-size="8.3" text-anchor="start" fill="#222" stroke="#222">18</text>
<text transform="translate(96.2 273.2) scale(1 1.12)" font-size="8.2" text-anchor="end" fill="#5f9a4f" font-style="italic" stroke="#5f9a4f">Cha&gt;</text>
<text transform="translate(95.8 282.4) scale(1 1.12)" font-size="8.2" text-anchor="end" fill="#5f9a4f" font-style="italic" stroke="#5f9a4f">GtACR1</text>
<text transform="translate(64 464.5) scale(1 1.12)" font-size="8.3" text-anchor="middle" fill="#222" stroke="#222">Light intensity (&#956;W/mm<tspan font-size="5.6" dy="-3.2">2</tspan><tspan dy="3.2">)</tspan></text>
<rect x="154" y="366" width="12" height="64" fill="#c6dca6"/>
<path d="M154 383.6 H166" stroke="#93b981" stroke-width="0.6"/>
<path d="M160 347 V411" stroke="#5a6a55" stroke-width="0.6"/>
<circle cx="160" cy="340" r="1.05" fill="rgba(70,100,60,0.85)"/>
<circle cx="160" cy="372" r="1.05" fill="rgba(70,100,60,0.85)"/>
<circle cx="160" cy="411" r="1.05" fill="rgba(70,100,60,0.85)"/>
<rect x="169" y="390" width="12" height="40" fill="#c6dca6"/>
<path d="M169 395 H181" stroke="#93b981" stroke-width="0.6"/>
<path d="M174.4 376 V410" stroke="#5a6a55" stroke-width="0.6"/>
<circle cx="174.4" cy="373.6" r="1.05" fill="rgba(70,100,60,0.85)"/>
<circle cx="174.4" cy="387" r="1.05" fill="rgba(70,100,60,0.85)"/>
<circle cx="174.4" cy="409" r="1.05" fill="rgba(70,100,60,0.85)"/>
<rect x="183.6" y="393.6" width="12" height="36.4" fill="#c6dca6"/>
<path d="M183.6 403 H195.6" stroke="#93b981" stroke-width="0.6"/>
<path d="M189.4 380 V410" stroke="#5a6a55" stroke-width="0.6"/>
<circle cx="189.4" cy="375.6" r="1.05" fill="rgba(70,100,60,0.85)"/>
<circle cx="189.4" cy="399" r="1.05" fill="rgba(70,100,60,0.85)"/>
<circle cx="188.4" cy="409" r="1.05" fill="rgba(70,100,60,0.85)"/>
<rect x="198" y="349" width="11.6" height="81" fill="#c6dca6"/>
<path d="M198 349.6 H209.6" stroke="#93b981" stroke-width="0.6"/>
<path d="M203.4 346 V352" stroke="#5a6a55" stroke-width="0.6"/>
<circle cx="203.4" cy="346.4" r="1.05" fill="rgba(70,100,60,0.85)"/>
<circle cx="203.4" cy="352.4" r="1.05" fill="rgba(70,100,60,0.85)"/>
<circle cx="203.4" cy="357" r="1.05" fill="rgba(70,100,60,0.85)"/>
<path d="M152.4 267.3 V430.5 M151.9 430 H212" stroke="#555" stroke-width="1" fill="none"/>
<path d="M149.8 430 H152.4" stroke="#333" stroke-width="0.9"/>
<text x="145.8" y="432.2" font-size="8" text-anchor="end" fill="#222" stroke="#222">10<tspan font-size="5.6" dy="-3.2">1</tspan></text>
<path d="M149.8 375.9 H152.4" stroke="#333" stroke-width="0.9"/>
<text x="145.8" y="378.1" font-size="8" text-anchor="end" fill="#222" stroke="#222">10<tspan font-size="5.6" dy="-3.2">2</tspan></text>
<path d="M149.8 321.8 H152.4" stroke="#333" stroke-width="0.9"/>
<text x="145.8" y="324" font-size="8" text-anchor="end" fill="#222" stroke="#222">10<tspan font-size="5.6" dy="-3.2">3</tspan></text>
<path d="M149.8 267.7 H152.4" stroke="#333" stroke-width="0.9"/>
<text x="145.8" y="269.9" font-size="8" text-anchor="end" fill="#222" stroke="#222">10<tspan font-size="5.6" dy="-3.2">4</tspan></text>
<path d="M160 430 V432.4" stroke="#333" stroke-width="0.9"/>
<text font-size="8.2" text-anchor="end" fill="#222" transform="translate(162 439.5) rotate(-45)" stroke="#222">18</text>
<path d="M174.4 430 V432.4" stroke="#333" stroke-width="0.9"/>
<text font-size="8.2" text-anchor="end" fill="#222" transform="translate(176.4 439.5) rotate(-45)" stroke="#222">38</text>
<path d="M189.4 430 V432.4" stroke="#333" stroke-width="0.9"/>
<text font-size="8.2" text-anchor="end" fill="#222" transform="translate(191.4 439.5) rotate(-45)" stroke="#222">119</text>
<path d="M204 430 V432.4" stroke="#333" stroke-width="0.9"/>
<text font-size="8.2" text-anchor="end" fill="#222" transform="translate(206 439.5) rotate(-45)" stroke="#222">253</text>
<text font-size="8.2" text-anchor="middle" fill="#222" transform="translate(123.2 348) rotate(-90)" stroke="#222">Time until first recovery (ms)</text>
<text transform="translate(118.6 267.3) scale(1 1.12)" font-size="14" text-anchor="start" fill="#222" font-weight="bold" stroke="#222">d</text>
<text transform="translate(196.8 341.2) scale(1 1.12)" font-size="8.3" text-anchor="start" fill="#222" stroke="#222">308</text>
<text transform="translate(184.2 366.6) scale(1 1.12)" font-size="8.3" text-anchor="start" fill="#222" stroke="#222">44</text>
<text transform="translate(182 464.5) scale(1 1.12)" font-size="8.3" text-anchor="middle" fill="#222" stroke="#222">Light intensity (&#956;W/mm<tspan font-size="5.6" dy="-3.2">2</tspan><tspan dy="3.2">)</tspan></text>
<rect x="273" y="341" width="12" height="89" fill="#c6dca6"/>
<path d="M273 341.5 H285" stroke="#93b981" stroke-width="0.6"/>
<path d="M279 328 V363" stroke="#5a6a55" stroke-width="0.6"/>
<circle cx="279" cy="327.6" r="1.05" fill="rgba(70,100,60,0.85)"/>
<circle cx="279" cy="332" r="1.05" fill="rgba(70,100,60,0.85)"/>
<circle cx="279" cy="358" r="1.05" fill="rgba(70,100,60,0.85)"/>
<circle cx="279" cy="363" r="1.05" fill="rgba(70,100,60,0.85)"/>
<rect x="288" y="360" width="11" height="70" fill="#c6dca6"/>
<path d="M288 361 H299" stroke="#93b981" stroke-width="0.6"/>
<path d="M293.4 351 V371" stroke="#5a6a55" stroke-width="0.6"/>
<circle cx="293.4" cy="351" r="1.05" fill="rgba(70,100,60,0.85)"/>
<circle cx="293.4" cy="357" r="1.05" fill="rgba(70,100,60,0.85)"/>
<circle cx="293.4" cy="363" r="1.05" fill="rgba(70,100,60,0.85)"/>
<circle cx="293.4" cy="378" r="1.05" fill="rgba(70,100,60,0.85)"/>
<rect x="302.4" y="332" width="11.6" height="98" fill="#c6dca6"/>
<path d="M302.4 334 H314" stroke="#93b981" stroke-width="0.6"/>
<path d="M307.6 317 V373" stroke="#5a6a55" stroke-width="0.6"/>
<circle cx="308" cy="314.4" r="1.05" fill="rgba(70,100,60,0.85)"/>
<circle cx="308" cy="320.4" r="1.05" fill="rgba(70,100,60,0.85)"/>
<circle cx="307" cy="373" r="1.05" fill="rgba(70,100,60,0.85)"/>
<rect x="317.4" y="339" width="10.6" height="91" fill="#c6dca6"/>
<path d="M317.4 340 H328" stroke="#93b981" stroke-width="0.6"/>
<path d="M322.4 330 V346" stroke="#5a6a55" stroke-width="0.6"/>
<circle cx="322.4" cy="330.4" r="1.05" fill="rgba(70,100,60,0.85)"/>
<circle cx="322.4" cy="342" r="1.05" fill="rgba(70,100,60,0.85)"/>
<circle cx="322.4" cy="345" r="1.05" fill="rgba(70,100,60,0.85)"/>
<path d="M271.6 267.3 V430.5 M271.1 430 H331" stroke="#555" stroke-width="1" fill="none"/>
<path d="M269 430 H271.6" stroke="#333" stroke-width="0.9"/>
<text x="265" y="432.2" font-size="8" text-anchor="end" fill="#222" stroke="#222">10<tspan font-size="5.6" dy="-3.2">1</tspan></text>
<path d="M269 375.9 H271.6" stroke="#333" stroke-width="0.9"/>
<text x="265" y="378.1" font-size="8" text-anchor="end" fill="#222" stroke="#222">10<tspan font-size="5.6" dy="-3.2">2</tspan></text>
<path d="M269 321.8 H271.6" stroke="#333" stroke-width="0.9"/>
<text x="265" y="324" font-size="8" text-anchor="end" fill="#222" stroke="#222">10<tspan font-size="5.6" dy="-3.2">3</tspan></text>
<path d="M269 267.7 H271.6" stroke="#333" stroke-width="0.9"/>
<text x="265" y="269.9" font-size="8" text-anchor="end" fill="#222" stroke="#222">10<tspan font-size="5.6" dy="-3.2">4</tspan></text>
<path d="M279 430 V432.4" stroke="#333" stroke-width="0.9"/>
<text font-size="8.2" text-anchor="end" fill="#222" transform="translate(281 439.5) rotate(-45)" stroke="#222">18</text>
<path d="M293.4 430 V432.4" stroke="#333" stroke-width="0.9"/>
<text font-size="8.2" text-anchor="end" fill="#222" transform="translate(295.4 439.5) rotate(-45)" stroke="#222">38</text>
<path d="M308 430 V432.4" stroke="#333" stroke-width="0.9"/>
<text font-size="8.2" text-anchor="end" fill="#222" transform="translate(310 439.5) rotate(-45)" stroke="#222">119</text>
<path d="M322.4 430 V432.4" stroke="#333" stroke-width="0.9"/>
<text font-size="8.2" text-anchor="end" fill="#222" transform="translate(324.4 439.5) rotate(-45)" stroke="#222">253</text>
<text font-size="8.2" text-anchor="middle" fill="#222" transform="translate(242.4 348) rotate(-90)" stroke="#222">Time until mobile (ms)</text>
<text transform="translate(237 267.2) scale(1 1.12)" font-size="14" text-anchor="start" fill="#222" font-weight="bold" stroke="#222">e</text>
<text transform="translate(300.8 308.2) scale(1 1.12)" font-size="8.3" text-anchor="start" fill="#222" stroke="#222">575</text>
<text transform="translate(286.8 345.6) scale(1 1.12)" font-size="8.3" text-anchor="start" fill="#222" stroke="#222">198</text>
<text transform="translate(301 464.5) scale(1 1.12)" font-size="8.3" text-anchor="middle" fill="#222" stroke="#222">Light intensity (&#956;W/mm<tspan font-size="5.6" dy="-3.2">2</tspan><tspan dy="3.2">)</tspan></text>
<text transform="translate(348.3 267.6) scale(1 1.12)" font-size="14" text-anchor="start" fill="#222" font-weight="bold" stroke="#222">f</text>
<rect x="461" y="272.5" width="16" height="158" fill="#eef5ef"/>
<rect x="461" y="270.2" width="16" height="1.7" fill="#5aa878"/>
<rect x="540.7" y="272.5" width="16.3" height="158" fill="#eef5ef"/>
<rect x="540.7" y="270.2" width="16.3" height="1.7" fill="#5aa878"/>
<rect x="620.3" y="272.5" width="15.7" height="158" fill="#eef5ef"/>
<rect x="620.3" y="270.2" width="15.7" height="1.7" fill="#5aa878"/>
<text transform="translate(362 270.6) scale(1 1.12)" font-size="8.2" text-anchor="start" fill="#222" font-style="italic" stroke="#222">nSyb-GAL4/UAS-GtACR1</text>
<text transform="translate(362.8 377.7) scale(1 1.12)" font-size="8.2" text-anchor="start" fill="#222" font-style="italic" stroke="#222">UAS-GtACR1/+</text>
<path d="M660.6 341.4 V358.7 H667.8" stroke="#222" stroke-width="1.3" fill="none"/>
<text transform="translate(656.5 353.2) scale(1 1.12)" font-size="8.2" text-anchor="end" fill="#222" stroke="#222">0.5 mV</text>
<text transform="translate(650.8 368.6) scale(1 1.12)" font-size="8.2" text-anchor="start" fill="#222" stroke="#222">250 ms</text>
<path d="M360.5 309.7 L361 308.8 L361.5 308.6 L362 309.9 L362.5 309.6 L363 307.8 L363.5 309.8 L364 309.6 L364.5 307.8 L365 308.5 L365.5 309.1 L366 308.8 L366.5 308.4 L367 309.3 L367.5 309.6 L368 308.1 L368.5 308.4 L369 308.8 L369.5 308.1 L370 308.7 L370.5 307.7 L371 309.4 L371.5 308.6 L372 308.8 L372.5 309.1 L373 308.6 L373.5 309.4 L374 308.1 L374.5 307.9 L375 309.6 L375.5 308.8 L376 309.3 L376.5 309.7 L377 307.8 L377.5 308.9 L378 309.5 L378.5 308.3 L379 309.4 L379.5 307.8 L380 309.4 L380.5 309.8 L381 309.4 L381.5 309.1 L382 308.8 L382.5 307.8 L383 308.3 L383.5 309.1 L384 309.8 L384.5 309.5 L385 307.6 L385.5 308.8 L386 308.3 L386.5 309.7 L387 309.8 L387.5 307.9 L388 308.5 L388.5 309.1 L389 309.1 L389.5 309.6 L390 309.4 L390.5 309.8 L391 307.9 L391.5 308.7 L392 309.5 L392.5 308.1 L393 309.4 L393.5 309.7 L394 308.4 L394.5 307.7 L395 309.7 L395.5 307.9 L396 309.4 L396.5 309.6 L397 309.7 L397.5 309.1 L398 308.1 L398.5 308.6 L399 307.8 L399.5 309.3 L400 309 L400.5 309.2 L401 307.5 L401.5 307.6 L402 309 L402.5 308.8 L403 309 L403.5 308 L404 309.7 L404.5 309.6 L405 308.8 L405.5 309.2 L406 307.8 L406.5 308 L407 308.5 L407.5 308.2 L408 308.1 L408.5 307.9 L409 307.6 L409.5 309.4 L410 308.3 L410.5 309.4 L411 308.7 L411.5 307.9 L412 307.6 L412.5 308 L413 309.6 L413.5 308.9 L414 309.3 L414.5 307.4 L415 309.4 L415.5 309.1 L416 308.9 L416.5 309.6 L417 307.7 L417.5 308.2 L418 309.3 L418.5 308.5 L419 309.5 L419.5 308.3 L420 309.1 L420.5 309.6 L421 309.4 L421.5 308.4 L422 308.2 L422.5 308.9 L423 308.2 L423.5 308.8 L424 309.4 L424.5 308.9 L425 308.7 L425.5 307.5 L426 309.4 L426.5 309.5 L427 308.3 L427.5 307.4 L428 307.5 L428.5 308 L429 309.5 L429.5 307.8 L430 308 L430.5 309.3 L431 308.5 L431.5 309.5 L432 307.7 L432.5 307.9 L433 307.7 L433.5 307.8 L434 309 L434.5 307.8 L435 309 L435.5 309.3 L436 308.7 L436.5 308.4 L437 308.9 L437.5 308.2 L438 308.2 L438.5 309 L439 308.1 L439.5 308.8 L440 307.9 L440.5 308.9 L441 307.7 L441.5 308.6 L442 308.3 L442.5 308 L443 308.4 L443.5 309 L444 307.3 L444.5 309.3 L445 308.8 L445.5 308.3 L446 309.5 L446.5 309.2 L447 307.7 L447.5 307.7 L448 308 L448.5 307.4 L449 307.8 L449.5 308.8 L450 308 L450.5 308.7 L451 307.8 L451.5 308.6 L452 309.2 L452.5 307.5 L453 307.9 L453.5 307.8 L454 308.2 L454.5 307.7 L455 308.5 L455.5 308.3 L456 309.6 L456.5 308.6 L457 308.1 L457.5 308.5 L458 308.4 L458.5 309.2 L459 308.5 L459.5 310.3 L460 308.8 L460.5 309.9 L461 310.6 L461.5 309.9 L462 310.6 L462.5 310.9 L463 310.6 L463.5 312.1 L464 311.7 L464.5 312.3 L465 312.5 L465.5 312.9 L466 313.6 L466.5 313.2 L467 312.8 L467.5 313.6 L468 313.8 L468.5 313.7 L469 313.3 L469.5 312.7 L470 313.7 L470.5 312.7 L471 313.2 L471.5 313.6 L472 313.3 L472.5 313.5 L473 313 L473.5 313.2 L474 313.5 L474.5 313.5 L475 312.8 L475.5 312.9 L476 313.3 L476.5 313.3 L477 312.9 L477.5 312.5 L478 313.3 L478.5 313.1 L479 312.6 L479.5 312.2 L480 312.7 L480.5 312.5 L481 312.1 L481.5 311.6 L482 310.9 L482.5 311.1 L483 312 L483.5 312 L484 311.3 L484.5 310.6 L485 310.5 L485.5 311.4 L486 310.5 L486.5 310.4 L487 311.2 L487.5 310.7 L488 311.3 L488.5 311.6 L489 310.9 L489.5 311.7 L490 310.7 L490.5 310.4 L491 310.2 L491.5 311 L492 311.6 L492.5 310.2 L493 310.2 L493.5 310.1 L494 310.7 L494.5 310.5 L495 311 L495.5 311.3 L496 311.1 L496.5 310.4 L497 311 L497.5 310.4 L498 310.7 L498.5 310.8 L499 309.8 L499.5 311.2 L500 310.7 L500.5 311.2 L501 309.8 L501.5 310.6 L502 310.9 L502.5 311.1 L503 310.4 L503.5 310.7 L504 311.2 L504.5 311.3 L505 310.7 L505.5 310.3 L506 310.4 L506.5 309.7 L507 309.6 L507.5 309.6 L508 309.8 L508.5 310.4 L509 310.3 L509.5 310.5 L510 310.5 L510.5 311 L511 309.5 L511.5 310.4 L512 310.7 L512.5 309.7 L513 309.1 L513.5 309.6 L514 309.6 L514.5 308.8 L515 309.8 L515.5 310 L516 308.6 L516.5 308.6 L517 307.7 L517.5 308.7 L518 307.7 L518.5 309.4 L519 309.2 L519.5 307.7 L520 308.5 L520.5 308.9 L521 308.8 L521.5 308.2 L522 308.3 L522.5 307.7 L523 306.9 L523.5 308.2 L524 308.6 L524.5 307.7 L525 309.1 L525.5 308.1 L526 308.3 L526.5 308.1 L527 309 L527.5 307.7 L528 307.5 L528.5 307.2 L529 306.7 L529.5 308.2 L530 307.5 L530.5 308 L531 308.6 L531.5 306.9 L532 307.2 L532.5 306.7 L533 307 L533.5 306.8 L534 308.8 L534.5 309.1 L535 308.6 L535.5 308.1 L536 307.4 L536.5 308 L537 307.8 L537.5 307.2 L538 308.9 L538.5 308 L539 310.1 L539.5 310.2 L540 309.9 L540.5 310.6 L541 311.7 L541.5 312.4 L542 312.3 L542.5 313 L543 313.3 L543.5 313 L544 313.3 L544.5 312.3 L545 313.2 L545.5 312.1 L546 313.1 L546.5 313 L547 312.6 L547.5 313 L548 312.9 L548.5 313.2 L549 312.9 L549.5 313.3 L550 313.1 L550.5 312.2 L551 313 L551.5 313 L552 312.5 L552.5 312.2 L553 313 L553.5 312.9 L554 312.5 L554.5 312.4 L555 312.6 L555.5 313.1 L556 313.1 L556.5 312.4 L557 312.5 L557.5 312 L558 312 L558.5 312.3 L559 312.5 L559.5 311.2 L560 311.3 L560.5 311.2 L561 310.9 L561.5 311.2 L562 311 L562.5 310.6 L563 310.7 L563.5 310.3 L564 309.8 L564.5 309.9 L565 310.7 L565.5 310.7 L566 309.7 L566.5 310.6 L567 309.8 L567.5 311.1 L568 310.4 L568.5 310.2 L569 309.6 L569.5 309.4 L570 310.8 L570.5 309.9 L571 309.8 L571.5 310.7 L572 309.3 L572.5 309.8 L573 309 L573.5 310.5 L574 309.8 L574.5 310.1 L575 309.4 L575.5 309.5 L576 309.6 L576.5 310 L577 309.5 L577.5 309.8 L578 308.7 L578.5 309.5 L579 309.4 L579.5 309.9 L580 309.8 L580.5 308.3 L581 309.7 L581.5 308.5 L582 309.1 L582.5 308.3 L583 310 L583.5 308.3 L584 308.7 L584.5 309.1 L585 308.8 L585.5 308.8 L586 309.3 L586.5 308.9 L587 309.8 L587.5 310.2 L588 308.8 L588.5 309.2 L589 308.3 L589.5 309.7 L590 308.5 L590.5 308.1 L591 308.3 L591.5 308.1 L592 309.9 L592.5 309.9 L593 309.7 L593.5 309.4 L594 310 L594.5 309.9 L595 310.2 L595.5 308.2 L596 309.4 L596.5 308.8 L597 309.2 L597.5 308.5 L598 308.4 L598.5 309.3 L599 309 L599.5 309.9 L600 309.5 L600.5 309.6 L601 309.4 L601.5 309.4 L602 308.8 L602.5 309.4 L603 309.4 L603.5 308.3 L604 310.1 L604.5 310.1 L605 309.9 L605.5 308.1 L606 308.7 L606.5 308.4 L607 307.9 L607.5 309.6 L608 308 L608.5 309.5 L609 308.9 L609.5 308.5 L610 308.2 L610.5 309.5 L611 308.9 L611.5 309.9 L612 309.3 L612.5 307.8 L613 307.9 L613.5 308.7 L614 308.2 L614.5 307.9 L615 309.2 L615.5 308.2 L616 309.7 L616.5 310.7 L617 310.3 L617.5 310.6 L618 310.8 L618.5 311.3 L619 312.6 L619.5 312.1 L620 312.2 L620.5 312.5 L621 312.2 L621.5 312.8 L622 312.4 L622.5 313.2 L623 312.3 L623.5 312.9 L624 312.4 L624.5 313.1 L625 312.7 L625.5 312.5 L626 312.7 L626.5 312.8 L627 312.4 L627.5 313.4 L628 313.4 L628.5 312.9 L629 312.5 L629.5 312.8 L630 313.3 L630.5 313.5 L631 313.1 L631.5 313.1 L632 313.1 L632.5 313 L633 313.4 L633.5 312.7 L634 313.4 L634.5 313.6 L635 313.4 L635.5 312.7 L636 313.6 L636.5 313.2 L637 312.2 L637.5 312.7 L638 311.8 L638.5 312.6 L639 311.2 L639.5 311.9 L640 311.8 L640.5 310.6 L641 309.9 L641.5 309.7 L642 309.8 L642.5 309.5 L643 309.4 L643.5 310.2 L644 310.9 L644.5 309.6 L645 310.4 L645.5 310.6 L646 310.2 L646.5 311.1 L647 311.1 L647.5 310.7 L648 310 L648.5 309.7 L649 309.3 L649.5 309.6 L650 309.3 L650.5 309.9 L651 309.7 L651.5 310 L652 311 L652.5 311 L653 309.6 L653.5 310.7 L654 309.6 L654.5 310.2 L655 311.1 L655.5 310 L656 310.2 L656.5 310.9 L657 310.5 L657.5 310.5 L658 310.4 L658.5 309.7 L659 310.7 L659.5 310.2 L660 309.8 L660.5 309.2 L661 310.8 L661.5 310.8 L662 310.6 L662.5 310.6 L663 310.7 L663.5 310.8 L664 310.6 L664.5 310.5 L665 310 L665.5 309.7 L666 310.2 L666.5 310.6 L667 310.8 L667.5 310.4 L668 310.6 L668.5 310 L669 309.2 L669.5 309.5 L670 310.5 L670.5 310.8 L671 310.8 L671.5 310 L672 310.2 L672.5 309.5 L673 310.7 L673.5 310.4 L674 309.5 L674.5 309.7 L675 309.8 L675.5 309 L676 310.6 L676.5 310.4 L677 309.7 L677.5 309.7 L678 308.9 L678.5 308.9 L679 309.6 L679 325.2 L678.5 324.8 L678 326.2 L677.5 324.8 L677 325.1 L676.5 324.6 L676 325 L675.5 325.5 L675 325.4 L674.5 324.9 L674 324.6 L673.5 325.3 L673 325.7 L672.5 325.8 L672 325.6 L671.5 326 L671 326.2 L670.5 324.4 L670 324.8 L669.5 325.4 L669 324.4 L668.5 325.2 L668 326 L667.5 325.7 L667 324.4 L666.5 326 L666 325.8 L665.5 326 L665 325.8 L664.5 324.8 L664 325.5 L663.5 325.7 L663 326.1 L662.5 324.7 L662 325.6 L661.5 325 L661 325.2 L660.5 326.1 L660 324.9 L659.5 325 L659 326 L658.5 325.5 L658 325.6 L657.5 325 L657 325.6 L656.5 324.8 L656 325.5 L655.5 325 L655 325 L654.5 325.6 L654 324.8 L653.5 325.7 L653 324.5 L652.5 325.2 L652 325.3 L651.5 325.4 L651 324.6 L650.5 325.5 L650 324.5 L649.5 325.2 L649 324.3 L648.5 325.5 L648 325.3 L647.5 324.3 L647 325.2 L646.5 324.1 L646 324.6 L645.5 325 L645 324.5 L644.5 325.8 L644 325.4 L643.5 324.5 L643 324.4 L642.5 324.9 L642 324.2 L641.5 325.3 L641 324.8 L640.5 323.5 L640 323.8 L639.5 323.1 L639 323.7 L638.5 323.8 L638 322.7 L637.5 322.5 L637 322 L636.5 321.9 L636 322.4 L635.5 321.8 L635 322.1 L634.5 322.1 L634 321.6 L633.5 322.2 L633 322.5 L632.5 321.5 L632 321.8 L631.5 322.4 L631 322.6 L630.5 322.3 L630 322.1 L629.5 322.4 L629 322.7 L628.5 322.5 L628 322 L627.5 322.6 L627 321.7 L626.5 322.4 L626 321.9 L625.5 322.1 L625 322 L624.5 322.9 L624 321.8 L623.5 321.9 L623 322.8 L622.5 322.7 L622 323 L621.5 322.9 L621 322.7 L620.5 323.1 L620 322.8 L619.5 323 L619 323.7 L618.5 323.9 L618 324.6 L617.5 324.2 L617 324 L616.5 324.5 L616 325.9 L615.5 326.4 L615 326.7 L614.5 327 L614 326.1 L613.5 326.1 L613 326.3 L612.5 325.6 L612 326.1 L611.5 327.2 L611 326.9 L610.5 326.8 L610 325.5 L609.5 327.1 L609 327.2 L608.5 326.6 L608 326.2 L607.5 326.9 L607 326.7 L606.5 325.9 L606 325.3 L605.5 325.4 L605 327 L604.5 326.8 L604 325.4 L603.5 325.7 L603 325.4 L602.5 325.5 L602 327.2 L601.5 327.2 L601 326.6 L600.5 326.1 L600 326.5 L599.5 327.1 L599 326.2 L598.5 325.6 L598 327.1 L597.5 325.5 L597 325.1 L596.5 326.7 L596 325.6 L595.5 327.1 L595 326.3 L594.5 326.2 L594 326 L593.5 325.9 L593 326.5 L592.5 326.8 L592 326.6 L591.5 326.7 L591 325.3 L590.5 325.6 L590 326.8 L589.5 325.5 L589 325.8 L588.5 325.4 L588 326.2 L587.5 326.3 L587 325 L586.5 326.2 L586 326.3 L585.5 326.2 L585 326.2 L584.5 326.2 L584 325.5 L583.5 324.9 L583 325.7 L582.5 325.4 L582 324.9 L581.5 326.8 L581 325.3 L580.5 325 L580 326.7 L579.5 325.6 L579 325.7 L578.5 324.8 L578 325 L577.5 324.7 L577 326.5 L576.5 325.6 L576 324.5 L575.5 325.8 L575 325.7 L574.5 324.5 L574 324.9 L573.5 325.2 L573 326 L572.5 325.8 L572 324.7 L571.5 325.6 L571 325.3 L570.5 325.8 L570 325.5 L569.5 324.7 L569 324.3 L568.5 325.5 L568 325.5 L567.5 324.4 L567 324.3 L566.5 324.4 L566 324.3 L565.5 324.8 L565 324.4 L564.5 324.2 L564 325.2 L563.5 324.6 L563 325.3 L562.5 325 L562 324.2 L561.5 324.1 L561 324.8 L560.5 323.4 L560 323.1 L559.5 323.1 L559 323.8 L558.5 322.9 L558 322.7 L557.5 322.5 L557 322 L556.5 322.2 L556 323 L555.5 321.9 L555 322.1 L554.5 323.1 L554 322.3 L553.5 322.6 L553 322.9 L552.5 322.6 L552 322.5 L551.5 322.3 L551 322.6 L550.5 322.4 L550 322.2 L549.5 322.4 L549 322.4 L548.5 322.7 L548 322.1 L547.5 323.1 L547 322.6 L546.5 322.4 L546 322.2 L545.5 323.1 L545 322.4 L544.5 322.1 L544 322.9 L543.5 322.5 L543 322.6 L542.5 321.9 L542 321.9 L541.5 323.6 L541 323.6 L540.5 325 L540 325.8 L539.5 326 L539 325.1 L538.5 325.9 L538 328.2 L537.5 328 L537 327 L536.5 328 L536 326.3 L535.5 327.8 L535 327.7 L534.5 328.2 L534 327 L533.5 327.8 L533 326.7 L532.5 328.3 L532 327 L531.5 328 L531 326.6 L530.5 326.9 L530 327.4 L529.5 326.9 L529 326.4 L528.5 326.3 L528 326.8 L527.5 328 L527 326.3 L526.5 327.9 L526 328.1 L525.5 327.2 L525 327.8 L524.5 327.3 L524 327.8 L523.5 327.5 L523 326.6 L522.5 327.6 L522 327.5 L521.5 327.8 L521 327.8 L520.5 327.9 L520 328.3 L519.5 328.2 L519 326.4 L518.5 328 L518 327 L517.5 326.4 L517 327.4 L516.5 327.5 L516 325.8 L515.5 326.1 L515 326.6 L514.5 325.6 L514 325.2 L513.5 326.3 L513 326.3 L512.5 325.5 L512 325.2 L511.5 324.3 L511 326 L510.5 324.9 L510 325.3 L509.5 324.1 L509 325 L508.5 324.6 L508 324.8 L507.5 324 L507 325.4 L506.5 325.5 L506 325.1 L505.5 324.3 L505 324.8 L504.5 324.6 L504 324.5 L503.5 324 L503 325 L502.5 324.4 L502 325.1 L501.5 324.4 L501 323.9 L500.5 324.3 L500 323.8 L499.5 324.8 L499 324.4 L498.5 325.2 L498 323.9 L497.5 324.2 L497 324.5 L496.5 324.8 L496 324.8 L495.5 324.8 L495 324.9 L494.5 324.5 L494 324 L493.5 323.8 L493 323.7 L492.5 324.7 L492 323.7 L491.5 324.3 L491 323.4 L490.5 324.3 L490 323.6 L489.5 323.4 L489 323.9 L488.5 323.8 L488 324.8 L487.5 323.8 L487 324.8 L486.5 324.5 L486 324 L485.5 324.6 L485 324.8 L484.5 323.6 L484 323.2 L483.5 323.4 L483 324.3 L482.5 324.7 L482 324.7 L481.5 323.5 L481 322.9 L480.5 324.1 L480 323.8 L479.5 322.6 L479 323.3 L478.5 322.3 L478 323 L477.5 322.3 L477 322.2 L476.5 321.6 L476 321.9 L475.5 322.2 L475 322.3 L474.5 322.4 L474 322.2 L473.5 322.4 L473 322.5 L472.5 322 L472 321.7 L471.5 322 L471 322.5 L470.5 321.9 L470 321.7 L469.5 322 L469 321.7 L468.5 321.8 L468 321.9 L467.5 322.1 L467 321.6 L466.5 321.9 L466 322.2 L465.5 321.7 L465 322.6 L464.5 323.3 L464 323.8 L463.5 323.5 L463 323.7 L462.5 323.6 L462 325.6 L461.5 325.1 L461 325.5 L460.5 325.3 L460 326.3 L459.5 326.5 L459 324.8 L458.5 326.1 L458 325.3 L457.5 326 L457 326.6 L456.5 326.4 L456 327 L455.5 325.8 L455 327.9 L454.5 326.5 L454 326 L453.5 327.1 L453 327.3 L452.5 326.9 L452 325.9 L451.5 327.1 L451 325.9 L450.5 326.4 L450 326.6 L449.5 327.1 L449 326.4 L448.5 326.2 L448 325.9 L447.5 326.3 L447 327.3 L446.5 327.1 L446 327 L445.5 326.8 L445 326.4 L444.5 326.5 L444 327 L443.5 326.1 L443 327.1 L442.5 326.2 L442 327.9 L441.5 325.7 L441 326.7 L440.5 326.7 L440 326.1 L439.5 325.8 L439 327 L438.5 325.7 L438 326.3 L437.5 325.9 L437 327.2 L436.5 326.9 L436 326.1 L435.5 326.7 L435 326.7 L434.5 325.8 L434 327.1 L433.5 326.4 L433 326.9 L432.5 327 L432 326.8 L431.5 326.9 L431 327.1 L430.5 326.1 L430 327.9 L429.5 327 L429 327.7 L428.5 326.8 L428 326.8 L427.5 326.2 L427 327.6 L426.5 325.7 L426 326.9 L425.5 326.9 L425 327.4 L424.5 325.7 L424 327.5 L423.5 326.9 L423 326.6 L422.5 325.7 L422 326.6 L421.5 326.2 L421 326.1 L420.5 327.2 L420 326.2 L419.5 327.3 L419 326.4 L418.5 325.8 L418 325.7 L417.5 325.7 L417 326.5 L416.5 325.7 L416 326.4 L415.5 325.7 L415 327.4 L414.5 326.9 L414 326.8 L413.5 327 L413 326.1 L412.5 325.9 L412 325.6 L411.5 325.8 L411 325.8 L410.5 326.4 L410 326.8 L409.5 326.2 L409 326.8 L408.5 327.2 L408 327.6 L407.5 325.7 L407 326.8 L406.5 327.3 L406 326.7 L405.5 325.9 L405 327.2 L404.5 326.1 L404 325.5 L403.5 327.1 L403 327 L402.5 325.6 L402 326.3 L401.5 325.9 L401 326.7 L400.5 327.3 L400 326 L399.5 327.5 L399 326.4 L398.5 325.9 L398 327.3 L397.5 327.2 L397 327.5 L396.5 326 L396 326.4 L395.5 326.8 L395 327.5 L394.5 327.1 L394 326.6 L393.5 327.3 L393 326.3 L392.5 326.8 L392 326.7 L391.5 327.3 L391 326.3 L390.5 326.2 L390 326.4 L389.5 325.7 L389 326 L388.5 325.5 L388 327.3 L387.5 326 L387 327.3 L386.5 326 L386 326.8 L385.5 326.4 L385 325.5 L384.5 325.6 L384 326.1 L383.5 327.3 L383 325.8 L382.5 327 L382 327 L381.5 326.2 L381 327.5 L380.5 326 L380 326.9 L379.5 326 L379 325.8 L378.5 327.3 L378 327.3 L377.5 326.2 L377 327.5 L376.5 327.2 L376 326 L375.5 325.6 L375 326.2 L374.5 326.4 L374 326.9 L373.5 326.1 L373 326.1 L372.5 326.5 L372 326.5 L371.5 325.5 L371 326.5 L370.5 325.6 L370 326.9 L369.5 325.9 L369 327.4 L368.5 327 L368 327.2 L367.5 326.6 L367 325.7 L366.5 326.2 L366 325.9 L365.5 327 L365 326.9 L364.5 327.2 L364 325.3 L363.5 325.6 L363 326.1 L362.5 325.9 L362 326.6 L361.5 325.6 L361 326.8 L360.5 327Z" fill="#000"/>
<path d="M360.7 317.6 V328 M360.9 317.6 V330.3 M361.5 317.6 V326.7 M361.9 317.6 V304.7 M362.1 317.6 V327.5 M362.6 317.6 V307 M362.5 317.6 V327 M362.9 317.6 V327.5 M363.4 317.6 V307.5 M364 317.6 V327.6 M364.5 317.6 V329 M365.2 317.6 V307.9 M364.9 317.6 V329.2 M365.9 317.6 V330.5 M366.7 317.6 V307.1 M366.6 317.6 V333.8 M367.2 317.6 V307.3 M367.5 317.6 V305.9 M368.6 317.6 V308.1 M368.6 317.6 V327.5 M369.3 317.6 V308.2 M369.4 317.6 V326.9 M370.2 317.6 V303.7 M370.2 317.6 V327 M371.3 317.6 V304.4 M372 317.6 V304.1 M372.1 317.6 V328.7 M372.3 317.6 V327.5 M372.9 317.6 V326.9 M373.9 317.6 V304.2 M374.5 317.6 V304 M374.5 317.6 V328.4 M375.3 317.6 V308.3 M375.4 317.6 V327.7 M375.9 317.6 V327.5 M376.5 317.6 V305.1 M376.5 317.6 V331.1 M377 317.6 V329.6 M377.7 317.6 V308.5 M377.5 317.6 V328.4 M377.8 317.6 V308.1 M378.3 317.6 V327.6 M379.2 317.6 V307.2 M380.4 317.6 V307.2 M380.4 317.6 V330.7 M381 317.6 V305.1 M380.9 317.6 V329.9 M381.5 317.6 V327.7 M383 317.6 V302 M383 317.6 V331.3 M384 317.6 V306.9 M384.4 317.6 V306.3 M384.6 317.6 V328.5 M385.1 317.6 V327.9 M386.4 317.6 V307.5 M387.9 317.6 V329.1 M388.6 317.6 V305.2 M389.1 317.6 V304.2 M389.6 317.6 V303.6 M390.1 317.6 V328.6 M390.3 317.6 V307.5 M391.1 317.6 V308.3 M391.5 317.6 V330 M393.4 317.6 V307.6 M394 317.6 V308 M394.6 317.6 V328 M395 317.6 V328.4 M395.4 317.6 V308 M395.3 317.6 V329.2 M396.9 317.6 V330 M397.6 317.6 V306.2 M398.3 317.6 V327.1 M398.9 317.6 V306.5 M398.9 317.6 V328.1 M399.3 317.6 V306.3 M399.5 317.6 V327.8 M400.7 317.6 V304.1 M400.7 317.6 V327.9 M401.1 317.6 V306.6 M401.6 317.6 V308.3 M401.4 317.6 V331.9 M402.1 317.6 V307.3 M402 317.6 V328.3 M402.5 317.6 V307.1 M402.5 317.6 V328.5 M403.1 317.6 V306.8 M403 317.6 V330.1 M403.3 317.6 V305.2 M403.4 317.6 V327.7 M404.5 317.6 V304.9 M404.5 317.6 V331.8 M405.1 317.6 V328.5 M405.5 317.6 V304.5 M405.7 317.6 V327.9 M405.9 317.6 V307.7 M406.1 317.6 V329.8 M406.6 317.6 V306.8 M406.6 317.6 V331.1 M407.2 317.6 V304.5 M408.1 317.6 V327.4 M408.4 317.6 V330.1 M409.1 317.6 V331.4 M409.4 317.6 V307.8 M409.4 317.6 V334.8 M409.8 317.6 V304.2 M410.6 317.6 V306.9 M410.4 317.6 V327.1 M410.8 317.6 V328.4 M411.6 317.6 V308.1 M413.6 317.6 V306 M413.7 317.6 V328.5 M414.2 317.6 V307.9 M413.9 317.6 V327.1 M414.7 317.6 V303.6 M415 317.6 V305.6 M415.6 317.6 V330.3 M416.5 317.6 V303.5 M416.4 317.6 V328.1 M416.8 317.6 V327.2 M417.4 317.6 V327.4 M418 317.6 V329.7 M418.4 317.6 V305.6 M419.2 317.6 V307.9 M419.5 317.6 V330.4 M420 317.6 V305.5 M420.5 317.6 V332.8 M420.9 317.6 V328.2 M421.5 317.6 V305.1 M422 317.6 V305.1 M423.1 317.6 V331.1 M423.4 317.6 V327.7 M424.1 317.6 V306.1 M424 317.6 V330.4 M424.5 317.6 V306 M425.4 317.6 V327.5 M425.9 317.6 V301.3 M426.6 317.6 V307.4 M426.4 317.6 V328.8 M427.3 317.6 V307.1 M427.5 317.6 V331.3 M428.3 317.6 V328.8 M429.6 317.6 V330.2 M429.9 317.6 V303.6 M431.1 317.6 V308.1 M431 317.6 V330.5 M431.6 317.6 V330.7 M432.3 317.6 V307.6 M432.4 317.6 V331 M433.1 317.6 V329.9 M433.3 317.6 V307.2 M433.5 317.6 V330.7 M434.6 317.6 V327.1 M435.6 317.6 V304.3 M435.5 317.6 V330.9 M436 317.6 V327.1 M436.5 317.6 V307.1 M436.4 317.6 V329.6 M437.4 317.6 V306 M437.6 317.6 V330.8 M438 317.6 V327.2 M438.5 317.6 V305.3 M438.8 317.6 V307.9 M439.1 317.6 V330.4 M440 317.6 V300.8 M440.3 317.6 V328 M441 317.6 V333 M441.5 317.6 V307.7 M441.6 317.6 V327.5 M442.3 317.6 V307 M442.8 317.6 V330.3 M443.6 317.6 V330 M444.2 317.6 V306.1 M443.8 317.6 V328.7 M444.4 317.6 V302.4 M444.9 317.6 V300.7 M445.1 317.6 V333.5 M446.1 317.6 V327.3 M446.3 317.6 V327.4 M447.3 317.6 V332.5 M448 317.6 V307.5 M448.2 317.6 V329.2 M448.3 317.6 V304 M449.6 317.6 V300.1 M449.9 317.6 V328.1 M450.4 317.6 V327.8 M451.1 317.6 V301.9 M450.9 317.6 V330.5 M451.3 317.6 V305.8 M452.5 317.6 V306.3 M452.3 317.6 V327.6 M452.9 317.6 V332 M453.4 317.6 V307.5 M453.6 317.6 V330.3 M453.9 317.6 V307.2 M454.3 317.6 V306.3 M454.5 317.6 V331 M455.7 317.6 V307.9 M455.5 317.6 V330.4 M456.4 317.6 V327.8 M456.9 317.6 V306.6 M457.6 317.6 V308.7 M457.5 317.6 V326.9 M458 317.6 V301.4 M458.5 317.6 V307.7 M458.4 317.6 V328.3 M459 317.6 V308.6 M458.9 317.6 V327.2 M459.3 317.6 V308.6 M459.9 317.6 V326.7 M461.1 317.6 V308.3 M461.4 317.6 V327 M462.2 317.6 V307.3 M462.5 317.6 V327.5 M463.1 317.6 V310.6 M463.2 317.6 V325.1 M463.4 317.6 V325.6 M463.9 317.6 V326.6 M464.7 317.6 V310.4 M465.1 317.6 V311.5 M466.9 317.6 V312.7 M467.1 317.6 V323.6 M468.2 317.6 V310.9 M467.9 317.6 V322.2 M468.5 317.6 V311.6 M469.1 317.6 V324 M469.3 317.6 V312.4 M469.3 317.6 V323.7 M470.7 317.6 V312.5 M471.1 317.6 V312.9 M471.5 317.6 V312.6 M471.5 317.6 V322.6 M472.1 317.6 V312.8 M472.4 317.6 V312.4 M473.1 317.6 V323.2 M473.5 317.6 V325.4 M474 317.6 V322.4 M474.5 317.6 V312.4 M474.9 317.6 V312.1 M474.9 317.6 V323 M475.5 317.6 V324.6 M476 317.6 V310.8 M476.6 317.6 V310.8 M478 317.6 V312.2 M478.4 317.6 V310.1 M479.1 317.6 V310.3 M479.1 317.6 V323.7 M480.6 317.6 V309.3 M480.6 317.6 V324.3 M481.5 317.6 V325.4 M482.8 317.6 V325 M483.5 317.6 V308.7 M484 317.6 V310.6 M485 317.6 V310.1 M484.8 317.6 V324.3 M485.8 317.6 V310.5 M486.2 317.6 V325.4 M486.5 317.6 V309.3 M486.4 317.6 V328.1 M488.5 317.6 V325.5 M489.2 317.6 V309.1 M489.5 317.6 V306.3 M490.5 317.6 V310.8 M490.8 317.6 V307.9 M491 317.6 V327.3 M491.5 317.6 V306.3 M491.6 317.6 V327.2 M492 317.6 V307.7 M492.4 317.6 V329.2 M493.1 317.6 V329.4 M493.5 317.6 V309.9 M493.8 317.6 V307.8 M495 317.6 V309 M495.3 317.6 V310.2 M495.6 317.6 V325.6 M496.2 317.6 V309.9 M496.9 317.6 V327.5 M497.5 317.6 V310.2 M497.3 317.6 V327 M498.2 317.6 V306.9 M499 317.6 V308.3 M500 317.6 V308.4 M500.3 317.6 V329.9 M501.4 317.6 V310.2 M502.5 317.6 V309.8 M502.4 317.6 V327 M503.1 317.6 V309.8 M502.9 317.6 V325.6 M503.6 317.6 V326.3 M503.9 317.6 V327.4 M504.5 317.6 V306.1 M505.1 317.6 V326.3 M505.5 317.6 V310 M506.1 317.6 V307.5 M506.6 317.6 V309.8 M506.9 317.6 V325.8 M507.4 317.6 V325.2 M508.3 317.6 V328.7 M509.1 317.6 V308.8 M510.1 317.6 V327.2 M510.3 317.6 V308.8 M510.5 317.6 V327.1 M511 317.6 V308.6 M510.8 317.6 V329.5 M511.3 317.6 V327.6 M511.8 317.6 V329.9 M512.6 317.6 V329.4 M513.2 317.6 V327.2 M513.5 317.6 V308.3 M514.1 317.6 V306.2 M514.6 317.6 V308.7 M514.4 317.6 V329.9 M515.1 317.6 V327.4 M515.5 317.6 V328.8 M516 317.6 V305.1 M516.4 317.6 V332.3 M516.9 317.6 V327.7 M517.9 317.6 V307.5 M517.9 317.6 V330.8 M518.3 317.6 V328.8 M519.4 317.6 V304.3 M520.1 317.6 V306.2 M520 317.6 V329.4 M520.9 317.6 V304.8 M521.6 317.6 V328.1 M521.9 317.6 V305 M521.9 317.6 V328.2 M522.9 317.6 V303 M523.3 317.6 V305.4 M523.9 317.6 V329.6 M525.6 317.6 V305.1 M525.5 317.6 V328.5 M526.1 317.6 V305.2 M526.9 317.6 V330.5 M527.4 317.6 V304.1 M528.1 317.6 V305.9 M530 317.6 V329.3 M530.3 317.6 V302.9 M530.4 317.6 V330.4 M531.2 317.6 V329.8 M531.6 317.6 V305.1 M531.3 317.6 V330 M532 317.6 V301.9 M532 317.6 V327.7 M532.7 317.6 V306.7 M533.1 317.6 V302 M533.5 317.6 V305.6 M533.5 317.6 V327.7 M534.4 317.6 V330.1 M535.1 317.6 V303.3 M535.5 317.6 V305.9 M536.4 317.6 V303.9 M536.6 317.6 V327.9 M537.5 317.6 V306.2 M537.4 317.6 V328.3 M537.9 317.6 V305.8 M538.4 317.6 V305.7 M539.2 317.6 V328.1 M539.5 317.6 V325.9 M540 317.6 V309.8 M540 317.6 V325.8 M540.7 317.6 V309.5 M540.5 317.6 V324.7 M541.2 317.6 V324 M542.5 317.6 V311.6 M542.6 317.6 V324.3 M544 317.6 V311.3 M544.5 317.6 V310.3 M544.8 317.6 V322.6 M545.4 317.6 V312 M546.1 317.6 V311.3 M546.5 317.6 V310.7 M546.5 317.6 V323.8 M546.8 317.6 V311.9 M547.3 317.6 V322.7 M548.1 317.6 V311.4 M548.7 317.6 V311.4 M548.4 317.6 V325.4 M549.3 317.6 V311.5 M550.1 317.6 V312.4 M551.1 317.6 V312.1 M551 317.6 V325.1 M551.6 317.6 V312.4 M551.8 317.6 V312 M553.1 317.6 V312 M553.5 317.6 V312.5 M554.1 317.6 V324.1 M554.9 317.6 V310.3 M555.5 317.6 V323.3 M556.1 317.6 V323.7 M556.6 317.6 V326.8 M556.8 317.6 V322.7 M557.3 317.6 V311.8 M557.4 317.6 V325.2 M558.6 317.6 V310.7 M559.1 317.6 V311 M558.8 317.6 V326.2 M559.5 317.6 V308.7 M560.7 317.6 V324.9 M560.9 317.6 V324.3 M561.5 317.6 V308.2 M562.2 317.6 V326.5 M562.5 317.6 V325.6 M563.9 317.6 V325.1 M564.5 317.6 V308.4 M565 317.6 V306.7 M565.1 317.6 V325.5 M565.5 317.6 V307.8 M566.1 317.6 V308.5 M566.6 317.6 V306.5 M567 317.6 V309.8 M567.1 317.6 V326.9 M567.9 317.6 V308.2 M568.3 317.6 V307.9 M569.1 317.6 V327.4 M569.6 317.6 V327.5 M570.1 317.6 V328.4 M571.2 317.6 V307.6 M571 317.6 V325.7 M571.3 317.6 V308.4 M571.6 317.6 V326.5 M572 317.6 V325.9 M572.6 317.6 V308.6 M573 317.6 V328.6 M573.6 317.6 V327.6 M574 317.6 V327.2 M574.4 317.6 V325.9 M574.9 317.6 V308.1 M575.6 317.6 V307.8 M576.2 317.6 V327.7 M576.5 317.6 V307.8 M577 317.6 V307.5 M577.6 317.6 V307.4 M577.9 317.6 V308.3 M578.6 317.6 V307.1 M578.9 317.6 V329.9 M579.3 317.6 V306.9 M580 317.6 V305.5 M580 317.6 V328 M580.8 317.6 V329.4 M581.7 317.6 V308.2 M581.5 317.6 V327.8 M582.1 317.6 V307.1 M582.4 317.6 V306.1 M582.6 317.6 V331.2 M583.1 317.6 V305.4 M582.8 317.6 V326.9 M583.6 317.6 V329 M584.1 317.6 V305.7 M585.1 317.6 V306.2 M585.2 317.6 V329.4 M585.5 317.6 V308.1 M585.9 317.6 V326.7 M586.5 317.6 V327.7 M588.2 317.6 V327.7 M588.9 317.6 V328.2 M589.5 317.6 V326.7 M590.2 317.6 V306.8 M590.6 317.6 V305.2 M590.7 317.6 V329.2 M591 317.6 V308.4 M592 317.6 V308.9 M592.6 317.6 V306.3 M592.9 317.6 V308 M593.5 317.6 V326.4 M593.9 317.6 V305.9 M593.9 317.6 V326.3 M594.5 317.6 V330.7 M595.5 317.6 V308 M595.9 317.6 V308.5 M596.4 317.6 V329.1 M596.8 317.6 V305.5 M597 317.6 V328 M597.4 317.6 V306.9 M597.4 317.6 V328.3 M598 317.6 V327.8 M598.4 317.6 V330.5 M599.1 317.6 V329.2 M599.4 317.6 V306.7 M599.5 317.6 V328.3 M600.1 317.6 V328 M600.6 317.6 V306.3 M600.4 317.6 V327 M601 317.6 V308.1 M600.9 317.6 V327.7 M601.6 317.6 V307.1 M602 317.6 V329 M602.5 317.6 V302.1 M602.7 317.6 V328.2 M602.9 317.6 V308.4 M603.7 317.6 V306.4 M603.6 317.6 V329.4 M604.1 317.6 V308.5 M604.3 317.6 V306.8 M604.7 317.6 V327.1 M605.2 317.6 V307.6 M605.5 317.6 V305.2 M605.4 317.6 V332.5 M606.5 317.6 V327.4 M606.9 317.6 V327.3 M608.2 317.6 V327.3 M608.5 317.6 V307.1 M608.3 317.6 V327.6 M609 317.6 V303.4 M609.6 317.6 V304.2 M610.2 317.6 V305.6 M609.9 317.6 V327.5 M610.6 317.6 V307.2 M610.4 317.6 V327.5 M611.1 317.6 V307.1 M610.9 317.6 V328.2 M611.6 317.6 V305.8 M612 317.6 V327.8 M612.9 317.6 V307 M613.5 317.6 V306.9 M614.5 317.6 V328.7 M614.9 317.6 V328.4 M615.7 317.6 V305.9 M615.5 317.6 V328.1 M616.1 317.6 V307.9 M617.6 317.6 V310.5 M618.4 317.6 V325.9 M618.9 317.6 V310.4 M619.4 317.6 V311.3 M620.5 317.6 V322.7 M621.1 317.6 V312 M621.2 317.6 V325.1 M621.5 317.6 V323.2 M622.1 317.6 V311.4 M622.8 317.6 V322.7 M623.5 317.6 V323.3 M624 317.6 V311.6 M624.2 317.6 V323.9 M624.5 317.6 V311.8 M625.7 317.6 V323.4 M626.2 317.6 V312.3 M626 317.6 V323.4 M626.3 317.6 V311.4 M626.3 317.6 V324.5 M627 317.6 V312.2 M627.6 317.6 V322.5 M628 317.6 V324.2 M628.9 317.6 V312.2 M629.9 317.6 V311.5 M629.9 317.6 V322.4 M630.3 317.6 V324.4 M631.1 317.6 V311.9 M630.9 317.6 V322.6 M631.9 317.6 V312 M632.1 317.6 V323.5 M632.8 317.6 V323.4 M633.6 317.6 V311.7 M633.6 317.6 V322.4 M634 317.6 V323.6 M634.6 317.6 V311.5 M634.5 317.6 V323.2 M635.1 317.6 V310.4 M635.6 317.6 V312 M636 317.6 V313 M637.2 317.6 V324.1 M637.5 317.6 V311.2 M637.5 317.6 V323.2 M638.6 317.6 V310.8 M639.1 317.6 V311.1 M640 317.6 V326.4 M640.6 317.6 V310.2 M641 317.6 V327.3 M643.5 317.6 V309.1 M643.6 317.6 V327.3 M644.1 317.6 V326.1 M645.1 317.6 V327.3 M645.5 317.6 V327.2 M646.6 317.6 V310 M646.4 317.6 V326.2 M647.1 317.6 V325.6 M647.5 317.6 V307.9 M647.7 317.6 V326.3 M648.1 317.6 V327.4 M648.6 317.6 V309 M649.2 317.6 V309.1 M649 317.6 V326.4 M649.3 317.6 V326.1 M650.1 317.6 V326.2 M650.7 317.6 V309.6 M650.5 317.6 V326.5 M651.2 317.6 V308.8 M652 317.6 V309.2 M651.9 317.6 V327.5 M652.9 317.6 V326.5 M653.6 317.6 V308.7 M654.1 317.6 V306.7 M653.8 317.6 V327.5 M654.4 317.6 V308.1 M655 317.6 V325.6 M655.5 317.6 V328 M655.9 317.6 V328.4 M656.5 317.6 V307.1 M656.5 317.6 V329.1 M657.7 317.6 V326.2 M658.6 317.6 V309.6 M659.1 317.6 V309.3 M659 317.6 V329.7 M659.4 317.6 V308.8 M660.1 317.6 V329.5 M660.9 317.6 V326.8 M661.4 317.6 V308.7 M661.3 317.6 V325.8 M662.2 317.6 V308 M661.8 317.6 V328.4 M662.8 317.6 V329.2 M663.9 317.6 V304.7 M664.5 317.6 V329.2 M664.9 317.6 V308.6 M664.9 317.6 V325.7 M665.6 317.6 V326.5 M666.2 317.6 V328.6 M666.3 317.6 V309.2 M666.9 317.6 V328.1 M668.4 317.6 V306.5 M669 317.6 V309.3 M669 317.6 V328.7 M669.5 317.6 V307.9 M670 317.6 V309.7 M670.6 317.6 V326.8 M671 317.6 V328 M671.3 317.6 V309.1 M671.8 317.6 V309 M672.1 317.6 V328.7 M672.3 317.6 V308.5 M672.7 317.6 V326.6 M672.9 317.6 V325.6 M673.6 317.6 V329 M674.1 317.6 V326.4 M674.3 317.6 V326 M674.9 317.6 V309.3 M676.3 317.6 V307.8 M676.6 317.6 V325.9 M677 317.6 V327.5 M677.6 317.6 V307.2 M678.1 317.6 V327.9 M678.6 317.6 V328.2 M678.8 317.6 V327.2" fill="none" stroke="#222" stroke-width="0.45"/>
<path d="M360.5 317.6 V306.1 M361 317.6 V331.7 M361.5 317.6 V304.1 M362 317.6 V329.1 M362.5 317.6 V305.3 M363 317.6 V293.2 M363.5 317.6 V331.7 M365 317.6 V307.1 M365.5 317.6 V338.4 M366 317.6 V332.2 M368.5 317.6 V333.6 M369 317.6 V327.3 M369.5 317.6 V328.8 M370 317.6 V301.4 M370.5 317.6 V327.8 M371 317.6 V339.2 M371.5 317.6 V327.1 M372 317.6 V334.9 M372.5 317.6 V295.7 M373.5 317.6 V331.4 M374 317.6 V329.8 M374.5 317.6 V334.9 M375 317.6 V331.3 M376 317.6 V335.1 M376.5 317.6 V308.5 M377 317.6 V307.1 M379.5 317.6 V305.4 M380 317.6 V304.4 M380.5 317.6 V346.3 M381 317.6 V306.5 M381.5 317.6 V304.3 M382 317.6 V303.2 M382.5 317.6 V298.5 M383 317.6 V308.1 M383.5 317.6 V333.4 M384 317.6 V305.3 M384.5 317.6 V338.2 M385 317.6 V330.4 M386.5 317.6 V307 M387.5 317.6 V336.1 M388.5 317.6 V302.2 M389.5 317.6 V298.6 M390 317.6 V330.1 M390.5 317.6 V305.8 M391 317.6 V302.5 M391.5 317.6 V308.3 M392 317.6 V301.4 M393.5 317.6 V329.9 M394 317.6 V331.3 M394.5 317.6 V328.2 M395 317.6 V331 M395.5 317.6 V307.9 M396 317.6 V306.8 M397 317.6 V304.9 M397.5 317.6 V298.8 M398.5 317.6 V306.2 M399.5 317.6 V329.1 M400.5 317.6 V333.6 M401 317.6 V339.7 M401.5 317.6 V308.3 M402.5 317.6 V329.1 M404.5 317.6 V327 M405 317.6 V329.3 M405.5 317.6 V333.5 M406 317.6 V303.1 M407.5 317.6 V327.6 M408 317.6 V300.4 M408.5 317.6 V307.6 M409 317.6 V331.6 M410 317.6 V301.2 M410.5 317.6 V336 M411 317.6 V306.6 M412 317.6 V336.7 M412.5 317.6 V328 M413 317.6 V331.3 M414 317.6 V304.4 M415.5 317.6 V306.5 M416 317.6 V330.7 M417.5 317.6 V299.4 M418 317.6 V329.5 M418.5 317.6 V330.2 M419 317.6 V305.7 M420.5 317.6 V327.5 M421 317.6 V329 M421.5 317.6 V339 M422 317.6 V297.8 M423.5 317.6 V304 M424 317.6 V307.1 M424.5 317.6 V304.3 M425.5 317.6 V307.8 M426 317.6 V329.5 M426.5 317.6 V334.5 M427 317.6 V340.3 M427.5 317.6 V343.9 M428 317.6 V305.8 M428.5 317.6 V329.8 M429 317.6 V304.6 M429.5 317.6 V330.1 M430 317.6 V300.5 M431 317.6 V293.9 M431.5 317.6 V299.1 M432.5 317.6 V307.6 M433 317.6 V329 M433.5 317.6 V327.2 M434.5 317.6 V339 M436 317.6 V330.6 M436.5 317.6 V330.7 M437 317.6 V308.1 M437.5 317.6 V335.3 M438 317.6 V330.5 M439 317.6 V338.5 M440 317.6 V306.1 M440.5 317.6 V331.9 M442 317.6 V331.4 M442.5 317.6 V327.9 M443.5 317.6 V331.1 M444 317.6 V330.3 M444.5 317.6 V298.8 M445 317.6 V335.7 M445.5 317.6 V304.3 M446 317.6 V299.7 M447 317.6 V305 M447.5 317.6 V307 M448 317.6 V330.1 M448.5 317.6 V301.2 M449 317.6 V305.1 M449.5 317.6 V308.1 M450 317.6 V329.6 M450.5 317.6 V301.9 M451 317.6 V300.3 M451.5 317.6 V331 M452 317.6 V300.4 M452.5 317.6 V334.4 M453 317.6 V331.4 M453.5 317.6 V328.5 M454 317.6 V298.5 M455 317.6 V327.2 M455.5 317.6 V303 M456 317.6 V294.3 M456.5 317.6 V306.2 M457.5 317.6 V307.5 M458.5 317.6 V336.2 M459 317.6 V328.2 M459.5 317.6 V298.2 M460 317.6 V304 M460.5 317.6 V303.7 M463 317.6 V307.8 M465 317.6 V311.6 M475.5 317.6 V325.6 M478.5 317.6 V329 M479 317.6 V307.5 M479.5 317.6 V329.8 M480.5 317.6 V305.5 M481 317.6 V331.9 M481.5 317.6 V324.6 M482 317.6 V326.3 M483 317.6 V327.7 M483.5 317.6 V329.9 M485.5 317.6 V341.9 M486.5 317.6 V327.5 M488 317.6 V333.3 M489.5 317.6 V304.5 M490.5 317.6 V328.3 M491 317.6 V330.7 M493 317.6 V296.1 M494 317.6 V327.8 M495 317.6 V301.3 M496 317.6 V297.3 M496.5 317.6 V304.6 M497 317.6 V326.7 M498 317.6 V327.3 M498.5 317.6 V310 M499 317.6 V303 M499.5 317.6 V326.5 M500.5 317.6 V330.9 M502 317.6 V302.6 M502.5 317.6 V303.5 M503 317.6 V301 M504 317.6 V327.2 M504.5 317.6 V300.2 M505.5 317.6 V296.9 M506 317.6 V304.5 M506.5 317.6 V327.1 M507 317.6 V326.3 M507.5 317.6 V330.8 M508 317.6 V309.2 M508.5 317.6 V334.5 M511 317.6 V299.2 M511.5 317.6 V335.7 M512.5 317.6 V331.8 M513 317.6 V327.4 M514 317.6 V330.8 M515.5 317.6 V330.4 M516 317.6 V332.2 M516.5 317.6 V329.2 M517 317.6 V300.8 M517.5 317.6 V341.1 M518 317.6 V330.2 M519 317.6 V341.3 M519.5 317.6 V333 M521 317.6 V333.1 M521.5 317.6 V292 M522 317.6 V333 M523 317.6 V337.7 M523.5 317.6 V355 M524 317.6 V339 M524.5 317.6 V295.8 M525 317.6 V330.3 M526 317.6 V301.4 M526.5 317.6 V331.2 M527 317.6 V328.3 M528.5 317.6 V330.2 M529 317.6 V301.9 M529.5 317.6 V290.9 M530 317.6 V304.7 M530.5 317.6 V306.9 M531 317.6 V302.7 M531.5 317.6 V342.7 M532 317.6 V299.2 M532.5 317.6 V306.8 M533 317.6 V302.4 M533.5 317.6 V296.3 M534 317.6 V338.5 M534.5 317.6 V333.8 M535 317.6 V306.6 M535.5 317.6 V337.1 M536 317.6 V339.9 M537 317.6 V332.3 M537.5 317.6 V338.3 M538.5 317.6 V330.3 M539 317.6 V307.5 M539.5 317.6 V292.5 M540 317.6 V306.2 M541.5 317.6 V324.7 M558.5 317.6 V308.3 M559.5 317.6 V305.7 M560.5 317.6 V306.6 M562 317.6 V308.5 M562.5 317.6 V307.6 M563 317.6 V326 M563.5 317.6 V309.8 M564 317.6 V324.9 M565 317.6 V328.9 M566.5 317.6 V307.4 M568 317.6 V327.8 M569.5 317.6 V327.4 M570 317.6 V330.5 M571 317.6 V301.8 M572 317.6 V301.4 M572.5 317.6 V302.6 M573 317.6 V330.5 M574.5 317.6 V306.7 M575 317.6 V330.6 M575.5 317.6 V327.3 M576 317.6 V330 M576.5 317.6 V308.6 M577 317.6 V329.5 M577.5 317.6 V303.5 M578 317.6 V309.2 M578.5 317.6 V333.4 M579 317.6 V342.1 M579.5 317.6 V306.3 M580.5 317.6 V334.1 M581 317.6 V339.9 M581.5 317.6 V308.3 M582 317.6 V301.6 M582.5 317.6 V308.6 M583 317.6 V297.1 M583.5 317.6 V337.3 M584 317.6 V308.9 M584.5 317.6 V294.7 M585 317.6 V306.7 M585.5 317.6 V344.4 M586 317.6 V336.5 M586.5 317.6 V333.6 M587.5 317.6 V300.1 M588 317.6 V291.9 M588.5 317.6 V331.9 M589 317.6 V308.2 M589.5 317.6 V327.7 M590 317.6 V300.5 M590.5 317.6 V327.4 M592 317.6 V306.2 M592.5 317.6 V336.4 M593 317.6 V307.8 M593.5 317.6 V305.2 M594 317.6 V294.8 M594.5 317.6 V329.4 M595 317.6 V334.1 M595.5 317.6 V295.3 M596 317.6 V299.2 M596.5 317.6 V334.2 M597 317.6 V335.6 M597.5 317.6 V326.8 M598.5 317.6 V334.3 M599.5 317.6 V301.9 M600 317.6 V329.4 M600.5 317.6 V333.5 M601.5 317.6 V302.4 M602 317.6 V299 M603 317.6 V330.9 M604 317.6 V304.6 M605 317.6 V335.1 M607 317.6 V303.1 M607.5 317.6 V331.7 M608 317.6 V298.5 M608.5 317.6 V308.1 M609 317.6 V305.1 M609.5 317.6 V303.4 M613 317.6 V301.5 M613.5 317.6 V299.4 M614 317.6 V333.4 M614.5 317.6 V302.7 M615.5 317.6 V301.3 M616 317.6 V303 M617 317.6 V305.2 M617.5 317.6 V332.5 M618 317.6 V335.2 M618.5 317.6 V324.2 M619 317.6 V325.7 M626.5 317.6 V326.3 M630 317.6 V312.7 M635 317.6 V324.8 M639 317.6 V300.3 M639.5 317.6 V300.3 M640 317.6 V307.9 M640.5 317.6 V333.8 M641 317.6 V298.2 M642 317.6 V307.3 M642.5 317.6 V328.1 M643.5 317.6 V333.4 M644 317.6 V327.7 M645 317.6 V299 M646 317.6 V326.6 M647 317.6 V304.5 M647.5 317.6 V331.2 M648 317.6 V327.2 M649 317.6 V332.8 M650.5 317.6 V325.8 M652.5 317.6 V325.9 M653 317.6 V328 M653.5 317.6 V330.2 M654 317.6 V301.3 M655 317.6 V304.2 M655.5 317.6 V307 M656 317.6 V326.6 M656.5 317.6 V304.1 M657 317.6 V327.8 M658 317.6 V331.3 M658.5 317.6 V305.9 M659 317.6 V303.8 M659.5 317.6 V301.7 M660 317.6 V297.7 M660.5 317.6 V333.8 M661 317.6 V326.7 M661.5 317.6 V334.9 M662 317.6 V336.8 M662.5 317.6 V305.2 M663.5 317.6 V325.6 M664 317.6 V331.4 M664.5 317.6 V308.8 M665 317.6 V302.1 M665.5 317.6 V332.1 M666 317.6 V299.2 M666.5 317.6 V327 M667 317.6 V306.1 M667.5 317.6 V303.9 M668 317.6 V330.5 M668.5 317.6 V299.6 M669.5 317.6 V332.9 M670 317.6 V304.9 M671.5 317.6 V327.8 M672 317.6 V327.7 M673.5 317.6 V305 M674 317.6 V326.2 M674.5 317.6 V332.9 M676 317.6 V301.8 M676.5 317.6 V305.9 M677 317.6 V325.8 M678 317.6 V304.4 M678.5 317.6 V305.3" fill="none" stroke="#1a1a1a" stroke-width="0.55"/>
<path d="M366.5 317.6 V346.3 M383.5 317.6 V341.4 M384.5 317.6 V294.3 M396 317.6 V295.1 M397.5 317.6 V302 M401 317.6 V296.5 M403.5 317.6 V346.6 M408 317.6 V349 M417 317.6 V296.2 M421 317.6 V293 M425 317.6 V287.6 M426 317.6 V345.7 M427 317.6 V287.1 M428 317.6 V273.9 M429 317.6 V297.1 M433 317.6 V282.6 M434 317.6 V344 M435.5 317.6 V362.1 M437 317.6 V288.4 M439 317.6 V281.8 M440.5 317.6 V292.8 M441.5 317.6 V299.7 M443 317.6 V359.9 M443.5 317.6 V361.9 M445 317.6 V291.9 M446 317.6 V336.8 M449.5 317.6 V358.1 M451.5 317.6 V349.8 M452.5 317.6 V288 M454 317.6 V289.9 M454.5 317.6 V269.8 M455 317.6 V359.8 M456 317.6 V363.5 M460.5 317.6 V335.7 M478.5 317.6 V337.1 M482.5 317.6 V298.7 M494 317.6 V332.7 M501 317.6 V335.9 M504 317.6 V302.9 M506 317.6 V302.5 M515.5 317.6 V341.2 M516 317.6 V333.3 M517 317.6 V279.5 M518.5 317.6 V292 M519 317.6 V355 M520 317.6 V288.3 M522 317.6 V348.6 M522.5 317.6 V290.1 M523 317.6 V343.6 M523.5 317.6 V269.2 M525.5 317.6 V292.6 M526 317.6 V286.1 M527 317.6 V274.2 M528 317.6 V286.5 M529 317.6 V283.1 M530.5 317.6 V294.8 M531.5 317.6 V286.9 M533 317.6 V350.9 M534 317.6 V285.2 M534.5 317.6 V349.8 M535 317.6 V348.2 M535.5 317.6 V289.4 M537 317.6 V343.9 M538.5 317.6 V275.6 M539 317.6 V335.8 M539.5 317.6 V277 M540 317.6 V351.4 M540.5 317.6 V295.2 M566.5 317.6 V333.3 M577.5 317.6 V301.8 M580 317.6 V342.3 M583 317.6 V348.2 M584.5 317.6 V273.3 M585.5 317.6 V269 M587 317.6 V283.4 M589 317.6 V351.6 M592 317.6 V333.4 M592.5 317.6 V349.5 M594 317.6 V271.8 M594.5 317.6 V333.8 M595.5 317.6 V269.5 M597 317.6 V269.6 M597.5 317.6 V341.4 M598 317.6 V339.3 M603 317.6 V268.8 M604 317.6 V282.7 M604.5 317.6 V268.9 M606 317.6 V355.1 M607 317.6 V280.8 M609 317.6 V291.7 M610.5 317.6 V276.2 M611 317.6 V347.2 M612 317.6 V352.7 M613 317.6 V278.4 M613.5 317.6 V298.4 M617 317.6 V283.8 M618 317.6 V271.4 M640 317.6 V347.9 M642.5 317.6 V345.8 M651 317.6 V290.1 M659 317.6 V284.5 M662 317.6 V298.8 M663.5 317.6 V337.9 M664.5 317.6 V293.4 M671.5 317.6 V287.8" fill="none" stroke="#000" stroke-width="0.75"/>
<path d="M360.5 400.3 L361 400.4 L361.5 401.3 L362 401.3 L362.5 400.4 L363 400.1 L363.5 401.1 L364 401.1 L364.5 400.3 L365 400.7 L365.5 400.8 L366 400.9 L366.5 401.3 L367 400.7 L367.5 400.9 L368 400.8 L368.5 400.5 L369 400.3 L369.5 400.4 L370 400.2 L370.5 401.4 L371 400.3 L371.5 400.5 L372 400 L372.5 399.9 L373 401.4 L373.5 400 L374 401 L374.5 400.4 L375 400.1 L375.5 400 L376 399.8 L376.5 400.3 L377 399.9 L377.5 400.5 L378 401 L378.5 401.1 L379 400.5 L379.5 400.1 L380 400.6 L380.5 400.2 L381 401.1 L381.5 399.7 L382 400.5 L382.5 400 L383 400.1 L383.5 400 L384 400.7 L384.5 401.1 L385 400.6 L385.5 400.8 L386 400.6 L386.5 399.6 L387 400.8 L387.5 400 L388 401 L388.5 400.3 L389 400.7 L389.5 400.9 L390 400.6 L390.5 399.7 L391 400.3 L391.5 400.4 L392 399.9 L392.5 400.4 L393 401.1 L393.5 401 L394 400 L394.5 400.5 L395 400.9 L395.5 399.6 L396 400.8 L396.5 399.9 L397 400.7 L397.5 400 L398 400.3 L398.5 401.2 L399 400 L399.5 400.7 L400 400.5 L400.5 400 L401 399.5 L401.5 400.4 L402 400.1 L402.5 400.4 L403 400.1 L403.5 400.9 L404 399.5 L404.5 400.9 L405 400 L405.5 401.1 L406 401 L406.5 399.7 L407 399.9 L407.5 401 L408 400.7 L408.5 401 L409 399.6 L409.5 399.7 L410 399.8 L410.5 399.9 L411 400 L411.5 401.1 L412 401 L412.5 400.6 L413 400.1 L413.5 399.7 L414 400.4 L414.5 400.7 L415 400 L415.5 399.5 L416 400.3 L416.5 400.1 L417 400.6 L417.5 399.8 L418 400.8 L418.5 399.9 L419 400.7 L419.5 399.9 L420 400.2 L420.5 399.6 L421 400.1 L421.5 399.5 L422 400.3 L422.5 401 L423 399.4 L423.5 399.7 L424 399.6 L424.5 399.6 L425 400.8 L425.5 399.5 L426 400.9 L426.5 400.5 L427 400.8 L427.5 400.2 L428 400.7 L428.5 400.7 L429 400 L429.5 400.7 L430 400.2 L430.5 399.8 L431 401 L431.5 399.4 L432 399.7 L432.5 399.7 L433 399.7 L433.5 399.3 L434 400.7 L434.5 400.8 L435 399.7 L435.5 400.9 L436 399.9 L436.5 399.9 L437 399.3 L437.5 400.8 L438 400.3 L438.5 399.6 L439 400.3 L439.5 400.4 L440 400.6 L440.5 400.9 L441 400 L441.5 400.8 L442 400.1 L442.5 399.6 L443 400.2 L443.5 399.8 L444 399.2 L444.5 400.6 L445 399.8 L445.5 399.7 L446 400 L446.5 400.3 L447 400.6 L447.5 400.2 L448 399.9 L448.5 399.1 L449 400.4 L449.5 399.3 L450 399.5 L450.5 400.2 L451 399.8 L451.5 400.8 L452 399.1 L452.5 400 L453 400.6 L453.5 399.4 L454 399.3 L454.5 399.5 L455 399.1 L455.5 400.3 L456 399.8 L456.5 400 L457 399.7 L457.5 400.3 L458 399.6 L458.5 400 L459 400.1 L459.5 399.5 L460 400.3 L460.5 400.2 L461 399 L461.5 400.1 L462 400.2 L462.5 399 L463 399.1 L463.5 399.1 L464 400.6 L464.5 399.3 L465 400.4 L465.5 399.6 L466 399.2 L466.5 399.4 L467 400.7 L467.5 399.7 L468 400.4 L468.5 399.2 L469 400.3 L469.5 400.4 L470 400.1 L470.5 399.7 L471 399.1 L471.5 400.4 L472 399.2 L472.5 399.9 L473 398.9 L473.5 399.5 L474 400.3 L474.5 399.8 L475 399.3 L475.5 399.2 L476 399.8 L476.5 400 L477 399.3 L477.5 400.5 L478 399.4 L478.5 399.9 L479 399.4 L479.5 400.5 L480 400.2 L480.5 400.1 L481 400.1 L481.5 398.9 L482 399.1 L482.5 400.5 L483 399.6 L483.5 398.9 L484 399.1 L484.5 400.5 L485 399.2 L485.5 399.2 L486 398.9 L486.5 399.4 L487 399.6 L487.5 399.9 L488 399 L488.5 399.5 L489 399.4 L489.5 398.8 L490 399.6 L490.5 398.6 L491 399 L491.5 398.4 L492 398.9 L492.5 397.5 L493 397.1 L493.5 397.4 L494 396.8 L494.5 396.6 L495 397.2 L495.5 396.7 L496 398.1 L496.5 396.9 L497 395.7 L497.5 396.1 L498 395.4 L498.5 397 L499 397.3 L499.5 397.5 L500 397.5 L500.5 395.7 L501 395.3 L501.5 396.7 L502 394.3 L502.5 396.1 L503 396.1 L503.5 394.6 L504 396.5 L504.5 395.1 L505 394.3 L505.5 394.6 L506 395.6 L506.5 393.7 L507 394.4 L507.5 394.3 L508 394.9 L508.5 392.9 L509 395.8 L509.5 395.2 L510 393.6 L510.5 394.9 L511 393.4 L511.5 393.4 L512 394.4 L512.5 392.9 L513 393.4 L513.5 393.4 L514 393.8 L514.5 393.7 L515 392.4 L515.5 392.7 L516 394.6 L516.5 392.4 L517 393.3 L517.5 393.7 L518 393.4 L518.5 393.3 L519 393.5 L519.5 391.8 L520 392.5 L520.5 394.8 L521 394.2 L521.5 394 L522 392 L522.5 393.5 L523 393.3 L523.5 392.3 L524 392.8 L524.5 394.8 L525 394.8 L525.5 393.7 L526 394.1 L526.5 395.8 L527 394.1 L527.5 392.9 L528 393.8 L528.5 395.6 L529 393.9 L529.5 395.6 L530 393.1 L530.5 394.6 L531 393.6 L531.5 394 L532 393.5 L532.5 394.9 L533 395.1 L533.5 396.4 L534 394.6 L534.5 396 L535 396 L535.5 395.2 L536 395.1 L536.5 396.8 L537 395.7 L537.5 397.3 L538 397.3 L538.5 396 L539 395.7 L539.5 396.6 L540 396.2 L540.5 395.8 L541 396.7 L541.5 395.9 L542 397.1 L542.5 396.3 L543 396.9 L543.5 397 L544 397.5 L544.5 396.9 L545 397.4 L545.5 396.9 L546 396.9 L546.5 397.4 L547 398.1 L547.5 396.8 L548 397.6 L548.5 398.4 L549 397.1 L549.5 398.5 L550 399 L550.5 397 L551 398.5 L551.5 398.3 L552 398 L552.5 398.9 L553 398 L553.5 398.3 L554 399.1 L554.5 398.4 L555 397.7 L555.5 397.1 L556 397.9 L556.5 397.1 L557 397.9 L557.5 398.4 L558 397.9 L558.5 397.9 L559 397.5 L559.5 398.3 L560 397.5 L560.5 398.9 L561 398.7 L561.5 398.4 L562 398.7 L562.5 398.6 L563 398.5 L563.5 397.6 L564 398.2 L564.5 398.8 L565 399.1 L565.5 397.3 L566 397.7 L566.5 397.7 L567 399.1 L567.5 399.2 L568 398.5 L568.5 399.2 L569 398.8 L569.5 397 L570 398.2 L570.5 397.5 L571 397.2 L571.5 398.1 L572 397.4 L572.5 397.9 L573 398.2 L573.5 397.4 L574 398.8 L574.5 398.6 L575 397.9 L575.5 398.6 L576 398.9 L576.5 397.9 L577 397.6 L577.5 398.3 L578 398.2 L578.5 397.8 L579 398.5 L579.5 398.4 L580 398.7 L580.5 397.5 L581 398 L581.5 397.3 L582 397.9 L582.5 397.2 L583 397.6 L583.5 398 L584 397.6 L584.5 397.5 L585 398.7 L585.5 398 L586 398.7 L586.5 397.3 L587 397.8 L587.5 397.1 L588 398.2 L588.5 397 L589 398.9 L589.5 398.8 L590 398.3 L590.5 398.5 L591 397.9 L591.5 398.4 L592 397.3 L592.5 397.1 L593 397.1 L593.5 397.1 L594 398.7 L594.5 398.5 L595 396.9 L595.5 396.8 L596 396.7 L596.5 396.8 L597 397.7 L597.5 398.3 L598 398.9 L598.5 397.7 L599 398.8 L599.5 397.6 L600 398.6 L600.5 398.5 L601 398.3 L601.5 397.7 L602 398.3 L602.5 397.8 L603 396.5 L603.5 397.7 L604 396.6 L604.5 397.7 L605 398.2 L605.5 397.7 L606 396.4 L606.5 397 L607 397.6 L607.5 397.9 L608 396.8 L608.5 397.4 L609 396.3 L609.5 397.9 L610 395.9 L610.5 396.3 L611 396.2 L611.5 396.8 L612 396.4 L612.5 397.6 L613 396.7 L613.5 396.4 L614 397 L614.5 396.6 L615 395.5 L615.5 396.8 L616 397.1 L616.5 396.7 L617 395.5 L617.5 397.4 L618 396.6 L618.5 395.9 L619 396.9 L619.5 396.3 L620 395.2 L620.5 396.8 L621 396.4 L621.5 397.5 L622 395.9 L622.5 397.3 L623 397.3 L623.5 395.8 L624 396 L624.5 395.4 L625 397 L625.5 397.5 L626 395.2 L626.5 395.2 L627 396.5 L627.5 397.1 L628 395.7 L628.5 396 L629 396.1 L629.5 397.3 L630 397.1 L630.5 396.5 L631 396.5 L631.5 395.1 L632 397.1 L632.5 395.3 L633 397.1 L633.5 395.9 L634 395 L634.5 397.2 L635 395 L635.5 395.4 L636 395.4 L636.5 396 L637 397.2 L637.5 395 L638 394.9 L638.5 397.1 L639 395.9 L639.5 396.7 L640 395.1 L640.5 396.6 L641 396.2 L641.5 395.2 L642 396.4 L642.5 397.1 L643 396.5 L643.5 396.4 L644 397 L644.5 394.9 L645 396.2 L645.5 396.4 L646 395.4 L646.5 396.4 L647 395.6 L647.5 395.2 L648 395.6 L648.5 397.1 L649 394.5 L649.5 394.5 L650 395.9 L650.5 396 L651 395.4 L651.5 396.3 L652 396.5 L652.5 396.6 L653 397.2 L653.5 395.1 L654 397.3 L654.5 396.8 L655 395.4 L655.5 395.6 L656 395.4 L656.5 397.7 L657 396.9 L657.5 396.6 L658 396.2 L658.5 397.1 L659 396.8 L659.5 395.5 L660 397.1 L660.5 395.9 L661 396.7 L661.5 395.7 L662 396.3 L662.5 398 L663 396.5 L663.5 396.7 L664 396.2 L664.5 397.2 L665 398 L665.5 396.1 L666 398 L666.5 397.7 L667 397.7 L667.5 397.5 L668 397.5 L668.5 397.4 L669 397.2 L669.5 396.4 L670 396.2 L670.5 397.4 L671 397.6 L671.5 397.9 L672 396.8 L672.5 396.4 L673 397.2 L673.5 396.5 L674 397.8 L674.5 397 L675 398.3 L675.5 397.4 L676 397.6 L676.5 397.3 L677 397.7 L677.5 397.2 L678 397.6 L678.5 398 L679 398.1 L679 416.5 L678.5 417.6 L678 416.4 L677.5 415.8 L677 415.7 L676.5 417.3 L676 415.7 L675.5 417.2 L675 415.8 L674.5 417 L674 417.1 L673.5 416.5 L673 417.6 L672.5 416.3 L672 417.2 L671.5 415.9 L671 417.7 L670.5 415.8 L670 416.2 L669.5 416.7 L669 417.3 L668.5 417.5 L668 417.1 L667.5 417.3 L667 415.8 L666.5 417.6 L666 416.7 L665.5 417.1 L665 415.9 L664.5 417.5 L664 416.9 L663.5 416.9 L663 417.8 L662.5 416.1 L662 415.9 L661.5 417.4 L661 417.7 L660.5 416.6 L660 417.8 L659.5 416.2 L659 417.5 L658.5 418.3 L658 418.5 L657.5 416.8 L657 418.2 L656.5 417.8 L656 417.2 L655.5 417.4 L655 418.5 L654.5 417.7 L654 418.8 L653.5 418.2 L653 418.7 L652.5 418.2 L652 417.5 L651.5 418 L651 418.7 L650.5 417 L650 419.2 L649.5 417.8 L649 418.4 L648.5 417.8 L648 417.5 L647.5 416.9 L647 419.4 L646.5 418.9 L646 417.7 L645.5 417.8 L645 417.6 L644.5 418.1 L644 417.4 L643.5 416.9 L643 417 L642.5 417 L642 417.1 L641.5 418.6 L641 418.5 L640.5 416.8 L640 418.8 L639.5 417.9 L639 417.7 L638.5 419.2 L638 417.6 L637.5 416.9 L637 417.3 L636.5 417.8 L636 418.4 L635.5 416.6 L635 419.2 L634.5 418 L634 417 L633.5 418.4 L633 418.2 L632.5 419.1 L632 419 L631.5 417.2 L631 418 L630.5 417.6 L630 418.6 L629.5 418.3 L629 417.2 L628.5 417 L628 417.2 L627.5 418.8 L627 417.7 L626.5 417.3 L626 416.8 L625.5 419 L625 417.6 L624.5 418.1 L624 418 L623.5 418.7 L623 416.4 L622.5 417.9 L622 418 L621.5 418.5 L621 418 L620.5 416.4 L620 418.8 L619.5 417.5 L619 416.3 L618.5 417.1 L618 416.6 L617.5 417 L617 416.7 L616.5 416.5 L616 418.1 L615.5 417.4 L615 417 L614.5 418.2 L614 417.7 L613.5 417.1 L613 417.9 L612.5 417.9 L612 416.9 L611.5 417.1 L611 417.3 L610.5 416.5 L610 416.3 L609.5 415.9 L609 416.6 L608.5 417.1 L608 416.7 L607.5 417.6 L607 415.9 L606.5 416.6 L606 416.3 L605.5 417.2 L605 415.4 L604.5 416.2 L604 415.4 L603.5 416.8 L603 417.6 L602.5 416.6 L602 415.4 L601.5 415.5 L601 417.2 L600.5 417.3 L600 417.4 L599.5 416.3 L599 415.5 L598.5 416.8 L598 416.9 L597.5 415.9 L597 416.3 L596.5 416.3 L596 416.7 L595.5 415.5 L595 415.1 L594.5 416.9 L594 416 L593.5 416.7 L593 416.2 L592.5 415.3 L592 416.8 L591.5 417.1 L591 415.8 L590.5 417 L590 416.2 L589.5 416 L589 415.8 L588.5 415.3 L588 415.9 L587.5 415.2 L587 416.4 L586.5 416.7 L586 415.3 L585.5 416.1 L585 415.7 L584.5 415.6 L584 416.5 L583.5 415.8 L583 416.4 L582.5 416.8 L582 417 L581.5 416.6 L581 416.3 L580.5 415.1 L580 416.6 L579.5 414.9 L579 415.2 L578.5 416.2 L578 415.4 L577.5 415.8 L577 416.3 L576.5 414.8 L576 414.9 L575.5 416.3 L575 415.7 L574.5 416.4 L574 415.4 L573.5 415.9 L573 415.4 L572.5 414.9 L572 415 L571.5 414.9 L571 416.8 L570.5 416.9 L570 415.5 L569.5 415.5 L569 415.4 L568.5 416.2 L568 415.9 L567.5 416.4 L567 415.7 L566.5 415.7 L566 415.2 L565.5 416.9 L565 414.9 L564.5 415.8 L564 415.3 L563.5 416.1 L563 415.7 L562.5 416.2 L562 415.6 L561.5 415.4 L561 415.6 L560.5 415.2 L560 415.2 L559.5 416.7 L559 415.6 L558.5 416.2 L558 415.9 L557.5 416.4 L557 415.4 L556.5 414.8 L556 415.2 L555.5 416.9 L555 415.8 L554.5 416.8 L554 415 L553.5 415.4 L553 415.2 L552.5 415.2 L552 416.6 L551.5 417.2 L551 415.6 L550.5 417 L550 415.2 L549.5 417.2 L549 415.4 L548.5 416.3 L548 417.3 L547.5 415.4 L547 416.9 L546.5 416.3 L546 416.5 L545.5 416.9 L545 417.4 L544.5 416.3 L544 416.9 L543.5 416.9 L543 416.7 L542.5 416.8 L542 416.2 L541.5 416.6 L541 416.6 L540.5 417.5 L540 418.2 L539.5 418.3 L539 416.7 L538.5 417.1 L538 418 L537.5 417.1 L537 418.4 L536.5 418.4 L536 417.7 L535.5 417.8 L535 419.9 L534.5 419.4 L534 418.6 L533.5 419.1 L533 418.9 L532.5 418.3 L532 420.1 L531.5 418.6 L531 420.4 L530.5 418.7 L530 418.4 L529.5 418.8 L529 418.7 L528.5 420.2 L528 419.6 L527.5 419.4 L527 420.8 L526.5 421.3 L526 419.1 L525.5 421.3 L525 421.5 L524.5 419.5 L524 420.5 L523.5 420 L523 419.5 L522.5 422 L522 420.7 L521.5 421.5 L521 420.7 L520.5 422 L520 419.5 L519.5 420.4 L519 421.2 L518.5 422.1 L518 420.5 L517.5 421 L517 420 L516.5 419.1 L516 418.9 L515.5 418.8 L515 418.6 L514.5 418.5 L514 421 L513.5 419.6 L513 418.3 L512.5 421.5 L512 418.9 L511.5 418.8 L511 419 L510.5 419.2 L510 419.8 L509.5 421.2 L509 418.7 L508.5 418.4 L508 420.6 L507.5 420.5 L507 420 L506.5 420.4 L506 420.5 L505.5 420.1 L505 419.2 L504.5 419.3 L504 417.6 L503.5 418.5 L503 419.2 L502.5 420 L502 419.6 L501.5 419 L501 417.1 L500.5 417.2 L500 419.2 L499.5 418.9 L499 416.8 L498.5 418.1 L498 416.6 L497.5 418.4 L497 417.5 L496.5 416.2 L496 416.6 L495.5 415.8 L495 417.2 L494.5 416.3 L494 415.7 L493.5 416.7 L493 414.9 L492.5 416.1 L492 414.8 L491.5 415.9 L491 415.4 L490.5 415.5 L490 414.2 L489.5 415.3 L489 414.2 L488.5 414.5 L488 415.8 L487.5 414.5 L487 415.4 L486.5 413.6 L486 414.7 L485.5 414.3 L485 414.7 L484.5 413.6 L484 414.5 L483.5 414.7 L483 414.4 L482.5 413.4 L482 413.8 L481.5 414.2 L481 413.7 L480.5 413.4 L480 413.4 L479.5 414.8 L479 414.1 L478.5 414.3 L478 414.5 L477.5 414 L477 414.4 L476.5 415 L476 413.3 L475.5 415.1 L475 413.5 L474.5 414.5 L474 414.2 L473.5 414.1 L473 414.5 L472.5 413.6 L472 414.8 L471.5 414.6 L471 413.5 L470.5 414.4 L470 414.6 L469.5 414.2 L469 414.8 L468.5 414.7 L468 414.3 L467.5 414.6 L467 414.5 L466.5 413.4 L466 413.3 L465.5 414.8 L465 413.9 L464.5 414.4 L464 413.5 L463.5 413.3 L463 413.3 L462.5 414.6 L462 413.3 L461.5 413.4 L461 414.6 L460.5 413.5 L460 414.4 L459.5 414.6 L459 414.9 L458.5 414.8 L458 413.6 L457.5 414.3 L457 414.3 L456.5 413.5 L456 414.6 L455.5 413.8 L455 413.5 L454.5 413.6 L454 414.3 L453.5 413.4 L453 414.1 L452.5 414.2 L452 414.8 L451.5 413.9 L451 414.5 L450.5 413.7 L450 414.5 L449.5 414 L449 414.4 L448.5 414.1 L448 413.7 L447.5 414.4 L447 413.7 L446.5 413.5 L446 413.5 L445.5 413.3 L445 413.7 L444.5 414.4 L444 413.8 L443.5 413.4 L443 413.9 L442.5 414.5 L442 414.7 L441.5 413.5 L441 413.7 L440.5 414.4 L440 413.3 L439.5 413.8 L439 414.2 L438.5 414.7 L438 413.6 L437.5 414.6 L437 413.6 L436.5 413.1 L436 413.5 L435.5 413.4 L435 413.7 L434.5 414.4 L434 413 L433.5 413.9 L433 413.2 L432.5 414 L432 413 L431.5 413.5 L431 413.4 L430.5 413.1 L430 414.7 L429.5 413.9 L429 413.7 L428.5 414.1 L428 414.6 L427.5 414.3 L427 414.6 L426.5 413.1 L426 413.4 L425.5 414.2 L425 413.9 L424.5 413.2 L424 413.2 L423.5 413.5 L423 412.9 L422.5 414 L422 414 L421.5 414.1 L421 413.3 L420.5 413.5 L420 414.4 L419.5 413.2 L419 413.7 L418.5 413.1 L418 414.3 L417.5 413.5 L417 412.9 L416.5 413 L416 413 L415.5 413.1 L415 413.5 L414.5 413.8 L414 413.3 L413.5 414 L413 414.1 L412.5 413 L412 413.9 L411.5 414.4 L411 413.6 L410.5 413.7 L410 414 L409.5 414.2 L409 413.6 L408.5 414.2 L408 414.4 L407.5 414.3 L407 412.9 L406.5 414.5 L406 413.6 L405.5 414.4 L405 414.5 L404.5 413.1 L404 412.8 L403.5 413.8 L403 414.5 L402.5 413.8 L402 413.4 L401.5 413.6 L401 413.1 L400.5 414.1 L400 414.2 L399.5 412.8 L399 413.7 L398.5 414.2 L398 413.5 L397.5 413.7 L397 413.8 L396.5 412.9 L396 413.9 L395.5 413.2 L395 412.9 L394.5 412.8 L394 413.3 L393.5 413 L393 413.2 L392.5 414.4 L392 413.7 L391.5 413.9 L391 413.9 L390.5 413.3 L390 412.8 L389.5 414.3 L389 413.3 L388.5 413.1 L388 412.8 L387.5 414.3 L387 414 L386.5 413 L386 414.3 L385.5 413.8 L385 413.5 L384.5 413.2 L384 413.2 L383.5 414.3 L383 414 L382.5 413.1 L382 414.3 L381.5 413 L381 413.8 L380.5 413.1 L380 413 L379.5 413.9 L379 413.3 L378.5 414 L378 413.2 L377.5 413.2 L377 412.8 L376.5 412.8 L376 412.8 L375.5 412.9 L375 413.9 L374.5 412.8 L374 413.8 L373.5 413.2 L373 413.6 L372.5 413 L372 414.1 L371.5 414.2 L371 414.1 L370.5 412.8 L370 414.1 L369.5 413.7 L369 413.5 L368.5 412.9 L368 413 L367.5 414.1 L367 413.9 L366.5 413.1 L366 412.7 L365.5 413.4 L365 413.6 L364.5 413.5 L364 414 L363.5 413.4 L363 413.6 L362.5 413.8 L362 412.9 L361.5 413.2 L361 413.8 L360.5 412.9Z" fill="#000"/>
<path d="M361.1 407 V400.2 M361.7 407 V400.1 M361.6 407 V415.9 M361.9 407 V414 M363.1 407 V418.1 M363.3 407 V413.8 M365 407 V398.4 M364.9 407 V414 M365.7 407 V397.2 M366.1 407 V399.5 M366 407 V413.9 M367.6 407 V400.1 M368.1 407 V399.5 M368.6 407 V400.1 M368.5 407 V415.4 M368.9 407 V415.1 M369.4 407 V416 M370 407 V399.2 M370.4 407 V414.7 M371.6 407 V399.2 M371.6 407 V414.7 M372 407 V417 M373.6 407 V400.2 M374.1 407 V397.4 M374.7 407 V399.6 M375.1 407 V414.9 M375.6 407 V414.3 M375.8 407 V398.4 M375.8 407 V416 M376.4 407 V416.6 M377.7 407 V399.8 M377.5 407 V414.4 M378 407 V399.8 M377.9 407 V414.6 M378.7 407 V414 M379.5 407 V399.6 M379.5 407 V415.3 M380 407 V399.4 M380.8 407 V416.6 M381.5 407 V398.8 M381.5 407 V415.9 M382.3 407 V413.7 M383 407 V399.2 M382.9 407 V414.4 M383.7 407 V414.4 M383.9 407 V397.7 M384.5 407 V416.7 M385 407 V415.1 M385.5 407 V399.9 M386.1 407 V416.5 M386.4 407 V415.7 M387 407 V399.6 M387.3 407 V415.6 M387.9 407 V414.5 M388.5 407 V397.1 M388.7 407 V414.6 M389 407 V400.3 M389 407 V414 M389.6 407 V416.8 M390.7 407 V413.7 M391 407 V400 M392.3 407 V399.5 M393.1 407 V413.8 M393.4 407 V400 M393.7 407 V415.7 M394.1 407 V399.4 M393.9 407 V414.7 M394.7 407 V398.1 M394.8 407 V397.4 M394.8 407 V413.8 M395.4 407 V414.4 M396 407 V398.7 M396.1 407 V413.9 M397.4 407 V399.4 M398.5 407 V399.1 M399.1 407 V397.8 M399.1 407 V416.8 M399.4 407 V399.5 M399.6 407 V413.9 M399.9 407 V415.7 M400.7 407 V399.9 M400.5 407 V414.4 M401.1 407 V399 M401 407 V415.4 M401.7 407 V417 M402 407 V414.5 M402.6 407 V398.7 M402.4 407 V414.9 M403.9 407 V399.7 M404 407 V415.4 M404.5 407 V415.1 M405.1 407 V399.6 M404.9 407 V414.4 M405.7 407 V416.6 M406.5 407 V399.6 M407.1 407 V399.9 M406.9 407 V414.5 M407.7 407 V414.2 M408.7 407 V399.1 M408.9 407 V396.5 M409.1 407 V416.3 M409.4 407 V414.9 M410 407 V398.7 M410.4 407 V398.8 M411.4 407 V399.2 M411.7 407 V415.1 M411.8 407 V396.6 M412.1 407 V415.8 M412.9 407 V416.1 M414.1 407 V397.9 M414.4 407 V398.2 M414.9 407 V397.1 M415.8 407 V399.2 M416.2 407 V417.5 M416.4 407 V399.3 M417.6 407 V415.7 M417.8 407 V416.9 M418.3 407 V399.8 M419.1 407 V415.1 M419.7 407 V399.6 M419.9 407 V399.1 M420 407 V414.6 M420.6 407 V396.7 M420.6 407 V414 M421.5 407 V399.8 M421.9 407 V414.7 M422.7 407 V400 M422.6 407 V414.2 M423.4 407 V414.6 M424.1 407 V414.8 M424.6 407 V396.4 M425.7 407 V417.8 M426.2 407 V396.8 M426.5 407 V414.8 M427.1 407 V419.3 M427.9 407 V399.4 M428.5 407 V397 M428.4 407 V416 M429 407 V396.7 M429.2 407 V417.3 M429.6 407 V414.8 M430 407 V414.6 M430.5 407 V416.9 M430.8 407 V396.4 M430.9 407 V415.9 M431.6 407 V417.5 M432.7 407 V399 M433 407 V396.2 M432.8 407 V415.1 M434.5 407 V397.2 M435.1 407 V398.2 M434.9 407 V414.1 M435.6 407 V396.3 M435.7 407 V415 M436 407 V396.8 M436.1 407 V417.1 M436.7 407 V395 M436.9 407 V398.9 M437.7 407 V398 M437.3 407 V415.8 M437.9 407 V399.4 M438.5 407 V398.4 M438.5 407 V414.7 M439.2 407 V420.8 M441 407 V396.5 M440.9 407 V414.3 M441.3 407 V399.5 M441.9 407 V417 M442.5 407 V416.2 M443.1 407 V399.8 M444.1 407 V398 M444.1 407 V414.9 M444.6 407 V399.7 M444.7 407 V416.8 M445.7 407 V395.8 M445.5 407 V415.4 M446.1 407 V398.2 M446.6 407 V416.4 M447 407 V417.3 M447.7 407 V399.8 M447.9 407 V415.1 M448.7 407 V398.9 M448.4 407 V415.6 M449.4 407 V398.2 M449.7 407 V418.3 M450.3 407 V415.3 M451.1 407 V394.7 M451.1 407 V416.3 M451.3 407 V396.5 M451.9 407 V398.6 M452.6 407 V399.3 M452.4 407 V416 M453.4 407 V397.6 M453.5 407 V416.1 M454 407 V399.2 M455.1 407 V396.9 M455.7 407 V415.5 M456.1 407 V399.5 M455.9 407 V418.8 M456.4 407 V417.4 M457.3 407 V395.7 M457.6 407 V415.3 M458.4 407 V419.3 M460.9 407 V419.3 M461.4 407 V415.6 M462.1 407 V398.2 M463.6 407 V396.1 M463.6 407 V415.3 M464 407 V398.1 M465.1 407 V395.5 M465.3 407 V417.1 M465.8 407 V416.7 M466.7 407 V415 M466.9 407 V414.4 M467.5 407 V399.6 M467.4 407 V418.2 M468.1 407 V415.3 M468.7 407 V399.4 M468.4 407 V415.3 M469.6 407 V398.4 M470.1 407 V398.2 M471.1 407 V397.5 M470.9 407 V415.7 M471.5 407 V414.5 M472.5 407 V398 M472.9 407 V398.2 M473.3 407 V399.1 M473.3 407 V416.5 M474.4 407 V394.5 M475.2 407 V398.6 M475 407 V415 M475.5 407 V416.3 M476.1 407 V399.2 M476.2 407 V415.2 M476.6 407 V399.5 M476.3 407 V416.1 M477 407 V418.2 M477.5 407 V399.2 M478.8 407 V415.6 M480.4 407 V393.8 M480.6 407 V416.4 M480.8 407 V397 M481.4 407 V398.5 M481.7 407 V415 M481.8 407 V398.9 M482.6 407 V414.7 M483.2 407 V415.6 M483.9 407 V418.1 M484.5 407 V417.5 M485.1 407 V398 M485.5 407 V418.8 M486 407 V398.1 M487.8 407 V416.9 M488.4 407 V398.7 M488.6 407 V416.1 M491.2 407 V416.8 M492.1 407 V395.7 M492.5 407 V395.2 M493.1 407 V397.3 M493 407 V418.6 M493.9 407 V417.6 M494.6 407 V391.9 M494.4 407 V416.7 M494.9 407 V390.7 M495.2 407 V417 M496.2 407 V418.1 M497 407 V395.7 M497.6 407 V418.4 M497.8 407 V393.8 M499 407 V418 M499.6 407 V391.2 M499.3 407 V418.3 M499.9 407 V422.4 M500.6 407 V395.1 M500.5 407 V420.3 M501.4 407 V422.6 M502 407 V390.8 M502.6 407 V420.3 M502.9 407 V420.9 M503.4 407 V392.4 M503.9 407 V429.3 M504.4 407 V422.9 M505.1 407 V387.3 M504.9 407 V423.3 M505.6 407 V392.1 M505.7 407 V421.3 M506 407 V392.2 M506.4 407 V394.3 M507.1 407 V424.2 M507.4 407 V420.7 M507.8 407 V391 M508 407 V421.7 M508.6 407 V391.6 M508.4 407 V420.5 M508.8 407 V393.8 M508.9 407 V425.5 M509.6 407 V392.2 M509.5 407 V420.5 M510.2 407 V393 M510.5 407 V384.9 M510.5 407 V426.1 M510.8 407 V391.6 M511.7 407 V423.6 M512 407 V390.4 M512.5 407 V423.9 M513.2 407 V424.9 M513.5 407 V388.6 M514 407 V386.1 M515.1 407 V390.9 M515 407 V421.1 M515.7 407 V428.5 M515.9 407 V431 M516.4 407 V382.3 M516.7 407 V422.9 M518.2 407 V387.7 M518.6 407 V428 M519.1 407 V388.3 M520.1 407 V387.1 M520.4 407 V425.1 M521 407 V421.2 M521.5 407 V421.1 M521.8 407 V393.2 M521.9 407 V422.4 M522.4 407 V389.9 M522.9 407 V392.2 M524.1 407 V384.4 M524.1 407 V426.3 M524.6 407 V392.1 M524.6 407 V421.7 M525.1 407 V385.5 M525.7 407 V420.8 M526.1 407 V388.8 M526.5 407 V393.8 M527.2 407 V391.8 M527.1 407 V422.9 M527.3 407 V424.3 M527.9 407 V392.6 M528.5 407 V387.9 M529 407 V423 M529.4 407 V393.1 M529.4 407 V421.5 M530.1 407 V391.7 M530.1 407 V422.8 M531.6 407 V386.4 M531.7 407 V420.7 M531.9 407 V394.5 M531.9 407 V419.9 M532.7 407 V392.9 M533.2 407 V391.1 M533.8 407 V394.4 M534 407 V420.5 M534.4 407 V422.8 M535.2 407 V426.6 M537 407 V394.3 M537.1 407 V424.1 M538 407 V418.3 M538.8 407 V394.4 M539.6 407 V420.3 M539.9 407 V395.7 M539.9 407 V419.4 M540.4 407 V394.5 M541 407 V395.3 M541.6 407 V396.5 M541.3 407 V419 M542.4 407 V396.8 M543.4 407 V417.3 M544.3 407 V395.3 M544.6 407 V419.1 M545.1 407 V416.8 M545.3 407 V419.4 M547 407 V395.5 M547.6 407 V419.1 M548.2 407 V419.8 M548.5 407 V418.4 M548.9 407 V394.9 M549.5 407 V394.4 M549.3 407 V417.2 M550.1 407 V397.2 M550.5 407 V397.4 M550.9 407 V396.4 M551.1 407 V416.4 M551.3 407 V420.7 M553.1 407 V393.2 M552.9 407 V417.7 M553.4 407 V397.2 M553.5 407 V416.6 M553.8 407 V394.3 M553.8 407 V418.7 M554.7 407 V395.9 M554.6 407 V422.6 M555.1 407 V397 M555.6 407 V395.9 M556.2 407 V396.1 M556 407 V416.2 M556.3 407 V395 M557.1 407 V397.4 M557.1 407 V416.1 M557.5 407 V396.7 M557.9 407 V417.3 M558.4 407 V396.9 M559.1 407 V394.9 M558.8 407 V418.2 M559.5 407 V396 M560.4 407 V419.1 M561.4 407 V394.3 M561.5 407 V419 M561.8 407 V417 M562.4 407 V393.9 M562.8 407 V418.6 M563.6 407 V418.3 M563.8 407 V416.1 M564.5 407 V416.2 M565 407 V419.6 M565.5 407 V394.7 M565.4 407 V416.5 M566.6 407 V397.1 M567.2 407 V397.2 M567.6 407 V394.5 M567.9 407 V419.8 M568.8 407 V394.1 M570.1 407 V418.1 M571.1 407 V393.2 M570.9 407 V420.7 M572.4 407 V417.5 M573.1 407 V394.8 M572.8 407 V417.5 M573.6 407 V418 M573.9 407 V391.6 M574.5 407 V392.2 M575.1 407 V395.1 M575 407 V416.4 M575.4 407 V392.9 M575.7 407 V416.5 M576.1 407 V394.3 M577.3 407 V420.9 M577.9 407 V397.5 M578.1 407 V417.4 M578.5 407 V417.6 M579 407 V416.6 M579.3 407 V396.1 M579.6 407 V416.6 M580.2 407 V395.4 M580.4 407 V395.6 M580.9 407 V397.4 M581 407 V417.1 M581.5 407 V395.9 M581.9 407 V416.6 M582.3 407 V422.7 M583.9 407 V419 M585 407 V418.7 M585.4 407 V416.9 M586.1 407 V395.3 M586.2 407 V420.4 M586.6 407 V395.3 M586.5 407 V417.7 M586.9 407 V397.5 M587.1 407 V419.7 M587.6 407 V396.3 M587.9 407 V421.4 M588.3 407 V397.3 M588.6 407 V417.1 M589.1 407 V392.5 M589 407 V419 M589.4 407 V418.3 M590.7 407 V397.4 M590.5 407 V420.1 M591 407 V419.3 M591.6 407 V394.5 M591.6 407 V419.6 M591.8 407 V395 M591.8 407 V420.6 M592.3 407 V397.1 M592.5 407 V419.2 M593.6 407 V394.9 M593.6 407 V418.3 M593.9 407 V419.4 M594.6 407 V418.6 M595.6 407 V418.3 M596.6 407 V416.8 M596.9 407 V417.2 M597.5 407 V394.8 M597.5 407 V420.7 M598.4 407 V393.6 M598.9 407 V417.9 M599.4 407 V396.2 M600.5 407 V394.3 M600.7 407 V416.9 M600.9 407 V416.9 M601.5 407 V395.3 M601.5 407 V418.1 M602.2 407 V392 M602.3 407 V397 M602.4 407 V416.8 M603.3 407 V420.1 M603.8 407 V392.2 M603.9 407 V418.5 M604.4 407 V421.3 M605 407 V396.7 M607.1 407 V392.3 M607.4 407 V393.1 M607.6 407 V419.5 M608.1 407 V393.6 M608.4 407 V419.9 M608.9 407 V396.6 M609.1 407 V419.2 M609.4 407 V396.5 M609.6 407 V424.5 M610 407 V389.2 M610.6 407 V391.9 M610.5 407 V419.3 M611 407 V418.6 M611.5 407 V388.4 M611.6 407 V418.2 M612 407 V419.2 M612.5 407 V391.8 M612.5 407 V418.6 M613.2 407 V393.7 M613.4 407 V394.3 M613.5 407 V420.5 M614.6 407 V395.8 M615.5 407 V395.9 M616 407 V396.3 M616.1 407 V421.1 M616.5 407 V418.5 M616.9 407 V395.3 M617.7 407 V420.8 M618.1 407 V394.9 M618.8 407 V394.5 M618.9 407 V419 M619.4 407 V393.3 M619.4 407 V418.2 M620.1 407 V392.7 M620.1 407 V423.1 M620.4 407 V420.5 M621.4 407 V421.4 M622.1 407 V395.3 M622.4 407 V392.5 M622.4 407 V421.6 M623 407 V419.2 M623.5 407 V392.3 M623.9 407 V421.2 M624.4 407 V418.6 M625.1 407 V388 M625.1 407 V422.5 M625.6 407 V394.7 M625.4 407 V418.7 M626.3 407 V419.2 M626.9 407 V392.1 M627.1 407 V418.2 M627.5 407 V418.5 M628.2 407 V395.5 M628 407 V422.8 M629 407 V418.5 M630.6 407 V390.4 M632.2 407 V393.8 M632.5 407 V395.3 M633.4 407 V420.3 M633.8 407 V391.4 M634.1 407 V422.5 M634.6 407 V422.6 M634.8 407 V394.7 M635.3 407 V392.8 M635.4 407 V425.4 M636.6 407 V421.8 M636.9 407 V393.8 M637.1 407 V428.7 M637.4 407 V423.5 M638.1 407 V418.9 M638.5 407 V421.8 M639.1 407 V392.1 M639.5 407 V393.6 M640.6 407 V394 M641.7 407 V394.5 M641.4 407 V419.1 M642.2 407 V395.1 M641.8 407 V418.4 M643.1 407 V393.9 M643 407 V420.9 M643.6 407 V419.4 M644.1 407 V425.6 M644.5 407 V389.9 M644.4 407 V420.6 M645.7 407 V393.8 M646.1 407 V394.7 M645.9 407 V421.9 M646.5 407 V393.4 M646.5 407 V420.8 M646.9 407 V394 M647.1 407 V419.8 M647.7 407 V393.3 M648.1 407 V423 M648.5 407 V422.3 M649.1 407 V394.4 M649.6 407 V392.5 M650.2 407 V423.2 M651.1 407 V391 M651.6 407 V394.2 M652.1 407 V424 M652.5 407 V394.2 M652.7 407 V419.1 M653.6 407 V393.5 M653.5 407 V420.9 M654.8 407 V393.1 M654.9 407 V421.7 M655.6 407 V393.4 M655.5 407 V420.9 M656 407 V396.1 M656.2 407 V423.4 M656.5 407 V391.4 M657.4 407 V396 M657.5 407 V422.1 M658 407 V396.2 M658.4 407 V388.8 M659.1 407 V423.2 M659.4 407 V395.2 M660.1 407 V395.3 M660.3 407 V422 M660.8 407 V420.3 M662.1 407 V396.2 M662.9 407 V419 M663.3 407 V394.4 M663.8 407 V391 M665.2 407 V395.5 M666.2 407 V394.3 M665.8 407 V419.8 M666.4 407 V396.1 M667 407 V417.7 M667.3 407 V395 M667.6 407 V418.6 M668.5 407 V418.4 M669.1 407 V420.1 M669.5 407 V418.1 M670 407 V393.7 M670.6 407 V418.1 M671 407 V393.8 M670.8 407 V418.5 M671.4 407 V396.4 M671.3 407 V418.4 M672.1 407 V417.2 M672.6 407 V383.2 M672.4 407 V418 M672.9 407 V393.6 M674.7 407 V394.4 M675.3 407 V417.4 M676.4 407 V417.3 M676.9 407 V394 M677.6 407 V395.8 M678.1 407 V393.2 M678.5 407 V390.3 M678.9 407 V418.5" fill="none" stroke="#222" stroke-width="0.45"/>
<path d="M360.5 407 V397.1 M361 407 V417.2 M362 407 V415.2 M362.5 407 V415.9 M363 407 V398.8 M363.5 407 V414.8 M364 407 V416.6 M364.5 407 V415.8 M365 407 V397.2 M365.5 407 V398.7 M366 407 V414.2 M366.5 407 V416.3 M367.5 407 V414.5 M368 407 V397.1 M368.5 407 V414.8 M369 407 V417.2 M369.5 407 V423.4 M370 407 V399.2 M370.5 407 V396 M371 407 V423.6 M371.5 407 V399.6 M372 407 V424.1 M372.5 407 V389.9 M373.5 407 V398.3 M374 407 V415.8 M374.5 407 V417.6 M375 407 V399.5 M375.5 407 V418.8 M376 407 V423.5 M376.5 407 V422.9 M377.5 407 V415.7 M378.5 407 V397.9 M380 407 V418.7 M380.5 407 V421.7 M381 407 V396.8 M381.5 407 V417.6 M382 407 V418.6 M382.5 407 V393.6 M383.5 407 V417.1 M384 407 V414.9 M384.5 407 V396.4 M385 407 V399.7 M385.5 407 V397.5 M386 407 V421.2 M387 407 V415.5 M387.5 407 V422.7 M388 407 V399 M388.5 407 V393.5 M389 407 V414.5 M389.5 407 V394.6 M390.5 407 V396.4 M391 407 V414.9 M391.5 407 V424.7 M392 407 V398.6 M392.5 407 V413.8 M393.5 407 V396.7 M394 407 V417.1 M396 407 V395.1 M397.5 407 V398.3 M398 407 V398.6 M398.5 407 V398 M399 407 V417.5 M400 407 V426.9 M400.5 407 V413.9 M401 407 V396.6 M401.5 407 V415.5 M402 407 V423.1 M403.5 407 V389.6 M404 407 V417.6 M404.5 407 V397.4 M405 407 V390.4 M405.5 407 V392.9 M406 407 V399.7 M406.5 407 V398.4 M407 407 V414.8 M407.5 407 V415.8 M408 407 V414.6 M408.5 407 V421.1 M409 407 V426.6 M409.5 407 V414.3 M410 407 V427.5 M410.5 407 V422.4 M412 407 V395 M412.5 407 V414.1 M413 407 V418.9 M413.5 407 V397.7 M414 407 V414.9 M415 407 V431.5 M415.5 407 V418.4 M416 407 V390.3 M416.5 407 V394.3 M417 407 V419.3 M417.5 407 V421.8 M418 407 V399.6 M418.5 407 V399.1 M419 407 V415.9 M419.5 407 V418.8 M420 407 V420.4 M420.5 407 V414.6 M421 407 V388.7 M421.5 407 V414.9 M422.5 407 V415 M423 407 V415.6 M423.5 407 V397.1 M424 407 V396 M424.5 407 V414.3 M425.5 407 V390.1 M426.5 407 V417.4 M427.5 407 V418.1 M428 407 V417.4 M428.5 407 V397.3 M429.5 407 V415.9 M430 407 V416 M431 407 V380.2 M431.5 407 V418.9 M432 407 V397.7 M432.5 407 V418.2 M433 407 V396.6 M433.5 407 V424.6 M434.5 407 V415.2 M435 407 V379 M435.5 407 V414.4 M436 407 V417 M436.5 407 V417.8 M437 407 V394.9 M437.5 407 V419.3 M438 407 V416.9 M438.5 407 V417 M439.5 407 V391.1 M440 407 V394.9 M440.5 407 V396.5 M441 407 V415 M441.5 407 V394.8 M442 407 V396.4 M442.5 407 V418.2 M443 407 V420.2 M443.5 407 V396.9 M444.5 407 V425 M445 407 V419 M445.5 407 V429.2 M446 407 V416.8 M446.5 407 V394.1 M447 407 V415.4 M447.5 407 V421.6 M448 407 V414.3 M448.5 407 V385.3 M449 407 V397 M449.5 407 V427.2 M450 407 V396.7 M450.5 407 V394.1 M451 407 V418.6 M451.5 407 V396.4 M452 407 V397.8 M452.5 407 V417.5 M453.5 407 V391 M454 407 V426.6 M454.5 407 V428.5 M455 407 V397.1 M455.5 407 V416.4 M456 407 V414.3 M456.5 407 V386.8 M457.5 407 V394.1 M458.5 407 V389.4 M459 407 V398.1 M459.5 407 V420.1 M460 407 V395.9 M460.5 407 V396.2 M461 407 V389.3 M461.5 407 V392.1 M462 407 V423.4 M462.5 407 V420.7 M463 407 V424.3 M463.5 407 V396.9 M464 407 V397.2 M464.5 407 V388.4 M465.5 407 V415.8 M466 407 V427.2 M466.5 407 V417.8 M467 407 V427.4 M467.5 407 V424.2 M468.5 407 V396.3 M469 407 V389.1 M469.5 407 V399.3 M470 407 V416.3 M470.5 407 V399.3 M471 407 V417.5 M471.5 407 V419.6 M472 407 V392.7 M473 407 V393.6 M473.5 407 V421.8 M474 407 V394.3 M474.5 407 V393.7 M475 407 V425.9 M475.5 407 V421.5 M476 407 V417.1 M476.5 407 V398.7 M477 407 V415.2 M478 407 V420.9 M478.5 407 V381 M479 407 V396.8 M479.5 407 V428 M481 407 V397.8 M481.5 407 V393.6 M482 407 V398 M482.5 407 V421.2 M483 407 V385.2 M483.5 407 V427.9 M484 407 V396 M484.5 407 V386 M485 407 V415 M486 407 V415.6 M486.5 407 V387.2 M487 407 V418.3 M487.5 407 V390.9 M488 407 V417 M488.5 407 V383.7 M489 407 V415.7 M489.5 407 V417.4 M490 407 V415.6 M490.5 407 V388.7 M491 407 V390.5 M491.5 407 V418.9 M492 407 V421.6 M492.5 407 V395.5 M493 407 V417.3 M493.5 407 V430.6 M494.5 407 V432.4 M495 407 V384.6 M496 407 V382 M496.5 407 V385.1 M497 407 V432.6 M497.5 407 V426.1 M498 407 V384.3 M498.5 407 V422.7 M499 407 V391.1 M499.5 407 V420 M500 407 V423.2 M500.5 407 V376.5 M501 407 V431.6 M502 407 V429.7 M502.5 407 V372.7 M503 407 V390 M504.5 407 V420.5 M505 407 V390 M505.5 407 V386.5 M506 407 V431.2 M506.5 407 V433.9 M507 407 V392.2 M507.5 407 V387.4 M508 407 V437.4 M509 407 V428.7 M509.5 407 V433.8 M510 407 V389.9 M510.5 407 V444.8 M511 407 V427.8 M511.5 407 V370.8 M512 407 V390.1 M512.5 407 V389.9 M513 407 V428.7 M513.5 407 V388.6 M514 407 V434.7 M514.5 407 V390.8 M515.5 407 V422.1 M516 407 V421.1 M516.5 407 V387.2 M517 407 V381.9 M517.5 407 V446.2 M518 407 V386.1 M518.5 407 V423.6 M519.5 407 V429.3 M520 407 V438 M520.5 407 V392.7 M521 407 V425.7 M521.5 407 V430.9 M522 407 V424.5 M522.5 407 V422.7 M523 407 V384.3 M523.5 407 V429.5 M524 407 V423.1 M524.5 407 V422.1 M525 407 V383.4 M525.5 407 V391.5 M526 407 V389.2 M526.5 407 V431 M527.5 407 V424 M528 407 V425.3 M528.5 407 V437.3 M529.5 407 V390 M530 407 V435.6 M530.5 407 V419.9 M531 407 V385.1 M531.5 407 V387.1 M532 407 V420.1 M532.5 407 V385.5 M533 407 V433.5 M533.5 407 V387.8 M534 407 V420 M534.5 407 V385.1 M535 407 V379.1 M535.5 407 V387.2 M536 407 V383 M536.5 407 V373.8 M537 407 V391.4 M537.5 407 V433 M538 407 V391.7 M538.5 407 V429.6 M539 407 V431 M539.5 407 V392.3 M540 407 V395.3 M540.5 407 V394.7 M541.5 407 V387.8 M542 407 V425.5 M542.5 407 V426.8 M543 407 V395.8 M544.5 407 V388.9 M545.5 407 V394.1 M546 407 V385.7 M547 407 V386.1 M547.5 407 V432.1 M548 407 V430.1 M548.5 407 V395.2 M549 407 V392.9 M549.5 407 V391 M550 407 V417.8 M550.5 407 V440.8 M551.5 407 V394.1 M552 407 V429 M552.5 407 V421.4 M553 407 V397.7 M553.5 407 V432.8 M554 407 V433.8 M555 407 V385.8 M555.5 407 V388.5 M556 407 V388.5 M556.5 407 V419.1 M557.5 407 V420.6 M558 407 V395.3 M558.5 407 V394.4 M559 407 V395.9 M560 407 V426.6 M560.5 407 V418.2 M561 407 V432.5 M561.5 407 V388.1 M562 407 V422.7 M562.5 407 V395.4 M563 407 V426.1 M563.5 407 V377.6 M564.5 407 V395.1 M565.5 407 V421.6 M566.5 407 V389.7 M567 407 V433.3 M567.5 407 V422.9 M568 407 V395.7 M568.5 407 V392 M569 407 V420.1 M569.5 407 V420.9 M570 407 V418.7 M570.5 407 V397.9 M571.5 407 V382 M572 407 V421 M573 407 V423.4 M573.5 407 V418.8 M574 407 V416.4 M574.5 407 V395.2 M575 407 V396.5 M575.5 407 V419.9 M576 407 V393.9 M577 407 V423.1 M577.5 407 V388 M578 407 V427.3 M578.5 407 V419.7 M579.5 407 V425.5 M580 407 V389.8 M582 407 V396.6 M582.5 407 V390.4 M583.5 407 V426.5 M584 407 V394.7 M584.5 407 V422.3 M585 407 V421.1 M586 407 V433.1 M587 407 V426.7 M588 407 V416.8 M588.5 407 V419.6 M589 407 V395.8 M589.5 407 V421.3 M590 407 V393.7 M590.5 407 V395.5 M591 407 V421.9 M591.5 407 V392.4 M592.5 407 V396.1 M593 407 V395.2 M593.5 407 V384.4 M594 407 V426.1 M594.5 407 V386.2 M595 407 V395.3 M595.5 407 V417.8 M596 407 V391.4 M596.5 407 V395.8 M597 407 V432.4 M597.5 407 V392.3 M598.5 407 V427.6 M599 407 V416.6 M600 407 V393.8 M600.5 407 V393.5 M601 407 V396.7 M601.5 407 V389.6 M602 407 V393.9 M603 407 V426.5 M605 407 V392.1 M605.5 407 V395.4 M606 407 V421.1 M606.5 407 V421.5 M607 407 V417.3 M607.5 407 V422.9 M608 407 V393.9 M608.5 407 V419.2 M609 407 V427.3 M609.5 407 V386.2 M610 407 V394.7 M610.5 407 V425.6 M611 407 V379.4 M612 407 V423.7 M612.5 407 V421.6 M613 407 V393.3 M613.5 407 V394.7 M614 407 V395.6 M614.5 407 V437.7 M615.5 407 V376.9 M616 407 V424.4 M616.5 407 V387.5 M617 407 V391.3 M617.5 407 V378.8 M618 407 V430.6 M618.5 407 V424 M619 407 V392.5 M619.5 407 V431.7 M620 407 V435.6 M620.5 407 V418.7 M621 407 V394.8 M621.5 407 V382.6 M622 407 V418.9 M622.5 407 V394.8 M623 407 V425.2 M623.5 407 V419.8 M624 407 V419.4 M625 407 V390 M625.5 407 V382 M626.5 407 V426.2 M627 407 V420.6 M627.5 407 V428.1 M628 407 V426.8 M628.5 407 V421.2 M629 407 V420.7 M629.5 407 V386.7 M630 407 V381.1 M630.5 407 V393 M631 407 V424.4 M631.5 407 V384.3 M632 407 V426.5 M632.5 407 V395.7 M633 407 V441.6 M633.5 407 V423.2 M634 407 V392.1 M634.5 407 V430.5 M635 407 V422.8 M635.5 407 V424.4 M636 407 V389.9 M636.5 407 V424.2 M637 407 V391.9 M638 407 V382.2 M638.5 407 V435 M639 407 V420.8 M639.5 407 V378.7 M640 407 V419 M641 407 V438.6 M641.5 407 V387.7 M642 407 V430.4 M642.5 407 V379.6 M643 407 V394.9 M643.5 407 V377.3 M644 407 V394.3 M645.5 407 V437.3 M646 407 V430.4 M646.5 407 V395.1 M647 407 V420.5 M647.5 407 V383.8 M648 407 V428.1 M649 407 V429.7 M649.5 407 V420.9 M650 407 V421.2 M650.5 407 V420.3 M651 407 V387.2 M651.5 407 V389.4 M652.5 407 V386.3 M653 407 V384.6 M653.5 407 V394.3 M654 407 V387.9 M654.5 407 V422 M655 407 V391.4 M655.5 407 V425 M656 407 V438.7 M656.5 407 V395.8 M657 407 V388.1 M658 407 V418.9 M658.5 407 V395.1 M659 407 V382.6 M659.5 407 V393.9 M660 407 V376.2 M660.5 407 V385.6 M661 407 V389.5 M661.5 407 V378.1 M662 407 V424.8 M662.5 407 V385.4 M663 407 V421.9 M663.5 407 V390.6 M664 407 V418.8 M664.5 407 V429.1 M665 407 V424.5 M665.5 407 V418.2 M666 407 V432.7 M666.5 407 V434.7 M667 407 V419.4 M667.5 407 V392.4 M668 407 V425 M668.5 407 V393.3 M669.5 407 V385 M670 407 V424.4 M670.5 407 V382 M671 407 V424.8 M671.5 407 V396.6 M672 407 V425.4 M672.5 407 V395.9 M673.5 407 V387.1 M674 407 V418.2 M675 407 V434 M676 407 V418.6 M677 407 V430.3 M677.5 407 V390.3 M678 407 V421.7 M678.5 407 V428.8" fill="none" stroke="#1a1a1a" stroke-width="0.55"/>
<path d="M362.5 407 V392.8 M369.5 407 V424.3 M370.5 407 V394.2 M393 407 V388.5 M408 407 V424.4 M422 407 V434.1 M423.5 407 V429.8 M427.5 407 V387.6 M431.5 407 V443.2 M434 407 V385.4 M444 407 V437.3 M450 407 V375.9 M450.5 407 V383.9 M455 407 V424.9 M459.5 407 V445.8 M463.5 407 V373.2 M464.5 407 V375.2 M465 407 V436.6 M475.5 407 V447.9 M477.5 407 V444.1 M480.5 407 V373.1 M482 407 V428.5 M483.5 407 V383 M484 407 V383.6 M485.5 407 V437.8 M487 407 V439.1 M490 407 V370.4 M490.5 407 V435.5 M493.5 407 V448.2 M494.5 407 V444.3 M497 407 V388.1 M498.5 407 V371.6 M499.5 407 V425.2 M500 407 V365.5 M501.5 407 V436.1 M511 407 V454.9 M513 407 V366.9 M514.5 407 V448.2 M516 407 V382.8 M521.5 407 V367.1 M522 407 V367.8 M525.5 407 V374.6 M527 407 V366.6 M529 407 V438.6 M529.5 407 V439.7 M532.5 407 V379.8 M533 407 V378 M533.5 407 V379.8 M535 407 V371.8 M537 407 V452.3 M539 407 V372.5 M540 407 V426.4 M542.5 407 V429.9 M546.5 407 V383.5 M549 407 V376.9 M553 407 V433 M555 407 V387.4 M561 407 V446.8 M562 407 V431 M564.5 407 V447.7 M569.5 407 V371.7 M574 407 V438.9 M574.5 407 V442.7 M576 407 V430 M577 407 V446.6 M580.5 407 V436.5 M583 407 V439.7 M588.5 407 V375.4 M589.5 407 V383.3 M590 407 V386.2 M590.5 407 V389.3 M593 407 V424.1 M593.5 407 V437.9 M594.5 407 V428.6 M596.5 407 V438 M605.5 407 V379.7 M613 407 V449.3 M614 407 V440.3 M615 407 V445.1 M616.5 407 V370.1 M617.5 407 V375.9 M618 407 V436.8 M618.5 407 V452.1 M619.5 407 V378.2 M624.5 407 V376 M627 407 V381.7 M633 407 V377.1 M633.5 407 V370.3 M634 407 V434 M634.5 407 V434.8 M639.5 407 V447.2 M642 407 V436.7 M643.5 407 V443.6 M647 407 V380.5 M647.5 407 V447.7 M648 407 V433.9 M656 407 V370.3 M657.5 407 V425.3 M658.5 407 V430.2 M672 407 V376.9 M676 407 V426.7 M679 407 V385" fill="none" stroke="#000" stroke-width="0.75"/>
</svg></body></html>
